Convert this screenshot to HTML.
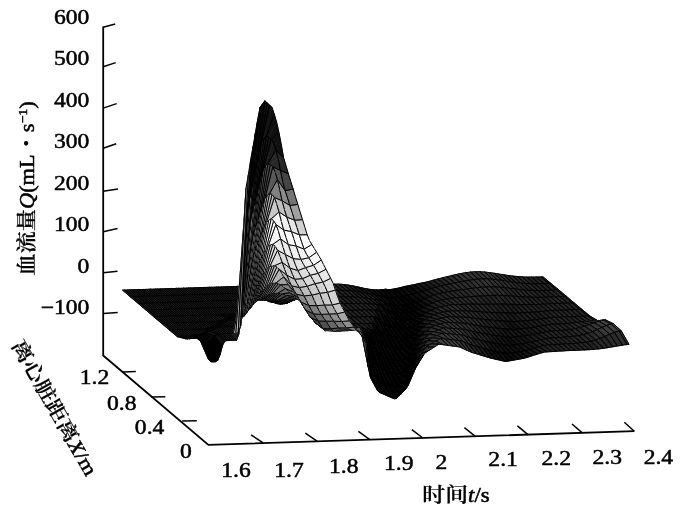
<!DOCTYPE html>
<html lang="zh"><head><meta charset="utf-8"><title>血流量</title>
<style>
html,body{margin:0;padding:0;background:#fff}
body{width:700px;height:517px;overflow:hidden}
svg{display:block}
text{font-family:"Liberation Serif","Noto Serif CJK SC",serif;fill:#000;stroke:#000;stroke-width:0.5}
.l{fill:none;stroke:#000;stroke-width:1}
.g0{fill:#000000;stroke:#000000}.g4{fill:#040404;stroke:#040404}.g8{fill:#080808;stroke:#080808}.gc{fill:#0c0c0c;stroke:#0c0c0c}.g10{fill:#101010;stroke:#101010}.g14{fill:#141414;stroke:#141414}.g18{fill:#181818;stroke:#181818}.g1c{fill:#1c1c1c;stroke:#1c1c1c}.g20{fill:#202020;stroke:#202020}.g24{fill:#242424;stroke:#242424}.g28{fill:#282828;stroke:#282828}.g2c{fill:#2c2c2c;stroke:#2c2c2c}.g30{fill:#303030;stroke:#303030}.g34{fill:#343434;stroke:#343434}.g38{fill:#383838;stroke:#383838}.g3c{fill:#3c3c3c;stroke:#3c3c3c}.g40{fill:#404040;stroke:#404040}.g44{fill:#444444;stroke:#444444}.g48{fill:#484848;stroke:#484848}.g4c{fill:#4c4c4c;stroke:#4c4c4c}.g50{fill:#505050;stroke:#505050}.g54{fill:#545454;stroke:#545454}.g58{fill:#585858;stroke:#585858}.g60{fill:#606060;stroke:#606060}.g64{fill:#646464;stroke:#646464}.g68{fill:#686868;stroke:#686868}.g6c{fill:#6c6c6c;stroke:#6c6c6c}.g70{fill:#707070;stroke:#707070}.g74{fill:#747474;stroke:#747474}.g78{fill:#787878;stroke:#787878}.g7c{fill:#7c7c7c;stroke:#7c7c7c}.g80{fill:#808080;stroke:#808080}.g84{fill:#848484;stroke:#848484}.g88{fill:#888888;stroke:#888888}.g8c{fill:#8c8c8c;stroke:#8c8c8c}.g90{fill:#909090;stroke:#909090}.g98{fill:#989898;stroke:#989898}.ga0{fill:#a0a0a0;stroke:#a0a0a0}.ga4{fill:#a4a4a4;stroke:#a4a4a4}.ga8{fill:#a8a8a8;stroke:#a8a8a8}.gac{fill:#acacac;stroke:#acacac}.gb0{fill:#b0b0b0;stroke:#b0b0b0}.gb4{fill:#b4b4b4;stroke:#b4b4b4}.gb8{fill:#b8b8b8;stroke:#b8b8b8}.gbc{fill:#bcbcbc;stroke:#bcbcbc}.gc0{fill:#c0c0c0;stroke:#c0c0c0}.gc4{fill:#c4c4c4;stroke:#c4c4c4}.gc8{fill:#c8c8c8;stroke:#c8c8c8}.gcc{fill:#cccccc;stroke:#cccccc}.gd0{fill:#d0d0d0;stroke:#d0d0d0}.gd4{fill:#d4d4d4;stroke:#d4d4d4}.gd8{fill:#d8d8d8;stroke:#d8d8d8}.gdc{fill:#dcdcdc;stroke:#dcdcdc}.ge0{fill:#e0e0e0;stroke:#e0e0e0}.ge4{fill:#e4e4e4;stroke:#e4e4e4}.ge8{fill:#e8e8e8;stroke:#e8e8e8}.gec{fill:#ececec;stroke:#ececec}.gf0{fill:#f0f0f0;stroke:#f0f0f0}.gf4{fill:#f4f4f4;stroke:#f4f4f4}.gf8{fill:#f8f8f8;stroke:#f8f8f8}.gfc{fill:#fcfcfc;stroke:#fcfcfc}.gff{fill:#ffffff;stroke:#ffffff}
.cj{font-family:"Liberation Serif","Noto Serif CJK SC",serif;font-weight:600;stroke-width:0.2}
</style></head><body>
<svg width="700" height="517" viewBox="0 0 700 517">
<rect width="700" height="517" fill="#fff"/>
<g stroke-width=".7" stroke-linejoin="round">
<path d="M548.8,283.5 550.9,283.4 543.1,276.9 541,276.9z" class="g1c"/><path d="M548.8,283.5 550.9,283.4M541,276.9 543.1,276.9M548.8,283.5 541,276.9M550.9,283.4 543.1,276.9" class="l"/>
<path d="M546.5,283.6 548.8,283.5 541,276.9 538.7,277z" class="g1c"/><path d="M546.5,283.6 548.8,283.5M538.7,277 541,276.9M548.8,283.5 541,276.9" class="l"/>
<path d="M544.1,283.7 546.5,283.6 538.7,277 536.3,277z" class="g1c"/><path d="M544.1,283.7 546.5,283.6M536.3,277 538.7,277M544.1,283.7 536.3,277" class="l"/>
<path d="M541.8,283.8 544.1,283.7 536.3,277 534,277.1z" class="g1c"/><path d="M541.8,283.8 544.1,283.7M534,277.1 536.3,277M544.1,283.7 536.3,277" class="l"/>
<path d="M539.4,283.8 541.8,283.8 534,277.1 531.6,277.1z" class="g1c"/><path d="M539.4,283.8 541.8,283.8M531.6,277.1 534,277.1M539.4,283.8 531.6,277.1" class="l"/>
<path d="M537.1,283.8 539.4,283.8 531.6,277.1 529.3,277.1z" class="g1c"/><path d="M537.1,283.8 539.4,283.8M529.3,277.1 531.6,277.1M539.4,283.8 531.6,277.1" class="l"/>
<path d="M534.7,283.8 537.1,283.8 529.3,277.1 526.9,277.1z" class="g1c"/><path d="M534.7,283.8 537.1,283.8M526.9,277.1 529.3,277.1M534.7,283.8 526.9,277.1" class="l"/>
<path d="M532.4,283.8 534.7,283.8 526.9,277.1 524.6,277z" class="g20"/><path d="M532.4,283.8 534.7,283.8M524.6,277 526.9,277.1M534.7,283.8 526.9,277.1" class="l"/>
<path d="M530,283.7 532.4,283.8 524.6,277 522.2,276.9z" class="g20"/><path d="M530,283.7 532.4,283.8M522.2,276.9 524.6,277M530,283.7 522.2,276.9" class="l"/>
<path d="M527.7,283.6 530,283.7 522.2,276.9 519.9,276.7z" class="g20"/><path d="M527.7,283.6 530,283.7M519.9,276.7 522.2,276.9M530,283.7 522.2,276.9" class="l"/>
<path d="M525.3,283.5 527.7,283.6 519.9,276.7 517.5,276.5z" class="g20"/><path d="M525.3,283.5 527.7,283.6M517.5,276.5 519.9,276.7M525.3,283.5 517.5,276.5" class="l"/>
<path d="M523,283.4 525.3,283.5 517.5,276.5 515.2,276.3z" class="g20"/><path d="M523,283.4 525.3,283.5M515.2,276.3 517.5,276.5M525.3,283.5 517.5,276.5" class="l"/>
<path d="M520.6,283.1 523,283.4 515.2,276.3 512.8,276.1z" class="g20"/><path d="M520.6,283.1 523,283.4M512.8,276.1 515.2,276.3M520.6,283.1 512.8,276.1" class="l"/>
<path d="M518.3,282.9 520.6,283.1 512.8,276.1 510.5,275.8z" class="g24"/><path d="M518.3,282.9 520.6,283.1M510.5,275.8 512.8,276.1M520.6,283.1 512.8,276.1" class="l"/>
<path d="M515.9,282.6 518.3,282.9 510.5,275.8 508.1,275.5z" class="g24"/><path d="M515.9,282.6 518.3,282.9M508.1,275.5 510.5,275.8M515.9,282.6 508.1,275.5" class="l"/>
<path d="M513.6,282.2 515.9,282.6 508.1,275.5 505.8,275.1z" class="g24"/><path d="M513.6,282.2 515.9,282.6M505.8,275.1 508.1,275.5M515.9,282.6 508.1,275.5" class="l"/>
<path d="M511.2,281.9 513.6,282.2 505.8,275.1 503.4,274.7z" class="g24"/><path d="M511.2,281.9 513.6,282.2M503.4,274.7 505.8,275.1M511.2,281.9 503.4,274.7" class="l"/>
<path d="M508.9,281.5 511.2,281.9 503.4,274.7 501.1,274.4z" class="g28"/><path d="M508.9,281.5 511.2,281.9M501.1,274.4 503.4,274.7M511.2,281.9 503.4,274.7" class="l"/>
<path d="M506.5,281.2 508.9,281.5 501.1,274.4 498.7,274z" class="g28"/><path d="M506.5,281.2 508.9,281.5M498.7,274 501.1,274.4M506.5,281.2 498.7,274" class="l"/>
<path d="M504.2,280.8 506.5,281.2 498.7,274 496.4,273.6z" class="g28"/><path d="M504.2,280.8 506.5,281.2M496.4,273.6 498.7,274M506.5,281.2 498.7,274" class="l"/>
<path d="M501.8,280.4 504.2,280.8 496.4,273.6 494,273.2z" class="g28"/><path d="M501.8,280.4 504.2,280.8M494,273.2 496.4,273.6M501.8,280.4 494,273.2" class="l"/>
<path d="M499.5,280.1 501.8,280.4 494,273.2 491.7,272.9z" class="g2c"/><path d="M499.5,280.1 501.8,280.4M491.7,272.9 494,273.2M501.8,280.4 494,273.2" class="l"/>
<path d="M497.1,279.8 499.5,280.1 491.7,272.9 489.3,272.6z" class="g2c"/><path d="M497.1,279.8 499.5,280.1M489.3,272.6 491.7,272.9M497.1,279.8 489.3,272.6" class="l"/>
<path d="M494.8,279.5 497.1,279.8 489.3,272.6 487,272.3z" class="g30"/><path d="M494.8,279.5 497.1,279.8M487,272.3 489.3,272.6M497.1,279.8 489.3,272.6" class="l"/>
<path d="M492.4,279.3 494.8,279.5 487,272.3 484.6,272z" class="g30"/><path d="M492.4,279.3 494.8,279.5M484.6,272 487,272.3M492.4,279.3 484.6,272" class="l"/>
<path d="M490.1,279.1 492.4,279.3 484.6,272 482.2,271.9z" class="g30"/><path d="M490.1,279.1 492.4,279.3M482.2,271.9 484.6,272M492.4,279.3 484.6,272" class="l"/>
<path d="M487.7,279 490.1,279.1 482.2,271.9 479.9,271.7z" class="g30"/><path d="M487.7,279 490.1,279.1M479.9,271.7 482.2,271.9M487.7,279 479.9,271.7" class="l"/>
<path d="M485.4,278.9 487.7,279 479.9,271.7 477.5,271.7z" class="g30"/><path d="M485.4,278.9 487.7,279M477.5,271.7 479.9,271.7M487.7,279 479.9,271.7" class="l"/>
<path d="M483,278.9 485.4,278.9 477.5,271.7 475.2,271.8z" class="g30"/><path d="M483,278.9 485.4,278.9M475.2,271.8 477.5,271.7M483,278.9 475.2,271.8" class="l"/>
<path d="M480.7,279 483,278.9 475.2,271.8 472.8,271.9z" class="g30"/><path d="M480.7,279 483,278.9M472.8,271.9 475.2,271.8M483,278.9 475.2,271.8" class="l"/>
<path d="M478.3,279.1 480.7,279 472.8,271.9 470.5,272.1z" class="g30"/><path d="M478.3,279.1 480.7,279M470.5,272.1 472.8,271.9M478.3,279.1 470.5,272.1" class="l"/>
<path d="M476,279.3 478.3,279.1 470.5,272.1 468.1,272.4z" class="g30"/><path d="M476,279.3 478.3,279.1M468.1,272.4 470.5,272.1M478.3,279.1 470.5,272.1" class="l"/>
<path d="M473.6,279.6 476,279.3 468.1,272.4 465.8,272.7z" class="g30"/><path d="M473.6,279.6 476,279.3M465.8,272.7 468.1,272.4M473.6,279.6 465.8,272.7" class="l"/>
<path d="M471.2,280 473.6,279.6 465.8,272.7 463.4,273.1z" class="g30"/><path d="M471.2,280 473.6,279.6M463.4,273.1 465.8,272.7M473.6,279.6 465.8,272.7" class="l"/>
<path d="M468.9,280.3 471.2,280 463.4,273.1 461.1,273.5z" class="g30"/><path d="M468.9,280.3 471.2,280M461.1,273.5 463.4,273.1M468.9,280.3 461.1,273.5" class="l"/>
<path d="M466.5,280.7 468.9,280.3 461.1,273.5 458.7,273.9z" class="g2c"/><path d="M466.5,280.7 468.9,280.3M458.7,273.9 461.1,273.5M468.9,280.3 461.1,273.5" class="l"/>
<path d="M464.2,281.1 466.5,280.7 458.7,273.9 456.4,274.5z" class="g2c"/><path d="M464.2,281.1 466.5,280.7M456.4,274.5 458.7,273.9M464.2,281.1 456.4,274.5" class="l"/>
<path d="M461.8,281.6 464.2,281.1 456.4,274.5 454,275z" class="g28"/><path d="M461.8,281.6 464.2,281.1M454,275 456.4,274.5M464.2,281.1 456.4,274.5" class="l"/>
<path d="M459.5,282 461.8,281.6 454,275 451.7,275.6z" class="g28"/><path d="M459.5,282 461.8,281.6M451.7,275.6 454,275M459.5,282 451.7,275.6" class="l"/>
<path d="M457.1,282.4 459.5,282 451.7,275.6 449.3,276.2z" class="g28"/><path d="M457.1,282.4 459.5,282M449.3,276.2 451.7,275.6M459.5,282 451.7,275.6" class="l"/>
<path d="M454.8,282.9 457.1,282.4 449.3,276.2 447,276.7z" class="g28"/><path d="M454.8,282.9 457.1,282.4M447,276.7 449.3,276.2M454.8,282.9 447,276.7" class="l"/>
<path d="M452.4,283.4 454.8,282.9 447,276.7 444.6,277.3z" class="g24"/><path d="M452.4,283.4 454.8,282.9M444.6,277.3 447,276.7M454.8,282.9 447,276.7" class="l"/>
<path d="M450.1,284 452.4,283.4 444.6,277.3 442.3,277.9z" class="g24"/><path d="M450.1,284 452.4,283.4M442.3,277.9 444.6,277.3M450.1,284 442.3,277.9" class="l"/>
<path d="M447.7,284.5 450.1,284 442.3,277.9 439.9,278.5z" class="g20"/><path d="M447.7,284.5 450.1,284M439.9,278.5 442.3,277.9M450.1,284 442.3,277.9" class="l"/>
<path d="M445.4,284.9 447.7,284.5 439.9,278.5 437.6,279.1z" class="g20"/><path d="M445.4,284.9 447.7,284.5M437.6,279.1 439.9,278.5M445.4,284.9 437.6,279.1" class="l"/>
<path d="M443,285.4 445.4,284.9 437.6,279.1 435.2,279.7z" class="g20"/><path d="M443,285.4 445.4,284.9M435.2,279.7 437.6,279.1M445.4,284.9 437.6,279.1" class="l"/>
<path d="M440.7,285.9 443,285.4 435.2,279.7 432.9,280.3z" class="g20"/><path d="M440.7,285.9 443,285.4M432.9,280.3 435.2,279.7M440.7,285.9 432.9,280.3" class="l"/>
<path d="M438.3,286.5 440.7,285.9 432.9,280.3 430.5,281z" class="g1c"/><path d="M438.3,286.5 440.7,285.9M430.5,281 432.9,280.3M440.7,285.9 432.9,280.3" class="l"/>
<path d="M436,287.2 438.3,286.5 430.5,281 428.2,281.6z" class="g1c"/><path d="M436,287.2 438.3,286.5M428.2,281.6 430.5,281M436,287.2 428.2,281.6" class="l"/>
<path d="M433.6,287.8 436,287.2 428.2,281.6 425.8,282.2z" class="g18"/><path d="M433.6,287.8 436,287.2M425.8,282.2 428.2,281.6M436,287.2 428.2,281.6" class="l"/>
<path d="M431.3,288.5 433.6,287.8 425.8,282.2 423.5,282.7z" class="g18"/><path d="M431.3,288.5 433.6,287.8M423.5,282.7 425.8,282.2M431.3,288.5 423.5,282.7" class="l"/>
<path d="M428.9,289.3 431.3,288.5 423.5,282.7 421.1,283.1z" class="g14"/><path d="M428.9,289.3 431.3,288.5M421.1,283.1 423.5,282.7M431.3,288.5 423.5,282.7" class="l"/>
<path d="M426.6,290.1 428.9,289.3 421.1,283.1 418.8,283.6z" class="g14"/><path d="M426.6,290.1 428.9,289.3M418.8,283.6 421.1,283.1M426.6,290.1 418.8,283.6" class="l"/>
<path d="M424.2,290.9 426.6,290.1 418.8,283.6 416.4,284.1z" class="g10"/><path d="M424.2,290.9 426.6,290.1M416.4,284.1 418.8,283.6M426.6,290.1 418.8,283.6" class="l"/>
<path d="M421.9,291.5 424.2,290.9 416.4,284.1 414.1,284.7z" class="g10"/><path d="M421.9,291.5 424.2,290.9M414.1,284.7 416.4,284.1M421.9,291.5 414.1,284.7" class="l"/>
<path d="M419.5,292.1 421.9,291.5 414.1,284.7 411.7,285.1z" class="gc"/><path d="M419.5,292.1 421.9,291.5M411.7,285.1 414.1,284.7M421.9,291.5 414.1,284.7" class="l"/>
<path d="M417.2,292.8 419.5,292.1 411.7,285.1 409.4,285.5z" class="gc"/><path d="M417.2,292.8 419.5,292.1M409.4,285.5 411.7,285.1M417.2,292.8 409.4,285.5" class="l"/>
<path d="M414.8,293.5 417.2,292.8 409.4,285.5 407,286z" class="g8"/><path d="M414.8,293.5 417.2,292.8M407,286 409.4,285.5M417.2,292.8 409.4,285.5" class="l"/>
<path d="M412.5,294.2 414.8,293.5 407,286 404.7,286.5z" class="g8"/><path d="M412.5,294.2 414.8,293.5M404.7,286.5 407,286M412.5,294.2 404.7,286.5" class="l"/>
<path d="M556.7,289.9 558.7,289.8 550.9,283.4 548.8,283.5z" class="g1c"/><path d="M556.7,289.9 558.7,289.8M548.8,283.5 550.9,283.4M556.7,289.9 548.8,283.5M558.7,289.8 550.9,283.4" class="l"/>
<path d="M410.1,294.7 412.5,294.2 404.7,286.5 402.3,287.1z" class="g8"/><path d="M410.1,294.7 412.5,294.2M402.3,287.1 404.7,286.5M412.5,294.2 404.7,286.5" class="l"/>
<path d="M554.3,290.1 556.7,289.9 548.8,283.5 546.5,283.6z" class="g1c"/><path d="M554.3,290.1 556.7,289.9M546.5,283.6 548.8,283.5M556.7,289.9 548.8,283.5" class="l"/>
<path d="M407.8,295.3 410.1,294.7 402.3,287.1 399.9,287.7z" class="g8"/><path d="M407.8,295.3 410.1,294.7M399.9,287.7 402.3,287.1M407.8,295.3 399.9,287.7" class="l"/>
<path d="M552,290.2 554.3,290.1 546.5,283.6 544.1,283.7z" class="g1c"/><path d="M552,290.2 554.3,290.1M544.1,283.7 546.5,283.6M552,290.2 544.1,283.7" class="l"/>
<path d="M405.4,295.8 407.8,295.3 399.9,287.7 397.6,288.3z" class="g4"/><path d="M405.4,295.8 407.8,295.3M397.6,288.3 399.9,287.7M407.8,295.3 399.9,287.7" class="l"/>
<path d="M403.1,296.4 405.4,295.8 397.6,288.3 395.2,288.7z" class="g4"/><path d="M403.1,296.4 405.4,295.8M395.2,288.7 397.6,288.3M403.1,296.4 395.2,288.7" class="l"/>
<path d="M549.6,290.3 552,290.2 544.1,283.7 541.8,283.8z" class="g1c"/><path d="M549.6,290.3 552,290.2M541.8,283.8 544.1,283.7M552,290.2 544.1,283.7" class="l"/>
<path d="M400.7,296.9 403.1,296.4 395.2,288.7 392.9,289.1z" class="g0"/><path d="M400.7,296.9 403.1,296.4M392.9,289.1 395.2,288.7M403.1,296.4 395.2,288.7" class="l"/>
<path d="M547.3,290.4 549.6,290.3 541.8,283.8 539.4,283.8z" class="g1c"/><path d="M547.3,290.4 549.6,290.3M539.4,283.8 541.8,283.8M547.3,290.4 539.4,283.8" class="l"/>
<path d="M398.4,297.4 400.7,296.9 392.9,289.1 390.5,289.5z" class="g0"/><path d="M398.4,297.4 400.7,296.9M390.5,289.5 392.9,289.1M398.4,297.4 390.5,289.5" class="l"/>
<path d="M544.9,290.4 547.3,290.4 539.4,283.8 537.1,283.8z" class="g1c"/><path d="M544.9,290.4 547.3,290.4M537.1,283.8 539.4,283.8M547.3,290.4 539.4,283.8" class="l"/>
<path d="M396,297.8 398.4,297.4 390.5,289.5 388.2,289.7z" class="g0"/><path d="M396,297.8 398.4,297.4M388.2,289.7 390.5,289.5M398.4,297.4 390.5,289.5" class="l"/>
<path d="M542.5,290.5 544.9,290.4 537.1,283.8 534.7,283.8z" class="g1c"/><path d="M542.5,290.5 544.9,290.4M534.7,283.8 537.1,283.8M542.5,290.5 534.7,283.8" class="l"/>
<path d="M393.7,298 396,297.8 388.2,289.7 385.8,289.1z" class="g0"/><path d="M393.7,298 396,297.8M385.8,289.1 388.2,289.7M393.7,298 385.8,289.1" class="l"/>
<path d="M540.2,290.6 542.5,290.5 534.7,283.8 532.4,283.8z" class="g1c"/><path d="M540.2,290.6 542.5,290.5M532.4,283.8 534.7,283.8M542.5,290.5 534.7,283.8" class="l"/>
<path d="M391.3,298 393.7,298 385.8,289.1 383.5,289.5z" class="g0"/><path d="M391.3,298 393.7,298M383.5,289.5 385.8,289.1M393.7,298 385.8,289.1" class="l"/>
<path d="M537.8,290.5 540.2,290.6 532.4,283.8 530,283.7z" class="g1c"/><path d="M537.8,290.5 540.2,290.6M530,283.7 532.4,283.8M537.8,290.5 530,283.7" class="l"/>
<path d="M388.9,297.9 391.3,298 383.5,289.5 381.1,289.8z" class="g0"/><path d="M388.9,297.9 391.3,298M381.1,289.8 383.5,289.5M388.9,297.9 381.1,289.8" class="l"/>
<path d="M535.5,290.5 537.8,290.5 530,283.7 527.7,283.6z" class="g20"/><path d="M535.5,290.5 537.8,290.5M527.7,283.6 530,283.7M537.8,290.5 530,283.7" class="l"/>
<path d="M386.6,297.6 388.9,297.9 381.1,289.8 378.8,289.9z" class="g8"/><path d="M386.6,297.6 388.9,297.9M378.8,289.9 381.1,289.8M388.9,297.9 381.1,289.8" class="l"/>
<path d="M533.1,290.4 535.5,290.5 527.7,283.6 525.3,283.5z" class="g20"/><path d="M533.1,290.4 535.5,290.5M525.3,283.5 527.7,283.6M533.1,290.4 525.3,283.5" class="l"/>
<path d="M384.2,296.2 386.6,297.6 378.8,289.9 376.4,289.9z" class="g8"/><path d="M384.2,296.2 386.6,297.6M376.4,289.9 378.8,289.9M384.2,296.2 376.4,289.9" class="l"/>
<path d="M530.8,290.4 533.1,290.4 525.3,283.5 523,283.4z" class="g20"/><path d="M530.8,290.4 533.1,290.4M523,283.4 525.3,283.5M533.1,290.4 525.3,283.5" class="l"/>
<path d="M381.9,296 384.2,296.2 376.4,289.9 374.1,289.8z" class="g8"/><path d="M381.9,296 384.2,296.2M374.1,289.8 376.4,289.9M384.2,296.2 376.4,289.9" class="l"/>
<path d="M528.4,290.2 530.8,290.4 523,283.4 520.6,283.1z" class="g20"/><path d="M528.4,290.2 530.8,290.4M520.6,283.1 523,283.4M528.4,290.2 520.6,283.1" class="l"/>
<path d="M379.5,295.8 381.9,296 374.1,289.8 371.7,289.6z" class="g8"/><path d="M379.5,295.8 381.9,296M371.7,289.6 374.1,289.8M379.5,295.8 371.7,289.6" class="l"/>
<path d="M526.1,290.1 528.4,290.2 520.6,283.1 518.3,282.9z" class="g20"/><path d="M526.1,290.1 528.4,290.2M518.3,282.9 520.6,283.1M528.4,290.2 520.6,283.1" class="l"/>
<path d="M377.2,295.5 379.5,295.8 371.7,289.6 369.4,289.3z" class="g8"/><path d="M377.2,295.5 379.5,295.8M369.4,289.3 371.7,289.6M379.5,295.8 371.7,289.6" class="l"/>
<path d="M523.7,290 526.1,290.1 518.3,282.9 515.9,282.6z" class="g20"/><path d="M523.7,290 526.1,290.1M515.9,282.6 518.3,282.9M523.7,290 515.9,282.6" class="l"/>
<path d="M374.8,295.1 377.2,295.5 369.4,289.3 367,288.9z" class="g8"/><path d="M374.8,295.1 377.2,295.5M367,288.9 369.4,289.3M374.8,295.1 367,288.9" class="l"/>
<path d="M521.4,289.8 523.7,290 515.9,282.6 513.6,282.2z" class="g20"/><path d="M521.4,289.8 523.7,290M513.6,282.2 515.9,282.6M523.7,290 515.9,282.6" class="l"/>
<path d="M372.5,294.7 374.8,295.1 367,288.9 364.7,288.5z" class="g10"/><path d="M372.5,294.7 374.8,295.1M364.7,288.5 367,288.9M374.8,295.1 367,288.9" class="l"/>
<path d="M519,289.5 521.4,289.8 513.6,282.2 511.2,281.9z" class="g20"/><path d="M519,289.5 521.4,289.8M511.2,281.9 513.6,282.2M519,289.5 511.2,281.9" class="l"/>
<path d="M370.1,294.2 372.5,294.7 364.7,288.5 362.3,288z" class="g10"/><path d="M370.1,294.2 372.5,294.7M362.3,288 364.7,288.5M370.1,294.2 362.3,288" class="l"/>
<path d="M516.7,289.2 519,289.5 511.2,281.9 508.9,281.5z" class="g24"/><path d="M516.7,289.2 519,289.5M508.9,281.5 511.2,281.9M519,289.5 511.2,281.9" class="l"/>
<path d="M367.8,293.8 370.1,294.2 362.3,288 360,287.4z" class="g10"/><path d="M367.8,293.8 370.1,294.2M360,287.4 362.3,288M370.1,294.2 362.3,288" class="l"/>
<path d="M514.3,288.9 516.7,289.2 508.9,281.5 506.5,281.2z" class="g24"/><path d="M514.3,288.9 516.7,289.2M506.5,281.2 508.9,281.5M514.3,288.9 506.5,281.2" class="l"/>
<path d="M365.4,293.3 367.8,293.8 360,287.4 357.6,286.9z" class="g10"/><path d="M365.4,293.3 367.8,293.8M357.6,286.9 360,287.4M365.4,293.3 357.6,286.9" class="l"/>
<path d="M512,288.5 514.3,288.9 506.5,281.2 504.2,280.8z" class="g28"/><path d="M512,288.5 514.3,288.9M504.2,280.8 506.5,281.2M514.3,288.9 506.5,281.2" class="l"/>
<path d="M363.1,292.8 365.4,293.3 357.6,286.9 355.3,286.4z" class="g14"/><path d="M363.1,292.8 365.4,293.3M355.3,286.4 357.6,286.9M365.4,293.3 357.6,286.9" class="l"/>
<path d="M509.6,288.2 512,288.5 504.2,280.8 501.8,280.4z" class="g28"/><path d="M509.6,288.2 512,288.5M501.8,280.4 504.2,280.8M509.6,288.2 501.8,280.4" class="l"/>
<path d="M360.7,292.3 363.1,292.8 355.3,286.4 352.9,285.9z" class="g14"/><path d="M360.7,292.3 363.1,292.8M352.9,285.9 355.3,286.4M360.7,292.3 352.9,285.9" class="l"/>
<path d="M507.3,288 509.6,288.2 501.8,280.4 499.5,280.1z" class="g28"/><path d="M507.3,288 509.6,288.2M499.5,280.1 501.8,280.4M509.6,288.2 501.8,280.4" class="l"/>
<path d="M504.9,287.7 507.3,288 499.5,280.1 497.1,279.8z" class="g28"/><path d="M504.9,287.7 507.3,288M497.1,279.8 499.5,280.1M504.9,287.7 497.1,279.8" class="l"/>
<path d="M358.4,291.9 360.7,292.3 352.9,285.9 350.6,285.5z" class="g18"/><path d="M358.4,291.9 360.7,292.3M350.6,285.5 352.9,285.9M360.7,292.3 352.9,285.9" class="l"/>
<path d="M502.6,287.4 504.9,287.7 497.1,279.8 494.8,279.5z" class="g2c"/><path d="M502.6,287.4 504.9,287.7M494.8,279.5 497.1,279.8M504.9,287.7 497.1,279.8" class="l"/>
<path d="M356,291.6 358.4,291.9 350.6,285.5 348.2,285.1z" class="g18"/><path d="M356,291.6 358.4,291.9M348.2,285.1 350.6,285.5M356,291.6 348.2,285.1" class="l"/>
<path d="M500.2,287.2 502.6,287.4 494.8,279.5 492.4,279.3z" class="g2c"/><path d="M500.2,287.2 502.6,287.4M492.4,279.3 494.8,279.5M500.2,287.2 492.4,279.3" class="l"/>
<path d="M353.7,291.3 356,291.6 348.2,285.1 345.9,284.7z" class="g18"/><path d="M353.7,291.3 356,291.6M345.9,284.7 348.2,285.1M356,291.6 348.2,285.1" class="l"/>
<path d="M497.9,287.1 500.2,287.2 492.4,279.3 490.1,279.1z" class="g2c"/><path d="M497.9,287.1 500.2,287.2M490.1,279.1 492.4,279.3M500.2,287.2 492.4,279.3" class="l"/>
<path d="M351.3,291 353.7,291.3 345.9,284.7 343.5,284.5z" class="g18"/><path d="M351.3,291 353.7,291.3M343.5,284.5 345.9,284.7M351.3,291 343.5,284.5" class="l"/>
<path d="M495.5,287 497.9,287.1 490.1,279.1 487.7,279z" class="g2c"/><path d="M495.5,287 497.9,287.1M487.7,279 490.1,279.1M495.5,287 487.7,279" class="l"/>
<path d="M349,290.8 351.3,291 343.5,284.5 341.2,284.2z" class="g1c"/><path d="M349,290.8 351.3,291M341.2,284.2 343.5,284.5M351.3,291 343.5,284.5" class="l"/>
<path d="M493.2,286.9 495.5,287 487.7,279 485.4,278.9z" class="g2c"/><path d="M493.2,286.9 495.5,287M485.4,278.9 487.7,279M495.5,287 487.7,279" class="l"/>
<path d="M346.6,290.6 349,290.8 341.2,284.2 338.8,284.2z" class="g1c"/><path d="M346.6,290.6 349,290.8M338.8,284.2 341.2,284.2M346.6,290.6 338.8,284.2" class="l"/>
<path d="M490.8,286.9 493.2,286.9 485.4,278.9 483,278.9z" class="g2c"/><path d="M490.8,286.9 493.2,286.9M483,278.9 485.4,278.9M490.8,286.9 483,278.9" class="l"/>
<path d="M344.3,290.5 346.6,290.6 338.8,284.2 336.5,284.2z" class="g1c"/><path d="M344.3,290.5 346.6,290.6M336.5,284.2 338.8,284.2M346.6,290.6 338.8,284.2" class="l"/>
<path d="M488.5,286.9 490.8,286.9 483,278.9 480.7,279z" class="g2c"/><path d="M488.5,286.9 490.8,286.9M480.7,279 483,278.9M490.8,286.9 483,278.9" class="l"/>
<path d="M341.9,290.4 344.3,290.5 336.5,284.2 334.1,284.1z" class="g1c"/><path d="M341.9,290.4 344.3,290.5M334.1,284.1 336.5,284.2M341.9,290.4 334.1,284.1" class="l"/>
<path d="M486.1,287 488.5,286.9 480.7,279 478.3,279.1z" class="g2c"/><path d="M486.1,287 488.5,286.9M478.3,279.1 480.7,279M486.1,287 478.3,279.1" class="l"/>
<path d="M339.6,290.4 341.9,290.4 334.1,284.1 331.8,284.4z" class="g1c"/><path d="M339.6,290.4 341.9,290.4M331.8,284.4 334.1,284.1M341.9,290.4 334.1,284.1" class="l"/>
<path d="M483.8,287.2 486.1,287 478.3,279.1 476,279.3z" class="g2c"/><path d="M483.8,287.2 486.1,287M476,279.3 478.3,279.1M486.1,287 478.3,279.1" class="l"/>
<path d="M337.2,290.4 339.6,290.4 331.8,284.4 329.4,284.6z" class="g1c"/><path d="M337.2,290.4 339.6,290.4M329.4,284.6 331.8,284.4M337.2,290.4 329.4,284.6" class="l"/>
<path d="M481.4,287.3 483.8,287.2 476,279.3 473.6,279.6z" class="g2c"/><path d="M481.4,287.3 483.8,287.2M473.6,279.6 476,279.3M481.4,287.3 473.6,279.6" class="l"/>
<path d="M334.9,290.5 337.2,290.4 329.4,284.6 327.1,284.9z" class="g1c"/><path d="M334.9,290.5 337.2,290.4M327.1,284.9 329.4,284.6M337.2,290.4 329.4,284.6" class="l"/>
<path d="M479.1,287.5 481.4,287.3 473.6,279.6 471.2,280z" class="g2c"/><path d="M479.1,287.5 481.4,287.3M471.2,280 473.6,279.6M481.4,287.3 473.6,279.6" class="l"/>
<path d="M332.5,290.6 334.9,290.5 327.1,284.9 324.7,285.2z" class="g1c"/><path d="M332.5,290.6 334.9,290.5M324.7,285.2 327.1,284.9M332.5,290.6 324.7,285.2" class="l"/>
<path d="M476.7,287.7 479.1,287.5 471.2,280 468.9,280.3z" class="g2c"/><path d="M476.7,287.7 479.1,287.5M468.9,280.3 471.2,280M476.7,287.7 468.9,280.3" class="l"/>
<path d="M330.2,290.6 332.5,290.6 324.7,285.2 322.4,286.2z" class="g1c"/><path d="M330.2,290.6 332.5,290.6M322.4,286.2 324.7,285.2M332.5,290.6 324.7,285.2" class="l"/>
<path d="M474.4,288 476.7,287.7 468.9,280.3 466.5,280.7z" class="g28"/><path d="M474.4,288 476.7,287.7M466.5,280.7 468.9,280.3M476.7,287.7 468.9,280.3" class="l"/>
<path d="M327.8,290.9 330.2,290.6 322.4,286.2 320,286.9z" class="g1c"/><path d="M327.8,290.9 330.2,290.6M320,286.9 322.4,286.2M327.8,290.9 320,286.9" class="l"/>
<path d="M472,288.3 474.4,288 466.5,280.7 464.2,281.1z" class="g28"/><path d="M472,288.3 474.4,288M464.2,281.1 466.5,280.7M472,288.3 464.2,281.1" class="l"/>
<path d="M325.5,291.1 327.8,290.9 320,286.9 317.6,287.6z" class="g1c"/><path d="M325.5,291.1 327.8,290.9M317.6,287.6 320,286.9M327.8,290.9 320,286.9" class="l"/>
<path d="M469.7,288.7 472,288.3 464.2,281.1 461.8,281.6z" class="g28"/><path d="M469.7,288.7 472,288.3M461.8,281.6 464.2,281.1M472,288.3 464.2,281.1" class="l"/>
<path d="M323.1,291.4 325.5,291.1 317.6,287.6 315.3,288.6z" class="g1c"/><path d="M323.1,291.4 325.5,291.1M315.3,288.6 317.6,287.6M323.1,291.4 315.3,288.6" class="l"/>
<path d="M320.8,292 323.1,291.4 315.3,288.6 312.9,289.6z" class="g18"/><path d="M320.8,292 323.1,291.4M312.9,289.6 315.3,288.6M323.1,291.4 315.3,288.6" class="l"/>
<path d="M467.3,289 469.7,288.7 461.8,281.6 459.5,282z" class="g28"/><path d="M467.3,289 469.7,288.7M459.5,282 461.8,281.6M467.3,289 459.5,282" class="l"/>
<path d="M318.4,292.4 320.8,292 312.9,289.6 310.6,290.7z" class="g18"/><path d="M318.4,292.4 320.8,292M310.6,290.7 312.9,289.6M318.4,292.4 310.6,290.7" class="l"/>
<path d="M465,289.4 467.3,289 459.5,282 457.1,282.4z" class="g28"/><path d="M465,289.4 467.3,289M457.1,282.4 459.5,282M467.3,289 459.5,282" class="l"/>
<path d="M316.1,292.8 318.4,292.4 310.6,290.7 308.2,291.8z" class="g14"/><path d="M316.1,292.8 318.4,292.4M308.2,291.8 310.6,290.7M318.4,292.4 310.6,290.7" class="l"/>
<path d="M313.7,293.5 316.1,292.8 308.2,291.8 305.9,293.1z" class="g14"/><path d="M313.7,293.5 316.1,292.8M305.9,293.1 308.2,291.8M313.7,293.5 305.9,293.1" class="l"/>
<path d="M462.6,289.7 465,289.4 457.1,282.4 454.8,282.9z" class="g28"/><path d="M462.6,289.7 465,289.4M454.8,282.9 457.1,282.4M462.6,289.7 454.8,282.9" class="l"/>
<path d="M311.4,294.1 313.7,293.5 305.9,293.1 303.5,294.4z" class="g10"/><path d="M311.4,294.1 313.7,293.5M303.5,294.4 305.9,293.1M313.7,293.5 305.9,293.1" class="l"/>
<path d="M460.2,290 462.6,289.7 454.8,282.9 452.4,283.4z" class="g28"/><path d="M460.2,290 462.6,289.7M452.4,283.4 454.8,282.9M462.6,289.7 454.8,282.9" class="l"/>
<path d="M309,294.7 311.4,294.1 303.5,294.4 301.2,295.6z" class="g10"/><path d="M309,294.7 311.4,294.1M301.2,295.6 303.5,294.4M309,294.7 301.2,295.6" class="l"/>
<path d="M306.6,295.4 309,294.7 301.2,295.6 298.8,297z" class="g10"/><path d="M306.6,295.4 309,294.7M298.8,297 301.2,295.6M309,294.7 301.2,295.6" class="l"/>
<path d="M457.9,290.3 460.2,290 452.4,283.4 450.1,284z" class="g28"/><path d="M457.9,290.3 460.2,290M450.1,284 452.4,283.4M457.9,290.3 450.1,284" class="l"/>
<path d="M304.3,296.2 306.6,295.4 298.8,297 296.5,298.5z" class="g10"/><path d="M304.3,296.2 306.6,295.4M296.5,298.5 298.8,297M304.3,296.2 296.5,298.5" class="l"/>
<path d="M301.9,297 304.3,296.2 296.5,298.5 294.1,299.7z" class="g8"/><path d="M301.9,297 304.3,296.2M294.1,299.7 296.5,298.5M304.3,296.2 296.5,298.5" class="l"/>
<path d="M455.5,290.6 457.9,290.3 450.1,284 447.7,284.5z" class="g24"/><path d="M455.5,290.6 457.9,290.3M447.7,284.5 450.1,284M457.9,290.3 450.1,284" class="l"/>
<path d="M299.6,297.7 301.9,297 294.1,299.7 291.8,300.8z" class="g8"/><path d="M299.6,297.7 301.9,297M291.8,300.8 294.1,299.7M299.6,297.7 291.8,300.8" class="l"/>
<path d="M297.2,298.5 299.6,297.7 291.8,300.8 289.4,302.1z" class="g4"/><path d="M297.2,298.5 299.6,297.7M289.4,302.1 291.8,300.8M299.6,297.7 291.8,300.8" class="l"/>
<path d="M453.2,290.9 455.5,290.6 447.7,284.5 445.4,284.9z" class="g24"/><path d="M453.2,290.9 455.5,290.6M445.4,284.9 447.7,284.5M453.2,290.9 445.4,284.9" class="l"/>
<path d="M294.9,299.4 297.2,298.5 289.4,302.1 287.1,303.2z" class="g4"/><path d="M294.9,299.4 297.2,298.5M287.1,303.2 289.4,302.1M294.9,299.4 287.1,303.2" class="l"/>
<path d="M292.5,300.2 294.9,299.4 287.1,303.2 284.7,303.7z" class="g0"/><path d="M292.5,300.2 294.9,299.4M284.7,303.7 287.1,303.2M294.9,299.4 287.1,303.2" class="l"/>
<path d="M450.8,291.4 453.2,290.9 445.4,284.9 443,285.4z" class="g20"/><path d="M450.8,291.4 453.2,290.9M443,285.4 445.4,284.9M453.2,290.9 445.4,284.9" class="l"/>
<path d="M290.2,300.9 292.5,300.2 284.7,303.7 282.4,303.9z" class="g0"/><path d="M290.2,300.9 292.5,300.2M282.4,303.9 284.7,303.7M290.2,300.9 282.4,303.9" class="l"/>
<path d="M448.5,291.8 450.8,291.4 443,285.4 440.7,285.9z" class="g20"/><path d="M448.5,291.8 450.8,291.4M440.7,285.9 443,285.4M448.5,291.8 440.7,285.9" class="l"/>
<path d="M287.8,301.7 290.2,300.9 282.4,303.9 280,304.2z" class="g0"/><path d="M287.8,301.7 290.2,300.9M280,304.2 282.4,303.9M290.2,300.9 282.4,303.9" class="l"/>
<path d="M446.1,292.2 448.5,291.8 440.7,285.9 438.3,286.5z" class="g20"/><path d="M446.1,292.2 448.5,291.8M438.3,286.5 440.7,285.9M448.5,291.8 440.7,285.9" class="l"/>
<path d="M285.5,302.4 287.8,301.7 280,304.2 277.7,303.7z" class="g0"/><path d="M285.5,302.4 287.8,301.7M277.7,303.7 280,304.2M285.5,302.4 277.7,303.7" class="l"/>
<path d="M443.8,292.7 446.1,292.2 438.3,286.5 436,287.2z" class="g20"/><path d="M443.8,292.7 446.1,292.2M436,287.2 438.3,286.5M443.8,292.7 436,287.2" class="l"/>
<path d="M441.4,293.1 443.8,292.7 436,287.2 433.6,287.8z" class="g1c"/><path d="M441.4,293.1 443.8,292.7M433.6,287.8 436,287.2M443.8,292.7 436,287.2" class="l"/>
<path d="M283.1,302.8 285.5,302.4 277.7,303.7 275.3,302.6z" class="g0"/><path d="M283.1,302.8 285.5,302.4M275.3,302.6 277.7,303.7M283.1,302.8 275.3,302.6M285.5,302.4 277.7,303.7" class="l"/>
<path d="M439.1,293.6 441.4,293.1 433.6,287.8 431.3,288.5z" class="g1c"/><path d="M439.1,293.6 441.4,293.1M431.3,288.5 433.6,287.8M439.1,293.6 431.3,288.5" class="l"/>
<path d="M436.7,294.4 439.1,293.6 431.3,288.5 428.9,289.3z" class="g18"/><path d="M436.7,294.4 439.1,293.6M428.9,289.3 431.3,288.5M439.1,293.6 431.3,288.5" class="l"/>
<path d="M280.8,303 283.1,302.8 275.3,302.6 273,301.9z" class="g0"/><path d="M280.8,303 283.1,302.8M273,301.9 275.3,302.6M280.8,303 273,301.9M283.1,302.8 275.3,302.6" class="l"/>
<path d="M434.4,295.1 436.7,294.4 428.9,289.3 426.6,290.1z" class="g18"/><path d="M434.4,295.1 436.7,294.4M426.6,290.1 428.9,289.3M434.4,295.1 426.6,290.1" class="l"/>
<path d="M432,295.8 434.4,295.1 426.6,290.1 424.2,290.9z" class="g14"/><path d="M432,295.8 434.4,295.1M424.2,290.9 426.6,290.1M434.4,295.1 426.6,290.1" class="l"/>
<path d="M278.4,303.2 280.8,303 273,301.9 270.6,300.9z" class="g0"/><path d="M278.4,303.2 280.8,303M270.6,300.9 273,301.9M278.4,303.2 270.6,300.9M280.8,303 273,301.9" class="l"/>
<path d="M429.7,296.8 432,295.8 424.2,290.9 421.9,291.5z" class="g14"/><path d="M429.7,296.8 432,295.8M421.9,291.5 424.2,290.9M429.7,296.8 421.9,291.5" class="l"/>
<path d="M427.3,297.8 429.7,296.8 421.9,291.5 419.5,292.1z" class="g10"/><path d="M427.3,297.8 429.7,296.8M419.5,292.1 421.9,291.5M429.7,296.8 421.9,291.5" class="l"/>
<path d="M425,298.8 427.3,297.8 419.5,292.1 417.2,292.8z" class="g10"/><path d="M425,298.8 427.3,297.8M417.2,292.8 419.5,292.1M425,298.8 417.2,292.8" class="l"/>
<path d="M276.1,303 278.4,303.2 270.6,300.9 268.3,299.1z" class="g0"/><path d="M276.1,303 278.4,303.2M268.3,299.1 270.6,300.9M276.1,303 268.3,299.1M278.4,303.2 270.6,300.9" class="l"/>
<path d="M422.6,299.9 425,298.8 417.2,292.8 414.8,293.5z" class="g8"/><path d="M422.6,299.9 425,298.8M414.8,293.5 417.2,292.8M425,298.8 417.2,292.8" class="l"/>
<path d="M420.3,300.7 422.6,299.9 414.8,293.5 412.5,294.2z" class="g8"/><path d="M420.3,300.7 422.6,299.9M412.5,294.2 414.8,293.5M420.3,300.7 412.5,294.2" class="l"/>
<path d="M564.5,296.5 566.5,296.4 558.7,289.8 556.7,289.9z" class="g20"/><path d="M564.5,296.5 566.5,296.4M556.7,289.9 558.7,289.8M564.5,296.5 556.7,289.9M566.5,296.4 558.7,289.8" class="l"/>
<path d="M417.9,301.5 420.3,300.7 412.5,294.2 410.1,294.7z" class="g8"/><path d="M417.9,301.5 420.3,300.7M410.1,294.7 412.5,294.2M420.3,300.7 412.5,294.2" class="l"/>
<path d="M273.7,302.5 276.1,303 268.3,299.1 265.9,297.5z" class="g0"/><path d="M273.7,302.5 276.1,303M265.9,297.5 268.3,299.1M273.7,302.5 265.9,297.5M276.1,303 268.3,299.1" class="l"/>
<path d="M415.6,302.3 417.9,301.5 410.1,294.7 407.8,295.3z" class="g8"/><path d="M415.6,302.3 417.9,301.5M407.8,295.3 410.1,294.7M415.6,302.3 407.8,295.3" class="l"/>
<path d="M562.1,296.5 564.5,296.5 556.7,289.9 554.3,290.1z" class="g20"/><path d="M562.1,296.5 564.5,296.5M554.3,290.1 556.7,289.9M564.5,296.5 556.7,289.9" class="l"/>
<path d="M413.2,303.1 415.6,302.3 407.8,295.3 405.4,295.8z" class="g0"/><path d="M413.2,303.1 415.6,302.3M405.4,295.8 407.8,295.3M415.6,302.3 407.8,295.3" class="l"/>
<path d="M559.8,296.6 562.1,296.5 554.3,290.1 552,290.2z" class="g20"/><path d="M559.8,296.6 562.1,296.5M552,290.2 554.3,290.1M559.8,296.6 552,290.2" class="l"/>
<path d="M410.9,303.9 413.2,303.1 405.4,295.8 403.1,296.4z" class="g0"/><path d="M410.9,303.9 413.2,303.1M403.1,296.4 405.4,295.8M410.9,303.9 403.1,296.4" class="l"/>
<path d="M271.4,302 273.7,302.5 265.9,297.5 263.6,296.5z" class="g0"/><path d="M271.4,302 273.7,302.5M263.6,296.5 265.9,297.5M271.4,302 263.6,296.5M273.7,302.5 265.9,297.5" class="l"/>
<path d="M408.5,304.3 410.9,303.9 403.1,296.4 400.7,296.9z" class="g0"/><path d="M408.5,304.3 410.9,303.9M400.7,296.9 403.1,296.4M410.9,303.9 403.1,296.4" class="l"/>
<path d="M557.4,296.6 559.8,296.6 552,290.2 549.6,290.3z" class="g20"/><path d="M557.4,296.6 559.8,296.6M549.6,290.3 552,290.2M559.8,296.6 552,290.2" class="l"/>
<path d="M406.2,304.7 408.5,304.3 400.7,296.9 398.4,297.4z" class="g0"/><path d="M406.2,304.7 408.5,304.3M398.4,297.4 400.7,296.9M406.2,304.7 398.4,297.4" class="l"/>
<path d="M555.1,296.8 557.4,296.6 549.6,290.3 547.3,290.4z" class="g20"/><path d="M555.1,296.8 557.4,296.6M547.3,290.4 549.6,290.3M555.1,296.8 547.3,290.4" class="l"/>
<path d="M269,301.5 271.4,302 263.6,296.5 261.2,294z" class="g4"/><path d="M269,301.5 271.4,302M261.2,294 263.6,296.5M269,301.5 261.2,294M271.4,302 263.6,296.5" class="l"/>
<path d="M403.8,305 406.2,304.7 398.4,297.4 396,297.8z" class="g0"/><path d="M403.8,305 406.2,304.7M396,297.8 398.4,297.4M406.2,304.7 398.4,297.4" class="l"/>
<path d="M552.7,296.9 555.1,296.8 547.3,290.4 544.9,290.4z" class="g1c"/><path d="M552.7,296.9 555.1,296.8M544.9,290.4 547.3,290.4M555.1,296.8 547.3,290.4" class="l"/>
<path d="M401.5,305.3 403.8,305 396,297.8 393.7,298z" class="g0"/><path d="M401.5,305.3 403.8,305M393.7,298 396,297.8M401.5,305.3 393.7,298" class="l"/>
<path d="M550.4,297 552.7,296.9 544.9,290.4 542.5,290.5z" class="g1c"/><path d="M550.4,297 552.7,296.9M542.5,290.5 544.9,290.4M550.4,297 542.5,290.5" class="l"/>
<path d="M266.7,300.4 269,301.5 261.2,294 258.9,291.6z" class="g4"/><path d="M266.7,300.4 269,301.5M258.9,291.6 261.2,294M266.7,300.4 258.9,291.6M269,301.5 261.2,294" class="l"/>
<path d="M399.1,305.5 401.5,305.3 393.7,298 391.3,298z" class="g0"/><path d="M399.1,305.5 401.5,305.3M391.3,298 393.7,298M401.5,305.3 393.7,298" class="l"/>
<path d="M548,297.1 550.4,297 542.5,290.5 540.2,290.6z" class="g1c"/><path d="M548,297.1 550.4,297M540.2,290.6 542.5,290.5M550.4,297 542.5,290.5" class="l"/>
<path d="M396.8,305.6 399.1,305.5 391.3,298 388.9,297.9z" class="g0"/><path d="M396.8,305.6 399.1,305.5M388.9,297.9 391.3,298M396.8,305.6 388.9,297.9" class="l"/>
<path d="M545.7,297.2 548,297.1 540.2,290.6 537.8,290.5z" class="g1c"/><path d="M545.7,297.2 548,297.1M537.8,290.5 540.2,290.6M545.7,297.2 537.8,290.5" class="l"/>
<path d="M264.3,299.5 266.7,300.4 258.9,291.6 256.5,290.5z" class="g8"/><path d="M264.3,299.5 266.7,300.4M256.5,290.5 258.9,291.6M264.3,299.5 256.5,290.5M266.7,300.4 258.9,291.6" class="l"/>
<path d="M394.4,305.6 396.8,305.6 388.9,297.9 386.6,297.6z" class="g0"/><path d="M394.4,305.6 396.8,305.6M386.6,297.6 388.9,297.9M396.8,305.6 388.9,297.9" class="l"/>
<path d="M543.3,297.3 545.7,297.2 537.8,290.5 535.5,290.5z" class="g1c"/><path d="M543.3,297.3 545.7,297.2M535.5,290.5 537.8,290.5M545.7,297.2 537.8,290.5" class="l"/>
<path d="M392.1,305.2 394.4,305.6 386.6,297.6 384.2,296.2z" class="g0"/><path d="M392.1,305.2 394.4,305.6M384.2,296.2 386.6,297.6M392.1,305.2 384.2,296.2" class="l"/>
<path d="M262,298.8 264.3,299.5 256.5,290.5 254.2,289.5z" class="g8"/><path d="M262,298.8 264.3,299.5M254.2,289.5 256.5,290.5M262,298.8 254.2,289.5M264.3,299.5 256.5,290.5" class="l"/>
<path d="M541,297.3 543.3,297.3 535.5,290.5 533.1,290.4z" class="g1c"/><path d="M541,297.3 543.3,297.3M533.1,290.4 535.5,290.5M541,297.3 533.1,290.4" class="l"/>
<path d="M538.6,297.4 541,297.3 533.1,290.4 530.8,290.4z" class="g20"/><path d="M538.6,297.4 541,297.3M530.8,290.4 533.1,290.4M541,297.3 533.1,290.4" class="l"/>
<path d="M389.7,304.6 392.1,305.2 384.2,296.2 381.9,296z" class="g4"/><path d="M389.7,304.6 392.1,305.2M381.9,296 384.2,296.2M392.1,305.2 384.2,296.2" class="l"/>
<path d="M259.6,297.4 262,298.8 254.2,289.5 251.8,288.3z" class="g14"/><path d="M259.6,297.4 262,298.8M251.8,288.3 254.2,289.5M259.6,297.4 251.8,288.3M262,298.8 254.2,289.5" class="l"/>
<path d="M536.3,297.3 538.6,297.4 530.8,290.4 528.4,290.2z" class="g20"/><path d="M536.3,297.3 538.6,297.4M528.4,290.2 530.8,290.4M536.3,297.3 528.4,290.2" class="l"/>
<path d="M387.4,303.9 389.7,304.6 381.9,296 379.5,295.8z" class="g4"/><path d="M387.4,303.9 389.7,304.6M379.5,295.8 381.9,296M387.4,303.9 379.5,295.8" class="l"/>
<path d="M257.3,296 259.6,297.4 251.8,288.3 249.5,287.6z" class="g14"/><path d="M257.3,296 259.6,297.4M249.5,287.6 251.8,288.3M257.3,296 249.5,287.6M259.6,297.4 251.8,288.3" class="l"/>
<path d="M533.9,297.3 536.3,297.3 528.4,290.2 526.1,290.1z" class="g20"/><path d="M533.9,297.3 536.3,297.3M526.1,290.1 528.4,290.2M536.3,297.3 528.4,290.2" class="l"/>
<path d="M385,303.2 387.4,303.9 379.5,295.8 377.2,295.5z" class="gc"/><path d="M385,303.2 387.4,303.9M377.2,295.5 379.5,295.8M387.4,303.9 379.5,295.8" class="l"/>
<path d="M531.5,297.2 533.9,297.3 526.1,290.1 523.7,290z" class="g20"/><path d="M531.5,297.2 533.9,297.3M523.7,290 526.1,290.1M531.5,297.2 523.7,290" class="l"/>
<path d="M254.9,295.4 257.3,296 249.5,287.6 247.1,287.3z" class="g18"/><path d="M254.9,295.4 257.3,296M247.1,287.3 249.5,287.6M254.9,295.4 247.1,287.3M257.3,296 249.5,287.6" class="l"/>
<path d="M382.7,301 385,303.2 377.2,295.5 374.8,295.1z" class="gc"/><path d="M382.7,301 385,303.2M374.8,295.1 377.2,295.5M382.7,301 374.8,295.1" class="l"/>
<path d="M529.2,297.1 531.5,297.2 523.7,290 521.4,289.8z" class="g20"/><path d="M529.2,297.1 531.5,297.2M521.4,289.8 523.7,290M531.5,297.2 523.7,290" class="l"/>
<path d="M252.6,294.7 254.9,295.4 247.1,287.3 244.8,286.8z" class="g18"/><path d="M252.6,294.7 254.9,295.4M244.8,286.8 247.1,287.3M252.6,294.7 244.8,286.8M254.9,295.4 247.1,287.3" class="l"/>
<path d="M526.8,297.1 529.2,297.1 521.4,289.8 519,289.5z" class="g20"/><path d="M526.8,297.1 529.2,297.1M519,289.5 521.4,289.8M526.8,297.1 519,289.5" class="l"/>
<path d="M380.3,300.4 382.7,301 374.8,295.1 372.5,294.7z" class="g10"/><path d="M380.3,300.4 382.7,301M372.5,294.7 374.8,295.1M382.7,301 374.8,295.1" class="l"/>
<path d="M250.2,294.1 252.6,294.7 244.8,286.8 242.4,286.4z" class="g1c"/><path d="M250.2,294.1 252.6,294.7M242.4,286.4 244.8,286.8M250.2,294.1 242.4,286.4M252.6,294.7 244.8,286.8" class="l"/>
<path d="M524.5,297 526.8,297.1 519,289.5 516.7,289.2z" class="g20"/><path d="M524.5,297 526.8,297.1M516.7,289.2 519,289.5M526.8,297.1 519,289.5" class="l"/>
<path d="M377.9,300 380.3,300.4 372.5,294.7 370.1,294.2z" class="g10"/><path d="M377.9,300 380.3,300.4M370.1,294.2 372.5,294.7M377.9,300 370.1,294.2" class="l"/>
<path d="M247.9,293.8 250.2,294.1 242.4,286.4 240.1,286.4z" class="g1c"/><path d="M247.9,293.8 250.2,294.1M240.1,286.4 242.4,286.4M247.9,293.8 240.1,286.4M250.2,294.1 242.4,286.4" class="l"/>
<path d="M522.1,296.9 524.5,297 516.7,289.2 514.3,288.9z" class="g20"/><path d="M522.1,296.9 524.5,297M514.3,288.9 516.7,289.2M522.1,296.9 514.3,288.9" class="l"/>
<path d="M375.6,299.6 377.9,300 370.1,294.2 367.8,293.8z" class="g14"/><path d="M375.6,299.6 377.9,300M367.8,293.8 370.1,294.2M377.9,300 370.1,294.2" class="l"/>
<path d="M245.5,293.6 247.9,293.8 240.1,286.4 237.7,286.4z" class="g1c"/><path d="M245.5,293.6 247.9,293.8M237.7,286.4 240.1,286.4M245.5,293.6 237.7,286.4M247.9,293.8 240.1,286.4" class="l"/>
<path d="M519.8,296.8 522.1,296.9 514.3,288.9 512,288.5z" class="g20"/><path d="M519.8,296.8 522.1,296.9M512,288.5 514.3,288.9M522.1,296.9 514.3,288.9" class="l"/>
<path d="M373.2,299.2 375.6,299.6 367.8,293.8 365.4,293.3z" class="g14"/><path d="M373.2,299.2 375.6,299.6M365.4,293.3 367.8,293.8M373.2,299.2 365.4,293.3" class="l"/>
<path d="M243.2,293.3 245.5,293.6 237.7,286.4 235.3,286.5z" class="g1c"/><path d="M243.2,293.3 245.5,293.6M235.3,286.5 237.7,286.4M243.2,293.3 235.3,286.5M245.5,293.6 237.7,286.4" class="l"/>
<path d="M517.4,296.5 519.8,296.8 512,288.5 509.6,288.2z" class="g20"/><path d="M517.4,296.5 519.8,296.8M509.6,288.2 512,288.5M517.4,296.5 509.6,288.2" class="l"/>
<path d="M240.8,293.2 243.2,293.3 235.3,286.5 233,286.6z" class="g1c"/><path d="M240.8,293.2 243.2,293.3M233,286.6 235.3,286.5M240.8,293.2 233,286.6M243.2,293.3 235.3,286.5" class="l"/>
<path d="M370.9,298.8 373.2,299.2 365.4,293.3 363.1,292.8z" class="g18"/><path d="M370.9,298.8 373.2,299.2M363.1,292.8 365.4,293.3M373.2,299.2 365.4,293.3" class="l"/>
<path d="M515.1,296.3 517.4,296.5 509.6,288.2 507.3,288z" class="g24"/><path d="M515.1,296.3 517.4,296.5M507.3,288 509.6,288.2M517.4,296.5 509.6,288.2" class="l"/>
<path d="M238.5,293.3 240.8,293.2 233,286.6 230.6,286.7z" class="g1c"/><path d="M238.5,293.3 240.8,293.2M230.6,286.7 233,286.6M238.5,293.3 230.6,286.7M240.8,293.2 233,286.6" class="l"/>
<path d="M368.5,298.5 370.9,298.8 363.1,292.8 360.7,292.3z" class="g18"/><path d="M368.5,298.5 370.9,298.8M360.7,292.3 363.1,292.8M368.5,298.5 360.7,292.3" class="l"/>
<path d="M512.7,296.1 515.1,296.3 507.3,288 504.9,287.7z" class="g24"/><path d="M512.7,296.1 515.1,296.3M504.9,287.7 507.3,288M512.7,296.1 504.9,287.7" class="l"/>
<path d="M236.1,293.4 238.5,293.3 230.6,286.7 228.3,286.7z" class="g1c"/><path d="M236.1,293.4 238.5,293.3M228.3,286.7 230.6,286.7M236.1,293.4 228.3,286.7M238.5,293.3 230.6,286.7" class="l"/>
<path d="M366.2,298.1 368.5,298.5 360.7,292.3 358.4,291.9z" class="g18"/><path d="M366.2,298.1 368.5,298.5M358.4,291.9 360.7,292.3M368.5,298.5 360.7,292.3" class="l"/>
<path d="M510.4,295.9 512.7,296.1 504.9,287.7 502.6,287.4z" class="g24"/><path d="M510.4,295.9 512.7,296.1M502.6,287.4 504.9,287.7M512.7,296.1 504.9,287.7" class="l"/>
<path d="M233.8,293.4 236.1,293.4 228.3,286.7 225.9,286.8z" class="g1c"/><path d="M233.8,293.4 236.1,293.4M225.9,286.8 228.3,286.7M233.8,293.4 225.9,286.8M236.1,293.4 228.3,286.7" class="l"/>
<path d="M231.4,293.5 233.8,293.4 225.9,286.8 223.6,286.9z" class="g1c"/><path d="M231.4,293.5 233.8,293.4M223.6,286.9 225.9,286.8M231.4,293.5 223.6,286.9M233.8,293.4 225.9,286.8" class="l"/>
<path d="M508,295.7 510.4,295.9 502.6,287.4 500.2,287.2z" class="g24"/><path d="M508,295.7 510.4,295.9M500.2,287.2 502.6,287.4M508,295.7 500.2,287.2" class="l"/>
<path d="M363.8,297.9 366.2,298.1 358.4,291.9 356,291.6z" class="g18"/><path d="M363.8,297.9 366.2,298.1M356,291.6 358.4,291.9M363.8,297.9 356,291.6" class="l"/>
<path d="M229.1,293.6 231.4,293.5 223.6,286.9 221.2,287z" class="g1c"/><path d="M229.1,293.6 231.4,293.5M221.2,287 223.6,286.9M229.1,293.6 221.2,287M231.4,293.5 223.6,286.9" class="l"/>
<path d="M505.7,295.6 508,295.7 500.2,287.2 497.9,287.1z" class="g28"/><path d="M505.7,295.6 508,295.7M497.9,287.1 500.2,287.2M508,295.7 500.2,287.2" class="l"/>
<path d="M361.5,297.6 363.8,297.9 356,291.6 353.7,291.3z" class="g18"/><path d="M361.5,297.6 363.8,297.9M353.7,291.3 356,291.6M363.8,297.9 356,291.6" class="l"/>
<path d="M226.7,293.7 229.1,293.6 221.2,287 218.9,287z" class="g1c"/><path d="M226.7,293.7 229.1,293.6M218.9,287 221.2,287M226.7,293.7 218.9,287M229.1,293.6 221.2,287" class="l"/>
<path d="M503.3,295.5 505.7,295.6 497.9,287.1 495.5,287z" class="g28"/><path d="M503.3,295.5 505.7,295.6M495.5,287 497.9,287.1M503.3,295.5 495.5,287" class="l"/>
<path d="M359.1,297.4 361.5,297.6 353.7,291.3 351.3,291z" class="g18"/><path d="M359.1,297.4 361.5,297.6M351.3,291 353.7,291.3M359.1,297.4 351.3,291" class="l"/>
<path d="M224.3,293.8 226.7,293.7 218.9,287 216.5,287.1z" class="g1c"/><path d="M224.3,293.8 226.7,293.7M216.5,287.1 218.9,287M224.3,293.8 216.5,287.1M226.7,293.7 218.9,287" class="l"/>
<path d="M501,295.4 503.3,295.5 495.5,287 493.2,286.9z" class="g28"/><path d="M501,295.4 503.3,295.5M493.2,286.9 495.5,287M503.3,295.5 495.5,287" class="l"/>
<path d="M356.8,297.2 359.1,297.4 351.3,291 349,290.8z" class="g1c"/><path d="M356.8,297.2 359.1,297.4M349,290.8 351.3,291M359.1,297.4 351.3,291" class="l"/>
<path d="M222,293.8 224.3,293.8 216.5,287.1 214.2,287.2z" class="g1c"/><path d="M222,293.8 224.3,293.8M214.2,287.2 216.5,287.1M222,293.8 214.2,287.2M224.3,293.8 216.5,287.1" class="l"/>
<path d="M498.6,295.4 501,295.4 493.2,286.9 490.8,286.9z" class="g28"/><path d="M498.6,295.4 501,295.4M490.8,286.9 493.2,286.9M498.6,295.4 490.8,286.9" class="l"/>
<path d="M354.4,297.1 356.8,297.2 349,290.8 346.6,290.6z" class="g1c"/><path d="M354.4,297.1 356.8,297.2M346.6,290.6 349,290.8M354.4,297.1 346.6,290.6" class="l"/>
<path d="M219.6,293.9 222,293.8 214.2,287.2 211.8,287.3z" class="g1c"/><path d="M219.6,293.9 222,293.8M211.8,287.3 214.2,287.2M219.6,293.9 211.8,287.3M222,293.8 214.2,287.2" class="l"/>
<path d="M496.3,295.4 498.6,295.4 490.8,286.9 488.5,286.9z" class="g28"/><path d="M496.3,295.4 498.6,295.4M488.5,286.9 490.8,286.9M498.6,295.4 490.8,286.9" class="l"/>
<path d="M352.1,297 354.4,297.1 346.6,290.6 344.3,290.5z" class="g1c"/><path d="M352.1,297 354.4,297.1M344.3,290.5 346.6,290.6M354.4,297.1 346.6,290.6" class="l"/>
<path d="M217.3,294 219.6,293.9 211.8,287.3 209.5,287.3z" class="g1c"/><path d="M217.3,294 219.6,293.9M209.5,287.3 211.8,287.3M217.3,294 209.5,287.3M219.6,293.9 211.8,287.3" class="l"/>
<path d="M493.9,295.4 496.3,295.4 488.5,286.9 486.1,287z" class="g28"/><path d="M493.9,295.4 496.3,295.4M486.1,287 488.5,286.9M493.9,295.4 486.1,287" class="l"/>
<path d="M214.9,294.1 217.3,294 209.5,287.3 207.1,287.4z" class="g1c"/><path d="M214.9,294.1 217.3,294M207.1,287.4 209.5,287.3M214.9,294.1 207.1,287.4M217.3,294 209.5,287.3" class="l"/>
<path d="M349.7,297 352.1,297 344.3,290.5 341.9,290.4z" class="g1c"/><path d="M349.7,297 352.1,297M341.9,290.4 344.3,290.5M349.7,297 341.9,290.4" class="l"/>
<path d="M491.6,295.5 493.9,295.4 486.1,287 483.8,287.2z" class="g28"/><path d="M491.6,295.5 493.9,295.4M483.8,287.2 486.1,287M493.9,295.4 486.1,287" class="l"/>
<path d="M212.6,294.1 214.9,294.1 207.1,287.4 204.8,287.5z" class="g1c"/><path d="M212.6,294.1 214.9,294.1M204.8,287.5 207.1,287.4M212.6,294.1 204.8,287.5M214.9,294.1 207.1,287.4" class="l"/>
<path d="M347.4,297 349.7,297 341.9,290.4 339.6,290.4z" class="g1c"/><path d="M347.4,297 349.7,297M339.6,290.4 341.9,290.4M349.7,297 341.9,290.4" class="l"/>
<path d="M489.2,295.6 491.6,295.5 483.8,287.2 481.4,287.3z" class="g28"/><path d="M489.2,295.6 491.6,295.5M481.4,287.3 483.8,287.2M489.2,295.6 481.4,287.3" class="l"/>
<path d="M210.2,294.2 212.6,294.1 204.8,287.5 202.4,287.6z" class="g1c"/><path d="M210.2,294.2 212.6,294.1M202.4,287.6 204.8,287.5M210.2,294.2 202.4,287.6M212.6,294.1 204.8,287.5" class="l"/>
<path d="M345,297 347.4,297 339.6,290.4 337.2,290.4z" class="g1c"/><path d="M345,297 347.4,297M337.2,290.4 339.6,290.4M345,297 337.2,290.4" class="l"/>
<path d="M486.9,295.7 489.2,295.6 481.4,287.3 479.1,287.5z" class="g28"/><path d="M486.9,295.7 489.2,295.6M479.1,287.5 481.4,287.3M489.2,295.6 481.4,287.3" class="l"/>
<path d="M207.9,294.3 210.2,294.2 202.4,287.6 200.1,287.6z" class="g1c"/><path d="M207.9,294.3 210.2,294.2M200.1,287.6 202.4,287.6M207.9,294.3 200.1,287.6M210.2,294.2 202.4,287.6" class="l"/>
<path d="M342.7,297 345,297 337.2,290.4 334.9,290.5z" class="g1c"/><path d="M342.7,297 345,297M334.9,290.5 337.2,290.4M345,297 337.2,290.4" class="l"/>
<path d="M484.5,295.9 486.9,295.7 479.1,287.5 476.7,287.7z" class="g28"/><path d="M484.5,295.9 486.9,295.7M476.7,287.7 479.1,287.5M484.5,295.9 476.7,287.7" class="l"/>
<path d="M205.5,294.4 207.9,294.3 200.1,287.6 197.7,287.7z" class="g1c"/><path d="M205.5,294.4 207.9,294.3M197.7,287.7 200.1,287.6M205.5,294.4 197.7,287.7M207.9,294.3 200.1,287.6" class="l"/>
<path d="M340.3,297 342.7,297 334.9,290.5 332.5,290.6z" class="g1c"/><path d="M340.3,297 342.7,297M332.5,290.6 334.9,290.5M340.3,297 332.5,290.6" class="l"/>
<path d="M482.2,296 484.5,295.9 476.7,287.7 474.4,288z" class="g28"/><path d="M482.2,296 484.5,295.9M474.4,288 476.7,287.7M484.5,295.9 476.7,287.7" class="l"/>
<path d="M203.2,294.4 205.5,294.4 197.7,287.7 195.4,287.8z" class="g1c"/><path d="M203.2,294.4 205.5,294.4M195.4,287.8 197.7,287.7M203.2,294.4 195.4,287.8M205.5,294.4 197.7,287.7" class="l"/>
<path d="M479.8,296.1 482.2,296 474.4,288 472,288.3z" class="g28"/><path d="M479.8,296.1 482.2,296M472,288.3 474.4,288M479.8,296.1 472,288.3" class="l"/>
<path d="M338,297.1 340.3,297 332.5,290.6 330.2,290.6z" class="g1c"/><path d="M338,297.1 340.3,297M330.2,290.6 332.5,290.6M340.3,297 332.5,290.6" class="l"/>
<path d="M200.8,294.5 203.2,294.4 195.4,287.8 193,287.9z" class="g1c"/><path d="M200.8,294.5 203.2,294.4M193,287.9 195.4,287.8M200.8,294.5 193,287.9M203.2,294.4 195.4,287.8" class="l"/>
<path d="M477.5,296.2 479.8,296.1 472,288.3 469.7,288.7z" class="g28"/><path d="M477.5,296.2 479.8,296.1M469.7,288.7 472,288.3M479.8,296.1 472,288.3" class="l"/>
<path d="M335.6,297.1 338,297.1 330.2,290.6 327.8,290.9z" class="g1c"/><path d="M335.6,297.1 338,297.1M327.8,290.9 330.2,290.6M335.6,297.1 327.8,290.9" class="l"/>
<path d="M198.5,294.6 200.8,294.5 193,287.9 190.7,287.9z" class="g1c"/><path d="M198.5,294.6 200.8,294.5M190.7,287.9 193,287.9M198.5,294.6 190.7,287.9M200.8,294.5 193,287.9" class="l"/>
<path d="M475.1,296.3 477.5,296.2 469.7,288.7 467.3,289z" class="g28"/><path d="M475.1,296.3 477.5,296.2M467.3,289 469.7,288.7M475.1,296.3 467.3,289" class="l"/>
<path d="M333.3,297.2 335.6,297.1 327.8,290.9 325.5,291.1z" class="g1c"/><path d="M333.3,297.2 335.6,297.1M325.5,291.1 327.8,290.9M335.6,297.1 327.8,290.9" class="l"/>
<path d="M472.8,296.5 475.1,296.3 467.3,289 465,289.4z" class="g28"/><path d="M472.8,296.5 475.1,296.3M465,289.4 467.3,289M475.1,296.3 467.3,289" class="l"/>
<path d="M196.1,294.7 198.5,294.6 190.7,287.9 188.3,288z" class="g1c"/><path d="M196.1,294.7 198.5,294.6M188.3,288 190.7,287.9M196.1,294.7 188.3,288M198.5,294.6 190.7,287.9" class="l"/>
<path d="M330.9,297.2 333.3,297.2 325.5,291.1 323.1,291.4z" class="g1c"/><path d="M330.9,297.2 333.3,297.2M323.1,291.4 325.5,291.1M330.9,297.2 323.1,291.4" class="l"/>
<path d="M470.4,296.7 472.8,296.5 465,289.4 462.6,289.7z" class="g28"/><path d="M470.4,296.7 472.8,296.5M462.6,289.7 465,289.4M470.4,296.7 462.6,289.7" class="l"/>
<path d="M193.8,294.7 196.1,294.7 188.3,288 186,288.1z" class="g1c"/><path d="M193.8,294.7 196.1,294.7M186,288.1 188.3,288M193.8,294.7 186,288.1M196.1,294.7 188.3,288" class="l"/>
<path d="M328.6,297.3 330.9,297.2 323.1,291.4 320.8,292z" class="g1c"/><path d="M328.6,297.3 330.9,297.2M320.8,292 323.1,291.4M330.9,297.2 323.1,291.4" class="l"/>
<path d="M468.1,296.9 470.4,296.7 462.6,289.7 460.2,290z" class="g24"/><path d="M468.1,296.9 470.4,296.7M460.2,290 462.6,289.7M470.4,296.7 462.6,289.7" class="l"/>
<path d="M326.2,297.4 328.6,297.3 320.8,292 318.4,292.4z" class="g1c"/><path d="M326.2,297.4 328.6,297.3M318.4,292.4 320.8,292M326.2,297.4 318.4,292.4" class="l"/>
<path d="M191.4,294.8 193.8,294.7 186,288.1 183.6,288.2z" class="g1c"/><path d="M191.4,294.8 193.8,294.7M183.6,288.2 186,288.1M191.4,294.8 183.6,288.2M193.8,294.7 186,288.1" class="l"/>
<path d="M465.7,297.1 468.1,296.9 460.2,290 457.9,290.3z" class="g24"/><path d="M465.7,297.1 468.1,296.9M457.9,290.3 460.2,290M465.7,297.1 457.9,290.3" class="l"/>
<path d="M323.9,297.5 326.2,297.4 318.4,292.4 316.1,292.8z" class="g1c"/><path d="M323.9,297.5 326.2,297.4M316.1,292.8 318.4,292.4M326.2,297.4 318.4,292.4" class="l"/>
<path d="M189.1,294.9 191.4,294.8 183.6,288.2 181.3,288.3z" class="g1c"/><path d="M189.1,294.9 191.4,294.8M181.3,288.3 183.6,288.2M189.1,294.9 181.3,288.3M191.4,294.8 183.6,288.2" class="l"/>
<path d="M463.4,297.3 465.7,297.1 457.9,290.3 455.5,290.6z" class="g24"/><path d="M463.4,297.3 465.7,297.1M455.5,290.6 457.9,290.3M465.7,297.1 457.9,290.3" class="l"/>
<path d="M321.5,297.6 323.9,297.5 316.1,292.8 313.7,293.5z" class="g1c"/><path d="M321.5,297.6 323.9,297.5M313.7,293.5 316.1,292.8M321.5,297.6 313.7,293.5" class="l"/>
<path d="M186.7,295 189.1,294.9 181.3,288.3 178.9,288.3z" class="g1c"/><path d="M186.7,295 189.1,294.9M178.9,288.3 181.3,288.3M186.7,295 178.9,288.3M189.1,294.9 181.3,288.3" class="l"/>
<path d="M461,297.5 463.4,297.3 455.5,290.6 453.2,290.9z" class="g24"/><path d="M461,297.5 463.4,297.3M453.2,290.9 455.5,290.6M461,297.5 453.2,290.9" class="l"/>
<path d="M319.2,297.7 321.5,297.6 313.7,293.5 311.4,294.1z" class="g1c"/><path d="M319.2,297.7 321.5,297.6M311.4,294.1 313.7,293.5M321.5,297.6 313.7,293.5" class="l"/>
<path d="M184.4,295 186.7,295 178.9,288.3 176.6,288.4z" class="g1c"/><path d="M184.4,295 186.7,295M176.6,288.4 178.9,288.3M184.4,295 176.6,288.4M186.7,295 178.9,288.3" class="l"/>
<path d="M458.7,297.7 461,297.5 453.2,290.9 450.8,291.4z" class="g24"/><path d="M458.7,297.7 461,297.5M450.8,291.4 453.2,290.9M461,297.5 453.2,290.9" class="l"/>
<path d="M316.8,297.8 319.2,297.7 311.4,294.1 309,294.7z" class="g1c"/><path d="M316.8,297.8 319.2,297.7M309,294.7 311.4,294.1M316.8,297.8 309,294.7" class="l"/>
<path d="M182,295.1 184.4,295 176.6,288.4 174.2,288.5z" class="g1c"/><path d="M182,295.1 184.4,295M174.2,288.5 176.6,288.4M182,295.1 174.2,288.5M184.4,295 176.6,288.4" class="l"/>
<path d="M314.5,297.9 316.8,297.8 309,294.7 306.6,295.4z" class="g1c"/><path d="M314.5,297.9 316.8,297.8M306.6,295.4 309,294.7M316.8,297.8 309,294.7" class="l"/>
<path d="M456.3,297.8 458.7,297.7 450.8,291.4 448.5,291.8z" class="g24"/><path d="M456.3,297.8 458.7,297.7M448.5,291.8 450.8,291.4M456.3,297.8 448.5,291.8" class="l"/>
<path d="M312.1,298 314.5,297.9 306.6,295.4 304.3,296.2z" class="g1c"/><path d="M312.1,298 314.5,297.9M304.3,296.2 306.6,295.4M312.1,298 304.3,296.2" class="l"/>
<path d="M454,298 456.3,297.8 448.5,291.8 446.1,292.2z" class="g24"/><path d="M454,298 456.3,297.8M446.1,292.2 448.5,291.8M456.3,297.8 448.5,291.8" class="l"/>
<path d="M179.7,295.2 182,295.1 174.2,288.5 171.9,288.6z" class="g1c"/><path d="M179.7,295.2 182,295.1M171.9,288.6 174.2,288.5M179.7,295.2 171.9,288.6M182,295.1 174.2,288.5" class="l"/>
<path d="M309.8,298.1 312.1,298 304.3,296.2 301.9,297z" class="g1c"/><path d="M309.8,298.1 312.1,298M301.9,297 304.3,296.2M312.1,298 304.3,296.2" class="l"/>
<path d="M451.6,298.2 454,298 446.1,292.2 443.8,292.7z" class="g24"/><path d="M451.6,298.2 454,298M443.8,292.7 446.1,292.2M451.6,298.2 443.8,292.7" class="l"/>
<path d="M177.3,295.3 179.7,295.2 171.9,288.6 169.5,288.6z" class="g1c"/><path d="M177.3,295.3 179.7,295.2M169.5,288.6 171.9,288.6M177.3,295.3 169.5,288.6M179.7,295.2 171.9,288.6" class="l"/>
<path d="M307.4,298.3 309.8,298.1 301.9,297 299.6,297.7z" class="g1c"/><path d="M307.4,298.3 309.8,298.1M299.6,297.7 301.9,297M307.4,298.3 299.6,297.7" class="l"/>
<path d="M449.2,298.7 451.6,298.2 443.8,292.7 441.4,293.1z" class="g20"/><path d="M449.2,298.7 451.6,298.2M441.4,293.1 443.8,292.7M451.6,298.2 443.8,292.7" class="l"/>
<path d="M175,295.3 177.3,295.3 169.5,288.6 167.2,288.7z" class="g1c"/><path d="M175,295.3 177.3,295.3M167.2,288.7 169.5,288.6M175,295.3 167.2,288.7M177.3,295.3 169.5,288.6" class="l"/>
<path d="M305.1,298.4 307.4,298.3 299.6,297.7 297.2,298.5z" class="g1c"/><path d="M305.1,298.4 307.4,298.3M297.2,298.5 299.6,297.7M307.4,298.3 299.6,297.7" class="l"/>
<path d="M446.9,299.1 449.2,298.7 441.4,293.1 439.1,293.6z" class="g20"/><path d="M446.9,299.1 449.2,298.7M439.1,293.6 441.4,293.1M446.9,299.1 439.1,293.6" class="l"/>
<path d="M302.7,298.5 305.1,298.4 297.2,298.5 294.9,299.4z" class="g1c"/><path d="M302.7,298.5 305.1,298.4M294.9,299.4 297.2,298.5M302.7,298.5 294.9,299.4" class="l"/>
<path d="M172.6,295.4 175,295.3 167.2,288.7 164.8,288.8z" class="g1c"/><path d="M172.6,295.4 175,295.3M164.8,288.8 167.2,288.7M172.6,295.4 164.8,288.8M175,295.3 167.2,288.7" class="l"/>
<path d="M444.5,299.5 446.9,299.1 439.1,293.6 436.7,294.4z" class="g20"/><path d="M444.5,299.5 446.9,299.1M436.7,294.4 439.1,293.6M446.9,299.1 439.1,293.6" class="l"/>
<path d="M300.4,298.6 302.7,298.5 294.9,299.4 292.5,300.2z" class="g1c"/><path d="M300.4,298.6 302.7,298.5M292.5,300.2 294.9,299.4M302.7,298.5 294.9,299.4" class="l"/>
<path d="M442.2,300 444.5,299.5 436.7,294.4 434.4,295.1z" class="g20"/><path d="M442.2,300 444.5,299.5M434.4,295.1 436.7,294.4M442.2,300 434.4,295.1" class="l"/>
<path d="M170.3,295.5 172.6,295.4 164.8,288.8 162.5,288.9z" class="g1c"/><path d="M170.3,295.5 172.6,295.4M162.5,288.9 164.8,288.8M170.3,295.5 162.5,288.9M172.6,295.4 164.8,288.8" class="l"/>
<path d="M298,298.8 300.4,298.6 292.5,300.2 290.2,300.9z" class="g1c"/><path d="M298,298.8 300.4,298.6M290.2,300.9 292.5,300.2M298,298.8 290.2,300.9" class="l"/>
<path d="M439.8,300.5 442.2,300 434.4,295.1 432,295.8z" class="g1c"/><path d="M439.8,300.5 442.2,300M432,295.8 434.4,295.1M442.2,300 434.4,295.1" class="l"/>
<path d="M167.9,295.6 170.3,295.5 162.5,288.9 160.1,288.9z" class="g1c"/><path d="M167.9,295.6 170.3,295.5M160.1,288.9 162.5,288.9M167.9,295.6 160.1,288.9M170.3,295.5 162.5,288.9" class="l"/>
<path d="M437.5,301.1 439.8,300.5 432,295.8 429.7,296.8z" class="g1c"/><path d="M437.5,301.1 439.8,300.5M429.7,296.8 432,295.8M437.5,301.1 429.7,296.8" class="l"/>
<path d="M295.6,298.9 298,298.8 290.2,300.9 287.8,301.7z" class="g1c"/><path d="M295.6,298.9 298,298.8M287.8,301.7 290.2,300.9M298,298.8 290.2,300.9" class="l"/>
<path d="M435.1,302 437.5,301.1 429.7,296.8 427.3,297.8z" class="g18"/><path d="M435.1,302 437.5,301.1M427.3,297.8 429.7,296.8M437.5,301.1 429.7,296.8" class="l"/>
<path d="M293.3,299 295.6,298.9 287.8,301.7 285.5,302.4z" class="g1c"/><path d="M293.3,299 295.6,298.9M285.5,302.4 287.8,301.7M293.3,299 285.5,302.4" class="l"/>
<path d="M432.8,302.9 435.1,302 427.3,297.8 425,298.8z" class="g18"/><path d="M432.8,302.9 435.1,302M425,298.8 427.3,297.8M432.8,302.9 425,298.8" class="l"/>
<path d="M165.6,295.6 167.9,295.6 160.1,288.9 157.8,289z" class="g1c"/><path d="M165.6,295.6 167.9,295.6M157.8,289 160.1,288.9M165.6,295.6 157.8,289M167.9,295.6 160.1,288.9" class="l"/>
<path d="M430.4,303.9 432.8,302.9 425,298.8 422.6,299.9z" class="g10"/><path d="M430.4,303.9 432.8,302.9M422.6,299.9 425,298.8M432.8,302.9 425,298.8" class="l"/>
<path d="M572.3,303 574.3,303 566.5,296.4 564.5,296.5z" class="g20"/><path d="M572.3,303 574.3,303M564.5,296.5 566.5,296.4M572.3,303 564.5,296.5M574.3,303 566.5,296.4" class="l"/>
<path d="M290.9,299.2 293.3,299 285.5,302.4 283.1,302.8z" class="g1c"/><path d="M290.9,299.2 293.3,299M283.1,302.8 285.5,302.4M293.3,299 285.5,302.4" class="l"/>
<path d="M428.1,305 430.4,303.9 422.6,299.9 420.3,300.7z" class="g10"/><path d="M428.1,305 430.4,303.9M420.3,300.7 422.6,299.9M428.1,305 420.3,300.7" class="l"/>
<path d="M163.2,295.7 165.6,295.6 157.8,289 155.4,289.1z" class="g1c"/><path d="M163.2,295.7 165.6,295.6M155.4,289.1 157.8,289M163.2,295.7 155.4,289.1M165.6,295.6 157.8,289" class="l"/>
<path d="M425.7,306.3 428.1,305 420.3,300.7 417.9,301.5z" class="g8"/><path d="M425.7,306.3 428.1,305M417.9,301.5 420.3,300.7M428.1,305 420.3,300.7" class="l"/>
<path d="M569.9,303.1 572.3,303 564.5,296.5 562.1,296.5z" class="g20"/><path d="M569.9,303.1 572.3,303M562.1,296.5 564.5,296.5M572.3,303 564.5,296.5" class="l"/>
<path d="M423.4,307.6 425.7,306.3 417.9,301.5 415.6,302.3z" class="g8"/><path d="M423.4,307.6 425.7,306.3M415.6,302.3 417.9,301.5M423.4,307.6 415.6,302.3" class="l"/>
<path d="M288.6,299.3 290.9,299.2 283.1,302.8 280.8,303z" class="g1c"/><path d="M288.6,299.3 290.9,299.2M280.8,303 283.1,302.8M288.6,299.3 280.8,303" class="l"/>
<path d="M421,308.9 423.4,307.6 415.6,302.3 413.2,303.1z" class="g4"/><path d="M421,308.9 423.4,307.6M413.2,303.1 415.6,302.3M423.4,307.6 415.6,302.3" class="l"/>
<path d="M160.9,295.8 163.2,295.7 155.4,289.1 153,289.2z" class="g1c"/><path d="M160.9,295.8 163.2,295.7M153,289.2 155.4,289.1M160.9,295.8 153,289.2M163.2,295.7 155.4,289.1" class="l"/>
<path d="M567.6,303.2 569.9,303.1 562.1,296.5 559.8,296.6z" class="g20"/><path d="M567.6,303.2 569.9,303.1M559.8,296.6 562.1,296.5M567.6,303.2 559.8,296.6" class="l"/>
<path d="M418.7,309.7 421,308.9 413.2,303.1 410.9,303.9z" class="g4"/><path d="M418.7,309.7 421,308.9M410.9,303.9 413.2,303.1M418.7,309.7 410.9,303.9" class="l"/>
<path d="M286.2,299.5 288.6,299.3 280.8,303 278.4,303.2z" class="g1c"/><path d="M286.2,299.5 288.6,299.3M278.4,303.2 280.8,303M288.6,299.3 280.8,303" class="l"/>
<path d="M158.5,295.9 160.9,295.8 153,289.2 150.7,289.2z" class="g1c"/><path d="M158.5,295.9 160.9,295.8M150.7,289.2 153,289.2M158.5,295.9 150.7,289.2M160.9,295.8 153,289.2" class="l"/>
<path d="M416.3,310.5 418.7,309.7 410.9,303.9 408.5,304.3z" class="g0"/><path d="M416.3,310.5 418.7,309.7M408.5,304.3 410.9,303.9M418.7,309.7 410.9,303.9" class="l"/>
<path d="M565.2,303.2 567.6,303.2 559.8,296.6 557.4,296.6z" class="g20"/><path d="M565.2,303.2 567.6,303.2M557.4,296.6 559.8,296.6M567.6,303.2 559.8,296.6" class="l"/>
<path d="M283.9,299.6 286.2,299.5 278.4,303.2 276.1,303z" class="g1c"/><path d="M283.9,299.6 286.2,299.5M276.1,303 278.4,303.2M283.9,299.6 276.1,303" class="l"/>
<path d="M414,311.2 416.3,310.5 408.5,304.3 406.2,304.7z" class="g0"/><path d="M414,311.2 416.3,310.5M406.2,304.7 408.5,304.3M414,311.2 406.2,304.7" class="l"/>
<path d="M156.2,295.9 158.5,295.9 150.7,289.2 148.3,289.3z" class="g1c"/><path d="M156.2,295.9 158.5,295.9M148.3,289.3 150.7,289.2M156.2,295.9 148.3,289.3M158.5,295.9 150.7,289.2" class="l"/>
<path d="M562.9,303.3 565.2,303.2 557.4,296.6 555.1,296.8z" class="g20"/><path d="M562.9,303.3 565.2,303.2M555.1,296.8 557.4,296.6M562.9,303.3 555.1,296.8" class="l"/>
<path d="M411.6,312 414,311.2 406.2,304.7 403.8,305z" class="g0"/><path d="M411.6,312 414,311.2M403.8,305 406.2,304.7M414,311.2 406.2,304.7" class="l"/>
<path d="M281.5,299.7 283.9,299.6 276.1,303 273.7,302.5z" class="g18"/><path d="M281.5,299.7 283.9,299.6M273.7,302.5 276.1,303M281.5,299.7 273.7,302.5M283.9,299.6 276.1,303" class="l"/>
<path d="M153.8,296 156.2,295.9 148.3,289.3 146,289.4z" class="g1c"/><path d="M153.8,296 156.2,295.9M146,289.4 148.3,289.3M153.8,296 146,289.4M156.2,295.9 148.3,289.3" class="l"/>
<path d="M409.3,312.6 411.6,312 403.8,305 401.5,305.3z" class="g0"/><path d="M409.3,312.6 411.6,312M401.5,305.3 403.8,305M409.3,312.6 401.5,305.3" class="l"/>
<path d="M560.5,303.4 562.9,303.3 555.1,296.8 552.7,296.9z" class="g20"/><path d="M560.5,303.4 562.9,303.3M552.7,296.9 555.1,296.8M562.9,303.3 555.1,296.8" class="l"/>
<path d="M279.2,299.8 281.5,299.7 273.7,302.5 271.4,302z" class="g18"/><path d="M279.2,299.8 281.5,299.7M271.4,302 273.7,302.5M279.2,299.8 271.4,302M281.5,299.7 273.7,302.5" class="l"/>
<path d="M406.9,312.7 409.3,312.6 401.5,305.3 399.1,305.5z" class="g0"/><path d="M406.9,312.7 409.3,312.6M399.1,305.5 401.5,305.3M409.3,312.6 401.5,305.3" class="l"/>
<path d="M151.5,296.1 153.8,296 146,289.4 143.6,289.5z" class="g1c"/><path d="M151.5,296.1 153.8,296M143.6,289.5 146,289.4M151.5,296.1 143.6,289.5M153.8,296 146,289.4" class="l"/>
<path d="M558.2,303.4 560.5,303.4 552.7,296.9 550.4,297z" class="g20"/><path d="M558.2,303.4 560.5,303.4M550.4,297 552.7,296.9M558.2,303.4 550.4,297" class="l"/>
<path d="M404.6,312.7 406.9,312.7 399.1,305.5 396.8,305.6z" class="g0"/><path d="M404.6,312.7 406.9,312.7M396.8,305.6 399.1,305.5M404.6,312.7 396.8,305.6" class="l"/>
<path d="M149.1,296.2 151.5,296.1 143.6,289.5 141.3,289.5z" class="g1c"/><path d="M149.1,296.2 151.5,296.1M141.3,289.5 143.6,289.5M149.1,296.2 141.3,289.5M151.5,296.1 143.6,289.5" class="l"/>
<path d="M276.8,299.9 279.2,299.8 271.4,302 269,301.5z" class="g1c"/><path d="M276.8,299.9 279.2,299.8M269,301.5 271.4,302M276.8,299.9 269,301.5M279.2,299.8 271.4,302" class="l"/>
<path d="M555.8,303.5 558.2,303.4 550.4,297 548,297.1z" class="g20"/><path d="M555.8,303.5 558.2,303.4M548,297.1 550.4,297M558.2,303.4 550.4,297" class="l"/>
<path d="M146.8,296.2 149.1,296.2 141.3,289.5 138.9,289.6z" class="g1c"/><path d="M146.8,296.2 149.1,296.2M138.9,289.6 141.3,289.5M146.8,296.2 138.9,289.6M149.1,296.2 141.3,289.5" class="l"/>
<path d="M402.2,312.7 404.6,312.7 396.8,305.6 394.4,305.6z" class="g0"/><path d="M402.2,312.7 404.6,312.7M394.4,305.6 396.8,305.6M404.6,312.7 396.8,305.6" class="l"/>
<path d="M553.5,303.6 555.8,303.5 548,297.1 545.7,297.2z" class="g20"/><path d="M553.5,303.6 555.8,303.5M545.7,297.2 548,297.1M553.5,303.6 545.7,297.2" class="l"/>
<path d="M274.5,299.9 276.8,299.9 269,301.5 266.7,300.4z" class="g1c"/><path d="M274.5,299.9 276.8,299.9M266.7,300.4 269,301.5M274.5,299.9 266.7,300.4M276.8,299.9 269,301.5" class="l"/>
<path d="M144.4,296.3 146.8,296.2 138.9,289.6 136.6,289.7z" class="g1c"/><path d="M144.4,296.3 146.8,296.2M136.6,289.7 138.9,289.6M144.4,296.3 136.6,289.7M146.8,296.2 138.9,289.6" class="l"/>
<path d="M399.9,312.5 402.2,312.7 394.4,305.6 392.1,305.2z" class="g0"/><path d="M399.9,312.5 402.2,312.7M392.1,305.2 394.4,305.6M399.9,312.5 392.1,305.2" class="l"/>
<path d="M551.1,303.8 553.5,303.6 545.7,297.2 543.3,297.3z" class="g1c"/><path d="M551.1,303.8 553.5,303.6M543.3,297.3 545.7,297.2M553.5,303.6 545.7,297.2" class="l"/>
<path d="M272.1,299.9 274.5,299.9 266.7,300.4 264.3,299.5z" class="g1c"/><path d="M272.1,299.9 274.5,299.9M264.3,299.5 266.7,300.4M272.1,299.9 264.3,299.5M274.5,299.9 266.7,300.4" class="l"/>
<path d="M142,296.4 144.4,296.3 136.6,289.7 134.2,289.8z" class="g1c"/><path d="M142,296.4 144.4,296.3M134.2,289.8 136.6,289.7M142,296.4 134.2,289.8M144.4,296.3 136.6,289.7" class="l"/>
<path d="M548.8,303.9 551.1,303.8 543.3,297.3 541,297.3z" class="g1c"/><path d="M548.8,303.9 551.1,303.8M541,297.3 543.3,297.3M548.8,303.9 541,297.3" class="l"/>
<path d="M397.5,312.3 399.9,312.5 392.1,305.2 389.7,304.6z" class="g0"/><path d="M397.5,312.3 399.9,312.5M389.7,304.6 392.1,305.2M399.9,312.5 392.1,305.2" class="l"/>
<path d="M139.7,296.5 142,296.4 134.2,289.8 131.9,289.8z" class="g1c"/><path d="M139.7,296.5 142,296.4M131.9,289.8 134.2,289.8M139.7,296.5 131.9,289.8M142,296.4 134.2,289.8" class="l"/>
<path d="M269.8,300 272.1,299.9 264.3,299.5 262,298.8z" class="g1c"/><path d="M269.8,300 272.1,299.9M262,298.8 264.3,299.5M269.8,300 262,298.8M272.1,299.9 264.3,299.5" class="l"/>
<path d="M546.4,304 548.8,303.9 541,297.3 538.6,297.4z" class="g1c"/><path d="M546.4,304 548.8,303.9M538.6,297.4 541,297.3M548.8,303.9 541,297.3" class="l"/>
<path d="M395.2,312.1 397.5,312.3 389.7,304.6 387.4,303.9z" class="g0"/><path d="M395.2,312.1 397.5,312.3M387.4,303.9 389.7,304.6M395.2,312.1 387.4,303.9" class="l"/>
<path d="M137.3,296.5 139.7,296.5 131.9,289.8 129.5,289.9z" class="g1c"/><path d="M137.3,296.5 139.7,296.5M129.5,289.9 131.9,289.8M137.3,296.5 129.5,289.9M139.7,296.5 131.9,289.8" class="l"/>
<path d="M544.1,304.2 546.4,304 538.6,297.4 536.3,297.3z" class="g1c"/><path d="M544.1,304.2 546.4,304M536.3,297.3 538.6,297.4M544.1,304.2 536.3,297.3" class="l"/>
<path d="M267.4,300 269.8,300 262,298.8 259.6,297.4z" class="g1c"/><path d="M267.4,300 269.8,300M259.6,297.4 262,298.8M267.4,300 259.6,297.4M269.8,300 262,298.8" class="l"/>
<path d="M135,296.6 137.3,296.5 129.5,289.9 127.2,290z" class="g1c"/><path d="M135,296.6 137.3,296.5M127.2,290 129.5,289.9M135,296.6 127.2,290M137.3,296.5 129.5,289.9" class="l"/>
<path d="M392.8,311.8 395.2,312.1 387.4,303.9 385,303.2z" class="g4"/><path d="M392.8,311.8 395.2,312.1M385,303.2 387.4,303.9M395.2,312.1 387.4,303.9" class="l"/>
<path d="M541.7,304.3 544.1,304.2 536.3,297.3 533.9,297.3z" class="g1c"/><path d="M541.7,304.3 544.1,304.2M533.9,297.3 536.3,297.3M544.1,304.2 536.3,297.3" class="l"/>
<path d="M265.1,300 267.4,300 259.6,297.4 257.3,296z" class="g1c"/><path d="M265.1,300 267.4,300M257.3,296 259.6,297.4M265.1,300 257.3,296M267.4,300 259.6,297.4" class="l"/>
<path d="M132.6,296.7 135,296.6 127.2,290 124.8,290.1z" class="g1c"/><path d="M132.6,296.7 135,296.6M124.8,290.1 127.2,290M132.6,296.7 124.8,290.1M135,296.6 127.2,290" class="l"/>
<path d="M539.4,304.4 541.7,304.3 533.9,297.3 531.5,297.2z" class="g1c"/><path d="M539.4,304.4 541.7,304.3M531.5,297.2 533.9,297.3M539.4,304.4 531.5,297.2" class="l"/>
<path d="M390.5,311 392.8,311.8 385,303.2 382.7,301z" class="g4"/><path d="M390.5,311 392.8,311.8M382.7,301 385,303.2M390.5,311 382.7,301" class="l"/>
<path d="M130.3,296.8 132.6,296.7 124.8,290.1 122.5,290.1z" class="g1c"/><path d="M130.3,296.8 132.6,296.7M122.5,290.1 124.8,290.1M130.3,296.8 122.5,290.1M132.6,296.7 124.8,290.1" class="l"/>
<path d="M262.7,300 265.1,300 257.3,296 254.9,295.4z" class="g1c"/><path d="M262.7,300 265.1,300M254.9,295.4 257.3,296M262.7,300 254.9,295.4M265.1,300 257.3,296" class="l"/>
<path d="M537,304.5 539.4,304.4 531.5,297.2 529.2,297.1z" class="g1c"/><path d="M537,304.5 539.4,304.4M529.2,297.1 531.5,297.2M539.4,304.4 531.5,297.2" class="l"/>
<path d="M534.7,304.5 537,304.5 529.2,297.1 526.8,297.1z" class="g1c"/><path d="M534.7,304.5 537,304.5M526.8,297.1 529.2,297.1M534.7,304.5 526.8,297.1" class="l"/>
<path d="M260.4,300 262.7,300 254.9,295.4 252.6,294.7z" class="g1c"/><path d="M260.4,300 262.7,300M252.6,294.7 254.9,295.4M260.4,300 252.6,294.7M262.7,300 254.9,295.4" class="l"/>
<path d="M388.1,310.1 390.5,311 382.7,301 380.3,300.4z" class="g8"/><path d="M388.1,310.1 390.5,311M380.3,300.4 382.7,301M390.5,311 382.7,301" class="l"/>
<path d="M532.3,304.5 534.7,304.5 526.8,297.1 524.5,297z" class="g1c"/><path d="M532.3,304.5 534.7,304.5M524.5,297 526.8,297.1M534.7,304.5 526.8,297.1" class="l"/>
<path d="M258,299.9 260.4,300 252.6,294.7 250.2,294.1z" class="g1c"/><path d="M258,299.9 260.4,300M250.2,294.1 252.6,294.7M258,299.9 250.2,294.1M260.4,300 252.6,294.7" class="l"/>
<path d="M385.8,309.1 388.1,310.1 380.3,300.4 377.9,300z" class="g8"/><path d="M385.8,309.1 388.1,310.1M377.9,300 380.3,300.4M385.8,309.1 377.9,300" class="l"/>
<path d="M530,304.5 532.3,304.5 524.5,297 522.1,296.9z" class="g1c"/><path d="M530,304.5 532.3,304.5M522.1,296.9 524.5,297M530,304.5 522.1,296.9" class="l"/>
<path d="M255.7,299.9 258,299.9 250.2,294.1 247.9,293.8z" class="g1c"/><path d="M255.7,299.9 258,299.9M247.9,293.8 250.2,294.1M255.7,299.9 247.9,293.8M258,299.9 250.2,294.1" class="l"/>
<path d="M383.4,308.2 385.8,309.1 377.9,300 375.6,299.6z" class="g14"/><path d="M383.4,308.2 385.8,309.1M375.6,299.6 377.9,300M385.8,309.1 377.9,300" class="l"/>
<path d="M527.6,304.5 530,304.5 522.1,296.9 519.8,296.8z" class="g20"/><path d="M527.6,304.5 530,304.5M519.8,296.8 522.1,296.9M530,304.5 522.1,296.9" class="l"/>
<path d="M253.3,299.9 255.7,299.9 247.9,293.8 245.5,293.6z" class="g1c"/><path d="M253.3,299.9 255.7,299.9M245.5,293.6 247.9,293.8M253.3,299.9 245.5,293.6M255.7,299.9 247.9,293.8" class="l"/>
<path d="M525.3,304.5 527.6,304.5 519.8,296.8 517.4,296.5z" class="g20"/><path d="M525.3,304.5 527.6,304.5M517.4,296.5 519.8,296.8M525.3,304.5 517.4,296.5" class="l"/>
<path d="M251,299.9 253.3,299.9 245.5,293.6 243.2,293.3z" class="g1c"/><path d="M251,299.9 253.3,299.9M243.2,293.3 245.5,293.6M251,299.9 243.2,293.3M253.3,299.9 245.5,293.6" class="l"/>
<path d="M381.1,305.4 383.4,308.2 375.6,299.6 373.2,299.2z" class="g14"/><path d="M381.1,305.4 383.4,308.2M373.2,299.2 375.6,299.6M381.1,305.4 373.2,299.2" class="l"/>
<path d="M522.9,304.6 525.3,304.5 517.4,296.5 515.1,296.3z" class="g20"/><path d="M522.9,304.6 525.3,304.5M515.1,296.3 517.4,296.5M525.3,304.5 517.4,296.5" class="l"/>
<path d="M248.6,299.9 251,299.9 243.2,293.3 240.8,293.2z" class="g1c"/><path d="M248.6,299.9 251,299.9M240.8,293.2 243.2,293.3M248.6,299.9 240.8,293.2M251,299.9 243.2,293.3" class="l"/>
<path d="M520.5,304.6 522.9,304.6 515.1,296.3 512.7,296.1z" class="g20"/><path d="M520.5,304.6 522.9,304.6M512.7,296.1 515.1,296.3M520.5,304.6 512.7,296.1" class="l"/>
<path d="M378.7,304.7 381.1,305.4 373.2,299.2 370.9,298.8z" class="g18"/><path d="M378.7,304.7 381.1,305.4M370.9,298.8 373.2,299.2M381.1,305.4 373.2,299.2" class="l"/>
<path d="M246.3,300 248.6,299.9 240.8,293.2 238.5,293.3z" class="g1c"/><path d="M246.3,300 248.6,299.9M238.5,293.3 240.8,293.2M246.3,300 238.5,293.3M248.6,299.9 240.8,293.2" class="l"/>
<path d="M518.2,304.7 520.5,304.6 512.7,296.1 510.4,295.9z" class="g20"/><path d="M518.2,304.7 520.5,304.6M510.4,295.9 512.7,296.1M520.5,304.6 512.7,296.1" class="l"/>
<path d="M376.4,304.4 378.7,304.7 370.9,298.8 368.5,298.5z" class="g18"/><path d="M376.4,304.4 378.7,304.7M368.5,298.5 370.9,298.8M376.4,304.4 368.5,298.5" class="l"/>
<path d="M243.9,300 246.3,300 238.5,293.3 236.1,293.4z" class="g1c"/><path d="M243.9,300 246.3,300M236.1,293.4 238.5,293.3M243.9,300 236.1,293.4M246.3,300 238.5,293.3" class="l"/>
<path d="M515.8,304.5 518.2,304.7 510.4,295.9 508,295.7z" class="g20"/><path d="M515.8,304.5 518.2,304.7M508,295.7 510.4,295.9M515.8,304.5 508,295.7" class="l"/>
<path d="M241.6,300.1 243.9,300 236.1,293.4 233.8,293.4z" class="g1c"/><path d="M241.6,300.1 243.9,300M233.8,293.4 236.1,293.4M241.6,300.1 233.8,293.4M243.9,300 236.1,293.4" class="l"/>
<path d="M374,304.2 376.4,304.4 368.5,298.5 366.2,298.1z" class="g18"/><path d="M374,304.2 376.4,304.4M366.2,298.1 368.5,298.5M376.4,304.4 368.5,298.5" class="l"/>
<path d="M513.5,304.4 515.8,304.5 508,295.7 505.7,295.6z" class="g20"/><path d="M513.5,304.4 515.8,304.5M505.7,295.6 508,295.7M515.8,304.5 508,295.7" class="l"/>
<path d="M239.2,300.2 241.6,300.1 233.8,293.4 231.4,293.5z" class="g1c"/><path d="M239.2,300.2 241.6,300.1M231.4,293.5 233.8,293.4M239.2,300.2 231.4,293.5M241.6,300.1 233.8,293.4" class="l"/>
<path d="M371.7,304 374,304.2 366.2,298.1 363.8,297.9z" class="g18"/><path d="M371.7,304 374,304.2M363.8,297.9 366.2,298.1M371.7,304 363.8,297.9" class="l"/>
<path d="M236.9,300.2 239.2,300.2 231.4,293.5 229.1,293.6z" class="g1c"/><path d="M236.9,300.2 239.2,300.2M229.1,293.6 231.4,293.5M236.9,300.2 229.1,293.6M239.2,300.2 231.4,293.5" class="l"/>
<path d="M511.1,304.3 513.5,304.4 505.7,295.6 503.3,295.5z" class="g20"/><path d="M511.1,304.3 513.5,304.4M503.3,295.5 505.7,295.6M511.1,304.3 503.3,295.5" class="l"/>
<path d="M369.3,303.9 371.7,304 363.8,297.9 361.5,297.6z" class="g1c"/><path d="M369.3,303.9 371.7,304M361.5,297.6 363.8,297.9M371.7,304 363.8,297.9" class="l"/>
<path d="M234.5,300.3 236.9,300.2 229.1,293.6 226.7,293.7z" class="g1c"/><path d="M234.5,300.3 236.9,300.2M226.7,293.7 229.1,293.6M234.5,300.3 226.7,293.7M236.9,300.2 229.1,293.6" class="l"/>
<path d="M508.8,304.3 511.1,304.3 503.3,295.5 501,295.4z" class="g20"/><path d="M508.8,304.3 511.1,304.3M501,295.4 503.3,295.5M511.1,304.3 503.3,295.5" class="l"/>
<path d="M366.9,303.7 369.3,303.9 361.5,297.6 359.1,297.4z" class="g1c"/><path d="M366.9,303.7 369.3,303.9M359.1,297.4 361.5,297.6M366.9,303.7 359.1,297.4" class="l"/>
<path d="M232.2,300.4 234.5,300.3 226.7,293.7 224.3,293.8z" class="g1c"/><path d="M232.2,300.4 234.5,300.3M224.3,293.8 226.7,293.7M232.2,300.4 224.3,293.8M234.5,300.3 226.7,293.7" class="l"/>
<path d="M506.4,304.2 508.8,304.3 501,295.4 498.6,295.4z" class="g20"/><path d="M506.4,304.2 508.8,304.3M498.6,295.4 501,295.4M506.4,304.2 498.6,295.4" class="l"/>
<path d="M364.6,303.6 366.9,303.7 359.1,297.4 356.8,297.2z" class="g1c"/><path d="M364.6,303.6 366.9,303.7M356.8,297.2 359.1,297.4M366.9,303.7 359.1,297.4" class="l"/>
<path d="M229.8,300.5 232.2,300.4 224.3,293.8 222,293.8z" class="g1c"/><path d="M229.8,300.5 232.2,300.4M222,293.8 224.3,293.8M229.8,300.5 222,293.8M232.2,300.4 224.3,293.8" class="l"/>
<path d="M504.1,304.2 506.4,304.2 498.6,295.4 496.3,295.4z" class="g20"/><path d="M504.1,304.2 506.4,304.2M496.3,295.4 498.6,295.4M506.4,304.2 498.6,295.4" class="l"/>
<path d="M362.2,303.6 364.6,303.6 356.8,297.2 354.4,297.1z" class="g1c"/><path d="M362.2,303.6 364.6,303.6M354.4,297.1 356.8,297.2M362.2,303.6 354.4,297.1" class="l"/>
<path d="M227.5,300.5 229.8,300.5 222,293.8 219.6,293.9z" class="g1c"/><path d="M227.5,300.5 229.8,300.5M219.6,293.9 222,293.8M227.5,300.5 219.6,293.9M229.8,300.5 222,293.8" class="l"/>
<path d="M501.7,304.2 504.1,304.2 496.3,295.4 493.9,295.4z" class="g20"/><path d="M501.7,304.2 504.1,304.2M493.9,295.4 496.3,295.4M501.7,304.2 493.9,295.4" class="l"/>
<path d="M225.1,300.6 227.5,300.5 219.6,293.9 217.3,294z" class="g1c"/><path d="M225.1,300.6 227.5,300.5M217.3,294 219.6,293.9M225.1,300.6 217.3,294M227.5,300.5 219.6,293.9" class="l"/>
<path d="M359.9,303.5 362.2,303.6 354.4,297.1 352.1,297z" class="g1c"/><path d="M359.9,303.5 362.2,303.6M352.1,297 354.4,297.1M362.2,303.6 354.4,297.1" class="l"/>
<path d="M499.4,304.2 501.7,304.2 493.9,295.4 491.6,295.5z" class="g20"/><path d="M499.4,304.2 501.7,304.2M491.6,295.5 493.9,295.4M501.7,304.2 493.9,295.4" class="l"/>
<path d="M222.8,300.7 225.1,300.6 217.3,294 214.9,294.1z" class="g1c"/><path d="M222.8,300.7 225.1,300.6M214.9,294.1 217.3,294M222.8,300.7 214.9,294.1M225.1,300.6 217.3,294" class="l"/>
<path d="M357.5,303.5 359.9,303.5 352.1,297 349.7,297z" class="g1c"/><path d="M357.5,303.5 359.9,303.5M349.7,297 352.1,297M357.5,303.5 349.7,297" class="l"/>
<path d="M497,304.2 499.4,304.2 491.6,295.5 489.2,295.6z" class="g20"/><path d="M497,304.2 499.4,304.2M489.2,295.6 491.6,295.5M497,304.2 489.2,295.6" class="l"/>
<path d="M220.4,300.8 222.8,300.7 214.9,294.1 212.6,294.1z" class="g1c"/><path d="M220.4,300.8 222.8,300.7M212.6,294.1 214.9,294.1M220.4,300.8 212.6,294.1M222.8,300.7 214.9,294.1" class="l"/>
<path d="M355.2,303.5 357.5,303.5 349.7,297 347.4,297z" class="g1c"/><path d="M355.2,303.5 357.5,303.5M347.4,297 349.7,297M357.5,303.5 349.7,297" class="l"/>
<path d="M494.7,304.2 497,304.2 489.2,295.6 486.9,295.7z" class="g20"/><path d="M494.7,304.2 497,304.2M486.9,295.7 489.2,295.6M497,304.2 489.2,295.6" class="l"/>
<path d="M218.1,300.8 220.4,300.8 212.6,294.1 210.2,294.2z" class="g1c"/><path d="M218.1,300.8 220.4,300.8M210.2,294.2 212.6,294.1M218.1,300.8 210.2,294.2M220.4,300.8 212.6,294.1" class="l"/>
<path d="M352.8,303.5 355.2,303.5 347.4,297 345,297z" class="g1c"/><path d="M352.8,303.5 355.2,303.5M345,297 347.4,297M352.8,303.5 345,297" class="l"/>
<path d="M492.3,304.2 494.7,304.2 486.9,295.7 484.5,295.9z" class="g20"/><path d="M492.3,304.2 494.7,304.2M484.5,295.9 486.9,295.7M492.3,304.2 484.5,295.9" class="l"/>
<path d="M215.7,300.9 218.1,300.8 210.2,294.2 207.9,294.3z" class="g1c"/><path d="M215.7,300.9 218.1,300.8M207.9,294.3 210.2,294.2M215.7,300.9 207.9,294.3M218.1,300.8 210.2,294.2" class="l"/>
<path d="M350.5,303.6 352.8,303.5 345,297 342.7,297z" class="g1c"/><path d="M350.5,303.6 352.8,303.5M342.7,297 345,297M352.8,303.5 345,297" class="l"/>
<path d="M490,304.2 492.3,304.2 484.5,295.9 482.2,296z" class="g20"/><path d="M490,304.2 492.3,304.2M482.2,296 484.5,295.9M492.3,304.2 484.5,295.9" class="l"/>
<path d="M213.3,301 215.7,300.9 207.9,294.3 205.5,294.4z" class="g1c"/><path d="M213.3,301 215.7,300.9M205.5,294.4 207.9,294.3M213.3,301 205.5,294.4M215.7,300.9 207.9,294.3" class="l"/>
<path d="M348.1,303.6 350.5,303.6 342.7,297 340.3,297z" class="g1c"/><path d="M348.1,303.6 350.5,303.6M340.3,297 342.7,297M348.1,303.6 340.3,297" class="l"/>
<path d="M487.6,304.3 490,304.2 482.2,296 479.8,296.1z" class="g20"/><path d="M487.6,304.3 490,304.2M479.8,296.1 482.2,296M487.6,304.3 479.8,296.1" class="l"/>
<path d="M211,301.1 213.3,301 205.5,294.4 203.2,294.4z" class="g1c"/><path d="M211,301.1 213.3,301M203.2,294.4 205.5,294.4M211,301.1 203.2,294.4M213.3,301 205.5,294.4" class="l"/>
<path d="M345.8,303.7 348.1,303.6 340.3,297 338,297.1z" class="g1c"/><path d="M345.8,303.7 348.1,303.6M338,297.1 340.3,297M348.1,303.6 340.3,297" class="l"/>
<path d="M485.3,304.3 487.6,304.3 479.8,296.1 477.5,296.2z" class="g20"/><path d="M485.3,304.3 487.6,304.3M477.5,296.2 479.8,296.1M487.6,304.3 479.8,296.1" class="l"/>
<path d="M208.6,301.1 211,301.1 203.2,294.4 200.8,294.5z" class="g1c"/><path d="M208.6,301.1 211,301.1M200.8,294.5 203.2,294.4M208.6,301.1 200.8,294.5M211,301.1 203.2,294.4" class="l"/>
<path d="M482.9,304.4 485.3,304.3 477.5,296.2 475.1,296.3z" class="g20"/><path d="M482.9,304.4 485.3,304.3M475.1,296.3 477.5,296.2M482.9,304.4 475.1,296.3" class="l"/>
<path d="M343.4,303.7 345.8,303.7 338,297.1 335.6,297.1z" class="g1c"/><path d="M343.4,303.7 345.8,303.7M335.6,297.1 338,297.1M343.4,303.7 335.6,297.1" class="l"/>
<path d="M206.3,301.2 208.6,301.1 200.8,294.5 198.5,294.6z" class="g1c"/><path d="M206.3,301.2 208.6,301.1M198.5,294.6 200.8,294.5M206.3,301.2 198.5,294.6M208.6,301.1 200.8,294.5" class="l"/>
<path d="M480.6,304.3 482.9,304.4 475.1,296.3 472.8,296.5z" class="g24"/><path d="M480.6,304.3 482.9,304.4M472.8,296.5 475.1,296.3M482.9,304.4 475.1,296.3" class="l"/>
<path d="M341.1,303.8 343.4,303.7 335.6,297.1 333.3,297.2z" class="g1c"/><path d="M341.1,303.8 343.4,303.7M333.3,297.2 335.6,297.1M343.4,303.7 335.6,297.1" class="l"/>
<path d="M203.9,301.3 206.3,301.2 198.5,294.6 196.1,294.7z" class="g1c"/><path d="M203.9,301.3 206.3,301.2M196.1,294.7 198.5,294.6M203.9,301.3 196.1,294.7M206.3,301.2 198.5,294.6" class="l"/>
<path d="M478.2,304.3 480.6,304.3 472.8,296.5 470.4,296.7z" class="g24"/><path d="M478.2,304.3 480.6,304.3M470.4,296.7 472.8,296.5M478.2,304.3 470.4,296.7" class="l"/>
<path d="M338.7,303.9 341.1,303.8 333.3,297.2 330.9,297.2z" class="g1c"/><path d="M338.7,303.9 341.1,303.8M330.9,297.2 333.3,297.2M338.7,303.9 330.9,297.2" class="l"/>
<path d="M201.6,301.4 203.9,301.3 196.1,294.7 193.8,294.7z" class="g1c"/><path d="M201.6,301.4 203.9,301.3M193.8,294.7 196.1,294.7M201.6,301.4 193.8,294.7M203.9,301.3 196.1,294.7" class="l"/>
<path d="M475.9,304.2 478.2,304.3 470.4,296.7 468.1,296.9z" class="g24"/><path d="M475.9,304.2 478.2,304.3M468.1,296.9 470.4,296.7M478.2,304.3 470.4,296.7" class="l"/>
<path d="M336.4,303.9 338.7,303.9 330.9,297.2 328.6,297.3z" class="g1c"/><path d="M336.4,303.9 338.7,303.9M328.6,297.3 330.9,297.2M338.7,303.9 330.9,297.2" class="l"/>
<path d="M199.2,301.4 201.6,301.4 193.8,294.7 191.4,294.8z" class="g1c"/><path d="M199.2,301.4 201.6,301.4M191.4,294.8 193.8,294.7M199.2,301.4 191.4,294.8M201.6,301.4 193.8,294.7" class="l"/>
<path d="M473.5,304.2 475.9,304.2 468.1,296.9 465.7,297.1z" class="g24"/><path d="M473.5,304.2 475.9,304.2M465.7,297.1 468.1,296.9M473.5,304.2 465.7,297.1" class="l"/>
<path d="M334,304 336.4,303.9 328.6,297.3 326.2,297.4z" class="g1c"/><path d="M334,304 336.4,303.9M326.2,297.4 328.6,297.3M334,304 326.2,297.4" class="l"/>
<path d="M196.9,301.5 199.2,301.4 191.4,294.8 189.1,294.9z" class="g1c"/><path d="M196.9,301.5 199.2,301.4M189.1,294.9 191.4,294.8M196.9,301.5 189.1,294.9M199.2,301.4 191.4,294.8" class="l"/>
<path d="M471.2,304.2 473.5,304.2 465.7,297.1 463.4,297.3z" class="g24"/><path d="M471.2,304.2 473.5,304.2M463.4,297.3 465.7,297.1M473.5,304.2 465.7,297.1" class="l"/>
<path d="M331.7,304.1 334,304 326.2,297.4 323.9,297.5z" class="g1c"/><path d="M331.7,304.1 334,304M323.9,297.5 326.2,297.4M334,304 326.2,297.4" class="l"/>
<path d="M194.5,301.6 196.9,301.5 189.1,294.9 186.7,295z" class="g1c"/><path d="M194.5,301.6 196.9,301.5M186.7,295 189.1,294.9M194.5,301.6 186.7,295M196.9,301.5 189.1,294.9" class="l"/>
<path d="M468.8,304.2 471.2,304.2 463.4,297.3 461,297.5z" class="g24"/><path d="M468.8,304.2 471.2,304.2M461,297.5 463.4,297.3M468.8,304.2 461,297.5" class="l"/>
<path d="M329.3,304.1 331.7,304.1 323.9,297.5 321.5,297.6z" class="g1c"/><path d="M329.3,304.1 331.7,304.1M321.5,297.6 323.9,297.5M329.3,304.1 321.5,297.6" class="l"/>
<path d="M192.2,301.7 194.5,301.6 186.7,295 184.4,295z" class="g1c"/><path d="M192.2,301.7 194.5,301.6M184.4,295 186.7,295M192.2,301.7 184.4,295M194.5,301.6 186.7,295" class="l"/>
<path d="M466.5,304.3 468.8,304.2 461,297.5 458.7,297.7z" class="g24"/><path d="M466.5,304.3 468.8,304.2M458.7,297.7 461,297.5M468.8,304.2 461,297.5" class="l"/>
<path d="M327,304.1 329.3,304.1 321.5,297.6 319.2,297.7z" class="g20"/><path d="M327,304.1 329.3,304.1M319.2,297.7 321.5,297.6M329.3,304.1 321.5,297.6" class="l"/>
<path d="M189.8,301.7 192.2,301.7 184.4,295 182,295.1z" class="g1c"/><path d="M189.8,301.7 192.2,301.7M182,295.1 184.4,295M189.8,301.7 182,295.1M192.2,301.7 184.4,295" class="l"/>
<path d="M464.1,304.4 466.5,304.3 458.7,297.7 456.3,297.8z" class="g24"/><path d="M464.1,304.4 466.5,304.3M456.3,297.8 458.7,297.7M464.1,304.4 456.3,297.8" class="l"/>
<path d="M324.6,304 327,304.1 319.2,297.7 316.8,297.8z" class="g20"/><path d="M324.6,304 327,304.1M316.8,297.8 319.2,297.7M324.6,304 316.8,297.8" class="l"/>
<path d="M187.5,301.8 189.8,301.7 182,295.1 179.7,295.2z" class="g1c"/><path d="M187.5,301.8 189.8,301.7M179.7,295.2 182,295.1M187.5,301.8 179.7,295.2M189.8,301.7 182,295.1" class="l"/>
<path d="M461.8,304.5 464.1,304.4 456.3,297.8 454,298z" class="g24"/><path d="M461.8,304.5 464.1,304.4M454,298 456.3,297.8M464.1,304.4 456.3,297.8" class="l"/>
<path d="M322.3,303.9 324.6,304 316.8,297.8 314.5,297.9z" class="g20"/><path d="M322.3,303.9 324.6,304M314.5,297.9 316.8,297.8M324.6,304 316.8,297.8" class="l"/>
<path d="M185.1,301.9 187.5,301.8 179.7,295.2 177.3,295.3z" class="g1c"/><path d="M185.1,301.9 187.5,301.8M177.3,295.3 179.7,295.2M185.1,301.9 177.3,295.3M187.5,301.8 179.7,295.2" class="l"/>
<path d="M459.4,304.5 461.8,304.5 454,298 451.6,298.2z" class="g24"/><path d="M459.4,304.5 461.8,304.5M451.6,298.2 454,298M459.4,304.5 451.6,298.2" class="l"/>
<path d="M319.9,303.8 322.3,303.9 314.5,297.9 312.1,298z" class="g20"/><path d="M319.9,303.8 322.3,303.9M312.1,298 314.5,297.9M319.9,303.8 312.1,298" class="l"/>
<path d="M182.8,302 185.1,301.9 177.3,295.3 175,295.3z" class="g1c"/><path d="M182.8,302 185.1,301.9M175,295.3 177.3,295.3M182.8,302 175,295.3M185.1,301.9 177.3,295.3" class="l"/>
<path d="M457.1,304.6 459.4,304.5 451.6,298.2 449.2,298.7z" class="g24"/><path d="M457.1,304.6 459.4,304.5M449.2,298.7 451.6,298.2M459.4,304.5 451.6,298.2" class="l"/>
<path d="M317.6,303.3 319.9,303.8 312.1,298 309.8,298.1z" class="g20"/><path d="M317.6,303.3 319.9,303.8M309.8,298.1 312.1,298M319.9,303.8 312.1,298" class="l"/>
<path d="M180.4,302 182.8,302 175,295.3 172.6,295.4z" class="g1c"/><path d="M180.4,302 182.8,302M172.6,295.4 175,295.3M180.4,302 172.6,295.4M182.8,302 175,295.3" class="l"/>
<path d="M454.7,304.7 457.1,304.6 449.2,298.7 446.9,299.1z" class="g24"/><path d="M454.7,304.7 457.1,304.6M446.9,299.1 449.2,298.7M454.7,304.7 446.9,299.1" class="l"/>
<path d="M315.2,303 317.6,303.3 309.8,298.1 307.4,298.3z" class="g20"/><path d="M315.2,303 317.6,303.3M307.4,298.3 309.8,298.1M315.2,303 307.4,298.3" class="l"/>
<path d="M452.4,304.7 454.7,304.7 446.9,299.1 444.5,299.5z" class="g24"/><path d="M452.4,304.7 454.7,304.7M444.5,299.5 446.9,299.1M454.7,304.7 446.9,299.1" class="l"/>
<path d="M178.1,302.1 180.4,302 172.6,295.4 170.3,295.5z" class="g1c"/><path d="M178.1,302.1 180.4,302M170.3,295.5 172.6,295.4M178.1,302.1 170.3,295.5M180.4,302 172.6,295.4" class="l"/>
<path d="M450,305 452.4,304.7 444.5,299.5 442.2,300z" class="g24"/><path d="M450,305 452.4,304.7M442.2,300 444.5,299.5M450,305 442.2,300" class="l"/>
<path d="M312.9,302.6 315.2,303 307.4,298.3 305.1,298.4z" class="g24"/><path d="M312.9,302.6 315.2,303M305.1,298.4 307.4,298.3M315.2,303 307.4,298.3" class="l"/>
<path d="M175.7,302.2 178.1,302.1 170.3,295.5 167.9,295.6z" class="g1c"/><path d="M175.7,302.2 178.1,302.1M167.9,295.6 170.3,295.5M175.7,302.2 167.9,295.6M178.1,302.1 170.3,295.5" class="l"/>
<path d="M447.7,305.4 450,305 442.2,300 439.8,300.5z" class="g20"/><path d="M447.7,305.4 450,305M439.8,300.5 442.2,300M450,305 442.2,300" class="l"/>
<path d="M173.4,302.3 175.7,302.2 167.9,295.6 165.6,295.6z" class="g1c"/><path d="M173.4,302.3 175.7,302.2M165.6,295.6 167.9,295.6M173.4,302.3 165.6,295.6M175.7,302.2 167.9,295.6" class="l"/>
<path d="M310.5,302.1 312.9,302.6 305.1,298.4 302.7,298.5z" class="g24"/><path d="M310.5,302.1 312.9,302.6M302.7,298.5 305.1,298.4M310.5,302.1 302.7,298.5" class="l"/>
<path d="M445.3,305.9 447.7,305.4 439.8,300.5 437.5,301.1z" class="g20"/><path d="M445.3,305.9 447.7,305.4M437.5,301.1 439.8,300.5M445.3,305.9 437.5,301.1" class="l"/>
<path d="M580.1,309.5 582.1,309.5 574.3,303 572.3,303z" class="g20"/><path d="M580.1,309.5 582.1,309.5M572.3,303 574.3,303M580.1,309.5 572.3,303M582.1,309.5 574.3,303" class="l"/>
<path d="M442.9,306.5 445.3,305.9 437.5,301.1 435.1,302z" class="g20"/><path d="M442.9,306.5 445.3,305.9M435.1,302 437.5,301.1M445.3,305.9 437.5,301.1" class="l"/>
<path d="M171,302.3 173.4,302.3 165.6,295.6 163.2,295.7z" class="g1c"/><path d="M171,302.3 173.4,302.3M163.2,295.7 165.6,295.6M171,302.3 163.2,295.7M173.4,302.3 165.6,295.6" class="l"/>
<path d="M308.2,301.6 310.5,302.1 302.7,298.5 300.4,298.6z" class="g28"/><path d="M308.2,301.6 310.5,302.1M300.4,298.6 302.7,298.5M310.5,302.1 302.7,298.5" class="l"/>
<path d="M577.7,309.6 580.1,309.5 572.3,303 569.9,303.1z" class="g20"/><path d="M577.7,309.6 580.1,309.5M569.9,303.1 572.3,303M580.1,309.5 572.3,303" class="l"/>
<path d="M440.6,307 442.9,306.5 435.1,302 432.8,302.9z" class="g20"/><path d="M440.6,307 442.9,306.5M432.8,302.9 435.1,302M440.6,307 432.8,302.9" class="l"/>
<path d="M168.7,302.4 171,302.3 163.2,295.7 160.9,295.8z" class="g1c"/><path d="M168.7,302.4 171,302.3M160.9,295.8 163.2,295.7M168.7,302.4 160.9,295.8M171,302.3 163.2,295.7" class="l"/>
<path d="M438.2,307.5 440.6,307 432.8,302.9 430.4,303.9z" class="g1c"/><path d="M438.2,307.5 440.6,307M430.4,303.9 432.8,302.9M440.6,307 432.8,302.9" class="l"/>
<path d="M575.4,309.7 577.7,309.6 569.9,303.1 567.6,303.2z" class="g20"/><path d="M575.4,309.7 577.7,309.6M567.6,303.2 569.9,303.1M575.4,309.7 567.6,303.2" class="l"/>
<path d="M305.8,301 308.2,301.6 300.4,298.6 298,298.8z" class="g28"/><path d="M305.8,301 308.2,301.6M298,298.8 300.4,298.6M305.8,301 298,298.8" class="l"/>
<path d="M435.9,308.3 438.2,307.5 430.4,303.9 428.1,305z" class="g1c"/><path d="M435.9,308.3 438.2,307.5M428.1,305 430.4,303.9M435.9,308.3 428.1,305" class="l"/>
<path d="M433.5,309.4 435.9,308.3 428.1,305 425.7,306.3z" class="g14"/><path d="M433.5,309.4 435.9,308.3M425.7,306.3 428.1,305M435.9,308.3 428.1,305" class="l"/>
<path d="M166.3,302.5 168.7,302.4 160.9,295.8 158.5,295.9z" class="g1c"/><path d="M166.3,302.5 168.7,302.4M158.5,295.9 160.9,295.8M166.3,302.5 158.5,295.9M168.7,302.4 160.9,295.8" class="l"/>
<path d="M431.2,310.4 433.5,309.4 425.7,306.3 423.4,307.6z" class="g14"/><path d="M431.2,310.4 433.5,309.4M423.4,307.6 425.7,306.3M431.2,310.4 423.4,307.6" class="l"/>
<path d="M573,309.8 575.4,309.7 567.6,303.2 565.2,303.2z" class="g20"/><path d="M573,309.8 575.4,309.7M565.2,303.2 567.6,303.2M575.4,309.7 567.6,303.2" class="l"/>
<path d="M428.8,311.5 431.2,310.4 423.4,307.6 421,308.9z" class="g10"/><path d="M428.8,311.5 431.2,310.4M421,308.9 423.4,307.6M431.2,310.4 423.4,307.6" class="l"/>
<path d="M303.5,300.4 305.8,301 298,298.8 295.6,298.9z" class="g2c"/><path d="M303.5,300.4 305.8,301M295.6,298.9 298,298.8M305.8,301 298,298.8" class="l"/>
<path d="M426.5,312.8 428.8,311.5 421,308.9 418.7,309.7z" class="g10"/><path d="M426.5,312.8 428.8,311.5M418.7,309.7 421,308.9M426.5,312.8 418.7,309.7" class="l"/>
<path d="M164,302.6 166.3,302.5 158.5,295.9 156.2,295.9z" class="g1c"/><path d="M164,302.6 166.3,302.5M156.2,295.9 158.5,295.9M164,302.6 156.2,295.9M166.3,302.5 158.5,295.9" class="l"/>
<path d="M424.1,314.3 426.5,312.8 418.7,309.7 416.3,310.5z" class="g8"/><path d="M424.1,314.3 426.5,312.8M416.3,310.5 418.7,309.7M426.5,312.8 418.7,309.7" class="l"/>
<path d="M570.7,309.9 573,309.8 565.2,303.2 562.9,303.3z" class="g20"/><path d="M570.7,309.9 573,309.8M562.9,303.3 565.2,303.2M570.7,309.9 562.9,303.3" class="l"/>
<path d="M421.8,315.7 424.1,314.3 416.3,310.5 414,311.2z" class="g8"/><path d="M421.8,315.7 424.1,314.3M414,311.2 416.3,310.5M421.8,315.7 414,311.2" class="l"/>
<path d="M301.1,299.8 303.5,300.4 295.6,298.9 293.3,299z" class="g2c"/><path d="M301.1,299.8 303.5,300.4M293.3,299 295.6,298.9M301.1,299.8 293.3,299" class="l"/>
<path d="M419.4,317.1 421.8,315.7 414,311.2 411.6,312z" class="g0"/><path d="M419.4,317.1 421.8,315.7M411.6,312 414,311.2M421.8,315.7 414,311.2" class="l"/>
<path d="M161.6,302.7 164,302.6 156.2,295.9 153.8,296z" class="g1c"/><path d="M161.6,302.7 164,302.6M153.8,296 156.2,295.9M161.6,302.7 153.8,296M164,302.6 156.2,295.9" class="l"/>
<path d="M568.3,310 570.7,309.9 562.9,303.3 560.5,303.4z" class="g20"/><path d="M568.3,310 570.7,309.9M560.5,303.4 562.9,303.3M570.7,309.9 562.9,303.3" class="l"/>
<path d="M417.1,317.9 419.4,317.1 411.6,312 409.3,312.6z" class="g0"/><path d="M417.1,317.9 419.4,317.1M409.3,312.6 411.6,312M417.1,317.9 409.3,312.6" class="l"/>
<path d="M298.8,299.2 301.1,299.8 293.3,299 290.9,299.2z" class="g30"/><path d="M298.8,299.2 301.1,299.8M290.9,299.2 293.3,299M301.1,299.8 293.3,299" class="l"/>
<path d="M159.3,302.7 161.6,302.7 153.8,296 151.5,296.1z" class="g1c"/><path d="M159.3,302.7 161.6,302.7M151.5,296.1 153.8,296M159.3,302.7 151.5,296.1M161.6,302.7 153.8,296" class="l"/>
<path d="M414.7,318.6 417.1,317.9 409.3,312.6 406.9,312.7z" class="g0"/><path d="M414.7,318.6 417.1,317.9M406.9,312.7 409.3,312.6M417.1,317.9 409.3,312.6" class="l"/>
<path d="M566,310.1 568.3,310 560.5,303.4 558.2,303.4z" class="g20"/><path d="M566,310.1 568.3,310M558.2,303.4 560.5,303.4M566,310.1 558.2,303.4" class="l"/>
<path d="M412.4,319.2 414.7,318.6 406.9,312.7 404.6,312.7z" class="g0"/><path d="M412.4,319.2 414.7,318.6M404.6,312.7 406.9,312.7M412.4,319.2 404.6,312.7" class="l"/>
<path d="M156.9,302.8 159.3,302.7 151.5,296.1 149.1,296.2z" class="g1c"/><path d="M156.9,302.8 159.3,302.7M149.1,296.2 151.5,296.1M156.9,302.8 149.1,296.2M159.3,302.7 151.5,296.1" class="l"/>
<path d="M296.4,298.5 298.8,299.2 290.9,299.2 288.6,299.3z" class="g30"/><path d="M296.4,298.5 298.8,299.2M288.6,299.3 290.9,299.2M296.4,298.5 288.6,299.3" class="l"/>
<path d="M563.6,310.1 566,310.1 558.2,303.4 555.8,303.5z" class="g20"/><path d="M563.6,310.1 566,310.1M555.8,303.5 558.2,303.4M566,310.1 558.2,303.4" class="l"/>
<path d="M410,319.8 412.4,319.2 404.6,312.7 402.2,312.7z" class="g0"/><path d="M410,319.8 412.4,319.2M402.2,312.7 404.6,312.7M412.4,319.2 404.6,312.7" class="l"/>
<path d="M154.6,302.9 156.9,302.8 149.1,296.2 146.8,296.2z" class="g1c"/><path d="M154.6,302.9 156.9,302.8M146.8,296.2 149.1,296.2M154.6,302.9 146.8,296.2M156.9,302.8 149.1,296.2" class="l"/>
<path d="M561.3,310.2 563.6,310.1 555.8,303.5 553.5,303.6z" class="g20"/><path d="M561.3,310.2 563.6,310.1M553.5,303.6 555.8,303.5M561.3,310.2 553.5,303.6" class="l"/>
<path d="M294.1,297.7 296.4,298.5 288.6,299.3 286.2,299.5z" class="g38"/><path d="M294.1,297.7 296.4,298.5M286.2,299.5 288.6,299.3M296.4,298.5 288.6,299.3" class="l"/>
<path d="M407.7,320.4 410,319.8 402.2,312.7 399.9,312.5z" class="g0"/><path d="M407.7,320.4 410,319.8M399.9,312.5 402.2,312.7M407.7,320.4 399.9,312.5" class="l"/>
<path d="M152.2,303 154.6,302.9 146.8,296.2 144.4,296.3z" class="g1c"/><path d="M152.2,303 154.6,302.9M144.4,296.3 146.8,296.2M152.2,303 144.4,296.3M154.6,302.9 146.8,296.2" class="l"/>
<path d="M558.9,310.3 561.3,310.2 553.5,303.6 551.1,303.8z" class="g20"/><path d="M558.9,310.3 561.3,310.2M551.1,303.8 553.5,303.6M561.3,310.2 553.5,303.6" class="l"/>
<path d="M291.7,296.9 294.1,297.7 286.2,299.5 283.9,299.6z" class="g38"/><path d="M291.7,296.9 294.1,297.7M283.9,299.6 286.2,299.5M291.7,296.9 283.9,299.6" class="l"/>
<path d="M405.3,320.2 407.7,320.4 399.9,312.5 397.5,312.3z" class="g0"/><path d="M405.3,320.2 407.7,320.4M397.5,312.3 399.9,312.5M407.7,320.4 399.9,312.5" class="l"/>
<path d="M149.9,303 152.2,303 144.4,296.3 142,296.4z" class="g1c"/><path d="M149.9,303 152.2,303M142,296.4 144.4,296.3M149.9,303 142,296.4M152.2,303 144.4,296.3" class="l"/>
<path d="M556.6,310.3 558.9,310.3 551.1,303.8 548.8,303.9z" class="g20"/><path d="M556.6,310.3 558.9,310.3M548.8,303.9 551.1,303.8M556.6,310.3 548.8,303.9" class="l"/>
<path d="M403,319.9 405.3,320.2 397.5,312.3 395.2,312.1z" class="g0"/><path d="M403,319.9 405.3,320.2M395.2,312.1 397.5,312.3M403,319.9 395.2,312.1" class="l"/>
<path d="M289.4,296 291.7,296.9 283.9,299.6 281.5,299.7z" class="g3c"/><path d="M289.4,296 291.7,296.9M281.5,299.7 283.9,299.6M291.7,296.9 283.9,299.6" class="l"/>
<path d="M147.5,303.1 149.9,303 142,296.4 139.7,296.5z" class="g1c"/><path d="M147.5,303.1 149.9,303M139.7,296.5 142,296.4M147.5,303.1 139.7,296.5M149.9,303 142,296.4" class="l"/>
<path d="M554.2,310.4 556.6,310.3 548.8,303.9 546.4,304z" class="g20"/><path d="M554.2,310.4 556.6,310.3M546.4,304 548.8,303.9M556.6,310.3 548.8,303.9" class="l"/>
<path d="M145.2,303.2 147.5,303.1 139.7,296.5 137.3,296.5z" class="g1c"/><path d="M145.2,303.2 147.5,303.1M137.3,296.5 139.7,296.5M145.2,303.2 137.3,296.5M147.5,303.1 139.7,296.5" class="l"/>
<path d="M400.6,319.6 403,319.9 395.2,312.1 392.8,311.8z" class="g0"/><path d="M400.6,319.6 403,319.9M392.8,311.8 395.2,312.1M403,319.9 395.2,312.1" class="l"/>
<path d="M287,295.3 289.4,296 281.5,299.7 279.2,299.8z" class="g3c"/><path d="M287,295.3 289.4,296M279.2,299.8 281.5,299.7M287,295.3 279.2,299.8" class="l"/>
<path d="M551.9,310.6 554.2,310.4 546.4,304 544.1,304.2z" class="g20"/><path d="M551.9,310.6 554.2,310.4M544.1,304.2 546.4,304M551.9,310.6 544.1,304.2" class="l"/>
<path d="M142.8,303.3 145.2,303.2 137.3,296.5 135,296.6z" class="g1c"/><path d="M142.8,303.3 145.2,303.2M135,296.6 137.3,296.5M142.8,303.3 135,296.6M145.2,303.2 137.3,296.5" class="l"/>
<path d="M549.5,310.8 551.9,310.6 544.1,304.2 541.7,304.3z" class="g1c"/><path d="M549.5,310.8 551.9,310.6M541.7,304.3 544.1,304.2M551.9,310.6 544.1,304.2" class="l"/>
<path d="M398.3,319.3 400.6,319.6 392.8,311.8 390.5,311z" class="g0"/><path d="M398.3,319.3 400.6,319.6M390.5,311 392.8,311.8M398.3,319.3 390.5,311" class="l"/>
<path d="M284.6,294.5 287,295.3 279.2,299.8 276.8,299.9z" class="g40"/><path d="M284.6,294.5 287,295.3M276.8,299.9 279.2,299.8M287,295.3 279.2,299.8" class="l"/>
<path d="M140.5,303.3 142.8,303.3 135,296.6 132.6,296.7z" class="g1c"/><path d="M140.5,303.3 142.8,303.3M132.6,296.7 135,296.6M140.5,303.3 132.6,296.7M142.8,303.3 135,296.6" class="l"/>
<path d="M547.2,311 549.5,310.8 541.7,304.3 539.4,304.4z" class="g1c"/><path d="M547.2,311 549.5,310.8M539.4,304.4 541.7,304.3M547.2,311 539.4,304.4" class="l"/>
<path d="M282.3,293.8 284.6,294.5 276.8,299.9 274.5,299.9z" class="g40"/><path d="M282.3,293.8 284.6,294.5M274.5,299.9 276.8,299.9M282.3,293.8 274.5,299.9" class="l"/>
<path d="M395.9,319 398.3,319.3 390.5,311 388.1,310.1z" class="g0"/><path d="M395.9,319 398.3,319.3M388.1,310.1 390.5,311M398.3,319.3 390.5,311" class="l"/>
<path d="M138.1,303.4 140.5,303.3 132.6,296.7 130.3,296.8z" class="g1c"/><path d="M138.1,303.4 140.5,303.3M130.3,296.8 132.6,296.7M138.1,303.4 130.3,296.8M140.5,303.3 132.6,296.7" class="l"/>
<path d="M544.8,311.2 547.2,311 539.4,304.4 537,304.5z" class="g1c"/><path d="M544.8,311.2 547.2,311M537,304.5 539.4,304.4M547.2,311 539.4,304.4" class="l"/>
<path d="M279.9,293.5 282.3,293.8 274.5,299.9 272.1,299.9z" class="g44"/><path d="M279.9,293.5 282.3,293.8M272.1,299.9 274.5,299.9M279.9,293.5 272.1,299.9M282.3,293.8 274.5,299.9" class="l"/>
<path d="M542.5,311.5 544.8,311.2 537,304.5 534.7,304.5z" class="g1c"/><path d="M542.5,311.5 544.8,311.2M534.7,304.5 537,304.5M542.5,311.5 534.7,304.5" class="l"/>
<path d="M393.6,318.6 395.9,319 388.1,310.1 385.8,309.1z" class="g0"/><path d="M393.6,318.6 395.9,319M385.8,309.1 388.1,310.1M393.6,318.6 385.8,309.1" class="l"/>
<path d="M540.1,311.7 542.5,311.5 534.7,304.5 532.3,304.5z" class="g1c"/><path d="M540.1,311.7 542.5,311.5M532.3,304.5 534.7,304.5M542.5,311.5 534.7,304.5" class="l"/>
<path d="M277.6,293.3 279.9,293.5 272.1,299.9 269.8,300z" class="g44"/><path d="M277.6,293.3 279.9,293.5M269.8,300 272.1,299.9M277.6,293.3 269.8,300M279.9,293.5 272.1,299.9" class="l"/>
<path d="M391.2,318.2 393.6,318.6 385.8,309.1 383.4,308.2z" class="g4"/><path d="M391.2,318.2 393.6,318.6M383.4,308.2 385.8,309.1M393.6,318.6 385.8,309.1" class="l"/>
<path d="M537.8,311.9 540.1,311.7 532.3,304.5 530,304.5z" class="g1c"/><path d="M537.8,311.9 540.1,311.7M530,304.5 532.3,304.5M537.8,311.9 530,304.5" class="l"/>
<path d="M275.2,293.3 277.6,293.3 269.8,300 267.4,300z" class="g40"/><path d="M275.2,293.3 277.6,293.3M267.4,300 269.8,300M275.2,293.3 267.4,300M277.6,293.3 269.8,300" class="l"/>
<path d="M535.4,312.1 537.8,311.9 530,304.5 527.6,304.5z" class="g1c"/><path d="M535.4,312.1 537.8,311.9M527.6,304.5 530,304.5M537.8,311.9 530,304.5" class="l"/>
<path d="M272.9,293.6 275.2,293.3 267.4,300 265.1,300z" class="g40"/><path d="M272.9,293.6 275.2,293.3M265.1,300 267.4,300M272.9,293.6 265.1,300M275.2,293.3 267.4,300" class="l"/>
<path d="M388.9,317.5 391.2,318.2 383.4,308.2 381.1,305.4z" class="g4"/><path d="M388.9,317.5 391.2,318.2M381.1,305.4 383.4,308.2M388.9,317.5 381.1,305.4" class="l"/>
<path d="M533.1,312.2 535.4,312.1 527.6,304.5 525.3,304.5z" class="g1c"/><path d="M533.1,312.2 535.4,312.1M525.3,304.5 527.6,304.5M533.1,312.2 525.3,304.5" class="l"/>
<path d="M270.5,294.1 272.9,293.6 265.1,300 262.7,300z" class="g40"/><path d="M270.5,294.1 272.9,293.6M262.7,300 265.1,300M270.5,294.1 262.7,300M272.9,293.6 265.1,300" class="l"/>
<path d="M268.2,294.9 270.5,294.1 262.7,300 260.4,300z" class="g40"/><path d="M268.2,294.9 270.5,294.1M260.4,300 262.7,300M268.2,294.9 260.4,300M270.5,294.1 262.7,300" class="l"/>
<path d="M530.7,312.3 533.1,312.2 525.3,304.5 522.9,304.6z" class="g18"/><path d="M530.7,312.3 533.1,312.2M522.9,304.6 525.3,304.5M533.1,312.2 525.3,304.5" class="l"/>
<path d="M386.5,316.4 388.9,317.5 381.1,305.4 378.7,304.7z" class="gc"/><path d="M386.5,316.4 388.9,317.5M378.7,304.7 381.1,305.4M388.9,317.5 381.1,305.4" class="l"/>
<path d="M265.8,295.9 268.2,294.9 260.4,300 258,299.9z" class="g38"/><path d="M265.8,295.9 268.2,294.9M258,299.9 260.4,300M265.8,295.9 258,299.9M268.2,294.9 260.4,300" class="l"/>
<path d="M528.4,312.5 530.7,312.3 522.9,304.6 520.5,304.6z" class="g18"/><path d="M528.4,312.5 530.7,312.3M520.5,304.6 522.9,304.6M528.4,312.5 520.5,304.6" class="l"/>
<path d="M263.5,297 265.8,295.9 258,299.9 255.7,299.9z" class="g38"/><path d="M263.5,297 265.8,295.9M255.7,299.9 258,299.9M263.5,297 255.7,299.9M265.8,295.9 258,299.9" class="l"/>
<path d="M526,312.6 528.4,312.5 520.5,304.6 518.2,304.7z" class="g18"/><path d="M526,312.6 528.4,312.5M518.2,304.7 520.5,304.6M528.4,312.5 520.5,304.6" class="l"/>
<path d="M261.1,298.4 263.5,297 255.7,299.9 253.3,299.9z" class="g30"/><path d="M261.1,298.4 263.5,297M253.3,299.9 255.7,299.9M261.1,298.4 253.3,299.9M263.5,297 255.7,299.9" class="l"/>
<path d="M384.2,315.3 386.5,316.4 378.7,304.7 376.4,304.4z" class="gc"/><path d="M384.2,315.3 386.5,316.4M376.4,304.4 378.7,304.7M384.2,315.3 376.4,304.4" class="l"/>
<path d="M258.8,299.6 261.1,298.4 253.3,299.9 251,299.9z" class="g30"/><path d="M258.8,299.6 261.1,298.4M251,299.9 253.3,299.9M258.8,299.6 251,299.9M261.1,298.4 253.3,299.9" class="l"/>
<path d="M523.7,312.7 526,312.6 518.2,304.7 515.8,304.5z" class="g18"/><path d="M523.7,312.7 526,312.6M515.8,304.5 518.2,304.7M523.7,312.7 515.8,304.5" class="l"/>
<path d="M256.4,301.4 258.8,299.6 251,299.9 248.6,299.9z" class="g28"/><path d="M256.4,301.4 258.8,299.6M248.6,299.9 251,299.9M256.4,301.4 248.6,299.9M258.8,299.6 251,299.9" class="l"/>
<path d="M381.8,314.3 384.2,315.3 376.4,304.4 374,304.2z" class="g18"/><path d="M381.8,314.3 384.2,315.3M374,304.2 376.4,304.4M384.2,315.3 376.4,304.4" class="l"/>
<path d="M254.1,303.1 256.4,301.4 248.6,299.9 246.3,300z" class="g28"/><path d="M254.1,303.1 256.4,301.4M246.3,300 248.6,299.9M254.1,303.1 246.3,300M256.4,301.4 248.6,299.9" class="l"/>
<path d="M521.3,312.9 523.7,312.7 515.8,304.5 513.5,304.4z" class="g18"/><path d="M521.3,312.9 523.7,312.7M513.5,304.4 515.8,304.5M523.7,312.7 515.8,304.5" class="l"/>
<path d="M251.7,304.2 254.1,303.1 246.3,300 243.9,300z" class="g20"/><path d="M251.7,304.2 254.1,303.1M243.9,300 246.3,300M251.7,304.2 243.9,300M254.1,303.1 246.3,300" class="l"/>
<path d="M249.4,305.2 251.7,304.2 243.9,300 241.6,300.1z" class="g20"/><path d="M249.4,305.2 251.7,304.2M241.6,300.1 243.9,300M249.4,305.2 241.6,300.1M251.7,304.2 243.9,300" class="l"/>
<path d="M519,313 521.3,312.9 513.5,304.4 511.1,304.3z" class="g18"/><path d="M519,313 521.3,312.9M511.1,304.3 513.5,304.4M519,313 511.1,304.3" class="l"/>
<path d="M379.5,311 381.8,314.3 374,304.2 371.7,304z" class="g18"/><path d="M379.5,311 381.8,314.3M371.7,304 374,304.2M379.5,311 371.7,304" class="l"/>
<path d="M247,305.9 249.4,305.2 241.6,300.1 239.2,300.2z" class="g20"/><path d="M247,305.9 249.4,305.2M239.2,300.2 241.6,300.1M247,305.9 239.2,300.2M249.4,305.2 241.6,300.1" class="l"/>
<path d="M516.6,313.2 519,313 511.1,304.3 508.8,304.3z" class="g18"/><path d="M516.6,313.2 519,313M508.8,304.3 511.1,304.3M519,313 511.1,304.3" class="l"/>
<path d="M244.7,306.4 247,305.9 239.2,300.2 236.9,300.2z" class="g20"/><path d="M244.7,306.4 247,305.9M236.9,300.2 239.2,300.2M244.7,306.4 236.9,300.2M247,305.9 239.2,300.2" class="l"/>
<path d="M377.1,310.1 379.5,311 371.7,304 369.3,303.9z" class="g1c"/><path d="M377.1,310.1 379.5,311M369.3,303.9 371.7,304M379.5,311 371.7,304" class="l"/>
<path d="M514.2,313.2 516.6,313.2 508.8,304.3 506.4,304.2z" class="g18"/><path d="M514.2,313.2 516.6,313.2M506.4,304.2 508.8,304.3M514.2,313.2 506.4,304.2" class="l"/>
<path d="M242.3,306.8 244.7,306.4 236.9,300.2 234.5,300.3z" class="g1c"/><path d="M242.3,306.8 244.7,306.4M234.5,300.3 236.9,300.2M242.3,306.8 234.5,300.3M244.7,306.4 236.9,300.2" class="l"/>
<path d="M511.9,313.1 514.2,313.2 506.4,304.2 504.1,304.2z" class="g1c"/><path d="M511.9,313.1 514.2,313.2M504.1,304.2 506.4,304.2M514.2,313.2 506.4,304.2" class="l"/>
<path d="M374.8,310.1 377.1,310.1 369.3,303.9 366.9,303.7z" class="g1c"/><path d="M374.8,310.1 377.1,310.1M366.9,303.7 369.3,303.9M374.8,310.1 366.9,303.7" class="l"/>
<path d="M240,307 242.3,306.8 234.5,300.3 232.2,300.4z" class="g1c"/><path d="M240,307 242.3,306.8M232.2,300.4 234.5,300.3M240,307 232.2,300.4M242.3,306.8 234.5,300.3" class="l"/>
<path d="M509.5,313 511.9,313.1 504.1,304.2 501.7,304.2z" class="g1c"/><path d="M509.5,313 511.9,313.1M501.7,304.2 504.1,304.2M509.5,313 501.7,304.2" class="l"/>
<path d="M237.6,307.1 240,307 232.2,300.4 229.8,300.5z" class="g1c"/><path d="M237.6,307.1 240,307M229.8,300.5 232.2,300.4M237.6,307.1 229.8,300.5M240,307 232.2,300.4" class="l"/>
<path d="M372.4,310 374.8,310.1 366.9,303.7 364.6,303.6z" class="g1c"/><path d="M372.4,310 374.8,310.1M364.6,303.6 366.9,303.7M374.8,310.1 366.9,303.7" class="l"/>
<path d="M507.2,312.9 509.5,313 501.7,304.2 499.4,304.2z" class="g1c"/><path d="M507.2,312.9 509.5,313M499.4,304.2 501.7,304.2M509.5,313 501.7,304.2" class="l"/>
<path d="M235.3,307.2 237.6,307.1 229.8,300.5 227.5,300.5z" class="g1c"/><path d="M235.3,307.2 237.6,307.1M227.5,300.5 229.8,300.5M235.3,307.2 227.5,300.5M237.6,307.1 229.8,300.5" class="l"/>
<path d="M370.1,310 372.4,310 364.6,303.6 362.2,303.6z" class="g1c"/><path d="M370.1,310 372.4,310M362.2,303.6 364.6,303.6M370.1,310 362.2,303.6" class="l"/>
<path d="M232.9,307.2 235.3,307.2 227.5,300.5 225.1,300.6z" class="g1c"/><path d="M232.9,307.2 235.3,307.2M225.1,300.6 227.5,300.5M232.9,307.2 225.1,300.6M235.3,307.2 227.5,300.5" class="l"/>
<path d="M504.8,312.9 507.2,312.9 499.4,304.2 497,304.2z" class="g1c"/><path d="M504.8,312.9 507.2,312.9M497,304.2 499.4,304.2M504.8,312.9 497,304.2" class="l"/>
<path d="M367.7,310 370.1,310 362.2,303.6 359.9,303.5z" class="g1c"/><path d="M367.7,310 370.1,310M359.9,303.5 362.2,303.6M370.1,310 362.2,303.6" class="l"/>
<path d="M230.6,307.3 232.9,307.2 225.1,300.6 222.8,300.7z" class="g1c"/><path d="M230.6,307.3 232.9,307.2M222.8,300.7 225.1,300.6M230.6,307.3 222.8,300.7M232.9,307.2 225.1,300.6" class="l"/>
<path d="M502.5,312.8 504.8,312.9 497,304.2 494.7,304.2z" class="g1c"/><path d="M502.5,312.8 504.8,312.9M494.7,304.2 497,304.2M504.8,312.9 497,304.2" class="l"/>
<path d="M365.4,310 367.7,310 359.9,303.5 357.5,303.5z" class="g1c"/><path d="M365.4,310 367.7,310M357.5,303.5 359.9,303.5M365.4,310 357.5,303.5" class="l"/>
<path d="M228.2,307.4 230.6,307.3 222.8,300.7 220.4,300.8z" class="g1c"/><path d="M228.2,307.4 230.6,307.3M220.4,300.8 222.8,300.7M228.2,307.4 220.4,300.8M230.6,307.3 222.8,300.7" class="l"/>
<path d="M500.1,312.8 502.5,312.8 494.7,304.2 492.3,304.2z" class="g1c"/><path d="M500.1,312.8 502.5,312.8M492.3,304.2 494.7,304.2M500.1,312.8 492.3,304.2" class="l"/>
<path d="M363,310.1 365.4,310 357.5,303.5 355.2,303.5z" class="g1c"/><path d="M363,310.1 365.4,310M355.2,303.5 357.5,303.5M365.4,310 357.5,303.5" class="l"/>
<path d="M225.9,307.5 228.2,307.4 220.4,300.8 218.1,300.8z" class="g1c"/><path d="M225.9,307.5 228.2,307.4M218.1,300.8 220.4,300.8M225.9,307.5 218.1,300.8M228.2,307.4 220.4,300.8" class="l"/>
<path d="M497.8,312.7 500.1,312.8 492.3,304.2 490,304.2z" class="g1c"/><path d="M497.8,312.7 500.1,312.8M490,304.2 492.3,304.2M500.1,312.8 492.3,304.2" class="l"/>
<path d="M360.6,310.1 363,310.1 355.2,303.5 352.8,303.5z" class="g1c"/><path d="M360.6,310.1 363,310.1M352.8,303.5 355.2,303.5M360.6,310.1 352.8,303.5" class="l"/>
<path d="M223.5,307.5 225.9,307.5 218.1,300.8 215.7,300.9z" class="g1c"/><path d="M223.5,307.5 225.9,307.5M215.7,300.9 218.1,300.8M223.5,307.5 215.7,300.9M225.9,307.5 218.1,300.8" class="l"/>
<path d="M495.4,312.6 497.8,312.7 490,304.2 487.6,304.3z" class="g1c"/><path d="M495.4,312.6 497.8,312.7M487.6,304.3 490,304.2M495.4,312.6 487.6,304.3" class="l"/>
<path d="M358.3,310.2 360.6,310.1 352.8,303.5 350.5,303.6z" class="g1c"/><path d="M358.3,310.2 360.6,310.1M350.5,303.6 352.8,303.5M360.6,310.1 352.8,303.5" class="l"/>
<path d="M221.2,307.6 223.5,307.5 215.7,300.9 213.3,301z" class="g1c"/><path d="M221.2,307.6 223.5,307.5M213.3,301 215.7,300.9M221.2,307.6 213.3,301M223.5,307.5 215.7,300.9" class="l"/>
<path d="M355.9,310.2 358.3,310.2 350.5,303.6 348.1,303.6z" class="g1c"/><path d="M355.9,310.2 358.3,310.2M348.1,303.6 350.5,303.6M355.9,310.2 348.1,303.6" class="l"/>
<path d="M493.1,312.5 495.4,312.6 487.6,304.3 485.3,304.3z" class="g20"/><path d="M493.1,312.5 495.4,312.6M485.3,304.3 487.6,304.3M495.4,312.6 487.6,304.3" class="l"/>
<path d="M218.8,307.7 221.2,307.6 213.3,301 211,301.1z" class="g1c"/><path d="M218.8,307.7 221.2,307.6M211,301.1 213.3,301M218.8,307.7 211,301.1M221.2,307.6 213.3,301" class="l"/>
<path d="M353.6,310.3 355.9,310.2 348.1,303.6 345.8,303.7z" class="g1c"/><path d="M353.6,310.3 355.9,310.2M345.8,303.7 348.1,303.6M355.9,310.2 348.1,303.6" class="l"/>
<path d="M490.7,312.4 493.1,312.5 485.3,304.3 482.9,304.4z" class="g20"/><path d="M490.7,312.4 493.1,312.5M482.9,304.4 485.3,304.3M490.7,312.4 482.9,304.4" class="l"/>
<path d="M216.5,307.8 218.8,307.7 211,301.1 208.6,301.1z" class="g1c"/><path d="M216.5,307.8 218.8,307.7M208.6,301.1 211,301.1M216.5,307.8 208.6,301.1M218.8,307.7 211,301.1" class="l"/>
<path d="M351.2,310.3 353.6,310.3 345.8,303.7 343.4,303.7z" class="g1c"/><path d="M351.2,310.3 353.6,310.3M343.4,303.7 345.8,303.7M351.2,310.3 343.4,303.7" class="l"/>
<path d="M488.4,312.3 490.7,312.4 482.9,304.4 480.6,304.3z" class="g20"/><path d="M488.4,312.3 490.7,312.4M480.6,304.3 482.9,304.4M490.7,312.4 482.9,304.4" class="l"/>
<path d="M214.1,307.8 216.5,307.8 208.6,301.1 206.3,301.2z" class="g1c"/><path d="M214.1,307.8 216.5,307.8M206.3,301.2 208.6,301.1M214.1,307.8 206.3,301.2M216.5,307.8 208.6,301.1" class="l"/>
<path d="M348.9,310.4 351.2,310.3 343.4,303.7 341.1,303.8z" class="g1c"/><path d="M348.9,310.4 351.2,310.3M341.1,303.8 343.4,303.7M351.2,310.3 343.4,303.7" class="l"/>
<path d="M486,312.2 488.4,312.3 480.6,304.3 478.2,304.3z" class="g20"/><path d="M486,312.2 488.4,312.3M478.2,304.3 480.6,304.3M486,312.2 478.2,304.3" class="l"/>
<path d="M211.8,307.9 214.1,307.8 206.3,301.2 203.9,301.3z" class="g1c"/><path d="M211.8,307.9 214.1,307.8M203.9,301.3 206.3,301.2M211.8,307.9 203.9,301.3M214.1,307.8 206.3,301.2" class="l"/>
<path d="M346.5,310.5 348.9,310.4 341.1,303.8 338.7,303.9z" class="g1c"/><path d="M346.5,310.5 348.9,310.4M338.7,303.9 341.1,303.8M346.5,310.5 338.7,303.9" class="l"/>
<path d="M483.7,312.1 486,312.2 478.2,304.3 475.9,304.2z" class="g20"/><path d="M483.7,312.1 486,312.2M475.9,304.2 478.2,304.3M486,312.2 478.2,304.3" class="l"/>
<path d="M209.4,308 211.8,307.9 203.9,301.3 201.6,301.4z" class="g1c"/><path d="M209.4,308 211.8,307.9M201.6,301.4 203.9,301.3M209.4,308 201.6,301.4M211.8,307.9 203.9,301.3" class="l"/>
<path d="M344.2,310.6 346.5,310.5 338.7,303.9 336.4,303.9z" class="g1c"/><path d="M344.2,310.6 346.5,310.5M336.4,303.9 338.7,303.9M346.5,310.5 338.7,303.9" class="l"/>
<path d="M481.3,312 483.7,312.1 475.9,304.2 473.5,304.2z" class="g20"/><path d="M481.3,312 483.7,312.1M473.5,304.2 475.9,304.2M481.3,312 473.5,304.2" class="l"/>
<path d="M207,308.1 209.4,308 201.6,301.4 199.2,301.4z" class="g1c"/><path d="M207,308.1 209.4,308M199.2,301.4 201.6,301.4M207,308.1 199.2,301.4M209.4,308 201.6,301.4" class="l"/>
<path d="M341.8,310.6 344.2,310.6 336.4,303.9 334,304z" class="g1c"/><path d="M341.8,310.6 344.2,310.6M334,304 336.4,303.9M341.8,310.6 334,304" class="l"/>
<path d="M479,311.8 481.3,312 473.5,304.2 471.2,304.2z" class="g20"/><path d="M479,311.8 481.3,312M471.2,304.2 473.5,304.2M481.3,312 473.5,304.2" class="l"/>
<path d="M204.7,308.2 207,308.1 199.2,301.4 196.9,301.5z" class="g1c"/><path d="M204.7,308.2 207,308.1M196.9,301.5 199.2,301.4M204.7,308.2 196.9,301.5M207,308.1 199.2,301.4" class="l"/>
<path d="M339.5,310.7 341.8,310.6 334,304 331.7,304.1z" class="g1c"/><path d="M339.5,310.7 341.8,310.6M331.7,304.1 334,304M341.8,310.6 334,304" class="l"/>
<path d="M202.3,308.2 204.7,308.2 196.9,301.5 194.5,301.6z" class="g1c"/><path d="M202.3,308.2 204.7,308.2M194.5,301.6 196.9,301.5M202.3,308.2 194.5,301.6M204.7,308.2 196.9,301.5" class="l"/>
<path d="M476.6,311.6 479,311.8 471.2,304.2 468.8,304.2z" class="g20"/><path d="M476.6,311.6 479,311.8M468.8,304.2 471.2,304.2M476.6,311.6 468.8,304.2" class="l"/>
<path d="M337.1,310.8 339.5,310.7 331.7,304.1 329.3,304.1z" class="g1c"/><path d="M337.1,310.8 339.5,310.7M329.3,304.1 331.7,304.1M337.1,310.8 329.3,304.1" class="l"/>
<path d="M200,308.3 202.3,308.2 194.5,301.6 192.2,301.7z" class="g1c"/><path d="M200,308.3 202.3,308.2M192.2,301.7 194.5,301.6M200,308.3 192.2,301.7M202.3,308.2 194.5,301.6" class="l"/>
<path d="M474.3,311.4 476.6,311.6 468.8,304.2 466.5,304.3z" class="g24"/><path d="M474.3,311.4 476.6,311.6M466.5,304.3 468.8,304.2M476.6,311.6 468.8,304.2" class="l"/>
<path d="M334.8,310.9 337.1,310.8 329.3,304.1 327,304.1z" class="g1c"/><path d="M334.8,310.9 337.1,310.8M327,304.1 329.3,304.1M337.1,310.8 329.3,304.1" class="l"/>
<path d="M197.6,308.4 200,308.3 192.2,301.7 189.8,301.7z" class="g1c"/><path d="M197.6,308.4 200,308.3M189.8,301.7 192.2,301.7M197.6,308.4 189.8,301.7M200,308.3 192.2,301.7" class="l"/>
<path d="M471.9,311.2 474.3,311.4 466.5,304.3 464.1,304.4z" class="g24"/><path d="M471.9,311.2 474.3,311.4M464.1,304.4 466.5,304.3M471.9,311.2 464.1,304.4" class="l"/>
<path d="M332.4,310.9 334.8,310.9 327,304.1 324.6,304z" class="g1c"/><path d="M332.4,310.9 334.8,310.9M324.6,304 327,304.1M332.4,310.9 324.6,304" class="l"/>
<path d="M195.3,308.5 197.6,308.4 189.8,301.7 187.5,301.8z" class="g1c"/><path d="M195.3,308.5 197.6,308.4M187.5,301.8 189.8,301.7M195.3,308.5 187.5,301.8M197.6,308.4 189.8,301.7" class="l"/>
<path d="M469.6,311 471.9,311.2 464.1,304.4 461.8,304.5z" class="g24"/><path d="M469.6,311 471.9,311.2M461.8,304.5 464.1,304.4M471.9,311.2 464.1,304.4" class="l"/>
<path d="M330.1,311 332.4,310.9 324.6,304 322.3,303.9z" class="g1c"/><path d="M330.1,311 332.4,310.9M322.3,303.9 324.6,304M332.4,310.9 324.6,304" class="l"/>
<path d="M192.9,308.5 195.3,308.5 187.5,301.8 185.1,301.9z" class="g1c"/><path d="M192.9,308.5 195.3,308.5M185.1,301.9 187.5,301.8M192.9,308.5 185.1,301.9M195.3,308.5 187.5,301.8" class="l"/>
<path d="M467.2,311 469.6,311 461.8,304.5 459.4,304.5z" class="g24"/><path d="M467.2,311 469.6,311M459.4,304.5 461.8,304.5M467.2,311 459.4,304.5" class="l"/>
<path d="M327.7,311.1 330.1,311 322.3,303.9 319.9,303.8z" class="g1c"/><path d="M327.7,311.1 330.1,311M319.9,303.8 322.3,303.9M327.7,311.1 319.9,303.8" class="l"/>
<path d="M190.6,308.6 192.9,308.5 185.1,301.9 182.8,302z" class="g1c"/><path d="M190.6,308.6 192.9,308.5M182.8,302 185.1,301.9M190.6,308.6 182.8,302M192.9,308.5 185.1,301.9" class="l"/>
<path d="M464.9,311 467.2,311 459.4,304.5 457.1,304.6z" class="g24"/><path d="M464.9,311 467.2,311M457.1,304.6 459.4,304.5M467.2,311 459.4,304.5" class="l"/>
<path d="M325.4,310.9 327.7,311.1 319.9,303.8 317.6,303.3z" class="g20"/><path d="M325.4,310.9 327.7,311.1M317.6,303.3 319.9,303.8M327.7,311.1 319.9,303.8" class="l"/>
<path d="M188.2,308.7 190.6,308.6 182.8,302 180.4,302z" class="g1c"/><path d="M188.2,308.7 190.6,308.6M180.4,302 182.8,302M188.2,308.7 180.4,302M190.6,308.6 182.8,302" class="l"/>
<path d="M462.5,311 464.9,311 457.1,304.6 454.7,304.7z" class="g24"/><path d="M462.5,311 464.9,311M454.7,304.7 457.1,304.6M462.5,311 454.7,304.7" class="l"/>
<path d="M323,310.9 325.4,310.9 317.6,303.3 315.2,303z" class="g20"/><path d="M323,310.9 325.4,310.9M315.2,303 317.6,303.3M323,310.9 315.2,303" class="l"/>
<path d="M185.9,308.8 188.2,308.7 180.4,302 178.1,302.1z" class="g1c"/><path d="M185.9,308.8 188.2,308.7M178.1,302.1 180.4,302M185.9,308.8 178.1,302.1M188.2,308.7 180.4,302" class="l"/>
<path d="M460.2,311 462.5,311 454.7,304.7 452.4,304.7z" class="g28"/><path d="M460.2,311 462.5,311M452.4,304.7 454.7,304.7M462.5,311 454.7,304.7" class="l"/>
<path d="M183.5,308.8 185.9,308.8 178.1,302.1 175.7,302.2z" class="g1c"/><path d="M183.5,308.8 185.9,308.8M175.7,302.2 178.1,302.1M183.5,308.8 175.7,302.2M185.9,308.8 178.1,302.1" class="l"/>
<path d="M320.7,310.4 323,310.9 315.2,303 312.9,302.6z" class="g20"/><path d="M320.7,310.4 323,310.9M312.9,302.6 315.2,303M323,310.9 315.2,303" class="l"/>
<path d="M457.8,311 460.2,311 452.4,304.7 450,305z" class="g28"/><path d="M457.8,311 460.2,311M450,305 452.4,304.7M457.8,311 450,305" class="l"/>
<path d="M181.2,308.9 183.5,308.8 175.7,302.2 173.4,302.3z" class="g1c"/><path d="M181.2,308.9 183.5,308.8M173.4,302.3 175.7,302.2M181.2,308.9 173.4,302.3M183.5,308.8 175.7,302.2" class="l"/>
<path d="M455.5,311 457.8,311 450,305 447.7,305.4z" class="g28"/><path d="M455.5,311 457.8,311M447.7,305.4 450,305M457.8,311 450,305" class="l"/>
<path d="M587.9,316.1 589.9,316 582.1,309.5 580.1,309.5z" class="g20"/><path d="M587.9,316.1 589.9,316M580.1,309.5 582.1,309.5M587.9,316.1 580.1,309.5M589.9,316 582.1,309.5" class="l"/>
<path d="M318.3,310.1 320.7,310.4 312.9,302.6 310.5,302.1z" class="g20"/><path d="M318.3,310.1 320.7,310.4M310.5,302.1 312.9,302.6M318.3,310.1 310.5,302.1" class="l"/>
<path d="M178.8,309 181.2,308.9 173.4,302.3 171,302.3z" class="g1c"/><path d="M178.8,309 181.2,308.9M171,302.3 173.4,302.3M178.8,309 171,302.3M181.2,308.9 173.4,302.3" class="l"/>
<path d="M453.1,311 455.5,311 447.7,305.4 445.3,305.9z" class="g28"/><path d="M453.1,311 455.5,311M445.3,305.9 447.7,305.4M453.1,311 445.3,305.9" class="l"/>
<path d="M585.5,316.2 587.9,316.1 580.1,309.5 577.7,309.6z" class="g20"/><path d="M585.5,316.2 587.9,316.1M577.7,309.6 580.1,309.5M587.9,316.1 580.1,309.5" class="l"/>
<path d="M316,308.9 318.3,310.1 310.5,302.1 308.2,301.6z" class="g28"/><path d="M316,308.9 318.3,310.1M308.2,301.6 310.5,302.1M318.3,310.1 310.5,302.1" class="l"/>
<path d="M176.5,309.1 178.8,309 171,302.3 168.7,302.4z" class="g1c"/><path d="M176.5,309.1 178.8,309M168.7,302.4 171,302.3M176.5,309.1 168.7,302.4M178.8,309 171,302.3" class="l"/>
<path d="M450.8,311 453.1,311 445.3,305.9 442.9,306.5z" class="g28"/><path d="M450.8,311 453.1,311M442.9,306.5 445.3,305.9M453.1,311 445.3,305.9" class="l"/>
<path d="M583.2,316.3 585.5,316.2 577.7,309.6 575.4,309.7z" class="g20"/><path d="M583.2,316.3 585.5,316.2M575.4,309.7 577.7,309.6M583.2,316.3 575.4,309.7" class="l"/>
<path d="M448.4,311.2 450.8,311 442.9,306.5 440.6,307z" class="g28"/><path d="M448.4,311.2 450.8,311M440.6,307 442.9,306.5M448.4,311.2 440.6,307" class="l"/>
<path d="M174.1,309.1 176.5,309.1 168.7,302.4 166.3,302.5z" class="g1c"/><path d="M174.1,309.1 176.5,309.1M166.3,302.5 168.7,302.4M174.1,309.1 166.3,302.5M176.5,309.1 168.7,302.4" class="l"/>
<path d="M580.8,316.3 583.2,316.3 575.4,309.7 573,309.8z" class="g20"/><path d="M580.8,316.3 583.2,316.3M573,309.8 575.4,309.7M583.2,316.3 575.4,309.7" class="l"/>
<path d="M313.6,308 316,308.9 308.2,301.6 305.8,301z" class="g28"/><path d="M313.6,308 316,308.9M305.8,301 308.2,301.6M313.6,308 305.8,301" class="l"/>
<path d="M446.1,311.8 448.4,311.2 440.6,307 438.2,307.5z" class="g24"/><path d="M446.1,311.8 448.4,311.2M438.2,307.5 440.6,307M448.4,311.2 440.6,307" class="l"/>
<path d="M171.8,309.2 174.1,309.1 166.3,302.5 164,302.6z" class="g1c"/><path d="M171.8,309.2 174.1,309.1M164,302.6 166.3,302.5M171.8,309.2 164,302.6M174.1,309.1 166.3,302.5" class="l"/>
<path d="M443.7,312.3 446.1,311.8 438.2,307.5 435.9,308.3z" class="g24"/><path d="M443.7,312.3 446.1,311.8M435.9,308.3 438.2,307.5M443.7,312.3 435.9,308.3" class="l"/>
<path d="M578.5,316.4 580.8,316.3 573,309.8 570.7,309.9z" class="g20"/><path d="M578.5,316.4 580.8,316.3M570.7,309.9 573,309.8M578.5,316.4 570.7,309.9" class="l"/>
<path d="M441.4,312.9 443.7,312.3 435.9,308.3 433.5,309.4z" class="g20"/><path d="M441.4,312.9 443.7,312.3M433.5,309.4 435.9,308.3M443.7,312.3 435.9,308.3" class="l"/>
<path d="M169.4,309.3 171.8,309.2 164,302.6 161.6,302.7z" class="g1c"/><path d="M169.4,309.3 171.8,309.2M161.6,302.7 164,302.6M169.4,309.3 161.6,302.7M171.8,309.2 164,302.6" class="l"/>
<path d="M311.3,306.8 313.6,308 305.8,301 303.5,300.4z" class="g30"/><path d="M311.3,306.8 313.6,308M303.5,300.4 305.8,301M313.6,308 305.8,301" class="l"/>
<path d="M576.1,316.5 578.5,316.4 570.7,309.9 568.3,310z" class="g20"/><path d="M576.1,316.5 578.5,316.4M568.3,310 570.7,309.9M578.5,316.4 570.7,309.9" class="l"/>
<path d="M439,313.5 441.4,312.9 433.5,309.4 431.2,310.4z" class="g20"/><path d="M439,313.5 441.4,312.9M431.2,310.4 433.5,309.4M439,313.5 431.2,310.4" class="l"/>
<path d="M167.1,309.4 169.4,309.3 161.6,302.7 159.3,302.7z" class="g1c"/><path d="M167.1,309.4 169.4,309.3M159.3,302.7 161.6,302.7M167.1,309.4 159.3,302.7M169.4,309.3 161.6,302.7" class="l"/>
<path d="M436.7,314 439,313.5 431.2,310.4 428.8,311.5z" class="g1c"/><path d="M436.7,314 439,313.5M428.8,311.5 431.2,310.4M439,313.5 431.2,310.4" class="l"/>
<path d="M573.8,316.6 576.1,316.5 568.3,310 566,310.1z" class="g20"/><path d="M573.8,316.6 576.1,316.5M566,310.1 568.3,310M573.8,316.6 566,310.1" class="l"/>
<path d="M434.3,314.8 436.7,314 428.8,311.5 426.5,312.8z" class="g1c"/><path d="M434.3,314.8 436.7,314M426.5,312.8 428.8,311.5M434.3,314.8 426.5,312.8" class="l"/>
<path d="M308.9,305.6 311.3,306.8 303.5,300.4 301.1,299.8z" class="g30"/><path d="M308.9,305.6 311.3,306.8M301.1,299.8 303.5,300.4M308.9,305.6 301.1,299.8" class="l"/>
<path d="M431.9,316 434.3,314.8 426.5,312.8 424.1,314.3z" class="g14"/><path d="M431.9,316 434.3,314.8M424.1,314.3 426.5,312.8M434.3,314.8 426.5,312.8" class="l"/>
<path d="M429.6,317.3 431.9,316 424.1,314.3 421.8,315.7z" class="g14"/><path d="M429.6,317.3 431.9,316M421.8,315.7 424.1,314.3M429.6,317.3 421.8,315.7" class="l"/>
<path d="M164.7,309.4 167.1,309.4 159.3,302.7 156.9,302.8z" class="g1c"/><path d="M164.7,309.4 167.1,309.4M156.9,302.8 159.3,302.7M164.7,309.4 156.9,302.8M167.1,309.4 159.3,302.7" class="l"/>
<path d="M427.2,318.5 429.6,317.3 421.8,315.7 419.4,317.1z" class="g10"/><path d="M427.2,318.5 429.6,317.3M419.4,317.1 421.8,315.7M429.6,317.3 421.8,315.7" class="l"/>
<path d="M571.4,316.7 573.8,316.6 566,310.1 563.6,310.1z" class="g20"/><path d="M571.4,316.7 573.8,316.6M563.6,310.1 566,310.1M573.8,316.6 566,310.1" class="l"/>
<path d="M424.9,319.9 427.2,318.5 419.4,317.1 417.1,317.9z" class="g10"/><path d="M424.9,319.9 427.2,318.5M417.1,317.9 419.4,317.1M424.9,319.9 417.1,317.9" class="l"/>
<path d="M422.5,321.6 424.9,319.9 417.1,317.9 414.7,318.6z" class="g4"/><path d="M422.5,321.6 424.9,319.9M414.7,318.6 417.1,317.9M424.9,319.9 417.1,317.9" class="l"/>
<path d="M162.4,309.5 164.7,309.4 156.9,302.8 154.6,302.9z" class="g1c"/><path d="M162.4,309.5 164.7,309.4M154.6,302.9 156.9,302.8M162.4,309.5 154.6,302.9M164.7,309.4 156.9,302.8" class="l"/>
<path d="M420.2,323.2 422.5,321.6 414.7,318.6 412.4,319.2z" class="g4"/><path d="M420.2,323.2 422.5,321.6M412.4,319.2 414.7,318.6M420.2,323.2 412.4,319.2" class="l"/>
<path d="M306.6,304.3 308.9,305.6 301.1,299.8 298.8,299.2z" class="g38"/><path d="M306.6,304.3 308.9,305.6M298.8,299.2 301.1,299.8M308.9,305.6 301.1,299.8" class="l"/>
<path d="M417.8,324.9 420.2,323.2 412.4,319.2 410,319.8z" class="g0"/><path d="M417.8,324.9 420.2,323.2M410,319.8 412.4,319.2M420.2,323.2 412.4,319.2" class="l"/>
<path d="M569.1,316.8 571.4,316.7 563.6,310.1 561.3,310.2z" class="g20"/><path d="M569.1,316.8 571.4,316.7M561.3,310.2 563.6,310.1M569.1,316.8 561.3,310.2" class="l"/>
<path d="M415.5,325.7 417.8,324.9 410,319.8 407.7,320.4z" class="g0"/><path d="M415.5,325.7 417.8,324.9M407.7,320.4 410,319.8M415.5,325.7 407.7,320.4" class="l"/>
<path d="M160,309.6 162.4,309.5 154.6,302.9 152.2,303z" class="g1c"/><path d="M160,309.6 162.4,309.5M152.2,303 154.6,302.9M160,309.6 152.2,303M162.4,309.5 154.6,302.9" class="l"/>
<path d="M566.7,316.9 569.1,316.8 561.3,310.2 558.9,310.3z" class="g20"/><path d="M566.7,316.9 569.1,316.8M558.9,310.3 561.3,310.2M569.1,316.8 561.3,310.2" class="l"/>
<path d="M413.1,326.4 415.5,325.7 407.7,320.4 405.3,320.2z" class="g0"/><path d="M413.1,326.4 415.5,325.7M405.3,320.2 407.7,320.4M415.5,325.7 407.7,320.4" class="l"/>
<path d="M157.7,309.7 160,309.6 152.2,303 149.9,303z" class="g1c"/><path d="M157.7,309.7 160,309.6M149.9,303 152.2,303M157.7,309.7 149.9,303M160,309.6 152.2,303" class="l"/>
<path d="M304.2,302.8 306.6,304.3 298.8,299.2 296.4,298.5z" class="g38"/><path d="M304.2,302.8 306.6,304.3M296.4,298.5 298.8,299.2M304.2,302.8 296.4,298.5" class="l"/>
<path d="M564.4,317 566.7,316.9 558.9,310.3 556.6,310.3z" class="g20"/><path d="M564.4,317 566.7,316.9M556.6,310.3 558.9,310.3M564.4,317 556.6,310.3" class="l"/>
<path d="M410.8,327.1 413.1,326.4 405.3,320.2 403,319.9z" class="g0"/><path d="M410.8,327.1 413.1,326.4M403,319.9 405.3,320.2M410.8,327.1 403,319.9" class="l"/>
<path d="M155.3,309.7 157.7,309.7 149.9,303 147.5,303.1z" class="g1c"/><path d="M155.3,309.7 157.7,309.7M147.5,303.1 149.9,303M155.3,309.7 147.5,303.1M157.7,309.7 149.9,303" class="l"/>
<path d="M562,317.1 564.4,317 556.6,310.3 554.2,310.4z" class="g20"/><path d="M562,317.1 564.4,317M554.2,310.4 556.6,310.3M564.4,317 556.6,310.3" class="l"/>
<path d="M408.4,327.8 410.8,327.1 403,319.9 400.6,319.6z" class="g0"/><path d="M408.4,327.8 410.8,327.1M400.6,319.6 403,319.9M410.8,327.1 403,319.9" class="l"/>
<path d="M301.9,301.4 304.2,302.8 296.4,298.5 294.1,297.7z" class="g40"/><path d="M301.9,301.4 304.2,302.8M294.1,297.7 296.4,298.5M304.2,302.8 296.4,298.5" class="l"/>
<path d="M153,309.8 155.3,309.7 147.5,303.1 145.2,303.2z" class="g1c"/><path d="M153,309.8 155.3,309.7M145.2,303.2 147.5,303.1M153,309.8 145.2,303.2M155.3,309.7 147.5,303.1" class="l"/>
<path d="M406.1,328.5 408.4,327.8 400.6,319.6 398.3,319.3z" class="g0"/><path d="M406.1,328.5 408.4,327.8M398.3,319.3 400.6,319.6M406.1,328.5 398.3,319.3" class="l"/>
<path d="M559.7,317.2 562,317.1 554.2,310.4 551.9,310.6z" class="g20"/><path d="M559.7,317.2 562,317.1M551.9,310.6 554.2,310.4M559.7,317.2 551.9,310.6" class="l"/>
<path d="M150.6,309.9 153,309.8 145.2,303.2 142.8,303.3z" class="g1c"/><path d="M150.6,309.9 153,309.8M142.8,303.3 145.2,303.2M150.6,309.9 142.8,303.3M153,309.8 145.2,303.2" class="l"/>
<path d="M557.3,317.3 559.7,317.2 551.9,310.6 549.5,310.8z" class="g20"/><path d="M557.3,317.3 559.7,317.2M549.5,310.8 551.9,310.6M559.7,317.2 551.9,310.6" class="l"/>
<path d="M403.7,328.2 406.1,328.5 398.3,319.3 395.9,319z" class="g0"/><path d="M403.7,328.2 406.1,328.5M395.9,319 398.3,319.3M406.1,328.5 398.3,319.3" class="l"/>
<path d="M299.5,299.9 301.9,301.4 294.1,297.7 291.7,296.9z" class="g40"/><path d="M299.5,299.9 301.9,301.4M291.7,296.9 294.1,297.7M299.5,299.9 291.7,296.9" class="l"/>
<path d="M148.3,310 150.6,309.9 142.8,303.3 140.5,303.3z" class="g1c"/><path d="M148.3,310 150.6,309.9M140.5,303.3 142.8,303.3M148.3,310 140.5,303.3M150.6,309.9 142.8,303.3" class="l"/>
<path d="M555,317.4 557.3,317.3 549.5,310.8 547.2,311z" class="g20"/><path d="M555,317.4 557.3,317.3M547.2,311 549.5,310.8M555,317.4 547.2,311" class="l"/>
<path d="M401.4,327.9 403.7,328.2 395.9,319 393.6,318.6z" class="g0"/><path d="M401.4,327.9 403.7,328.2M393.6,318.6 395.9,319M401.4,327.9 393.6,318.6" class="l"/>
<path d="M145.9,310 148.3,310 140.5,303.3 138.1,303.4z" class="g1c"/><path d="M145.9,310 148.3,310M138.1,303.4 140.5,303.3M145.9,310 138.1,303.4M148.3,310 140.5,303.3" class="l"/>
<path d="M552.6,317.5 555,317.4 547.2,311 544.8,311.2z" class="g1c"/><path d="M552.6,317.5 555,317.4M544.8,311.2 547.2,311M555,317.4 547.2,311" class="l"/>
<path d="M297.2,298.3 299.5,299.9 291.7,296.9 289.4,296z" class="g4c"/><path d="M297.2,298.3 299.5,299.9M289.4,296 291.7,296.9M299.5,299.9 291.7,296.9" class="l"/>
<path d="M399,327.6 401.4,327.9 393.6,318.6 391.2,318.2z" class="g0"/><path d="M399,327.6 401.4,327.9M391.2,318.2 393.6,318.6M401.4,327.9 393.6,318.6" class="l"/>
<path d="M550.3,317.8 552.6,317.5 544.8,311.2 542.5,311.5z" class="g1c"/><path d="M550.3,317.8 552.6,317.5M542.5,311.5 544.8,311.2M550.3,317.8 542.5,311.5" class="l"/>
<path d="M547.9,318.1 550.3,317.8 542.5,311.5 540.1,311.7z" class="g1c"/><path d="M547.9,318.1 550.3,317.8M540.1,311.7 542.5,311.5M550.3,317.8 542.5,311.5" class="l"/>
<path d="M294.8,296.7 297.2,298.3 289.4,296 287,295.3z" class="g4c"/><path d="M294.8,296.7 297.2,298.3M287,295.3 289.4,296M294.8,296.7 287,295.3" class="l"/>
<path d="M396.7,327.3 399,327.6 391.2,318.2 388.9,317.5z" class="g0"/><path d="M396.7,327.3 399,327.6M388.9,317.5 391.2,318.2M396.7,327.3 388.9,317.5" class="l"/>
<path d="M545.6,318.4 547.9,318.1 540.1,311.7 537.8,311.9z" class="g1c"/><path d="M545.6,318.4 547.9,318.1M537.8,311.9 540.1,311.7M545.6,318.4 537.8,311.9" class="l"/>
<path d="M394.3,326.9 396.7,327.3 388.9,317.5 386.5,316.4z" class="g0"/><path d="M394.3,326.9 396.7,327.3M386.5,316.4 388.9,317.5M396.7,327.3 388.9,317.5" class="l"/>
<path d="M543.2,318.7 545.6,318.4 537.8,311.9 535.4,312.1z" class="g18"/><path d="M543.2,318.7 545.6,318.4M535.4,312.1 537.8,311.9M545.6,318.4 537.8,311.9" class="l"/>
<path d="M292.5,294.7 294.8,296.7 287,295.3 284.6,294.5z" class="g58"/><path d="M292.5,294.7 294.8,296.7M284.6,294.5 287,295.3M294.8,296.7 287,295.3" class="l"/>
<path d="M540.9,319 543.2,318.7 535.4,312.1 533.1,312.2z" class="g18"/><path d="M540.9,319 543.2,318.7M533.1,312.2 535.4,312.1M540.9,319 533.1,312.2" class="l"/>
<path d="M392,326.6 394.3,326.9 386.5,316.4 384.2,315.3z" class="g0"/><path d="M392,326.6 394.3,326.9M384.2,315.3 386.5,316.4M392,326.6 384.2,315.3" class="l"/>
<path d="M538.5,319.3 540.9,319 533.1,312.2 530.7,312.3z" class="g18"/><path d="M538.5,319.3 540.9,319M530.7,312.3 533.1,312.2M540.9,319 533.1,312.2" class="l"/>
<path d="M290.1,292.7 292.5,294.7 284.6,294.5 282.3,293.8z" class="g58"/><path d="M290.1,292.7 292.5,294.7M282.3,293.8 284.6,294.5M290.1,292.7 282.3,293.8" class="l"/>
<path d="M536.2,319.6 538.5,319.3 530.7,312.3 528.4,312.5z" class="g18"/><path d="M536.2,319.6 538.5,319.3M528.4,312.5 530.7,312.3M536.2,319.6 528.4,312.5" class="l"/>
<path d="M389.6,326.3 392,326.6 384.2,315.3 381.8,314.3z" class="g0"/><path d="M389.6,326.3 392,326.6M381.8,314.3 384.2,315.3M392,326.6 384.2,315.3" class="l"/>
<path d="M533.8,320 536.2,319.6 528.4,312.5 526,312.6z" class="g18"/><path d="M533.8,320 536.2,319.6M526,312.6 528.4,312.5M536.2,319.6 528.4,312.5" class="l"/>
<path d="M287.8,290.5 290.1,292.7 282.3,293.8 279.9,293.5z" class="g64"/><path d="M287.8,290.5 290.1,292.7M279.9,293.5 282.3,293.8M290.1,292.7 282.3,293.8" class="l"/>
<path d="M531.5,320.2 533.8,320 526,312.6 523.7,312.7z" class="g18"/><path d="M531.5,320.2 533.8,320M523.7,312.7 526,312.6M531.5,320.2 523.7,312.7" class="l"/>
<path d="M387.3,325.5 389.6,326.3 381.8,314.3 379.5,311z" class="g0"/><path d="M387.3,325.5 389.6,326.3M379.5,311 381.8,314.3M387.3,325.5 379.5,311" class="l"/>
<path d="M529.1,320.4 531.5,320.2 523.7,312.7 521.3,312.9z" class="g18"/><path d="M529.1,320.4 531.5,320.2M521.3,312.9 523.7,312.7M531.5,320.2 523.7,312.7" class="l"/>
<path d="M285.4,288.5 287.8,290.5 279.9,293.5 277.6,293.3z" class="g64"/><path d="M285.4,288.5 287.8,290.5M277.6,293.3 279.9,293.5M285.4,288.5 277.6,293.3" class="l"/>
<path d="M526.8,320.6 529.1,320.4 521.3,312.9 519,313z" class="g18"/><path d="M526.8,320.6 529.1,320.4M519,313 521.3,312.9M526.8,320.6 519,313" class="l"/>
<path d="M384.9,324.3 387.3,325.5 379.5,311 377.1,310.1z" class="g8"/><path d="M384.9,324.3 387.3,325.5M377.1,310.1 379.5,311M387.3,325.5 379.5,311" class="l"/>
<path d="M524.4,320.8 526.8,320.6 519,313 516.6,313.2z" class="g18"/><path d="M524.4,320.8 526.8,320.6M516.6,313.2 519,313M526.8,320.6 519,313" class="l"/>
<path d="M283.1,286.4 285.4,288.5 277.6,293.3 275.2,293.3z" class="g70"/><path d="M283.1,286.4 285.4,288.5M275.2,293.3 277.6,293.3M285.4,288.5 277.6,293.3" class="l"/>
<path d="M522.1,321 524.4,320.8 516.6,313.2 514.2,313.2z" class="g18"/><path d="M522.1,321 524.4,320.8M514.2,313.2 516.6,313.2M522.1,321 514.2,313.2" class="l"/>
<path d="M382.6,323 384.9,324.3 377.1,310.1 374.8,310.1z" class="g8"/><path d="M382.6,323 384.9,324.3M374.8,310.1 377.1,310.1M382.6,323 374.8,310.1" class="l"/>
<path d="M280.7,284.6 283.1,286.4 275.2,293.3 272.9,293.6z" class="g70"/><path d="M280.7,284.6 283.1,286.4M272.9,293.6 275.2,293.3M280.7,284.6 272.9,293.6" class="l"/>
<path d="M519.7,321.2 522.1,321 514.2,313.2 511.9,313.1z" class="g14"/><path d="M519.7,321.2 522.1,321M511.9,313.1 514.2,313.2M522.1,321 514.2,313.2" class="l"/>
<path d="M380.2,321.8 382.6,323 374.8,310.1 372.4,310z" class="g18"/><path d="M380.2,321.8 382.6,323M372.4,310 374.8,310.1M382.6,323 374.8,310.1" class="l"/>
<path d="M517.4,321.4 519.7,321.2 511.9,313.1 509.5,313z" class="g14"/><path d="M517.4,321.4 519.7,321.2M509.5,313 511.9,313.1M517.4,321.4 509.5,313" class="l"/>
<path d="M278.3,283.5 280.7,284.6 272.9,293.6 270.5,294.1z" class="g78"/><path d="M278.3,283.5 280.7,284.6M270.5,294.1 272.9,293.6M278.3,283.5 270.5,294.1M280.7,284.6 272.9,293.6" class="l"/>
<path d="M515,321.6 517.4,321.4 509.5,313 507.2,312.9z" class="g14"/><path d="M515,321.6 517.4,321.4M507.2,312.9 509.5,313M517.4,321.4 509.5,313" class="l"/>
<path d="M276,282.9 278.3,283.5 270.5,294.1 268.2,294.9z" class="g78"/><path d="M276,282.9 278.3,283.5M268.2,294.9 270.5,294.1M276,282.9 268.2,294.9M278.3,283.5 270.5,294.1" class="l"/>
<path d="M377.9,317.8 380.2,321.8 372.4,310 370.1,310z" class="g18"/><path d="M377.9,317.8 380.2,321.8M370.1,310 372.4,310M377.9,317.8 370.1,310" class="l"/>
<path d="M250.1,308.5 252.5,305.4 244.7,306.4 242.3,306.8z" class="g28"/><path d="M250.1,308.5 252.5,305.4M242.3,306.8 244.7,306.4M250.1,308.5 242.3,306.8M252.5,305.4 244.7,306.4" class="l"/>
<path d="M247.8,310.6 250.1,308.5 242.3,306.8 240,307z" class="g28"/><path d="M247.8,310.6 250.1,308.5M240,307 242.3,306.8M247.8,310.6 240,307M250.1,308.5 242.3,306.8" class="l"/>
<path d="M252.5,305.4 254.8,301.4 247,305.9 244.7,306.4z" class="g34"/><path d="M252.5,305.4 254.8,301.4M244.7,306.4 247,305.9M252.5,305.4 244.7,306.4M254.8,301.4 247,305.9" class="l"/>
<path d="M512.7,321.6 515,321.6 507.2,312.9 504.8,312.9z" class="g14"/><path d="M512.7,321.6 515,321.6M504.8,312.9 507.2,312.9M512.7,321.6 504.8,312.9" class="l"/>
<path d="M245.4,312.1 247.8,310.6 240,307 237.6,307.1z" class="g20"/><path d="M245.4,312.1 247.8,310.6M237.6,307.1 240,307M245.4,312.1 237.6,307.1M247.8,310.6 240,307" class="l"/>
<path d="M254.8,301.4 257.2,297.2 249.4,305.2 247,305.9z" class="g34"/><path d="M254.8,301.4 257.2,297.2M247,305.9 249.4,305.2M254.8,301.4 247,305.9M257.2,297.2 249.4,305.2" class="l"/>
<path d="M273.6,283.1 276,282.9 268.2,294.9 265.8,295.9z" class="g78"/><path d="M273.6,283.1 276,282.9M265.8,295.9 268.2,294.9M273.6,283.1 265.8,295.9M276,282.9 268.2,294.9" class="l"/>
<path d="M257.2,297.2 259.5,294.2 251.7,304.2 249.4,305.2z" class="g50"/><path d="M257.2,297.2 259.5,294.2M249.4,305.2 251.7,304.2M257.2,297.2 249.4,305.2M259.5,294.2 251.7,304.2" class="l"/>
<path d="M243.1,313.2 245.4,312.1 237.6,307.1 235.3,307.2z" class="g20"/><path d="M243.1,313.2 245.4,312.1M235.3,307.2 237.6,307.1M243.1,313.2 235.3,307.2M245.4,312.1 237.6,307.1" class="l"/>
<path d="M271.3,283.5 273.6,283.1 265.8,295.9 263.5,297z" class="g78"/><path d="M271.3,283.5 273.6,283.1M263.5,297 265.8,295.9M271.3,283.5 263.5,297M273.6,283.1 265.8,295.9" class="l"/>
<path d="M259.5,294.2 261.9,290.9 254.1,303.1 251.7,304.2z" class="g50"/><path d="M259.5,294.2 261.9,290.9M251.7,304.2 254.1,303.1M259.5,294.2 251.7,304.2M261.9,290.9 254.1,303.1" class="l"/>
<path d="M510.3,321.4 512.7,321.6 504.8,312.9 502.5,312.8z" class="g18"/><path d="M510.3,321.4 512.7,321.6M502.5,312.8 504.8,312.9M512.7,321.6 504.8,312.9" class="l"/>
<path d="M261.9,290.9 264.2,288.5 256.4,301.4 254.1,303.1z" class="g60"/><path d="M261.9,290.9 264.2,288.5M254.1,303.1 256.4,301.4M261.9,290.9 254.1,303.1M264.2,288.5 256.4,301.4" class="l"/>
<path d="M268.9,284.7 271.3,283.5 263.5,297 261.1,298.4z" class="g70"/><path d="M268.9,284.7 271.3,283.5M261.1,298.4 263.5,297M268.9,284.7 261.1,298.4M271.3,283.5 263.5,297" class="l"/>
<path d="M375.5,316.5 377.9,317.8 370.1,310 367.7,310z" class="g1c"/><path d="M375.5,316.5 377.9,317.8M367.7,310 370.1,310M377.9,317.8 370.1,310" class="l"/>
<path d="M264.2,288.5 266.6,286.1 258.8,299.6 256.4,301.4z" class="g60"/><path d="M264.2,288.5 266.6,286.1M256.4,301.4 258.8,299.6M264.2,288.5 256.4,301.4M266.6,286.1 258.8,299.6" class="l"/>
<path d="M240.7,313.8 243.1,313.2 235.3,307.2 232.9,307.2z" class="g1c"/><path d="M240.7,313.8 243.1,313.2M232.9,307.2 235.3,307.2M240.7,313.8 232.9,307.2M243.1,313.2 235.3,307.2" class="l"/>
<path d="M266.6,286.1 268.9,284.7 261.1,298.4 258.8,299.6z" class="g70"/><path d="M266.6,286.1 268.9,284.7M258.8,299.6 261.1,298.4M266.6,286.1 258.8,299.6M268.9,284.7 261.1,298.4" class="l"/>
<path d="M508,321.3 510.3,321.4 502.5,312.8 500.1,312.8z" class="g18"/><path d="M508,321.3 510.3,321.4M500.1,312.8 502.5,312.8M508,321.3 500.1,312.8" class="l"/>
<path d="M238.4,314 240.7,313.8 232.9,307.2 230.6,307.3z" class="g1c"/><path d="M238.4,314 240.7,313.8M230.6,307.3 232.9,307.2M238.4,314 230.6,307.3M240.7,313.8 232.9,307.2" class="l"/>
<path d="M373.2,316.6 375.5,316.5 367.7,310 365.4,310z" class="g1c"/><path d="M373.2,316.6 375.5,316.5M365.4,310 367.7,310M373.2,316.6 365.4,310" class="l"/>
<path d="M236,314 238.4,314 230.6,307.3 228.2,307.4z" class="g1c"/><path d="M236,314 238.4,314M228.2,307.4 230.6,307.3M236,314 228.2,307.4M238.4,314 230.6,307.3" class="l"/>
<path d="M505.6,321.2 508,321.3 500.1,312.8 497.8,312.7z" class="g18"/><path d="M505.6,321.2 508,321.3M497.8,312.7 500.1,312.8M508,321.3 500.1,312.8" class="l"/>
<path d="M370.8,316.6 373.2,316.6 365.4,310 363,310.1z" class="g1c"/><path d="M370.8,316.6 373.2,316.6M363,310.1 365.4,310M373.2,316.6 365.4,310" class="l"/>
<path d="M233.7,314.1 236,314 228.2,307.4 225.9,307.5z" class="g1c"/><path d="M233.7,314.1 236,314M225.9,307.5 228.2,307.4M233.7,314.1 225.9,307.5M236,314 228.2,307.4" class="l"/>
<path d="M503.2,321 505.6,321.2 497.8,312.7 495.4,312.6z" class="g18"/><path d="M503.2,321 505.6,321.2M495.4,312.6 497.8,312.7M503.2,321 495.4,312.6" class="l"/>
<path d="M368.5,316.7 370.8,316.6 363,310.1 360.6,310.1z" class="g1c"/><path d="M368.5,316.7 370.8,316.6M360.6,310.1 363,310.1M368.5,316.7 360.6,310.1" class="l"/>
<path d="M231.3,314.2 233.7,314.1 225.9,307.5 223.5,307.5z" class="g1c"/><path d="M231.3,314.2 233.7,314.1M223.5,307.5 225.9,307.5M231.3,314.2 223.5,307.5M233.7,314.1 225.9,307.5" class="l"/>
<path d="M500.9,320.9 503.2,321 495.4,312.6 493.1,312.5z" class="g18"/><path d="M500.9,320.9 503.2,321M493.1,312.5 495.4,312.6M503.2,321 495.4,312.6" class="l"/>
<path d="M366.1,316.8 368.5,316.7 360.6,310.1 358.3,310.2z" class="g1c"/><path d="M366.1,316.8 368.5,316.7M358.3,310.2 360.6,310.1M368.5,316.7 360.6,310.1" class="l"/>
<path d="M229,314.3 231.3,314.2 223.5,307.5 221.2,307.6z" class="g1c"/><path d="M229,314.3 231.3,314.2M221.2,307.6 223.5,307.5M229,314.3 221.2,307.6M231.3,314.2 223.5,307.5" class="l"/>
<path d="M363.8,316.8 366.1,316.8 358.3,310.2 355.9,310.2z" class="g1c"/><path d="M363.8,316.8 366.1,316.8M355.9,310.2 358.3,310.2M363.8,316.8 355.9,310.2" class="l"/>
<path d="M498.5,320.7 500.9,320.9 493.1,312.5 490.7,312.4z" class="g18"/><path d="M498.5,320.7 500.9,320.9M490.7,312.4 493.1,312.5M498.5,320.7 490.7,312.4" class="l"/>
<path d="M226.6,314.3 229,314.3 221.2,307.6 218.8,307.7z" class="g1c"/><path d="M226.6,314.3 229,314.3M218.8,307.7 221.2,307.6M226.6,314.3 218.8,307.7M229,314.3 221.2,307.6" class="l"/>
<path d="M361.4,316.9 363.8,316.8 355.9,310.2 353.6,310.3z" class="g1c"/><path d="M361.4,316.9 363.8,316.8M353.6,310.3 355.9,310.2M363.8,316.8 355.9,310.2" class="l"/>
<path d="M496.2,320.5 498.5,320.7 490.7,312.4 488.4,312.3z" class="g1c"/><path d="M496.2,320.5 498.5,320.7M488.4,312.3 490.7,312.4M498.5,320.7 490.7,312.4" class="l"/>
<path d="M224.3,314.4 226.6,314.3 218.8,307.7 216.5,307.8z" class="g1c"/><path d="M224.3,314.4 226.6,314.3M216.5,307.8 218.8,307.7M224.3,314.4 216.5,307.8M226.6,314.3 218.8,307.7" class="l"/>
<path d="M359.1,317 361.4,316.9 353.6,310.3 351.2,310.3z" class="g1c"/><path d="M359.1,317 361.4,316.9M351.2,310.3 353.6,310.3M359.1,317 351.2,310.3" class="l"/>
<path d="M493.8,320.3 496.2,320.5 488.4,312.3 486,312.2z" class="g1c"/><path d="M493.8,320.3 496.2,320.5M486,312.2 488.4,312.3M493.8,320.3 486,312.2" class="l"/>
<path d="M221.9,314.5 224.3,314.4 216.5,307.8 214.1,307.8z" class="g1c"/><path d="M221.9,314.5 224.3,314.4M214.1,307.8 216.5,307.8M221.9,314.5 214.1,307.8M224.3,314.4 216.5,307.8" class="l"/>
<path d="M356.7,317 359.1,317 351.2,310.3 348.9,310.4z" class="g1c"/><path d="M356.7,317 359.1,317M348.9,310.4 351.2,310.3M359.1,317 351.2,310.3" class="l"/>
<path d="M491.5,320.1 493.8,320.3 486,312.2 483.7,312.1z" class="g1c"/><path d="M491.5,320.1 493.8,320.3M483.7,312.1 486,312.2M493.8,320.3 486,312.2" class="l"/>
<path d="M219.6,314.6 221.9,314.5 214.1,307.8 211.8,307.9z" class="g1c"/><path d="M219.6,314.6 221.9,314.5M211.8,307.9 214.1,307.8M219.6,314.6 211.8,307.9M221.9,314.5 214.1,307.8" class="l"/>
<path d="M354.4,317.1 356.7,317 348.9,310.4 346.5,310.5z" class="g1c"/><path d="M354.4,317.1 356.7,317M346.5,310.5 348.9,310.4M354.4,317.1 346.5,310.5" class="l"/>
<path d="M489.1,319.9 491.5,320.1 483.7,312.1 481.3,312z" class="g1c"/><path d="M489.1,319.9 491.5,320.1M481.3,312 483.7,312.1M489.1,319.9 481.3,312" class="l"/>
<path d="M217.2,314.6 219.6,314.6 211.8,307.9 209.4,308z" class="g1c"/><path d="M217.2,314.6 219.6,314.6M209.4,308 211.8,307.9M217.2,314.6 209.4,308M219.6,314.6 211.8,307.9" class="l"/>
<path d="M352,317.2 354.4,317.1 346.5,310.5 344.2,310.6z" class="g1c"/><path d="M352,317.2 354.4,317.1M344.2,310.6 346.5,310.5M354.4,317.1 346.5,310.5" class="l"/>
<path d="M214.9,314.7 217.2,314.6 209.4,308 207,308.1z" class="g1c"/><path d="M214.9,314.7 217.2,314.6M207,308.1 209.4,308M214.9,314.7 207,308.1M217.2,314.6 209.4,308" class="l"/>
<path d="M486.8,319.7 489.1,319.9 481.3,312 479,311.8z" class="g20"/><path d="M486.8,319.7 489.1,319.9M479,311.8 481.3,312M489.1,319.9 481.3,312" class="l"/>
<path d="M349.6,317.3 352,317.2 344.2,310.6 341.8,310.6z" class="g1c"/><path d="M349.6,317.3 352,317.2M341.8,310.6 344.2,310.6M349.6,317.3 341.8,310.6" class="l"/>
<path d="M212.5,314.8 214.9,314.7 207,308.1 204.7,308.2z" class="g1c"/><path d="M212.5,314.8 214.9,314.7M204.7,308.2 207,308.1M212.5,314.8 204.7,308.2M214.9,314.7 207,308.1" class="l"/>
<path d="M484.4,319.5 486.8,319.7 479,311.8 476.6,311.6z" class="g20"/><path d="M484.4,319.5 486.8,319.7M476.6,311.6 479,311.8M484.4,319.5 476.6,311.6" class="l"/>
<path d="M347.3,317.3 349.6,317.3 341.8,310.6 339.5,310.7z" class="g1c"/><path d="M347.3,317.3 349.6,317.3M339.5,310.7 341.8,310.6M349.6,317.3 341.8,310.6" class="l"/>
<path d="M210.2,314.9 212.5,314.8 204.7,308.2 202.3,308.2z" class="g1c"/><path d="M210.2,314.9 212.5,314.8M202.3,308.2 204.7,308.2M210.2,314.9 202.3,308.2M212.5,314.8 204.7,308.2" class="l"/>
<path d="M344.9,317.4 347.3,317.3 339.5,310.7 337.1,310.8z" class="g1c"/><path d="M344.9,317.4 347.3,317.3M337.1,310.8 339.5,310.7M344.9,317.4 337.1,310.8" class="l"/>
<path d="M482.1,319.2 484.4,319.5 476.6,311.6 474.3,311.4z" class="g20"/><path d="M482.1,319.2 484.4,319.5M474.3,311.4 476.6,311.6M484.4,319.5 476.6,311.6" class="l"/>
<path d="M207.8,314.9 210.2,314.9 202.3,308.2 200,308.3z" class="g1c"/><path d="M207.8,314.9 210.2,314.9M200,308.3 202.3,308.2M207.8,314.9 200,308.3M210.2,314.9 202.3,308.2" class="l"/>
<path d="M342.6,317.5 344.9,317.4 337.1,310.8 334.8,310.9z" class="g1c"/><path d="M342.6,317.5 344.9,317.4M334.8,310.9 337.1,310.8M344.9,317.4 337.1,310.8" class="l"/>
<path d="M479.7,319 482.1,319.2 474.3,311.4 471.9,311.2z" class="g20"/><path d="M479.7,319 482.1,319.2M471.9,311.2 474.3,311.4M479.7,319 471.9,311.2" class="l"/>
<path d="M205.5,315 207.8,314.9 200,308.3 197.6,308.4z" class="g1c"/><path d="M205.5,315 207.8,314.9M197.6,308.4 200,308.3M205.5,315 197.6,308.4M207.8,314.9 200,308.3" class="l"/>
<path d="M340.2,317.6 342.6,317.5 334.8,310.9 332.4,310.9z" class="g1c"/><path d="M340.2,317.6 342.6,317.5M332.4,310.9 334.8,310.9M340.2,317.6 332.4,310.9" class="l"/>
<path d="M477.4,318.7 479.7,319 471.9,311.2 469.6,311z" class="g20"/><path d="M477.4,318.7 479.7,319M469.6,311 471.9,311.2M479.7,319 471.9,311.2" class="l"/>
<path d="M203.1,315.1 205.5,315 197.6,308.4 195.3,308.5z" class="g1c"/><path d="M203.1,315.1 205.5,315M195.3,308.5 197.6,308.4M203.1,315.1 195.3,308.5M205.5,315 197.6,308.4" class="l"/>
<path d="M337.9,317.6 340.2,317.6 332.4,310.9 330.1,311z" class="g1c"/><path d="M337.9,317.6 340.2,317.6M330.1,311 332.4,310.9M340.2,317.6 332.4,310.9" class="l"/>
<path d="M200.8,315.2 203.1,315.1 195.3,308.5 192.9,308.5z" class="g1c"/><path d="M200.8,315.2 203.1,315.1M192.9,308.5 195.3,308.5M200.8,315.2 192.9,308.5M203.1,315.1 195.3,308.5" class="l"/>
<path d="M475,318.3 477.4,318.7 469.6,311 467.2,311z" class="g20"/><path d="M475,318.3 477.4,318.7M467.2,311 469.6,311M475,318.3 467.2,311" class="l"/>
<path d="M335.5,317.7 337.9,317.6 330.1,311 327.7,311.1z" class="g1c"/><path d="M335.5,317.7 337.9,317.6M327.7,311.1 330.1,311M335.5,317.7 327.7,311.1" class="l"/>
<path d="M198.4,315.2 200.8,315.2 192.9,308.5 190.6,308.6z" class="g1c"/><path d="M198.4,315.2 200.8,315.2M190.6,308.6 192.9,308.5M198.4,315.2 190.6,308.6M200.8,315.2 192.9,308.5" class="l"/>
<path d="M472.7,318 475,318.3 467.2,311 464.9,311z" class="g24"/><path d="M472.7,318 475,318.3M464.9,311 467.2,311M475,318.3 467.2,311" class="l"/>
<path d="M333.2,317.8 335.5,317.7 327.7,311.1 325.4,310.9z" class="g1c"/><path d="M333.2,317.8 335.5,317.7M325.4,310.9 327.7,311.1M335.5,317.7 327.7,311.1" class="l"/>
<path d="M196,315.3 198.4,315.2 190.6,308.6 188.2,308.7z" class="g1c"/><path d="M196,315.3 198.4,315.2M188.2,308.7 190.6,308.6M196,315.3 188.2,308.7M198.4,315.2 190.6,308.6" class="l"/>
<path d="M470.3,317.6 472.7,318 464.9,311 462.5,311z" class="g24"/><path d="M470.3,317.6 472.7,318M462.5,311 464.9,311M470.3,317.6 462.5,311" class="l"/>
<path d="M330.8,317.9 333.2,317.8 325.4,310.9 323,310.9z" class="g1c"/><path d="M330.8,317.9 333.2,317.8M323,310.9 325.4,310.9M330.8,317.9 323,310.9" class="l"/>
<path d="M193.7,315.4 196,315.3 188.2,308.7 185.9,308.8z" class="g1c"/><path d="M193.7,315.4 196,315.3M185.9,308.8 188.2,308.7M193.7,315.4 185.9,308.8M196,315.3 188.2,308.7" class="l"/>
<path d="M468,317.4 470.3,317.6 462.5,311 460.2,311z" class="g28"/><path d="M468,317.4 470.3,317.6M460.2,311 462.5,311M470.3,317.6 462.5,311" class="l"/>
<path d="M328.5,317.9 330.8,317.9 323,310.9 320.7,310.4z" class="g1c"/><path d="M328.5,317.9 330.8,317.9M320.7,310.4 323,310.9M330.8,317.9 323,310.9" class="l"/>
<path d="M191.3,315.5 193.7,315.4 185.9,308.8 183.5,308.8z" class="g1c"/><path d="M191.3,315.5 193.7,315.4M183.5,308.8 185.9,308.8M191.3,315.5 183.5,308.8M193.7,315.4 185.9,308.8" class="l"/>
<path d="M465.6,317.3 468,317.4 460.2,311 457.8,311z" class="g28"/><path d="M465.6,317.3 468,317.4M457.8,311 460.2,311M465.6,317.3 457.8,311" class="l"/>
<path d="M326.1,318 328.5,317.9 320.7,310.4 318.3,310.1z" class="g1c"/><path d="M326.1,318 328.5,317.9M318.3,310.1 320.7,310.4M326.1,318 318.3,310.1" class="l"/>
<path d="M189,315.5 191.3,315.5 183.5,308.8 181.2,308.9z" class="g1c"/><path d="M189,315.5 191.3,315.5M181.2,308.9 183.5,308.8M189,315.5 181.2,308.9M191.3,315.5 183.5,308.8" class="l"/>
<path d="M463.3,317.2 465.6,317.3 457.8,311 455.5,311z" class="g28"/><path d="M463.3,317.2 465.6,317.3M455.5,311 457.8,311M465.6,317.3 457.8,311" class="l"/>
<path d="M186.6,315.6 189,315.5 181.2,308.9 178.8,309z" class="g1c"/><path d="M186.6,315.6 189,315.5M178.8,309 181.2,308.9M186.6,315.6 178.8,309M189,315.5 181.2,308.9" class="l"/>
<path d="M323.8,317.8 326.1,318 318.3,310.1 316,308.9z" class="g20"/><path d="M323.8,317.8 326.1,318M316,308.9 318.3,310.1M326.1,318 318.3,310.1" class="l"/>
<path d="M595.7,320.8 597.8,320.7 589.9,316 587.9,316.1z" class="g24"/><path d="M595.7,320.8 597.8,320.7M587.9,316.1 589.9,316M595.7,320.8 587.9,316.1M597.8,320.7 589.9,316" class="l"/>
<path d="M460.9,317.1 463.3,317.2 455.5,311 453.1,311z" class="g28"/><path d="M460.9,317.1 463.3,317.2M453.1,311 455.5,311M460.9,317.1 453.1,311" class="l"/>
<path d="M184.3,315.7 186.6,315.6 178.8,309 176.5,309.1z" class="g1c"/><path d="M184.3,315.7 186.6,315.6M176.5,309.1 178.8,309M184.3,315.7 176.5,309.1M186.6,315.6 178.8,309" class="l"/>
<path d="M593.4,320.9 595.7,320.8 587.9,316.1 585.5,316.2z" class="g24"/><path d="M593.4,320.9 595.7,320.8M585.5,316.2 587.9,316.1M595.7,320.8 587.9,316.1" class="l"/>
<path d="M321.4,317.6 323.8,317.8 316,308.9 313.6,308z" class="g20"/><path d="M321.4,317.6 323.8,317.8M313.6,308 316,308.9M321.4,317.6 313.6,308" class="l"/>
<path d="M458.6,317.1 460.9,317.1 453.1,311 450.8,311z" class="g28"/><path d="M458.6,317.1 460.9,317.1M450.8,311 453.1,311M460.9,317.1 453.1,311" class="l"/>
<path d="M181.9,315.8 184.3,315.7 176.5,309.1 174.1,309.1z" class="g1c"/><path d="M181.9,315.8 184.3,315.7M174.1,309.1 176.5,309.1M181.9,315.8 174.1,309.1M184.3,315.7 176.5,309.1" class="l"/>
<path d="M591,321.1 593.4,320.9 585.5,316.2 583.2,316.3z" class="g24"/><path d="M591,321.1 593.4,320.9M583.2,316.3 585.5,316.2M591,321.1 583.2,316.3" class="l"/>
<path d="M456.2,317 458.6,317.1 450.8,311 448.4,311.2z" class="g28"/><path d="M456.2,317 458.6,317.1M448.4,311.2 450.8,311M456.2,317 448.4,311.2" class="l"/>
<path d="M179.6,315.8 181.9,315.8 174.1,309.1 171.8,309.2z" class="g1c"/><path d="M179.6,315.8 181.9,315.8M171.8,309.2 174.1,309.1M179.6,315.8 171.8,309.2M181.9,315.8 174.1,309.1" class="l"/>
<path d="M588.7,321.3 591,321.1 583.2,316.3 580.8,316.3z" class="g24"/><path d="M588.7,321.3 591,321.1M580.8,316.3 583.2,316.3M591,321.1 583.2,316.3" class="l"/>
<path d="M319.1,316.8 321.4,317.6 313.6,308 311.3,306.8z" class="g24"/><path d="M319.1,316.8 321.4,317.6M311.3,306.8 313.6,308M321.4,317.6 313.6,308" class="l"/>
<path d="M453.9,317 456.2,317 448.4,311.2 446.1,311.8z" class="g28"/><path d="M453.9,317 456.2,317M446.1,311.8 448.4,311.2M456.2,317 448.4,311.2" class="l"/>
<path d="M586.3,321.6 588.7,321.3 580.8,316.3 578.5,316.4z" class="g24"/><path d="M586.3,321.6 588.7,321.3M578.5,316.4 580.8,316.3M586.3,321.6 578.5,316.4" class="l"/>
<path d="M177.2,315.9 179.6,315.8 171.8,309.2 169.4,309.3z" class="g1c"/><path d="M177.2,315.9 179.6,315.8M169.4,309.3 171.8,309.2M177.2,315.9 169.4,309.3M179.6,315.8 171.8,309.2" class="l"/>
<path d="M316.7,316.3 319.1,316.8 311.3,306.8 308.9,305.6z" class="g24"/><path d="M316.7,316.3 319.1,316.8M308.9,305.6 311.3,306.8M316.7,316.3 308.9,305.6" class="l"/>
<path d="M451.5,316.9 453.9,317 446.1,311.8 443.7,312.3z" class="g28"/><path d="M451.5,316.9 453.9,317M443.7,312.3 446.1,311.8M451.5,316.9 443.7,312.3" class="l"/>
<path d="M584,321.8 586.3,321.6 578.5,316.4 576.1,316.5z" class="g20"/><path d="M584,321.8 586.3,321.6M576.1,316.5 578.5,316.4M586.3,321.6 578.5,316.4" class="l"/>
<path d="M174.9,316 177.2,315.9 169.4,309.3 167.1,309.4z" class="g1c"/><path d="M174.9,316 177.2,315.9M167.1,309.4 169.4,309.3M174.9,316 167.1,309.4M177.2,315.9 169.4,309.3" class="l"/>
<path d="M449.2,316.8 451.5,316.9 443.7,312.3 441.4,312.9z" class="g28"/><path d="M449.2,316.8 451.5,316.9M441.4,312.9 443.7,312.3M451.5,316.9 443.7,312.3" class="l"/>
<path d="M581.6,322 584,321.8 576.1,316.5 573.8,316.6z" class="g20"/><path d="M581.6,322 584,321.8M573.8,316.6 576.1,316.5M581.6,322 573.8,316.6" class="l"/>
<path d="M172.5,316.1 174.9,316 167.1,309.4 164.7,309.4z" class="g1c"/><path d="M172.5,316.1 174.9,316M164.7,309.4 167.1,309.4M172.5,316.1 164.7,309.4M174.9,316 167.1,309.4" class="l"/>
<path d="M446.8,316.9 449.2,316.8 441.4,312.9 439,313.5z" class="g28"/><path d="M446.8,316.9 449.2,316.8M439,313.5 441.4,312.9M446.8,316.9 439,313.5" class="l"/>
<path d="M314.4,314.2 316.7,316.3 308.9,305.6 306.6,304.3z" class="g30"/><path d="M314.4,314.2 316.7,316.3M306.6,304.3 308.9,305.6M316.7,316.3 308.9,305.6" class="l"/>
<path d="M579.3,322.3 581.6,322 573.8,316.6 571.4,316.7z" class="g20"/><path d="M579.3,322.3 581.6,322M571.4,316.7 573.8,316.6M581.6,322 573.8,316.6" class="l"/>
<path d="M170.2,316.1 172.5,316.1 164.7,309.4 162.4,309.5z" class="g1c"/><path d="M170.2,316.1 172.5,316.1M162.4,309.5 164.7,309.4M170.2,316.1 162.4,309.5M172.5,316.1 164.7,309.4" class="l"/>
<path d="M444.5,317.6 446.8,316.9 439,313.5 436.7,314z" class="g28"/><path d="M444.5,317.6 446.8,316.9M436.7,314 439,313.5M446.8,316.9 439,313.5" class="l"/>
<path d="M576.9,322.5 579.3,322.3 571.4,316.7 569.1,316.8z" class="g20"/><path d="M576.9,322.5 579.3,322.3M569.1,316.8 571.4,316.7M576.9,322.5 569.1,316.8" class="l"/>
<path d="M442.1,318.2 444.5,317.6 436.7,314 434.3,314.8z" class="g28"/><path d="M442.1,318.2 444.5,317.6M434.3,314.8 436.7,314M442.1,318.2 434.3,314.8" class="l"/>
<path d="M167.8,316.2 170.2,316.1 162.4,309.5 160,309.6z" class="g1c"/><path d="M167.8,316.2 170.2,316.1M160,309.6 162.4,309.5M167.8,316.2 160,309.6M170.2,316.1 162.4,309.5" class="l"/>
<path d="M439.8,318.8 442.1,318.2 434.3,314.8 431.9,316z" class="g24"/><path d="M439.8,318.8 442.1,318.2M431.9,316 434.3,314.8M442.1,318.2 434.3,314.8" class="l"/>
<path d="M312,312.7 314.4,314.2 306.6,304.3 304.2,302.8z" class="g30"/><path d="M312,312.7 314.4,314.2M304.2,302.8 306.6,304.3M312,312.7 304.2,302.8" class="l"/>
<path d="M574.5,322.7 576.9,322.5 569.1,316.8 566.7,316.9z" class="g20"/><path d="M574.5,322.7 576.9,322.5M566.7,316.9 569.1,316.8M576.9,322.5 569.1,316.8" class="l"/>
<path d="M437.4,319.4 439.8,318.8 431.9,316 429.6,317.3z" class="g24"/><path d="M437.4,319.4 439.8,318.8M429.6,317.3 431.9,316M437.4,319.4 429.6,317.3" class="l"/>
<path d="M165.5,316.3 167.8,316.2 160,309.6 157.7,309.7z" class="g1c"/><path d="M165.5,316.3 167.8,316.2M157.7,309.7 160,309.6M165.5,316.3 157.7,309.7M167.8,316.2 160,309.6" class="l"/>
<path d="M435.1,320 437.4,319.4 429.6,317.3 427.2,318.5z" class="g20"/><path d="M435.1,320 437.4,319.4M427.2,318.5 429.6,317.3M437.4,319.4 429.6,317.3" class="l"/>
<path d="M572.2,323 574.5,322.7 566.7,316.9 564.4,317z" class="g20"/><path d="M572.2,323 574.5,322.7M564.4,317 566.7,316.9M572.2,323 564.4,317" class="l"/>
<path d="M432.7,320.9 435.1,320 427.2,318.5 424.9,319.9z" class="g20"/><path d="M432.7,320.9 435.1,320M424.9,319.9 427.2,318.5M432.7,320.9 424.9,319.9" class="l"/>
<path d="M430.4,322.4 432.7,320.9 424.9,319.9 422.5,321.6z" class="g18"/><path d="M430.4,322.4 432.7,320.9M422.5,321.6 424.9,319.9M432.7,320.9 424.9,319.9" class="l"/>
<path d="M428,323.8 430.4,322.4 422.5,321.6 420.2,323.2z" class="g18"/><path d="M428,323.8 430.4,322.4M420.2,323.2 422.5,321.6M428,323.8 420.2,323.2" class="l"/>
<path d="M163.1,316.4 165.5,316.3 157.7,309.7 155.3,309.7z" class="g1c"/><path d="M163.1,316.4 165.5,316.3M155.3,309.7 157.7,309.7M163.1,316.4 155.3,309.7M165.5,316.3 157.7,309.7" class="l"/>
<path d="M425.7,325.3 428,323.8 420.2,323.2 417.8,324.9z" class="gc"/><path d="M425.7,325.3 428,323.8M417.8,324.9 420.2,323.2M428,323.8 420.2,323.2" class="l"/>
<path d="M423.3,327 425.7,325.3 417.8,324.9 415.5,325.7z" class="gc"/><path d="M423.3,327 425.7,325.3M415.5,325.7 417.8,324.9M423.3,327 415.5,325.7" class="l"/>
<path d="M420.9,329.1 423.3,327 415.5,325.7 413.1,326.4z" class="g0"/><path d="M420.9,329.1 423.3,327M413.1,326.4 415.5,325.7M423.3,327 415.5,325.7" class="l"/>
<path d="M418.6,331.2 420.9,329.1 413.1,326.4 410.8,327.1z" class="g0"/><path d="M418.6,331.2 420.9,329.1M410.8,327.1 413.1,326.4M418.6,331.2 410.8,327.1" class="l"/>
<path d="M569.8,323.2 572.2,323 564.4,317 562,317.1z" class="g20"/><path d="M569.8,323.2 572.2,323M562,317.1 564.4,317M572.2,323 564.4,317" class="l"/>
<path d="M416.2,333.3 418.6,331.2 410.8,327.1 408.4,327.8z" class="g0"/><path d="M416.2,333.3 418.6,331.2M408.4,327.8 410.8,327.1M418.6,331.2 410.8,327.1" class="l"/>
<path d="M309.7,310.4 312,312.7 304.2,302.8 301.9,301.4z" class="g3c"/><path d="M309.7,310.4 312,312.7M301.9,301.4 304.2,302.8M312,312.7 304.2,302.8" class="l"/>
<path d="M160.8,316.4 163.1,316.4 155.3,309.7 153,309.8z" class="g1c"/><path d="M160.8,316.4 163.1,316.4M153,309.8 155.3,309.7M160.8,316.4 153,309.8M163.1,316.4 155.3,309.7" class="l"/>
<path d="M413.9,334.4 416.2,333.3 408.4,327.8 406.1,328.5z" class="g0"/><path d="M413.9,334.4 416.2,333.3M406.1,328.5 408.4,327.8M413.9,334.4 406.1,328.5" class="l"/>
<path d="M567.5,323.4 569.8,323.2 562,317.1 559.7,317.2z" class="g20"/><path d="M567.5,323.4 569.8,323.2M559.7,317.2 562,317.1M567.5,323.4 559.7,317.2" class="l"/>
<path d="M411.5,335.4 413.9,334.4 406.1,328.5 403.7,328.2z" class="g0"/><path d="M411.5,335.4 413.9,334.4M403.7,328.2 406.1,328.5M413.9,334.4 406.1,328.5" class="l"/>
<path d="M158.4,316.5 160.8,316.4 153,309.8 150.6,309.9z" class="g1c"/><path d="M158.4,316.5 160.8,316.4M150.6,309.9 153,309.8M158.4,316.5 150.6,309.9M160.8,316.4 153,309.8" class="l"/>
<path d="M565.1,323.6 567.5,323.4 559.7,317.2 557.3,317.3z" class="g20"/><path d="M565.1,323.6 567.5,323.4M557.3,317.3 559.7,317.2M567.5,323.4 559.7,317.2" class="l"/>
<path d="M409.2,336.3 411.5,335.4 403.7,328.2 401.4,327.9z" class="g0"/><path d="M409.2,336.3 411.5,335.4M401.4,327.9 403.7,328.2M409.2,336.3 401.4,327.9" class="l"/>
<path d="M307.3,308.2 309.7,310.4 301.9,301.4 299.5,299.9z" class="g3c"/><path d="M307.3,308.2 309.7,310.4M299.5,299.9 301.9,301.4M307.3,308.2 299.5,299.9" class="l"/>
<path d="M156.1,316.6 158.4,316.5 150.6,309.9 148.3,310z" class="g1c"/><path d="M156.1,316.6 158.4,316.5M148.3,310 150.6,309.9M156.1,316.6 148.3,310M158.4,316.5 150.6,309.9" class="l"/>
<path d="M406.8,337.2 409.2,336.3 401.4,327.9 399,327.6z" class="g0"/><path d="M406.8,337.2 409.2,336.3M399,327.6 401.4,327.9M409.2,336.3 401.4,327.9" class="l"/>
<path d="M562.8,323.7 565.1,323.6 557.3,317.3 555,317.4z" class="g20"/><path d="M562.8,323.7 565.1,323.6M555,317.4 557.3,317.3M562.8,323.7 555,317.4" class="l"/>
<path d="M153.7,316.7 156.1,316.6 148.3,310 145.9,310z" class="g1c"/><path d="M153.7,316.7 156.1,316.6M145.9,310 148.3,310M153.7,316.7 145.9,310M156.1,316.6 148.3,310" class="l"/>
<path d="M404.5,338.1 406.8,337.2 399,327.6 396.7,327.3z" class="g0"/><path d="M404.5,338.1 406.8,337.2M396.7,327.3 399,327.6M404.5,338.1 396.7,327.3" class="l"/>
<path d="M560.4,323.9 562.8,323.7 555,317.4 552.6,317.5z" class="g20"/><path d="M560.4,323.9 562.8,323.7M552.6,317.5 555,317.4M562.8,323.7 555,317.4" class="l"/>
<path d="M402.1,337.9 404.5,338.1 396.7,327.3 394.3,326.9z" class="g0"/><path d="M402.1,337.9 404.5,338.1M394.3,326.9 396.7,327.3M404.5,338.1 396.7,327.3" class="l"/>
<path d="M305,305.6 307.3,308.2 299.5,299.9 297.2,298.3z" class="g4c"/><path d="M305,305.6 307.3,308.2M297.2,298.3 299.5,299.9M307.3,308.2 299.5,299.9" class="l"/>
<path d="M558.1,324 560.4,323.9 552.6,317.5 550.3,317.8z" class="g20"/><path d="M558.1,324 560.4,323.9M550.3,317.8 552.6,317.5M558.1,324 550.3,317.8" class="l"/>
<path d="M555.7,324.2 558.1,324 550.3,317.8 547.9,318.1z" class="g20"/><path d="M555.7,324.2 558.1,324M547.9,318.1 550.3,317.8M558.1,324 550.3,317.8" class="l"/>
<path d="M399.8,337.6 402.1,337.9 394.3,326.9 392,326.6z" class="g0"/><path d="M399.8,337.6 402.1,337.9M392,326.6 394.3,326.9M399.8,337.6 392,326.6" class="l"/>
<path d="M553.4,324.3 555.7,324.2 547.9,318.1 545.6,318.4z" class="g20"/><path d="M553.4,324.3 555.7,324.2M545.6,318.4 547.9,318.1M553.4,324.3 545.6,318.4" class="l"/>
<path d="M302.6,302.8 305,305.6 297.2,298.3 294.8,296.7z" class="g4c"/><path d="M302.6,302.8 305,305.6M294.8,296.7 297.2,298.3M302.6,302.8 294.8,296.7" class="l"/>
<path d="M397.4,337.2 399.8,337.6 392,326.6 389.6,326.3z" class="g0"/><path d="M397.4,337.2 399.8,337.6M389.6,326.3 392,326.6M399.8,337.6 392,326.6" class="l"/>
<path d="M551,324.4 553.4,324.3 545.6,318.4 543.2,318.7z" class="g1c"/><path d="M551,324.4 553.4,324.3M543.2,318.7 545.6,318.4M553.4,324.3 545.6,318.4" class="l"/>
<path d="M548.7,324.8 551,324.4 543.2,318.7 540.9,319z" class="g1c"/><path d="M548.7,324.8 551,324.4M540.9,319 543.2,318.7M548.7,324.8 540.9,319" class="l"/>
<path d="M395.1,336.9 397.4,337.2 389.6,326.3 387.3,325.5z" class="g0"/><path d="M395.1,336.9 397.4,337.2M387.3,325.5 389.6,326.3M395.1,336.9 387.3,325.5" class="l"/>
<path d="M546.3,325.2 548.7,324.8 540.9,319 538.5,319.3z" class="g1c"/><path d="M546.3,325.2 548.7,324.8M538.5,319.3 540.9,319M548.7,324.8 540.9,319" class="l"/>
<path d="M300.3,300.3 302.6,302.8 294.8,296.7 292.5,294.7z" class="g60"/><path d="M300.3,300.3 302.6,302.8M292.5,294.7 294.8,296.7M302.6,302.8 294.8,296.7" class="l"/>
<path d="M392.7,336.6 395.1,336.9 387.3,325.5 384.9,324.3z" class="g0"/><path d="M392.7,336.6 395.1,336.9M384.9,324.3 387.3,325.5M395.1,336.9 387.3,325.5" class="l"/>
<path d="M544,325.6 546.3,325.2 538.5,319.3 536.2,319.6z" class="g1c"/><path d="M544,325.6 546.3,325.2M536.2,319.6 538.5,319.3M544,325.6 536.2,319.6" class="l"/>
<path d="M541.6,326 544,325.6 536.2,319.6 533.8,320z" class="g18"/><path d="M541.6,326 544,325.6M533.8,320 536.2,319.6M544,325.6 536.2,319.6" class="l"/>
<path d="M390.4,336.2 392.7,336.6 384.9,324.3 382.6,323z" class="g0"/><path d="M390.4,336.2 392.7,336.6M382.6,323 384.9,324.3M390.4,336.2 382.6,323" class="l"/>
<path d="M539.3,326.4 541.6,326 533.8,320 531.5,320.2z" class="g18"/><path d="M539.3,326.4 541.6,326M531.5,320.2 533.8,320M539.3,326.4 531.5,320.2" class="l"/>
<path d="M297.9,297.5 300.3,300.3 292.5,294.7 290.1,292.7z" class="g60"/><path d="M297.9,297.5 300.3,300.3M290.1,292.7 292.5,294.7M297.9,297.5 290.1,292.7" class="l"/>
<path d="M536.9,326.8 539.3,326.4 531.5,320.2 529.1,320.4z" class="g18"/><path d="M536.9,326.8 539.3,326.4M529.1,320.4 531.5,320.2M539.3,326.4 531.5,320.2" class="l"/>
<path d="M388,335.9 390.4,336.2 382.6,323 380.2,321.8z" class="g0"/><path d="M388,335.9 390.4,336.2M380.2,321.8 382.6,323M390.4,336.2 382.6,323" class="l"/>
<path d="M534.6,327.2 536.9,326.8 529.1,320.4 526.8,320.6z" class="g18"/><path d="M534.6,327.2 536.9,326.8M526.8,320.6 529.1,320.4M534.6,327.2 526.8,320.6" class="l"/>
<path d="M532.2,327.6 534.6,327.2 526.8,320.6 524.4,320.8z" class="g14"/><path d="M532.2,327.6 534.6,327.2M524.4,320.8 526.8,320.6M534.6,327.2 526.8,320.6" class="l"/>
<path d="M295.6,294.8 297.9,297.5 290.1,292.7 287.8,290.5z" class="g70"/><path d="M295.6,294.8 297.9,297.5M287.8,290.5 290.1,292.7M297.9,297.5 290.1,292.7" class="l"/>
<path d="M529.9,327.8 532.2,327.6 524.4,320.8 522.1,321z" class="g14"/><path d="M529.9,327.8 532.2,327.6M522.1,321 524.4,320.8M529.9,327.8 522.1,321" class="l"/>
<path d="M385.7,335 388,335.9 380.2,321.8 377.9,317.8z" class="g0"/><path d="M385.7,335 388,335.9M377.9,317.8 380.2,321.8M385.7,335 377.9,317.8" class="l"/>
<path d="M527.5,328.1 529.9,327.8 522.1,321 519.7,321.2z" class="g14"/><path d="M527.5,328.1 529.9,327.8M519.7,321.2 522.1,321M529.9,327.8 522.1,321" class="l"/>
<path d="M525.2,328.3 527.5,328.1 519.7,321.2 517.4,321.4z" class="g14"/><path d="M525.2,328.3 527.5,328.1M517.4,321.4 519.7,321.2M525.2,328.3 517.4,321.4" class="l"/>
<path d="M293.2,291.9 295.6,294.8 287.8,290.5 285.4,288.5z" class="g70"/><path d="M293.2,291.9 295.6,294.8M285.4,288.5 287.8,290.5M293.2,291.9 285.4,288.5" class="l"/>
<path d="M383.3,333.4 385.7,335 377.9,317.8 375.5,316.5z" class="g4"/><path d="M383.3,333.4 385.7,335M375.5,316.5 377.9,317.8M385.7,335 377.9,317.8" class="l"/>
<path d="M522.8,328.6 525.2,328.3 517.4,321.4 515,321.6z" class="g14"/><path d="M522.8,328.6 525.2,328.3M515,321.6 517.4,321.4M525.2,328.3 517.4,321.4" class="l"/>
<path d="M520.5,328.8 522.8,328.6 515,321.6 512.7,321.6z" class="g14"/><path d="M520.5,328.8 522.8,328.6M512.7,321.6 515,321.6M520.5,328.8 512.7,321.6" class="l"/>
<path d="M381,331.9 383.3,333.4 375.5,316.5 373.2,316.6z" class="g4"/><path d="M381,331.9 383.3,333.4M373.2,316.6 375.5,316.5M381,331.9 373.2,316.6" class="l"/>
<path d="M518.1,329 520.5,328.8 512.7,321.6 510.3,321.4z" class="g10"/><path d="M518.1,329 520.5,328.8M510.3,321.4 512.7,321.6M520.5,328.8 512.7,321.6" class="l"/>
<path d="M290.9,288.5 293.2,291.9 285.4,288.5 283.1,286.4z" class="g84"/><path d="M290.9,288.5 293.2,291.9M283.1,286.4 285.4,288.5M293.2,291.9 285.4,288.5" class="l"/>
<path d="M378.6,330.3 381,331.9 373.2,316.6 370.8,316.6z" class="g18"/><path d="M378.6,330.3 381,331.9M370.8,316.6 373.2,316.6M381,331.9 373.2,316.6" class="l"/>
<path d="M515.8,329.3 518.1,329 510.3,321.4 508,321.3z" class="g10"/><path d="M515.8,329.3 518.1,329M508,321.3 510.3,321.4M515.8,329.3 508,321.3" class="l"/>
<path d="M513.4,329.5 515.8,329.3 508,321.3 505.6,321.2z" class="g10"/><path d="M513.4,329.5 515.8,329.3M505.6,321.2 508,321.3M515.8,329.3 508,321.3" class="l"/>
<path d="M376.3,325.4 378.6,330.3 370.8,316.6 368.5,316.7z" class="g18"/><path d="M376.3,325.4 378.6,330.3M368.5,316.7 370.8,316.6M376.3,325.4 368.5,316.7" class="l"/>
<path d="M288.5,284.7 290.9,288.5 283.1,286.4 280.7,284.6z" class="g84"/><path d="M288.5,284.7 290.9,288.5M280.7,284.6 283.1,286.4M288.5,284.7 280.7,284.6" class="l"/>
<path d="M511.1,329.5 513.4,329.5 505.6,321.2 503.2,321z" class="g10"/><path d="M511.1,329.5 513.4,329.5M503.2,321 505.6,321.2M511.1,329.5 503.2,321" class="l"/>
<path d="M508.7,329.2 511.1,329.5 503.2,321 500.9,320.9z" class="g14"/><path d="M508.7,329.2 511.1,329.5M500.9,320.9 503.2,321M511.1,329.5 503.2,321" class="l"/>
<path d="M246.2,313.6 248.5,310 240.7,313.8 238.4,314z" class="g2c"/><path d="M246.2,313.6 248.5,310M238.4,314 240.7,313.8M246.2,313.6 238.4,314M248.5,310 240.7,313.8" class="l"/>
<path d="M243.8,316.4 246.2,313.6 238.4,314 236,314z" class="g20"/><path d="M243.8,316.4 246.2,313.6M236,314 238.4,314M243.8,316.4 236,314M246.2,313.6 238.4,314" class="l"/>
<path d="M373.9,323.4 376.3,325.4 368.5,316.7 366.1,316.8z" class="g1c"/><path d="M373.9,323.4 376.3,325.4M366.1,316.8 368.5,316.7M376.3,325.4 368.5,316.7" class="l"/>
<path d="M241.5,317.8 243.8,316.4 236,314 233.7,314.1z" class="g20"/><path d="M241.5,317.8 243.8,316.4M233.7,314.1 236,314M241.5,317.8 233.7,314.1M243.8,316.4 236,314" class="l"/>
<path d="M506.4,329 508.7,329.2 500.9,320.9 498.5,320.7z" class="g14"/><path d="M506.4,329 508.7,329.2M498.5,320.7 500.9,320.9M506.4,329 498.5,320.7" class="l"/>
<path d="M248.5,310 250.9,304.3 243.1,313.2 240.7,313.8z" class="g2c"/><path d="M248.5,310 250.9,304.3M240.7,313.8 243.1,313.2M248.5,310 240.7,313.8M250.9,304.3 243.1,313.2" class="l"/>
<path d="M286.2,280.7 288.5,284.7 280.7,284.6 278.3,283.5z" class="ga0"/><path d="M286.2,280.7 288.5,284.7M278.3,283.5 280.7,284.6M288.5,284.7 280.7,284.6" class="l"/>
<path d="M239.1,318.4 241.5,317.8 233.7,314.1 231.3,314.2z" class="g1c"/><path d="M239.1,318.4 241.5,317.8M231.3,314.2 233.7,314.1M239.1,318.4 231.3,314.2M241.5,317.8 233.7,314.1" class="l"/>
<path d="M371.6,323.4 373.9,323.4 366.1,316.8 363.8,316.8z" class="g1c"/><path d="M371.6,323.4 373.9,323.4M363.8,316.8 366.1,316.8M371.6,323.4 363.8,316.8" class="l"/>
<path d="M504,328.8 506.4,329 498.5,320.7 496.2,320.5z" class="g18"/><path d="M504,328.8 506.4,329M496.2,320.5 498.5,320.7M506.4,329 498.5,320.7" class="l"/>
<path d="M250.9,304.3 253.2,297.4 245.4,312.1 243.1,313.2z" class="g48"/><path d="M250.9,304.3 253.2,297.4M243.1,313.2 245.4,312.1M250.9,304.3 243.1,313.2M253.2,297.4 245.4,312.1" class="l"/>
<path d="M236.8,318.5 239.1,318.4 231.3,314.2 229,314.3z" class="g1c"/><path d="M236.8,318.5 239.1,318.4M229,314.3 231.3,314.2M236.8,318.5 229,314.3M239.1,318.4 231.3,314.2" class="l"/>
<path d="M369.2,323.5 371.6,323.4 363.8,316.8 361.4,316.9z" class="g1c"/><path d="M369.2,323.5 371.6,323.4M361.4,316.9 363.8,316.8M371.6,323.4 363.8,316.8" class="l"/>
<path d="M501.7,328.6 504,328.8 496.2,320.5 493.8,320.3z" class="g18"/><path d="M501.7,328.6 504,328.8M493.8,320.3 496.2,320.5M501.7,328.6 493.8,320.3" class="l"/>
<path d="M234.4,318.6 236.8,318.5 229,314.3 226.6,314.3z" class="g1c"/><path d="M234.4,318.6 236.8,318.5M226.6,314.3 229,314.3M234.4,318.6 226.6,314.3M236.8,318.5 229,314.3" class="l"/>
<path d="M253.2,297.4 255.6,290.1 247.8,310.6 245.4,312.1z" class="g48"/><path d="M253.2,297.4 255.6,290.1M245.4,312.1 247.8,310.6M253.2,297.4 245.4,312.1M255.6,290.1 247.8,310.6" class="l"/>
<path d="M283.8,276.7 286.2,280.7 278.3,283.5 276,282.9z" class="ga0"/><path d="M283.8,276.7 286.2,280.7M276,282.9 278.3,283.5M283.8,276.7 276,282.9" class="l"/>
<path d="M366.9,323.6 369.2,323.5 361.4,316.9 359.1,317z" class="g1c"/><path d="M366.9,323.6 369.2,323.5M359.1,317 361.4,316.9M366.9,323.6 359.1,317" class="l"/>
<path d="M232.1,318.7 234.4,318.6 226.6,314.3 224.3,314.4z" class="g1c"/><path d="M232.1,318.7 234.4,318.6M224.3,314.4 226.6,314.3M232.1,318.7 224.3,314.4M234.4,318.6 226.6,314.3" class="l"/>
<path d="M499.3,328.4 501.7,328.6 493.8,320.3 491.5,320.1z" class="g18"/><path d="M499.3,328.4 501.7,328.6M491.5,320.1 493.8,320.3M501.7,328.6 493.8,320.3" class="l"/>
<path d="M364.5,323.7 366.9,323.6 359.1,317 356.7,317z" class="g1c"/><path d="M364.5,323.7 366.9,323.6M356.7,317 359.1,317M366.9,323.6 359.1,317" class="l"/>
<path d="M255.6,290.1 257.9,284.7 250.1,308.5 247.8,310.6z" class="g74"/><path d="M255.6,290.1 257.9,284.7M247.8,310.6 250.1,308.5M255.6,290.1 247.8,310.6M257.9,284.7 250.1,308.5" class="l"/>
<path d="M229.7,318.7 232.1,318.7 224.3,314.4 221.9,314.5z" class="g1c"/><path d="M229.7,318.7 232.1,318.7M221.9,314.5 224.3,314.4M229.7,318.7 221.9,314.5M232.1,318.7 224.3,314.4" class="l"/>
<path d="M497,328.2 499.3,328.4 491.5,320.1 489.1,319.9z" class="g18"/><path d="M497,328.2 499.3,328.4M489.1,319.9 491.5,320.1M497,328.2 489.1,319.9" class="l"/>
<path d="M362.2,323.7 364.5,323.7 356.7,317 354.4,317.1z" class="g1c"/><path d="M362.2,323.7 364.5,323.7M354.4,317.1 356.7,317M362.2,323.7 354.4,317.1" class="l"/>
<path d="M281.5,272.7 283.8,276.7 276,282.9 273.6,283.1z" class="gb4"/><path d="M281.5,272.7 283.8,276.7M273.6,283.1 276,282.9M283.8,276.7 276,282.9" class="l"/>
<path d="M227.4,318.8 229.7,318.7 221.9,314.5 219.6,314.6z" class="g1c"/><path d="M227.4,318.8 229.7,318.7M219.6,314.6 221.9,314.5M227.4,318.8 219.6,314.6M229.7,318.7 221.9,314.5" class="l"/>
<path d="M257.9,284.7 260.3,279.4 252.5,305.4 250.1,308.5z" class="g74"/><path d="M257.9,284.7 260.3,279.4M250.1,308.5 252.5,305.4M257.9,284.7 250.1,308.5M260.3,279.4 252.5,305.4" class="l"/>
<path d="M494.6,327.9 497,328.2 489.1,319.9 486.8,319.7z" class="g18"/><path d="M494.6,327.9 497,328.2M486.8,319.7 489.1,319.9M497,328.2 489.1,319.9" class="l"/>
<path d="M359.8,323.8 362.2,323.7 354.4,317.1 352,317.2z" class="g1c"/><path d="M359.8,323.8 362.2,323.7M352,317.2 354.4,317.1M362.2,323.7 354.4,317.1" class="l"/>
<path d="M225,319 227.4,318.8 219.6,314.6 217.2,314.6z" class="g1c"/><path d="M225,319 227.4,318.8M217.2,314.6 219.6,314.6M225,319 217.2,314.6M227.4,318.8 219.6,314.6" class="l"/>
<path d="M357.5,323.9 359.8,323.8 352,317.2 349.6,317.3z" class="g1c"/><path d="M357.5,323.9 359.8,323.8M349.6,317.3 352,317.2M357.5,323.9 349.6,317.3" class="l"/>
<path d="M492.2,327.6 494.6,327.9 486.8,319.7 484.4,319.5z" class="g18"/><path d="M492.2,327.6 494.6,327.9M484.4,319.5 486.8,319.7M492.2,327.6 484.4,319.5" class="l"/>
<path d="M222.7,319.9 225,319 217.2,314.6 214.9,314.7z" class="g1c"/><path d="M222.7,319.9 225,319M214.9,314.7 217.2,314.6M222.7,319.9 214.9,314.7M225,319 217.2,314.6" class="l"/>
<path d="M260.3,279.4 262.6,275.1 254.8,301.4 252.5,305.4z" class="g98"/><path d="M260.3,279.4 262.6,275.1M252.5,305.4 254.8,301.4M260.3,279.4 252.5,305.4M262.6,275.1 254.8,301.4" class="l"/>
<path d="M279.1,269.1 281.5,272.7 273.6,283.1 271.3,283.5z" class="gb4"/><path d="M279.1,269.1 281.5,272.7M271.3,283.5 273.6,283.1M279.1,269.1 271.3,283.5" class="l"/>
<path d="M220.3,320.6 222.7,319.9 214.9,314.7 212.5,314.8z" class="g1c"/><path d="M220.3,320.6 222.7,319.9M212.5,314.8 214.9,314.7M220.3,320.6 212.5,314.8M222.7,319.9 214.9,314.7" class="l"/>
<path d="M355.1,324 357.5,323.9 349.6,317.3 347.3,317.3z" class="g1c"/><path d="M355.1,324 357.5,323.9M347.3,317.3 349.6,317.3M357.5,323.9 349.6,317.3" class="l"/>
<path d="M489.9,327.3 492.2,327.6 484.4,319.5 482.1,319.2z" class="g1c"/><path d="M489.9,327.3 492.2,327.6M482.1,319.2 484.4,319.5M492.2,327.6 484.4,319.5" class="l"/>
<path d="M218,321.2 220.3,320.6 212.5,314.8 210.2,314.9z" class="g1c"/><path d="M218,321.2 220.3,320.6M210.2,314.9 212.5,314.8M218,321.2 210.2,314.9M220.3,320.6 212.5,314.8" class="l"/>
<path d="M262.6,275.1 265,271.4 257.2,297.2 254.8,301.4z" class="g98"/><path d="M262.6,275.1 265,271.4M254.8,301.4 257.2,297.2M262.6,275.1 254.8,301.4M265,271.4 257.2,297.2" class="l"/>
<path d="M352.8,324 355.1,324 347.3,317.3 344.9,317.4z" class="g1c"/><path d="M352.8,324 355.1,324M344.9,317.4 347.3,317.3M352.8,324 344.9,317.4" class="l"/>
<path d="M276.8,266.9 279.1,269.1 271.3,283.5 268.9,284.7z" class="gc0"/><path d="M276.8,266.9 279.1,269.1M268.9,284.7 271.3,283.5M276.8,266.9 268.9,284.7M279.1,269.1 271.3,283.5" class="l"/>
<path d="M487.5,327 489.9,327.3 482.1,319.2 479.7,319z" class="g1c"/><path d="M487.5,327 489.9,327.3M479.7,319 482.1,319.2M487.5,327 479.7,319" class="l"/>
<path d="M215.6,321.5 218,321.2 210.2,314.9 207.8,314.9z" class="g1c"/><path d="M215.6,321.5 218,321.2M207.8,314.9 210.2,314.9M215.6,321.5 207.8,314.9M218,321.2 210.2,314.9" class="l"/>
<path d="M350.4,324.1 352.8,324 344.9,317.4 342.6,317.5z" class="g1c"/><path d="M350.4,324.1 352.8,324M342.6,317.5 344.9,317.4M352.8,324 344.9,317.4" class="l"/>
<path d="M265,271.4 267.3,268.9 259.5,294.2 257.2,297.2z" class="gb0"/><path d="M265,271.4 267.3,268.9M257.2,297.2 259.5,294.2M265,271.4 257.2,297.2M267.3,268.9 259.5,294.2" class="l"/>
<path d="M274.4,265.7 276.8,266.9 268.9,284.7 266.6,286.1z" class="gc0"/><path d="M274.4,265.7 276.8,266.9M266.6,286.1 268.9,284.7M274.4,265.7 266.6,286.1M276.8,266.9 268.9,284.7" class="l"/>
<path d="M213.3,321.6 215.6,321.5 207.8,314.9 205.5,315z" class="g1c"/><path d="M213.3,321.6 215.6,321.5M205.5,315 207.8,314.9M213.3,321.6 205.5,315M215.6,321.5 207.8,314.9" class="l"/>
<path d="M485.2,326.7 487.5,327 479.7,319 477.4,318.7z" class="g20"/><path d="M485.2,326.7 487.5,327M477.4,318.7 479.7,319M487.5,327 479.7,319" class="l"/>
<path d="M267.3,268.9 269.7,266.6 261.9,290.9 259.5,294.2z" class="gb0"/><path d="M267.3,268.9 269.7,266.6M259.5,294.2 261.9,290.9M267.3,268.9 259.5,294.2M269.7,266.6 261.9,290.9" class="l"/>
<path d="M272.1,265.8 274.4,265.7 266.6,286.1 264.2,288.5z" class="gbc"/><path d="M272.1,265.8 274.4,265.7M264.2,288.5 266.6,286.1M272.1,265.8 264.2,288.5M274.4,265.7 266.6,286.1" class="l"/>
<path d="M348.1,324.2 350.4,324.1 342.6,317.5 340.2,317.6z" class="g1c"/><path d="M348.1,324.2 350.4,324.1M340.2,317.6 342.6,317.5M348.1,324.2 340.2,317.6" class="l"/>
<path d="M269.7,266.6 272.1,265.8 264.2,288.5 261.9,290.9z" class="gbc"/><path d="M269.7,266.6 272.1,265.8M261.9,290.9 264.2,288.5M269.7,266.6 261.9,290.9M272.1,265.8 264.2,288.5" class="l"/>
<path d="M210.9,321.7 213.3,321.6 205.5,315 203.1,315.1z" class="g1c"/><path d="M210.9,321.7 213.3,321.6M203.1,315.1 205.5,315M210.9,321.7 203.1,315.1M213.3,321.6 205.5,315" class="l"/>
<path d="M482.8,326.4 485.2,326.7 477.4,318.7 475,318.3z" class="g20"/><path d="M482.8,326.4 485.2,326.7M475,318.3 477.4,318.7M482.8,326.4 475,318.3" class="l"/>
<path d="M345.7,324.3 348.1,324.2 340.2,317.6 337.9,317.6z" class="g1c"/><path d="M345.7,324.3 348.1,324.2M337.9,317.6 340.2,317.6M348.1,324.2 340.2,317.6" class="l"/>
<path d="M208.6,321.8 210.9,321.7 203.1,315.1 200.8,315.2z" class="g1c"/><path d="M208.6,321.8 210.9,321.7M200.8,315.2 203.1,315.1M208.6,321.8 200.8,315.2M210.9,321.7 203.1,315.1" class="l"/>
<path d="M343.4,324.3 345.7,324.3 337.9,317.6 335.5,317.7z" class="g1c"/><path d="M343.4,324.3 345.7,324.3M335.5,317.7 337.9,317.6M343.4,324.3 335.5,317.7" class="l"/>
<path d="M480.5,326 482.8,326.4 475,318.3 472.7,318z" class="g20"/><path d="M480.5,326 482.8,326.4M472.7,318 475,318.3M482.8,326.4 475,318.3" class="l"/>
<path d="M206.2,321.9 208.6,321.8 200.8,315.2 198.4,315.2z" class="g1c"/><path d="M206.2,321.9 208.6,321.8M198.4,315.2 200.8,315.2M206.2,321.9 198.4,315.2M208.6,321.8 200.8,315.2" class="l"/>
<path d="M341,324.4 343.4,324.3 335.5,317.7 333.2,317.8z" class="g1c"/><path d="M341,324.4 343.4,324.3M333.2,317.8 335.5,317.7M343.4,324.3 335.5,317.7" class="l"/>
<path d="M478.1,325.7 480.5,326 472.7,318 470.3,317.6z" class="g20"/><path d="M478.1,325.7 480.5,326M470.3,317.6 472.7,318M478.1,325.7 470.3,317.6" class="l"/>
<path d="M203.9,321.9 206.2,321.9 198.4,315.2 196,315.3z" class="g1c"/><path d="M203.9,321.9 206.2,321.9M196,315.3 198.4,315.2M203.9,321.9 196,315.3M206.2,321.9 198.4,315.2" class="l"/>
<path d="M338.6,324.5 341,324.4 333.2,317.8 330.8,317.9z" class="g1c"/><path d="M338.6,324.5 341,324.4M330.8,317.9 333.2,317.8M338.6,324.5 330.8,317.9" class="l"/>
<path d="M201.5,322 203.9,321.9 196,315.3 193.7,315.4z" class="g1c"/><path d="M201.5,322 203.9,321.9M193.7,315.4 196,315.3M201.5,322 193.7,315.4M203.9,321.9 196,315.3" class="l"/>
<path d="M475.8,325.3 478.1,325.7 470.3,317.6 468,317.4z" class="g24"/><path d="M475.8,325.3 478.1,325.7M468,317.4 470.3,317.6M478.1,325.7 470.3,317.6" class="l"/>
<path d="M336.3,324.6 338.6,324.5 330.8,317.9 328.5,317.9z" class="g1c"/><path d="M336.3,324.6 338.6,324.5M328.5,317.9 330.8,317.9M338.6,324.5 330.8,317.9" class="l"/>
<path d="M199.2,322.1 201.5,322 193.7,315.4 191.3,315.5z" class="g1c"/><path d="M199.2,322.1 201.5,322M191.3,315.5 193.7,315.4M199.2,322.1 191.3,315.5M201.5,322 193.7,315.4" class="l"/>
<path d="M333.9,324.6 336.3,324.6 328.5,317.9 326.1,318z" class="g1c"/><path d="M333.9,324.6 336.3,324.6M326.1,318 328.5,317.9M333.9,324.6 326.1,318" class="l"/>
<path d="M473.4,324.8 475.8,325.3 468,317.4 465.6,317.3z" class="g24"/><path d="M473.4,324.8 475.8,325.3M465.6,317.3 468,317.4M473.4,324.8 465.6,317.3" class="l"/>
<path d="M196.8,322.2 199.2,322.1 191.3,315.5 189,315.5z" class="g1c"/><path d="M196.8,322.2 199.2,322.1M189,315.5 191.3,315.5M196.8,322.2 189,315.5M199.2,322.1 191.3,315.5" class="l"/>
<path d="M331.6,324.7 333.9,324.6 326.1,318 323.8,317.8z" class="g1c"/><path d="M331.6,324.7 333.9,324.6M323.8,317.8 326.1,318M333.9,324.6 326.1,318" class="l"/>
<path d="M471.1,324.3 473.4,324.8 465.6,317.3 463.3,317.2z" class="g28"/><path d="M471.1,324.3 473.4,324.8M463.3,317.2 465.6,317.3M473.4,324.8 465.6,317.3" class="l"/>
<path d="M194.5,322.2 196.8,322.2 189,315.5 186.6,315.6z" class="g1c"/><path d="M194.5,322.2 196.8,322.2M186.6,315.6 189,315.5M194.5,322.2 186.6,315.6M196.8,322.2 189,315.5" class="l"/>
<path d="M329.2,324.8 331.6,324.7 323.8,317.8 321.4,317.6z" class="g1c"/><path d="M329.2,324.8 331.6,324.7M321.4,317.6 323.8,317.8M329.2,324.8 321.4,317.6" class="l"/>
<path d="M468.7,323.9 471.1,324.3 463.3,317.2 460.9,317.1z" class="g28"/><path d="M468.7,323.9 471.1,324.3M460.9,317.1 463.3,317.2M468.7,323.9 460.9,317.1" class="l"/>
<path d="M192.1,322.3 194.5,322.2 186.6,315.6 184.3,315.7z" class="g1c"/><path d="M192.1,322.3 194.5,322.2M184.3,315.7 186.6,315.6M192.1,322.3 184.3,315.7M194.5,322.2 186.6,315.6" class="l"/>
<path d="M326.9,324.9 329.2,324.8 321.4,317.6 319.1,316.8z" class="g1c"/><path d="M326.9,324.9 329.2,324.8M319.1,316.8 321.4,317.6M329.2,324.8 321.4,317.6" class="l"/>
<path d="M189.8,322.4 192.1,322.3 184.3,315.7 181.9,315.8z" class="g1c"/><path d="M189.8,322.4 192.1,322.3M181.9,315.8 184.3,315.7M189.8,322.4 181.9,315.8M192.1,322.3 184.3,315.7" class="l"/>
<path d="M466.4,323.4 468.7,323.9 460.9,317.1 458.6,317.1z" class="g28"/><path d="M466.4,323.4 468.7,323.9M458.6,317.1 460.9,317.1M468.7,323.9 460.9,317.1" class="l"/>
<path d="M324.5,325 326.9,324.9 319.1,316.8 316.7,316.3z" class="g1c"/><path d="M324.5,325 326.9,324.9M316.7,316.3 319.1,316.8M324.5,325 316.7,316.3" class="l"/>
<path d="M187.4,322.5 189.8,322.4 181.9,315.8 179.6,315.8z" class="g1c"/><path d="M187.4,322.5 189.8,322.4M179.6,315.8 181.9,315.8M187.4,322.5 179.6,315.8M189.8,322.4 181.9,315.8" class="l"/>
<path d="M603.5,320.2 605.6,319.9 597.8,320.7 595.7,320.8z" class="g38"/><path d="M603.5,320.2 605.6,319.9M595.7,320.8 597.8,320.7M603.5,320.2 595.7,320.8M605.6,319.9 597.8,320.7" class="l"/>
<path d="M464,323.3 466.4,323.4 458.6,317.1 456.2,317z" class="g28"/><path d="M464,323.3 466.4,323.4M456.2,317 458.6,317.1M464,323.3 456.2,317" class="l"/>
<path d="M601.2,320.7 603.5,320.2 595.7,320.8 593.4,320.9z" class="g38"/><path d="M601.2,320.7 603.5,320.2M593.4,320.9 595.7,320.8M603.5,320.2 595.7,320.8" class="l"/>
<path d="M185,322.5 187.4,322.5 179.6,315.8 177.2,315.9z" class="g1c"/><path d="M185,322.5 187.4,322.5M177.2,315.9 179.6,315.8M185,322.5 177.2,315.9M187.4,322.5 179.6,315.8" class="l"/>
<path d="M461.7,323.2 464,323.3 456.2,317 453.9,317z" class="g28"/><path d="M461.7,323.2 464,323.3M453.9,317 456.2,317M464,323.3 456.2,317" class="l"/>
<path d="M322.2,325 324.5,325 316.7,316.3 314.4,314.2z" class="g20"/><path d="M322.2,325 324.5,325M314.4,314.2 316.7,316.3M324.5,325 316.7,316.3" class="l"/>
<path d="M598.8,321.3 601.2,320.7 593.4,320.9 591,321.1z" class="g38"/><path d="M598.8,321.3 601.2,320.7M591,321.1 593.4,320.9M598.8,321.3 591,321.1" class="l"/>
<path d="M182.7,322.6 185,322.5 177.2,315.9 174.9,316z" class="g1c"/><path d="M182.7,322.6 185,322.5M174.9,316 177.2,315.9M182.7,322.6 174.9,316M185,322.5 177.2,315.9" class="l"/>
<path d="M459.3,323.1 461.7,323.2 453.9,317 451.5,316.9z" class="g28"/><path d="M459.3,323.1 461.7,323.2M451.5,316.9 453.9,317M459.3,323.1 451.5,316.9" class="l"/>
<path d="M596.5,322.1 598.8,321.3 591,321.1 588.7,321.3z" class="g34"/><path d="M596.5,322.1 598.8,321.3M588.7,321.3 591,321.1M598.8,321.3 591,321.1" class="l"/>
<path d="M180.3,322.7 182.7,322.6 174.9,316 172.5,316.1z" class="g1c"/><path d="M180.3,322.7 182.7,322.6M172.5,316.1 174.9,316M180.3,322.7 172.5,316.1M182.7,322.6 174.9,316" class="l"/>
<path d="M319.8,324.5 322.2,325 314.4,314.2 312,312.7z" class="g20"/><path d="M319.8,324.5 322.2,325M312,312.7 314.4,314.2M319.8,324.5 312,312.7" class="l"/>
<path d="M594.1,322.9 596.5,322.1 588.7,321.3 586.3,321.6z" class="g34"/><path d="M594.1,322.9 596.5,322.1M586.3,321.6 588.7,321.3M594.1,322.9 586.3,321.6" class="l"/>
<path d="M457,323 459.3,323.1 451.5,316.9 449.2,316.8z" class="g2c"/><path d="M457,323 459.3,323.1M449.2,316.8 451.5,316.9M459.3,323.1 451.5,316.9" class="l"/>
<path d="M591.8,323.7 594.1,322.9 586.3,321.6 584,321.8z" class="g30"/><path d="M591.8,323.7 594.1,322.9M584,321.8 586.3,321.6M594.1,322.9 586.3,321.6" class="l"/>
<path d="M178,322.8 180.3,322.7 172.5,316.1 170.2,316.1z" class="g1c"/><path d="M178,322.8 180.3,322.7M170.2,316.1 172.5,316.1M178,322.8 170.2,316.1M180.3,322.7 172.5,316.1" class="l"/>
<path d="M454.6,322.9 457,323 449.2,316.8 446.8,316.9z" class="g2c"/><path d="M454.6,322.9 457,323M446.8,316.9 449.2,316.8M454.6,322.9 446.8,316.9" class="l"/>
<path d="M589.4,324.6 591.8,323.7 584,321.8 581.6,322z" class="g30"/><path d="M589.4,324.6 591.8,323.7M581.6,322 584,321.8M589.4,324.6 581.6,322" class="l"/>
<path d="M317.5,324.3 319.8,324.5 312,312.7 309.7,310.4z" class="g24"/><path d="M317.5,324.3 319.8,324.5M309.7,310.4 312,312.7M319.8,324.5 312,312.7" class="l"/>
<path d="M175.6,322.9 178,322.8 170.2,316.1 167.8,316.2z" class="g1c"/><path d="M175.6,322.9 178,322.8M167.8,316.2 170.2,316.1M175.6,322.9 167.8,316.2M178,322.8 170.2,316.1" class="l"/>
<path d="M587.1,325.4 589.4,324.6 581.6,322 579.3,322.3z" class="g28"/><path d="M587.1,325.4 589.4,324.6M579.3,322.3 581.6,322M589.4,324.6 581.6,322" class="l"/>
<path d="M452.3,322.7 454.6,322.9 446.8,316.9 444.5,317.6z" class="g2c"/><path d="M452.3,322.7 454.6,322.9M444.5,317.6 446.8,316.9M454.6,322.9 446.8,316.9" class="l"/>
<path d="M173.3,322.9 175.6,322.9 167.8,316.2 165.5,316.3z" class="g1c"/><path d="M173.3,322.9 175.6,322.9M165.5,316.3 167.8,316.2M173.3,322.9 165.5,316.3M175.6,322.9 167.8,316.2" class="l"/>
<path d="M584.7,326.2 587.1,325.4 579.3,322.3 576.9,322.5z" class="g28"/><path d="M584.7,326.2 587.1,325.4M576.9,322.5 579.3,322.3M584.7,326.2 576.9,322.5" class="l"/>
<path d="M449.9,322.6 452.3,322.7 444.5,317.6 442.1,318.2z" class="g2c"/><path d="M449.9,322.6 452.3,322.7M442.1,318.2 444.5,317.6M449.9,322.6 442.1,318.2" class="l"/>
<path d="M582.4,326.9 584.7,326.2 576.9,322.5 574.5,322.7z" class="g28"/><path d="M582.4,326.9 584.7,326.2M574.5,322.7 576.9,322.5M584.7,326.2 576.9,322.5" class="l"/>
<path d="M315.1,322.6 317.5,324.3 309.7,310.4 307.3,308.2z" class="g24"/><path d="M315.1,322.6 317.5,324.3M307.3,308.2 309.7,310.4M315.1,322.6 307.3,308.2" class="l"/>
<path d="M170.9,323 173.3,322.9 165.5,316.3 163.1,316.4z" class="g1c"/><path d="M170.9,323 173.3,322.9M163.1,316.4 165.5,316.3M170.9,323 163.1,316.4M173.3,322.9 165.5,316.3" class="l"/>
<path d="M447.6,322.5 449.9,322.6 442.1,318.2 439.8,318.8z" class="g2c"/><path d="M447.6,322.5 449.9,322.6M439.8,318.8 442.1,318.2M449.9,322.6 442.1,318.2" class="l"/>
<path d="M580,327.6 582.4,326.9 574.5,322.7 572.2,323z" class="g28"/><path d="M580,327.6 582.4,326.9M572.2,323 574.5,322.7M580,327.6 572.2,323" class="l"/>
<path d="M168.6,323.1 170.9,323 163.1,316.4 160.8,316.4z" class="g1c"/><path d="M168.6,323.1 170.9,323M160.8,316.4 163.1,316.4M168.6,323.1 160.8,316.4M170.9,323 163.1,316.4" class="l"/>
<path d="M445.2,322.6 447.6,322.5 439.8,318.8 437.4,319.4z" class="g2c"/><path d="M445.2,322.6 447.6,322.5M437.4,319.4 439.8,318.8M445.2,322.6 437.4,319.4" class="l"/>
<path d="M577.7,328.1 580,327.6 572.2,323 569.8,323.2z" class="g24"/><path d="M577.7,328.1 580,327.6M569.8,323.2 572.2,323M580,327.6 572.2,323" class="l"/>
<path d="M442.9,323.3 445.2,322.6 437.4,319.4 435.1,320z" class="g28"/><path d="M442.9,323.3 445.2,322.6M435.1,320 437.4,319.4M445.2,322.6 437.4,319.4" class="l"/>
<path d="M166.2,323.2 168.6,323.1 160.8,316.4 158.4,316.5z" class="g1c"/><path d="M166.2,323.2 168.6,323.1M158.4,316.5 160.8,316.4M166.2,323.2 158.4,316.5M168.6,323.1 160.8,316.4" class="l"/>
<path d="M575.3,328.6 577.7,328.1 569.8,323.2 567.5,323.4z" class="g24"/><path d="M575.3,328.6 577.7,328.1M567.5,323.4 569.8,323.2M575.3,328.6 567.5,323.4" class="l"/>
<path d="M312.8,319.6 315.1,322.6 307.3,308.2 305,305.6z" class="g34"/><path d="M312.8,319.6 315.1,322.6M305,305.6 307.3,308.2M315.1,322.6 307.3,308.2" class="l"/>
<path d="M440.5,324.1 442.9,323.3 435.1,320 432.7,320.9z" class="g28"/><path d="M440.5,324.1 442.9,323.3M432.7,320.9 435.1,320M440.5,324.1 432.7,320.9" class="l"/>
<path d="M438.2,324.8 440.5,324.1 432.7,320.9 430.4,322.4z" class="g24"/><path d="M438.2,324.8 440.5,324.1M430.4,322.4 432.7,320.9M440.5,324.1 432.7,320.9" class="l"/>
<path d="M163.9,323.2 166.2,323.2 158.4,316.5 156.1,316.6z" class="g1c"/><path d="M163.9,323.2 166.2,323.2M156.1,316.6 158.4,316.5M163.9,323.2 156.1,316.6M166.2,323.2 158.4,316.5" class="l"/>
<path d="M573,329.1 575.3,328.6 567.5,323.4 565.1,323.6z" class="g20"/><path d="M573,329.1 575.3,328.6M565.1,323.6 567.5,323.4M575.3,328.6 567.5,323.4" class="l"/>
<path d="M414.7,343.1 417,340.4 409.2,336.3 406.8,337.2z" class="g0"/><path d="M414.7,343.1 417,340.4M406.8,337.2 409.2,336.3M417,340.4 409.2,336.3" class="l"/>
<path d="M412.3,344.6 414.7,343.1 406.8,337.2 404.5,338.1z" class="g0"/><path d="M412.3,344.6 414.7,343.1M404.5,338.1 406.8,337.2M412.3,344.6 404.5,338.1" class="l"/>
<path d="M417,340.4 419.4,337.8 411.5,335.4 409.2,336.3z" class="g0"/><path d="M417,340.4 419.4,337.8M409.2,336.3 411.5,335.4M417,340.4 409.2,336.3" class="l"/>
<path d="M435.8,325.6 438.2,324.8 430.4,322.4 428,323.8z" class="g24"/><path d="M435.8,325.6 438.2,324.8M428,323.8 430.4,322.4M435.8,325.6 428,323.8" class="l"/>
<path d="M419.4,337.8 421.7,335.1 413.9,334.4 411.5,335.4z" class="g0"/><path d="M419.4,337.8 421.7,335.1M411.5,335.4 413.9,334.4M421.7,335.1 413.9,334.4" class="l"/>
<path d="M421.7,335.1 424.1,332.9 416.2,333.3 413.9,334.4z" class="g8"/><path d="M421.7,335.1 424.1,332.9M413.9,334.4 416.2,333.3M421.7,335.1 413.9,334.4" class="l"/>
<path d="M424.1,332.9 426.4,331.1 418.6,331.2 416.2,333.3z" class="g8"/><path d="M424.1,332.9 426.4,331.1M416.2,333.3 418.6,331.2M426.4,331.1 418.6,331.2" class="l"/>
<path d="M433.5,326.3 435.8,325.6 428,323.8 425.7,325.3z" class="g20"/><path d="M433.5,326.3 435.8,325.6M425.7,325.3 428,323.8M435.8,325.6 428,323.8" class="l"/>
<path d="M426.4,331.1 428.8,329.2 420.9,329.1 418.6,331.2z" class="g18"/><path d="M426.4,331.1 428.8,329.2M418.6,331.2 420.9,329.1M426.4,331.1 418.6,331.2" class="l"/>
<path d="M409.9,345.8 412.3,344.6 404.5,338.1 402.1,337.9z" class="g0"/><path d="M409.9,345.8 412.3,344.6M402.1,337.9 404.5,338.1M412.3,344.6 404.5,338.1" class="l"/>
<path d="M570.6,329.5 573,329.1 565.1,323.6 562.8,323.7z" class="g20"/><path d="M570.6,329.5 573,329.1M562.8,323.7 565.1,323.6M570.6,329.5 562.8,323.7" class="l"/>
<path d="M428.8,329.2 431.1,327.4 423.3,327 420.9,329.1z" class="g18"/><path d="M428.8,329.2 431.1,327.4M420.9,329.1 423.3,327M431.1,327.4 423.3,327" class="l"/>
<path d="M431.1,327.4 433.5,326.3 425.7,325.3 423.3,327z" class="g20"/><path d="M431.1,327.4 433.5,326.3M423.3,327 425.7,325.3M431.1,327.4 423.3,327" class="l"/>
<path d="M161.5,323.3 163.9,323.2 156.1,316.6 153.7,316.7z" class="g1c"/><path d="M161.5,323.3 163.9,323.2M153.7,316.7 156.1,316.6M161.5,323.3 153.7,316.7M163.9,323.2 156.1,316.6" class="l"/>
<path d="M407.6,347 409.9,345.8 402.1,337.9 399.8,337.6z" class="g0"/><path d="M407.6,347 409.9,345.8M399.8,337.6 402.1,337.9M407.6,347 399.8,337.6" class="l"/>
<path d="M568.3,329.8 570.6,329.5 562.8,323.7 560.4,323.9z" class="g20"/><path d="M568.3,329.8 570.6,329.5M560.4,323.9 562.8,323.7M570.6,329.5 562.8,323.7" class="l"/>
<path d="M310.4,317.4 312.8,319.6 305,305.6 302.6,302.8z" class="g34"/><path d="M310.4,317.4 312.8,319.6M302.6,302.8 305,305.6M310.4,317.4 302.6,302.8" class="l"/>
<path d="M405.2,348.1 407.6,347 399.8,337.6 397.4,337.2z" class="g0"/><path d="M405.2,348.1 407.6,347M397.4,337.2 399.8,337.6M407.6,347 399.8,337.6" class="l"/>
<path d="M565.9,330.1 568.3,329.8 560.4,323.9 558.1,324z" class="g20"/><path d="M565.9,330.1 568.3,329.8M558.1,324 560.4,323.9M565.9,330.1 558.1,324" class="l"/>
<path d="M402.9,349.3 405.2,348.1 397.4,337.2 395.1,336.9z" class="g0"/><path d="M402.9,349.3 405.2,348.1M395.1,336.9 397.4,337.2M402.9,349.3 395.1,336.9" class="l"/>
<path d="M563.5,330.3 565.9,330.1 558.1,324 555.7,324.2z" class="g20"/><path d="M563.5,330.3 565.9,330.1M555.7,324.2 558.1,324M565.9,330.1 558.1,324" class="l"/>
<path d="M400.5,349.2 402.9,349.3 395.1,336.9 392.7,336.6z" class="g0"/><path d="M400.5,349.2 402.9,349.3M392.7,336.6 395.1,336.9M402.9,349.3 395.1,336.9" class="l"/>
<path d="M561.2,330.5 563.5,330.3 555.7,324.2 553.4,324.3z" class="g20"/><path d="M561.2,330.5 563.5,330.3M553.4,324.3 555.7,324.2M561.2,330.5 553.4,324.3" class="l"/>
<path d="M308.1,313.7 310.4,317.4 302.6,302.8 300.3,300.3z" class="g4c"/><path d="M308.1,313.7 310.4,317.4M300.3,300.3 302.6,302.8M310.4,317.4 302.6,302.8" class="l"/>
<path d="M398.2,348.7 400.5,349.2 392.7,336.6 390.4,336.2z" class="g0"/><path d="M398.2,348.7 400.5,349.2M390.4,336.2 392.7,336.6M398.2,348.7 390.4,336.2" class="l"/>
<path d="M558.8,330.7 561.2,330.5 553.4,324.3 551,324.4z" class="g20"/><path d="M558.8,330.7 561.2,330.5M551,324.4 553.4,324.3M561.2,330.5 553.4,324.3" class="l"/>
<path d="M556.5,330.9 558.8,330.7 551,324.4 548.7,324.8z" class="g20"/><path d="M556.5,330.9 558.8,330.7M548.7,324.8 551,324.4M556.5,330.9 548.7,324.8" class="l"/>
<path d="M395.8,348.3 398.2,348.7 390.4,336.2 388,335.9z" class="g0"/><path d="M395.8,348.3 398.2,348.7M388,335.9 390.4,336.2M398.2,348.7 390.4,336.2" class="l"/>
<path d="M554.1,331 556.5,330.9 548.7,324.8 546.3,325.2z" class="g20"/><path d="M554.1,331 556.5,330.9M546.3,325.2 548.7,324.8M556.5,330.9 548.7,324.8" class="l"/>
<path d="M393.5,347.8 395.8,348.3 388,335.9 385.7,335z" class="g0"/><path d="M393.5,347.8 395.8,348.3M385.7,335 388,335.9M393.5,347.8 385.7,335" class="l"/>
<path d="M551.8,331.2 554.1,331 546.3,325.2 544,325.6z" class="g20"/><path d="M551.8,331.2 554.1,331M544,325.6 546.3,325.2M551.8,331.2 544,325.6" class="l"/>
<path d="M305.7,310 308.1,313.7 300.3,300.3 297.9,297.5z" class="g4c"/><path d="M305.7,310 308.1,313.7M297.9,297.5 300.3,300.3M305.7,310 297.9,297.5" class="l"/>
<path d="M549.4,331.3 551.8,331.2 544,325.6 541.6,326z" class="g1c"/><path d="M549.4,331.3 551.8,331.2M541.6,326 544,325.6M551.8,331.2 544,325.6" class="l"/>
<path d="M391.1,347.4 393.5,347.8 385.7,335 383.3,333.4z" class="g0"/><path d="M391.1,347.4 393.5,347.8M383.3,333.4 385.7,335M393.5,347.8 385.7,335" class="l"/>
<path d="M547.1,331.7 549.4,331.3 541.6,326 539.3,326.4z" class="g1c"/><path d="M547.1,331.7 549.4,331.3M539.3,326.4 541.6,326M547.1,331.7 539.3,326.4" class="l"/>
<path d="M544.7,332.2 547.1,331.7 539.3,326.4 536.9,326.8z" class="g18"/><path d="M544.7,332.2 547.1,331.7M536.9,326.8 539.3,326.4M547.1,331.7 539.3,326.4" class="l"/>
<path d="M303.4,306.3 305.7,310 297.9,297.5 295.6,294.8z" class="g64"/><path d="M303.4,306.3 305.7,310M295.6,294.8 297.9,297.5M305.7,310 297.9,297.5" class="l"/>
<path d="M388.8,347 391.1,347.4 383.3,333.4 381,331.9z" class="g0"/><path d="M388.8,347 391.1,347.4M381,331.9 383.3,333.4M388.8,347 381,331.9" class="l"/>
<path d="M542.4,332.7 544.7,332.2 536.9,326.8 534.6,327.2z" class="g18"/><path d="M542.4,332.7 544.7,332.2M534.6,327.2 536.9,326.8M542.4,332.7 534.6,327.2" class="l"/>
<path d="M540,333.2 542.4,332.7 534.6,327.2 532.2,327.6z" class="g18"/><path d="M540,333.2 542.4,332.7M532.2,327.6 534.6,327.2M542.4,332.7 534.6,327.2" class="l"/>
<path d="M386.4,346.5 388.8,347 381,331.9 378.6,330.3z" class="g0"/><path d="M386.4,346.5 388.8,347M378.6,330.3 381,331.9M388.8,347 381,331.9" class="l"/>
<path d="M537.7,333.7 540,333.2 532.2,327.6 529.9,327.8z" class="g18"/><path d="M537.7,333.7 540,333.2M529.9,327.8 532.2,327.6M537.7,333.7 529.9,327.8" class="l"/>
<path d="M535.3,334.1 537.7,333.7 529.9,327.8 527.5,328.1z" class="g14"/><path d="M535.3,334.1 537.7,333.7M527.5,328.1 529.9,327.8M537.7,333.7 529.9,327.8" class="l"/>
<path d="M301,302 303.4,306.3 295.6,294.8 293.2,291.9z" class="g64"/><path d="M301,302 303.4,306.3M293.2,291.9 295.6,294.8M301,302 293.2,291.9" class="l"/>
<path d="M533,334.6 535.3,334.1 527.5,328.1 525.2,328.3z" class="g14"/><path d="M533,334.6 535.3,334.1M525.2,328.3 527.5,328.1M533,334.6 525.2,328.3" class="l"/>
<path d="M384.1,345.4 386.4,346.5 378.6,330.3 376.3,325.4z" class="g0"/><path d="M384.1,345.4 386.4,346.5M376.3,325.4 378.6,330.3M384.1,345.4 376.3,325.4" class="l"/>
<path d="M530.6,335.1 533,334.6 525.2,328.3 522.8,328.6z" class="g14"/><path d="M530.6,335.1 533,334.6M522.8,328.6 525.2,328.3M533,334.6 525.2,328.3" class="l"/>
<path d="M528.3,335.4 530.6,335.1 522.8,328.6 520.5,328.8z" class="g14"/><path d="M528.3,335.4 530.6,335.1M520.5,328.8 522.8,328.6M528.3,335.4 520.5,328.8" class="l"/>
<path d="M525.9,335.7 528.3,335.4 520.5,328.8 518.1,329z" class="g10"/><path d="M525.9,335.7 528.3,335.4M518.1,329 520.5,328.8M528.3,335.4 520.5,328.8" class="l"/>
<path d="M298.7,298.1 301,302 293.2,291.9 290.9,288.5z" class="g7c"/><path d="M298.7,298.1 301,302M290.9,288.5 293.2,291.9M301,302 293.2,291.9" class="l"/>
<path d="M381.7,343.4 384.1,345.4 376.3,325.4 373.9,323.4z" class="g0"/><path d="M381.7,343.4 384.1,345.4M373.9,323.4 376.3,325.4M384.1,345.4 376.3,325.4" class="l"/>
<path d="M523.6,336 525.9,335.7 518.1,329 515.8,329.3z" class="g10"/><path d="M523.6,336 525.9,335.7M515.8,329.3 518.1,329M523.6,336 515.8,329.3" class="l"/>
<path d="M521.2,336.3 523.6,336 515.8,329.3 513.4,329.5z" class="g10"/><path d="M521.2,336.3 523.6,336M513.4,329.5 515.8,329.3M523.6,336 515.8,329.3" class="l"/>
<path d="M518.9,336.6 521.2,336.3 513.4,329.5 511.1,329.5z" class="g10"/><path d="M518.9,336.6 521.2,336.3M511.1,329.5 513.4,329.5M518.9,336.6 511.1,329.5" class="l"/>
<path d="M379.4,341.4 381.7,343.4 373.9,323.4 371.6,323.4z" class="g0"/><path d="M379.4,341.4 381.7,343.4M371.6,323.4 373.9,323.4M379.4,341.4 371.6,323.4" class="l"/>
<path d="M516.5,336.9 518.9,336.6 511.1,329.5 508.7,329.2z" class="g10"/><path d="M516.5,336.9 518.9,336.6M508.7,329.2 511.1,329.5M518.9,336.6 511.1,329.5" class="l"/>
<path d="M296.3,294.1 298.7,298.1 290.9,288.5 288.5,284.7z" class="g7c"/><path d="M296.3,294.1 298.7,298.1M288.5,284.7 290.9,288.5M296.3,294.1 288.5,284.7" class="l"/>
<path d="M377,339.3 379.4,341.4 371.6,323.4 369.2,323.5z" class="g14"/><path d="M377,339.3 379.4,341.4M369.2,323.5 371.6,323.4M379.4,341.4 371.6,323.4" class="l"/>
<path d="M514.2,337.1 516.5,336.9 508.7,329.2 506.4,329z" class="g10"/><path d="M514.2,337.1 516.5,336.9M506.4,329 508.7,329.2M514.2,337.1 506.4,329" class="l"/>
<path d="M511.8,337.4 514.2,337.1 506.4,329 504,328.8z" class="g10"/><path d="M511.8,337.4 514.2,337.1M504,328.8 506.4,329M514.2,337.1 506.4,329" class="l"/>
<path d="M374.7,333.2 377,339.3 369.2,323.5 366.9,323.6z" class="g14"/><path d="M374.7,333.2 377,339.3M366.9,323.6 369.2,323.5M374.7,333.2 366.9,323.6" class="l"/>
<path d="M509.5,337.4 511.8,337.4 504,328.8 501.7,328.6z" class="g10"/><path d="M509.5,337.4 511.8,337.4M501.7,328.6 504,328.8M509.5,337.4 501.7,328.6" class="l"/>
<path d="M294,290.1 296.3,294.1 288.5,284.7 286.2,280.7z" class="g98"/><path d="M294,290.1 296.3,294.1M286.2,280.7 288.5,284.7M296.3,294.1 288.5,284.7" class="l"/>
<path d="M507.1,337.1 509.5,337.4 501.7,328.6 499.3,328.4z" class="g10"/><path d="M507.1,337.1 509.5,337.4M499.3,328.4 501.7,328.6M509.5,337.4 501.7,328.6" class="l"/>
<path d="M504.8,336.8 507.1,337.1 499.3,328.4 497,328.2z" class="g10"/><path d="M504.8,336.8 507.1,337.1M497,328.2 499.3,328.4M504.8,336.8 497,328.2" class="l"/>
<path d="M372.3,329.8 374.7,333.2 366.9,323.6 364.5,323.7z" class="g20"/><path d="M372.3,329.8 374.7,333.2M364.5,323.7 366.9,323.6M374.7,333.2 366.9,323.6" class="l"/>
<path d="M502.4,336.5 504.8,336.8 497,328.2 494.6,327.9z" class="g14"/><path d="M502.4,336.5 504.8,336.8M494.6,327.9 497,328.2M504.8,336.8 497,328.2" class="l"/>
<path d="M370,329.4 372.3,329.8 364.5,323.7 362.2,323.7z" class="g20"/><path d="M370,329.4 372.3,329.8M362.2,323.7 364.5,323.7M370,329.4 362.2,323.7" class="l"/>
<path d="M291.6,285.8 294,290.1 286.2,280.7 283.8,276.7z" class="g98"/><path d="M291.6,285.8 294,290.1M283.8,276.7 286.2,280.7M291.6,285.8 283.8,276.7" class="l"/>
<path d="M500.1,336.2 502.4,336.5 494.6,327.9 492.2,327.6z" class="g14"/><path d="M500.1,336.2 502.4,336.5M492.2,327.6 494.6,327.9M500.1,336.2 492.2,327.6" class="l"/>
<path d="M367.6,329.3 370,329.4 362.2,323.7 359.8,323.8z" class="g20"/><path d="M367.6,329.3 370,329.4M359.8,323.8 362.2,323.7M370,329.4 362.2,323.7" class="l"/>
<path d="M497.7,335.9 500.1,336.2 492.2,327.6 489.9,327.3z" class="g18"/><path d="M497.7,335.9 500.1,336.2M489.9,327.3 492.2,327.6M500.1,336.2 492.2,327.6" class="l"/>
<path d="M242.2,313.6 244.6,310.1 236.8,318.5 234.4,318.6z" class="g20"/><path d="M242.2,313.6 244.6,310.1M234.4,318.6 236.8,318.5M242.2,313.6 234.4,318.6M244.6,310.1 236.8,318.5" class="l"/>
<path d="M365.3,329.3 367.6,329.3 359.8,323.8 357.5,323.9z" class="g20"/><path d="M365.3,329.3 367.6,329.3M357.5,323.9 359.8,323.8M365.3,329.3 357.5,323.9" class="l"/>
<path d="M239.9,315 242.2,313.6 234.4,318.6 232.1,318.7z" class="g20"/><path d="M239.9,315 242.2,313.6M232.1,318.7 234.4,318.6M239.9,315 232.1,318.7M242.2,313.6 234.4,318.6" class="l"/>
<path d="M244.6,310.1 246.9,304.5 239.1,318.4 236.8,318.5z" class="g2c"/><path d="M244.6,310.1 246.9,304.5M236.8,318.5 239.1,318.4M244.6,310.1 236.8,318.5M246.9,304.5 239.1,318.4" class="l"/>
<path d="M237.5,315.3 239.9,315 232.1,318.7 229.7,318.7z" class="g1c"/><path d="M237.5,315.3 239.9,315M229.7,318.7 232.1,318.7M237.5,315.3 229.7,318.7M239.9,315 232.1,318.7" class="l"/>
<path d="M362.9,329.4 365.3,329.3 357.5,323.9 355.1,324z" class="g20"/><path d="M362.9,329.4 365.3,329.3M355.1,324 357.5,323.9M365.3,329.3 357.5,323.9" class="l"/>
<path d="M495.4,335.6 497.7,335.9 489.9,327.3 487.5,327z" class="g18"/><path d="M495.4,335.6 497.7,335.9M487.5,327 489.9,327.3M495.4,335.6 487.5,327" class="l"/>
<path d="M246.9,304.5 249.3,296.5 241.5,317.8 239.1,318.4z" class="g2c"/><path d="M246.9,304.5 249.3,296.5M239.1,318.4 241.5,317.8M246.9,304.5 239.1,318.4M249.3,296.5 241.5,317.8" class="l"/>
<path d="M235.2,315.3 237.5,315.3 229.7,318.7 227.4,318.8z" class="g1c"/><path d="M235.2,315.3 237.5,315.3M227.4,318.8 229.7,318.7M235.2,315.3 227.4,318.8M237.5,315.3 229.7,318.7" class="l"/>
<path d="M360.6,329.5 362.9,329.4 355.1,324 352.8,324z" class="g20"/><path d="M360.6,329.5 362.9,329.4M352.8,324 355.1,324M360.6,329.5 352.8,324" class="l"/>
<path d="M289.3,280.9 291.6,285.8 283.8,276.7 281.5,272.7z" class="gb8"/><path d="M289.3,280.9 291.6,285.8M281.5,272.7 283.8,276.7M291.6,285.8 283.8,276.7" class="l"/>
<path d="M493,335.2 495.4,335.6 487.5,327 485.2,326.7z" class="g18"/><path d="M493,335.2 495.4,335.6M485.2,326.7 487.5,327M495.4,335.6 487.5,327" class="l"/>
<path d="M232.8,315.6 235.2,315.3 227.4,318.8 225,319z" class="g1c"/><path d="M232.8,315.6 235.2,315.3M225,319 227.4,318.8M232.8,315.6 225,319M235.2,315.3 227.4,318.8" class="l"/>
<path d="M358.2,329.6 360.6,329.5 352.8,324 350.4,324.1z" class="g20"/><path d="M358.2,329.6 360.6,329.5M350.4,324.1 352.8,324M360.6,329.5 352.8,324" class="l"/>
<path d="M230.5,317.1 232.8,315.6 225,319 222.7,319.9z" class="g1c"/><path d="M230.5,317.1 232.8,315.6M222.7,319.9 225,319M230.5,317.1 222.7,319.9M232.8,315.6 225,319" class="l"/>
<path d="M490.7,334.8 493,335.2 485.2,326.7 482.8,326.4z" class="g18"/><path d="M490.7,334.8 493,335.2M482.8,326.4 485.2,326.7M490.7,334.8 482.8,326.4" class="l"/>
<path d="M249.3,296.5 251.6,286.4 243.8,316.4 241.5,317.8z" class="g58"/><path d="M249.3,296.5 251.6,286.4M241.5,317.8 243.8,316.4M249.3,296.5 241.5,317.8M251.6,286.4 243.8,316.4" class="l"/>
<path d="M228.1,318.5 230.5,317.1 222.7,319.9 220.3,320.6z" class="g1c"/><path d="M228.1,318.5 230.5,317.1M220.3,320.6 222.7,319.9M228.1,318.5 220.3,320.6M230.5,317.1 222.7,319.9" class="l"/>
<path d="M355.9,329.6 358.2,329.6 350.4,324.1 348.1,324.2z" class="g20"/><path d="M355.9,329.6 358.2,329.6M348.1,324.2 350.4,324.1M355.9,329.6 348.1,324.2" class="l"/>
<path d="M225.8,319.9 228.1,318.5 220.3,320.6 218,321.2z" class="g1c"/><path d="M225.8,319.9 228.1,318.5M218,321.2 220.3,320.6M225.8,319.9 218,321.2M228.1,318.5 220.3,320.6" class="l"/>
<path d="M223.4,321.3 225.8,319.9 218,321.2 215.6,321.5z" class="g1c"/><path d="M223.4,321.3 225.8,319.9M215.6,321.5 218,321.2M223.4,321.3 215.6,321.5M225.8,319.9 218,321.2" class="l"/>
<path d="M488.3,334.4 490.7,334.8 482.8,326.4 480.5,326z" class="g1c"/><path d="M488.3,334.4 490.7,334.8M480.5,326 482.8,326.4M490.7,334.8 482.8,326.4" class="l"/>
<path d="M353.5,329.7 355.9,329.6 348.1,324.2 345.7,324.3z" class="g20"/><path d="M353.5,329.7 355.9,329.6M345.7,324.3 348.1,324.2M355.9,329.6 348.1,324.2" class="l"/>
<path d="M221.1,322.6 223.4,321.3 215.6,321.5 213.3,321.6z" class="g1c"/><path d="M221.1,322.6 223.4,321.3M213.3,321.6 215.6,321.5M221.1,322.6 213.3,321.6M223.4,321.3 215.6,321.5" class="l"/>
<path d="M218.7,323.9 221.1,322.6 213.3,321.6 210.9,321.7z" class="g1c"/><path d="M218.7,323.9 221.1,322.6M210.9,321.7 213.3,321.6M218.7,323.9 210.9,321.7M221.1,322.6 213.3,321.6" class="l"/>
<path d="M286.9,275.2 289.3,280.9 281.5,272.7 279.1,269.1z" class="gb8"/><path d="M286.9,275.2 289.3,280.9M279.1,269.1 281.5,272.7M286.9,275.2 279.1,269.1" class="l"/>
<path d="M351.2,329.8 353.5,329.7 345.7,324.3 343.4,324.3z" class="g20"/><path d="M351.2,329.8 353.5,329.7M343.4,324.3 345.7,324.3M351.2,329.8 343.4,324.3" class="l"/>
<path d="M486,334 488.3,334.4 480.5,326 478.1,325.7z" class="g1c"/><path d="M486,334 488.3,334.4M478.1,325.7 480.5,326M486,334 478.1,325.7" class="l"/>
<path d="M216.4,325 218.7,323.9 210.9,321.7 208.6,321.8z" class="g1c"/><path d="M216.4,325 218.7,323.9M208.6,321.8 210.9,321.7M216.4,325 208.6,321.8M218.7,323.9 210.9,321.7" class="l"/>
<path d="M251.6,286.4 254,276.7 246.2,313.6 243.8,316.4z" class="g58"/><path d="M251.6,286.4 254,276.7M243.8,316.4 246.2,313.6M251.6,286.4 243.8,316.4M254,276.7 246.2,313.6" class="l"/>
<path d="M348.8,329.9 351.2,329.8 343.4,324.3 341,324.4z" class="g20"/><path d="M348.8,329.9 351.2,329.8M341,324.4 343.4,324.3M351.2,329.8 343.4,324.3" class="l"/>
<path d="M214,326.1 216.4,325 208.6,321.8 206.2,321.9z" class="g1c"/><path d="M214,326.1 216.4,325M206.2,321.9 208.6,321.8M214,326.1 206.2,321.9M216.4,325 208.6,321.8" class="l"/>
<path d="M483.6,333.6 486,334 478.1,325.7 475.8,325.3z" class="g20"/><path d="M483.6,333.6 486,334M475.8,325.3 478.1,325.7M486,334 478.1,325.7" class="l"/>
<path d="M211.7,327 214,326.1 206.2,321.9 203.9,321.9z" class="g1c"/><path d="M211.7,327 214,326.1M203.9,321.9 206.2,321.9M211.7,327 203.9,321.9M214,326.1 206.2,321.9" class="l"/>
<path d="M346.5,329.9 348.8,329.9 341,324.4 338.6,324.5z" class="g20"/><path d="M346.5,329.9 348.8,329.9M338.6,324.5 341,324.4M346.5,329.9 338.6,324.5" class="l"/>
<path d="M209.3,327.7 211.7,327 203.9,321.9 201.5,322z" class="g1c"/><path d="M209.3,327.7 211.7,327M201.5,322 203.9,321.9M209.3,327.7 201.5,322M211.7,327 203.9,321.9" class="l"/>
<path d="M481.2,333.2 483.6,333.6 475.8,325.3 473.4,324.8z" class="g20"/><path d="M481.2,333.2 483.6,333.6M473.4,324.8 475.8,325.3M481.2,333.2 473.4,324.8" class="l"/>
<path d="M344.1,330 346.5,329.9 338.6,324.5 336.3,324.6z" class="g20"/><path d="M344.1,330 346.5,329.9M336.3,324.6 338.6,324.5M346.5,329.9 338.6,324.5" class="l"/>
<path d="M254,276.7 256.3,269.8 248.5,310 246.2,313.6z" class="ga4"/><path d="M254,276.7 256.3,269.8M246.2,313.6 248.5,310M254,276.7 246.2,313.6M256.3,269.8 248.5,310" class="l"/>
<path d="M207,328.3 209.3,327.7 201.5,322 199.2,322.1z" class="g1c"/><path d="M207,328.3 209.3,327.7M199.2,322.1 201.5,322M207,328.3 199.2,322.1M209.3,327.7 201.5,322" class="l"/>
<path d="M284.6,269 286.9,275.2 279.1,269.1 276.8,266.9z" class="gd0"/><path d="M284.6,269 286.9,275.2M276.8,266.9 279.1,269.1M286.9,275.2 279.1,269.1" class="l"/>
<path d="M341.8,330.1 344.1,330 336.3,324.6 333.9,324.6z" class="g20"/><path d="M341.8,330.1 344.1,330M333.9,324.6 336.3,324.6M341.8,330.1 333.9,324.6" class="l"/>
<path d="M478.9,332.8 481.2,333.2 473.4,324.8 471.1,324.3z" class="g20"/><path d="M478.9,332.8 481.2,333.2M471.1,324.3 473.4,324.8M481.2,333.2 473.4,324.8" class="l"/>
<path d="M204.6,328.7 207,328.3 199.2,322.1 196.8,322.2z" class="g1c"/><path d="M204.6,328.7 207,328.3M196.8,322.2 199.2,322.1M204.6,328.7 196.8,322.2M207,328.3 199.2,322.1" class="l"/>
<path d="M339.4,330.2 341.8,330.1 333.9,324.6 331.6,324.7z" class="g20"/><path d="M339.4,330.2 341.8,330.1M331.6,324.7 333.9,324.6M341.8,330.1 333.9,324.6" class="l"/>
<path d="M202.3,328.9 204.6,328.7 196.8,322.2 194.5,322.2z" class="g1c"/><path d="M202.3,328.9 204.6,328.7M194.5,322.2 196.8,322.2M202.3,328.9 194.5,322.2M204.6,328.7 196.8,322.2" class="l"/>
<path d="M476.5,332.4 478.9,332.8 471.1,324.3 468.7,323.9z" class="g20"/><path d="M476.5,332.4 478.9,332.8M468.7,323.9 471.1,324.3M476.5,332.4 468.7,323.9" class="l"/>
<path d="M256.3,269.8 258.7,263.7 250.9,304.3 248.5,310z" class="ga4"/><path d="M256.3,269.8 258.7,263.7M248.5,310 250.9,304.3M256.3,269.8 248.5,310M258.7,263.7 250.9,304.3" class="l"/>
<path d="M337.1,330.2 339.4,330.2 331.6,324.7 329.2,324.8z" class="g20"/><path d="M337.1,330.2 339.4,330.2M329.2,324.8 331.6,324.7M337.1,330.2 329.2,324.8" class="l"/>
<path d="M199.9,329 202.3,328.9 194.5,322.2 192.1,322.3z" class="g1c"/><path d="M199.9,329 202.3,328.9M192.1,322.3 194.5,322.2M199.9,329 192.1,322.3M202.3,328.9 194.5,322.2" class="l"/>
<path d="M474.2,331.8 476.5,332.4 468.7,323.9 466.4,323.4z" class="g28"/><path d="M474.2,331.8 476.5,332.4M466.4,323.4 468.7,323.9M476.5,332.4 468.7,323.9" class="l"/>
<path d="M334.7,330.3 337.1,330.2 329.2,324.8 326.9,324.9z" class="g20"/><path d="M334.7,330.3 337.1,330.2M326.9,324.9 329.2,324.8M337.1,330.2 329.2,324.8" class="l"/>
<path d="M197.6,329 199.9,329 192.1,322.3 189.8,322.4z" class="g1c"/><path d="M197.6,329 199.9,329M189.8,322.4 192.1,322.3M197.6,329 189.8,322.4M199.9,329 192.1,322.3" class="l"/>
<path d="M282.2,262.3 284.6,269 276.8,266.9 274.4,265.7z" class="gd0"/><path d="M282.2,262.3 284.6,269M274.4,265.7 276.8,266.9M282.2,262.3 274.4,265.7" class="l"/>
<path d="M332.4,330.4 334.7,330.3 326.9,324.9 324.5,325z" class="g20"/><path d="M332.4,330.4 334.7,330.3M324.5,325 326.9,324.9M332.4,330.4 324.5,325" class="l"/>
<path d="M471.8,331.2 474.2,331.8 466.4,323.4 464,323.3z" class="g28"/><path d="M471.8,331.2 474.2,331.8M464,323.3 466.4,323.4M471.8,331.2 464,323.3" class="l"/>
<path d="M195.2,329.1 197.6,329 189.8,322.4 187.4,322.5z" class="g1c"/><path d="M195.2,329.1 197.6,329M187.4,322.5 189.8,322.4M195.2,329.1 187.4,322.5M197.6,329 189.8,322.4" class="l"/>
<path d="M258.7,263.7 261.1,258.1 253.2,297.4 250.9,304.3z" class="gd0"/><path d="M258.7,263.7 261.1,258.1M250.9,304.3 253.2,297.4M258.7,263.7 250.9,304.3M261.1,258.1 253.2,297.4" class="l"/>
<path d="M330,330.5 332.4,330.4 324.5,325 322.2,325z" class="g20"/><path d="M330,330.5 332.4,330.4M322.2,325 324.5,325M332.4,330.4 324.5,325" class="l"/>
<path d="M192.9,329.2 195.2,329.1 187.4,322.5 185,322.5z" class="g1c"/><path d="M192.9,329.2 195.2,329.1M185,322.5 187.4,322.5M192.9,329.2 185,322.5M195.2,329.1 187.4,322.5" class="l"/>
<path d="M469.5,330.6 471.8,331.2 464,323.3 461.7,323.2z" class="g28"/><path d="M469.5,330.6 471.8,331.2M461.7,323.2 464,323.3M471.8,331.2 464,323.3" class="l"/>
<path d="M327.6,330.5 330,330.5 322.2,325 319.8,324.5z" class="g20"/><path d="M327.6,330.5 330,330.5M319.8,324.5 322.2,325M327.6,330.5 319.8,324.5" class="l"/>
<path d="M190.5,329.3 192.9,329.2 185,322.5 182.7,322.6z" class="g1c"/><path d="M190.5,329.3 192.9,329.2M182.7,322.6 185,322.5M190.5,329.3 182.7,322.6M192.9,329.2 185,322.5" class="l"/>
<path d="M467.1,330 469.5,330.6 461.7,323.2 459.3,323.1z" class="g28"/><path d="M467.1,330 469.5,330.6M459.3,323.1 461.7,323.2M467.1,330 459.3,323.1" class="l"/>
<path d="M279.9,255.8 282.2,262.3 274.4,265.7 272.1,265.8z" class="gdc"/><path d="M279.9,255.8 282.2,262.3M272.1,265.8 274.4,265.7M282.2,262.3 274.4,265.7" class="l"/>
<path d="M188.2,329.3 190.5,329.3 182.7,322.6 180.3,322.7z" class="g1c"/><path d="M188.2,329.3 190.5,329.3M180.3,322.7 182.7,322.6M188.2,329.3 180.3,322.7M190.5,329.3 182.7,322.6" class="l"/>
<path d="M325.3,330.6 327.6,330.5 319.8,324.5 317.5,324.3z" class="g28"/><path d="M325.3,330.6 327.6,330.5M317.5,324.3 319.8,324.5M327.6,330.5 319.8,324.5" class="l"/>
<path d="M261.1,258.1 263.4,253.5 255.6,290.1 253.2,297.4z" class="gd0"/><path d="M261.1,258.1 263.4,253.5M253.2,297.4 255.6,290.1M261.1,258.1 253.2,297.4M263.4,253.5 255.6,290.1" class="l"/>
<path d="M611.3,324.1 613.4,323.7 605.6,319.9 603.5,320.2z" class="g40"/><path d="M611.3,324.1 613.4,323.7M603.5,320.2 605.6,319.9M611.3,324.1 603.5,320.2M613.4,323.7 605.6,319.9" class="l"/>
<path d="M464.8,329.4 467.1,330 459.3,323.1 457,323z" class="g2c"/><path d="M464.8,329.4 467.1,330M457,323 459.3,323.1M467.1,330 459.3,323.1" class="l"/>
<path d="M185.8,329.4 188.2,329.3 180.3,322.7 178,322.8z" class="g1c"/><path d="M185.8,329.4 188.2,329.3M178,322.8 180.3,322.7M185.8,329.4 178,322.8M188.2,329.3 180.3,322.7" class="l"/>
<path d="M609,324.7 611.3,324.1 603.5,320.2 601.2,320.7z" class="g40"/><path d="M609,324.7 611.3,324.1M601.2,320.7 603.5,320.2M611.3,324.1 603.5,320.2" class="l"/>
<path d="M322.9,328.8 325.3,330.6 317.5,324.3 315.1,322.6z" class="g28"/><path d="M322.9,328.8 325.3,330.6M315.1,322.6 317.5,324.3M322.9,328.8 315.1,322.6" class="l"/>
<path d="M606.6,325.5 609,324.7 601.2,320.7 598.8,321.3z" class="g40"/><path d="M606.6,325.5 609,324.7M598.8,321.3 601.2,320.7M606.6,325.5 598.8,321.3" class="l"/>
<path d="M462.4,329.2 464.8,329.4 457,323 454.6,322.9z" class="g2c"/><path d="M462.4,329.2 464.8,329.4M454.6,322.9 457,323M462.4,329.2 454.6,322.9" class="l"/>
<path d="M183.5,329.5 185.8,329.4 178,322.8 175.6,322.9z" class="g1c"/><path d="M183.5,329.5 185.8,329.4M175.6,322.9 178,322.8M183.5,329.5 175.6,322.9M185.8,329.4 178,322.8" class="l"/>
<path d="M604.3,326.4 606.6,325.5 598.8,321.3 596.5,322.1z" class="g38"/><path d="M604.3,326.4 606.6,325.5M596.5,322.1 598.8,321.3M606.6,325.5 598.8,321.3" class="l"/>
<path d="M277.5,250.2 279.9,255.8 272.1,265.8 269.7,266.6z" class="gdc"/><path d="M277.5,250.2 279.9,255.8M269.7,266.6 272.1,265.8M277.5,250.2 269.7,266.6" class="l"/>
<path d="M263.4,253.5 265.8,249.5 257.9,284.7 255.6,290.1z" class="gd8"/><path d="M263.4,253.5 265.8,249.5M255.6,290.1 257.9,284.7M263.4,253.5 255.6,290.1M265.8,249.5 257.9,284.7" class="l"/>
<path d="M601.9,327.4 604.3,326.4 596.5,322.1 594.1,322.9z" class="g38"/><path d="M601.9,327.4 604.3,326.4M594.1,322.9 596.5,322.1M601.9,327.4 594.1,322.9" class="l"/>
<path d="M181.1,329.6 183.5,329.5 175.6,322.9 173.3,322.9z" class="g1c"/><path d="M181.1,329.6 183.5,329.5M173.3,322.9 175.6,322.9M181.1,329.6 173.3,322.9M183.5,329.5 175.6,322.9" class="l"/>
<path d="M460.1,329.1 462.4,329.2 454.6,322.9 452.3,322.7z" class="g30"/><path d="M460.1,329.1 462.4,329.2M452.3,322.7 454.6,322.9M462.4,329.2 454.6,322.9" class="l"/>
<path d="M599.6,328.5 601.9,327.4 594.1,322.9 591.8,323.7z" class="g34"/><path d="M599.6,328.5 601.9,327.4M591.8,323.7 594.1,322.9M601.9,327.4 594.1,322.9" class="l"/>
<path d="M597.2,329.6 599.6,328.5 591.8,323.7 589.4,324.6z" class="g34"/><path d="M597.2,329.6 599.6,328.5M589.4,324.6 591.8,323.7M597.2,329.6 589.4,324.6" class="l"/>
<path d="M178.8,329.6 181.1,329.6 173.3,322.9 170.9,323z" class="g1c"/><path d="M178.8,329.6 181.1,329.6M170.9,323 173.3,322.9M178.8,329.6 170.9,323M181.1,329.6 173.3,322.9" class="l"/>
<path d="M594.9,330.7 597.2,329.6 589.4,324.6 587.1,325.4z" class="g2c"/><path d="M594.9,330.7 597.2,329.6M587.1,325.4 589.4,324.6M597.2,329.6 589.4,324.6" class="l"/>
<path d="M457.7,328.9 460.1,329.1 452.3,322.7 449.9,322.6z" class="g30"/><path d="M457.7,328.9 460.1,329.1M449.9,322.6 452.3,322.7M457.7,328.9 449.9,322.6" class="l"/>
<path d="M265.8,249.5 268.1,246.1 260.3,279.4 257.9,284.7z" class="gd8"/><path d="M265.8,249.5 268.1,246.1M257.9,284.7 260.3,279.4M265.8,249.5 257.9,284.7M268.1,246.1 260.3,279.4" class="l"/>
<path d="M320.6,324.7 322.9,328.8 315.1,322.6 312.8,319.6z" class="g40"/><path d="M320.6,324.7 322.9,328.8M312.8,319.6 315.1,322.6M322.9,328.8 315.1,322.6" class="l"/>
<path d="M275.2,246.2 277.5,250.2 269.7,266.6 267.3,268.9z" class="ge0"/><path d="M275.2,246.2 277.5,250.2M267.3,268.9 269.7,266.6M275.2,246.2 267.3,268.9M277.5,250.2 269.7,266.6" class="l"/>
<path d="M592.5,331.7 594.9,330.7 587.1,325.4 584.7,326.2z" class="g2c"/><path d="M592.5,331.7 594.9,330.7M584.7,326.2 587.1,325.4M592.5,331.7 584.7,326.2" class="l"/>
<path d="M176.4,329.7 178.8,329.6 170.9,323 168.6,323.1z" class="g1c"/><path d="M176.4,329.7 178.8,329.6M168.6,323.1 170.9,323M176.4,329.7 168.6,323.1M178.8,329.6 170.9,323" class="l"/>
<path d="M590.2,332.6 592.5,331.7 584.7,326.2 582.4,326.9z" class="g28"/><path d="M590.2,332.6 592.5,331.7M582.4,326.9 584.7,326.2M592.5,331.7 584.7,326.2" class="l"/>
<path d="M455.4,328.7 457.7,328.9 449.9,322.6 447.6,322.5z" class="g30"/><path d="M455.4,328.7 457.7,328.9M447.6,322.5 449.9,322.6M457.7,328.9 449.9,322.6" class="l"/>
<path d="M268.1,246.1 270.5,244.6 262.6,275.1 260.3,279.4z" class="ge0"/><path d="M268.1,246.1 270.5,244.6M260.3,279.4 262.6,275.1M268.1,246.1 260.3,279.4M270.5,244.6 262.6,275.1" class="l"/>
<path d="M587.8,333.4 590.2,332.6 582.4,326.9 580,327.6z" class="g28"/><path d="M587.8,333.4 590.2,332.6M580,327.6 582.4,326.9M587.8,333.4 580,327.6" class="l"/>
<path d="M272.8,244.3 275.2,246.2 267.3,268.9 265,271.4z" class="ge0"/><path d="M272.8,244.3 275.2,246.2M265,271.4 267.3,268.9M272.8,244.3 265,271.4M275.2,246.2 267.3,268.9" class="l"/>
<path d="M174,329.8 176.4,329.7 168.6,323.1 166.2,323.2z" class="g1c"/><path d="M174,329.8 176.4,329.7M166.2,323.2 168.6,323.1M174,329.8 166.2,323.2M176.4,329.7 168.6,323.1" class="l"/>
<path d="M270.5,244.6 272.8,244.3 265,271.4 262.6,275.1z" class="ge0"/><path d="M270.5,244.6 272.8,244.3M262.6,275.1 265,271.4M270.5,244.6 262.6,275.1M272.8,244.3 265,271.4" class="l"/>
<path d="M585.5,334.1 587.8,333.4 580,327.6 577.7,328.1z" class="g24"/><path d="M585.5,334.1 587.8,333.4M577.7,328.1 580,327.6M587.8,333.4 580,327.6" class="l"/>
<path d="M453,328.6 455.4,328.7 447.6,322.5 445.2,322.6z" class="g30"/><path d="M453,328.6 455.4,328.7M445.2,322.6 447.6,322.5M453,328.6 445.2,322.6" class="l"/>
<path d="M583.1,334.7 585.5,334.1 577.7,328.1 575.3,328.6z" class="g24"/><path d="M583.1,334.7 585.5,334.1M575.3,328.6 577.7,328.1M583.1,334.7 575.3,328.6" class="l"/>
<path d="M171.7,329.9 174,329.8 166.2,323.2 163.9,323.2z" class="g1c"/><path d="M171.7,329.9 174,329.8M163.9,323.2 166.2,323.2M171.7,329.9 163.9,323.2M174,329.8 166.2,323.2" class="l"/>
<path d="M450.7,328.4 453,328.6 445.2,322.6 442.9,323.3z" class="g30"/><path d="M450.7,328.4 453,328.6M442.9,323.3 445.2,322.6M453,328.6 445.2,322.6" class="l"/>
<path d="M318.2,321 320.6,324.7 312.8,319.6 310.4,317.4z" class="g40"/><path d="M318.2,321 320.6,324.7M310.4,317.4 312.8,319.6M318.2,321 310.4,317.4" class="l"/>
<path d="M580.8,335.2 583.1,334.7 575.3,328.6 573,329.1z" class="g24"/><path d="M580.8,335.2 583.1,334.7M573,329.1 575.3,328.6M583.1,334.7 575.3,328.6" class="l"/>
<path d="M169.3,329.9 171.7,329.9 163.9,323.2 161.5,323.3z" class="g1c"/><path d="M169.3,329.9 171.7,329.9M161.5,323.3 163.9,323.2M169.3,329.9 161.5,323.3M171.7,329.9 163.9,323.2" class="l"/>
<path d="M448.3,328.2 450.7,328.4 442.9,323.3 440.5,324.1z" class="g30"/><path d="M448.3,328.2 450.7,328.4M440.5,324.1 442.9,323.3M448.3,328.2 440.5,324.1" class="l"/>
<path d="M578.4,335.7 580.8,335.2 573,329.1 570.6,329.5z" class="g24"/><path d="M578.4,335.7 580.8,335.2M570.6,329.5 573,329.1M578.4,335.7 570.6,329.5" class="l"/>
<path d="M410.7,355.5 413.1,353.5 405.2,348.1 402.9,349.3z" class="g0"/><path d="M410.7,355.5 413.1,353.5M402.9,349.3 405.2,348.1M410.7,355.5 402.9,349.3" class="l"/>
<path d="M413.1,353.5 415.4,350.2 407.6,347 405.2,348.1z" class="g0"/><path d="M413.1,353.5 415.4,350.2M405.2,348.1 407.6,347M415.4,350.2 407.6,347" class="l"/>
<path d="M408.4,357 410.7,355.5 402.9,349.3 400.5,349.2z" class="g0"/><path d="M408.4,357 410.7,355.5M400.5,349.2 402.9,349.3M410.7,355.5 402.9,349.3" class="l"/>
<path d="M446,328 448.3,328.2 440.5,324.1 438.2,324.8z" class="g30"/><path d="M446,328 448.3,328.2M438.2,324.8 440.5,324.1M448.3,328.2 440.5,324.1" class="l"/>
<path d="M576.1,336 578.4,335.7 570.6,329.5 568.3,329.8z" class="g20"/><path d="M576.1,336 578.4,335.7M568.3,329.8 570.6,329.5M578.4,335.7 570.6,329.5" class="l"/>
<path d="M415.4,350.2 417.8,346.9 409.9,345.8 407.6,347z" class="g0"/><path d="M415.4,350.2 417.8,346.9M407.6,347 409.9,345.8M415.4,350.2 407.6,347" class="l"/>
<path d="M417.8,346.9 420.1,343.5 412.3,344.6 409.9,345.8z" class="g0"/><path d="M417.8,346.9 420.1,343.5M409.9,345.8 412.3,344.6M420.1,343.5 412.3,344.6" class="l"/>
<path d="M406,358.5 408.4,357 400.5,349.2 398.2,348.7z" class="g0"/><path d="M406,358.5 408.4,357M398.2,348.7 400.5,349.2M406,358.5 398.2,348.7" class="l"/>
<path d="M443.6,328 446,328 438.2,324.8 435.8,325.6z" class="g30"/><path d="M443.6,328 446,328M435.8,325.6 438.2,324.8M443.6,328 435.8,325.6" class="l"/>
<path d="M573.7,336.3 576.1,336 568.3,329.8 565.9,330.1z" class="g20"/><path d="M573.7,336.3 576.1,336M565.9,330.1 568.3,329.8M573.7,336.3 565.9,330.1" class="l"/>
<path d="M420.1,343.5 422.5,340.8 414.7,343.1 412.3,344.6z" class="g4"/><path d="M420.1,343.5 422.5,340.8M412.3,344.6 414.7,343.1M420.1,343.5 412.3,344.6" class="l"/>
<path d="M422.5,340.8 424.8,338.5 417,340.4 414.7,343.1z" class="g4"/><path d="M422.5,340.8 424.8,338.5M414.7,343.1 417,340.4M424.8,338.5 417,340.4" class="l"/>
<path d="M403.7,359.9 406,358.5 398.2,348.7 395.8,348.3z" class="g0"/><path d="M403.7,359.9 406,358.5M395.8,348.3 398.2,348.7M406,358.5 398.2,348.7" class="l"/>
<path d="M441.3,329 443.6,328 435.8,325.6 433.5,326.3z" class="g2c"/><path d="M441.3,329 443.6,328M433.5,326.3 435.8,325.6M443.6,328 435.8,325.6" class="l"/>
<path d="M315.9,317.4 318.2,321 310.4,317.4 308.1,313.7z" class="g54"/><path d="M315.9,317.4 318.2,321M308.1,313.7 310.4,317.4M318.2,321 310.4,317.4" class="l"/>
<path d="M571.4,336.6 573.7,336.3 565.9,330.1 563.5,330.3z" class="g20"/><path d="M571.4,336.6 573.7,336.3M563.5,330.3 565.9,330.1M573.7,336.3 565.9,330.1" class="l"/>
<path d="M424.8,338.5 427.2,336.2 419.4,337.8 417,340.4z" class="g14"/><path d="M424.8,338.5 427.2,336.2M417,340.4 419.4,337.8M424.8,338.5 417,340.4" class="l"/>
<path d="M438.9,329.9 441.3,329 433.5,326.3 431.1,327.4z" class="g2c"/><path d="M438.9,329.9 441.3,329M431.1,327.4 433.5,326.3M438.9,329.9 431.1,327.4" class="l"/>
<path d="M401.3,361.4 403.7,359.9 395.8,348.3 393.5,347.8z" class="g0"/><path d="M401.3,361.4 403.7,359.9M393.5,347.8 395.8,348.3M401.3,361.4 393.5,347.8" class="l"/>
<path d="M436.6,330.9 438.9,329.9 431.1,327.4 428.8,329.2z" class="g28"/><path d="M436.6,330.9 438.9,329.9M428.8,329.2 431.1,327.4M438.9,329.9 431.1,327.4" class="l"/>
<path d="M427.2,336.2 429.5,333.9 421.7,335.1 419.4,337.8z" class="g14"/><path d="M427.2,336.2 429.5,333.9M419.4,337.8 421.7,335.1M429.5,333.9 421.7,335.1" class="l"/>
<path d="M434.2,331.8 436.6,330.9 428.8,329.2 426.4,331.1z" class="g28"/><path d="M434.2,331.8 436.6,330.9M426.4,331.1 428.8,329.2M434.2,331.8 426.4,331.1" class="l"/>
<path d="M431.9,332.7 434.2,331.8 426.4,331.1 424.1,332.9z" class="g20"/><path d="M431.9,332.7 434.2,331.8M424.1,332.9 426.4,331.1M434.2,331.8 426.4,331.1" class="l"/>
<path d="M569,336.8 571.4,336.6 563.5,330.3 561.2,330.5z" class="g20"/><path d="M569,336.8 571.4,336.6M561.2,330.5 563.5,330.3M569,336.8 561.2,330.5" class="l"/>
<path d="M429.5,333.9 431.9,332.7 424.1,332.9 421.7,335.1z" class="g20"/><path d="M429.5,333.9 431.9,332.7M421.7,335.1 424.1,332.9M429.5,333.9 421.7,335.1" class="l"/>
<path d="M398.9,361.3 401.3,361.4 393.5,347.8 391.1,347.4z" class="g0"/><path d="M398.9,361.3 401.3,361.4M391.1,347.4 393.5,347.8M401.3,361.4 393.5,347.8" class="l"/>
<path d="M566.7,337 569,336.8 561.2,330.5 558.8,330.7z" class="g20"/><path d="M566.7,337 569,336.8M558.8,330.7 561.2,330.5M569,336.8 561.2,330.5" class="l"/>
<path d="M396.6,360.7 398.9,361.3 391.1,347.4 388.8,347z" class="g0"/><path d="M396.6,360.7 398.9,361.3M388.8,347 391.1,347.4M396.6,360.7 388.8,347" class="l"/>
<path d="M564.3,337.2 566.7,337 558.8,330.7 556.5,330.9z" class="g20"/><path d="M564.3,337.2 566.7,337M556.5,330.9 558.8,330.7M564.3,337.2 556.5,330.9" class="l"/>
<path d="M313.5,313.9 315.9,317.4 308.1,313.7 305.7,310z" class="g54"/><path d="M313.5,313.9 315.9,317.4M305.7,310 308.1,313.7M313.5,313.9 305.7,310" class="l"/>
<path d="M562,337.4 564.3,337.2 556.5,330.9 554.1,331z" class="g20"/><path d="M562,337.4 564.3,337.2M554.1,331 556.5,330.9M564.3,337.2 556.5,330.9" class="l"/>
<path d="M394.2,360.1 396.6,360.7 388.8,347 386.4,346.5z" class="g0"/><path d="M394.2,360.1 396.6,360.7M386.4,346.5 388.8,347M396.6,360.7 388.8,347" class="l"/>
<path d="M559.6,337.5 562,337.4 554.1,331 551.8,331.2z" class="g20"/><path d="M559.6,337.5 562,337.4M551.8,331.2 554.1,331M559.6,337.5 551.8,331.2" class="l"/>
<path d="M391.9,359.5 394.2,360.1 386.4,346.5 384.1,345.4z" class="g0"/><path d="M391.9,359.5 394.2,360.1M384.1,345.4 386.4,346.5M391.9,359.5 384.1,345.4" class="l"/>
<path d="M557.3,337.7 559.6,337.5 551.8,331.2 549.4,331.3z" class="g20"/><path d="M557.3,337.7 559.6,337.5M549.4,331.3 551.8,331.2M559.6,337.5 551.8,331.2" class="l"/>
<path d="M554.9,337.8 557.3,337.7 549.4,331.3 547.1,331.7z" class="g20"/><path d="M554.9,337.8 557.3,337.7M547.1,331.7 549.4,331.3M554.9,337.8 547.1,331.7" class="l"/>
<path d="M311.2,309.8 313.5,313.9 305.7,310 303.4,306.3z" class="g70"/><path d="M311.2,309.8 313.5,313.9M303.4,306.3 305.7,310M313.5,313.9 305.7,310" class="l"/>
<path d="M389.5,359 391.9,359.5 384.1,345.4 381.7,343.4z" class="g0"/><path d="M389.5,359 391.9,359.5M381.7,343.4 384.1,345.4M391.9,359.5 384.1,345.4" class="l"/>
<path d="M552.5,338 554.9,337.8 547.1,331.7 544.7,332.2z" class="g20"/><path d="M552.5,338 554.9,337.8M544.7,332.2 547.1,331.7M554.9,337.8 547.1,331.7" class="l"/>
<path d="M550.2,338.1 552.5,338 544.7,332.2 542.4,332.7z" class="g20"/><path d="M550.2,338.1 552.5,338M542.4,332.7 544.7,332.2M550.2,338.1 542.4,332.7" class="l"/>
<path d="M387.2,358.4 389.5,359 381.7,343.4 379.4,341.4z" class="g0"/><path d="M387.2,358.4 389.5,359M379.4,341.4 381.7,343.4M387.2,358.4 379.4,341.4" class="l"/>
<path d="M547.8,338.2 550.2,338.1 542.4,332.7 540,333.2z" class="g1c"/><path d="M547.8,338.2 550.2,338.1M540,333.2 542.4,332.7M550.2,338.1 542.4,332.7" class="l"/>
<path d="M545.5,338.7 547.8,338.2 540,333.2 537.7,333.7z" class="g1c"/><path d="M545.5,338.7 547.8,338.2M537.7,333.7 540,333.2M545.5,338.7 537.7,333.7" class="l"/>
<path d="M308.8,305.5 311.2,309.8 303.4,306.3 301,302z" class="g70"/><path d="M308.8,305.5 311.2,309.8M301,302 303.4,306.3M308.8,305.5 301,302" class="l"/>
<path d="M543.1,339.3 545.5,338.7 537.7,333.7 535.3,334.1z" class="g18"/><path d="M543.1,339.3 545.5,338.7M535.3,334.1 537.7,333.7M545.5,338.7 537.7,333.7" class="l"/>
<path d="M384.8,357.8 387.2,358.4 379.4,341.4 377,339.3z" class="g0"/><path d="M384.8,357.8 387.2,358.4M377,339.3 379.4,341.4M387.2,358.4 379.4,341.4" class="l"/>
<path d="M540.8,339.8 543.1,339.3 535.3,334.1 533,334.6z" class="g18"/><path d="M540.8,339.8 543.1,339.3M533,334.6 535.3,334.1M540.8,339.8 533,334.6" class="l"/>
<path d="M538.4,340.4 540.8,339.8 533,334.6 530.6,335.1z" class="g18"/><path d="M538.4,340.4 540.8,339.8M530.6,335.1 533,334.6M540.8,339.8 533,334.6" class="l"/>
<path d="M536.1,341 538.4,340.4 530.6,335.1 528.3,335.4z" class="g18"/><path d="M536.1,341 538.4,340.4M528.3,335.4 530.6,335.1M536.1,341 528.3,335.4" class="l"/>
<path d="M533.7,341.5 536.1,341 528.3,335.4 525.9,335.7z" class="g14"/><path d="M533.7,341.5 536.1,341M525.9,335.7 528.3,335.4M536.1,341 528.3,335.4" class="l"/>
<path d="M382.5,356.5 384.8,357.8 377,339.3 374.7,333.2z" class="g0"/><path d="M382.5,356.5 384.8,357.8M374.7,333.2 377,339.3M382.5,356.5 374.7,333.2" class="l"/>
<path d="M306.5,300.6 308.8,305.5 301,302 298.7,298.1z" class="g8c"/><path d="M306.5,300.6 308.8,305.5M298.7,298.1 301,302M308.8,305.5 301,302" class="l"/>
<path d="M531.4,342.1 533.7,341.5 525.9,335.7 523.6,336z" class="g14"/><path d="M531.4,342.1 533.7,341.5M523.6,336 525.9,335.7M531.4,342.1 523.6,336" class="l"/>
<path d="M529,342.7 531.4,342.1 523.6,336 521.2,336.3z" class="g10"/><path d="M529,342.7 531.4,342.1M521.2,336.3 523.6,336M531.4,342.1 523.6,336" class="l"/>
<path d="M526.7,343.1 529,342.7 521.2,336.3 518.9,336.6z" class="g10"/><path d="M526.7,343.1 529,342.7M518.9,336.6 521.2,336.3M526.7,343.1 518.9,336.6" class="l"/>
<path d="M524.3,343.4 526.7,343.1 518.9,336.6 516.5,336.9z" class="g10"/><path d="M524.3,343.4 526.7,343.1M516.5,336.9 518.9,336.6M526.7,343.1 518.9,336.6" class="l"/>
<path d="M380.1,353.9 382.5,356.5 374.7,333.2 372.3,329.8z" class="g0"/><path d="M380.1,353.9 382.5,356.5M372.3,329.8 374.7,333.2M382.5,356.5 374.7,333.2" class="l"/>
<path d="M522,343.8 524.3,343.4 516.5,336.9 514.2,337.1z" class="g10"/><path d="M522,343.8 524.3,343.4M514.2,337.1 516.5,336.9M522,343.8 514.2,337.1" class="l"/>
<path d="M304.1,295.9 306.5,300.6 298.7,298.1 296.3,294.1z" class="g8c"/><path d="M304.1,295.9 306.5,300.6M296.3,294.1 298.7,298.1M304.1,295.9 296.3,294.1" class="l"/>
<path d="M519.6,344.1 522,343.8 514.2,337.1 511.8,337.4z" class="g10"/><path d="M519.6,344.1 522,343.8M511.8,337.4 514.2,337.1M522,343.8 514.2,337.1" class="l"/>
<path d="M377.8,351.4 380.1,353.9 372.3,329.8 370,329.4z" class="g0"/><path d="M377.8,351.4 380.1,353.9M370,329.4 372.3,329.8M377.8,351.4 370,329.4" class="l"/>
<path d="M517.3,344.4 519.6,344.1 511.8,337.4 509.5,337.4z" class="g10"/><path d="M517.3,344.4 519.6,344.1M509.5,337.4 511.8,337.4M517.3,344.4 509.5,337.4" class="l"/>
<path d="M514.9,344.8 517.3,344.4 509.5,337.4 507.1,337.1z" class="gc"/><path d="M514.9,344.8 517.3,344.4M507.1,337.1 509.5,337.4M517.3,344.4 509.5,337.4" class="l"/>
<path d="M375.4,348.8 377.8,351.4 370,329.4 367.6,329.3z" class="g10"/><path d="M375.4,348.8 377.8,351.4M367.6,329.3 370,329.4M377.8,351.4 370,329.4" class="l"/>
<path d="M512.6,345.1 514.9,344.8 507.1,337.1 504.8,336.8z" class="gc"/><path d="M512.6,345.1 514.9,344.8M504.8,336.8 507.1,337.1M512.6,345.1 504.8,336.8" class="l"/>
<path d="M301.8,291.5 304.1,295.9 296.3,294.1 294,290.1z" class="ga4"/><path d="M301.8,291.5 304.1,295.9M294,290.1 296.3,294.1M304.1,295.9 296.3,294.1" class="l"/>
<path d="M510.2,345.5 512.6,345.1 504.8,336.8 502.4,336.5z" class="gc"/><path d="M510.2,345.5 512.6,345.1M502.4,336.5 504.8,336.8M512.6,345.1 504.8,336.8" class="l"/>
<path d="M507.9,345.4 510.2,345.5 502.4,336.5 500.1,336.2z" class="gc"/><path d="M507.9,345.4 510.2,345.5M500.1,336.2 502.4,336.5M507.9,345.4 500.1,336.2" class="l"/>
<path d="M373.1,341.2 375.4,348.8 367.6,329.3 365.3,329.3z" class="g10"/><path d="M373.1,341.2 375.4,348.8M365.3,329.3 367.6,329.3M373.1,341.2 365.3,329.3" class="l"/>
<path d="M505.5,345 507.9,345.4 500.1,336.2 497.7,335.9z" class="g10"/><path d="M505.5,345 507.9,345.4M497.7,335.9 500.1,336.2M507.9,345.4 500.1,336.2" class="l"/>
<path d="M299.4,287.5 301.8,291.5 294,290.1 291.6,285.8z" class="ga4"/><path d="M299.4,287.5 301.8,291.5M291.6,285.8 294,290.1M299.4,287.5 291.6,285.8" class="l"/>
<path d="M503.2,344.6 505.5,345 497.7,335.9 495.4,335.6z" class="g10"/><path d="M503.2,344.6 505.5,345M495.4,335.6 497.7,335.9M503.2,344.6 495.4,335.6" class="l"/>
<path d="M370.7,334.6 373.1,341.2 365.3,329.3 362.9,329.4z" class="g30"/><path d="M370.7,334.6 373.1,341.2M362.9,329.4 365.3,329.3M373.1,341.2 365.3,329.3" class="l"/>
<path d="M500.8,344.2 503.2,344.6 495.4,335.6 493,335.2z" class="g10"/><path d="M500.8,344.2 503.2,344.6M493,335.2 495.4,335.6M503.2,344.6 495.4,335.6" class="l"/>
<path d="M498.5,343.9 500.8,344.2 493,335.2 490.7,334.8z" class="g10"/><path d="M498.5,343.9 500.8,344.2M490.7,334.8 493,335.2M498.5,343.9 490.7,334.8" class="l"/>
<path d="M297.1,283.5 299.4,287.5 291.6,285.8 289.3,280.9z" class="gc0"/><path d="M297.1,283.5 299.4,287.5M289.3,280.9 291.6,285.8M299.4,287.5 291.6,285.8" class="l"/>
<path d="M368.4,331.5 370.7,334.6 362.9,329.4 360.6,329.5z" class="g30"/><path d="M368.4,331.5 370.7,334.6M360.6,329.5 362.9,329.4M368.4,331.5 360.6,329.5" class="l"/>
<path d="M496.1,343.5 498.5,343.9 490.7,334.8 488.3,334.4z" class="g14"/><path d="M496.1,343.5 498.5,343.9M488.3,334.4 490.7,334.8M498.5,343.9 490.7,334.8" class="l"/>
<path d="M493.8,343.1 496.1,343.5 488.3,334.4 486,334z" class="g14"/><path d="M493.8,343.1 496.1,343.5M486,334 488.3,334.4M493.8,343.1 486,334" class="l"/>
<path d="M366,329.9 368.4,331.5 360.6,329.5 358.2,329.6z" class="g34"/><path d="M366,329.9 368.4,331.5M358.2,329.6 360.6,329.5M368.4,331.5 360.6,329.5" class="l"/>
<path d="M491.4,342.6 493.8,343.1 486,334 483.6,333.6z" class="g18"/><path d="M491.4,342.6 493.8,343.1M483.6,333.6 486,334M493.8,343.1 486,334" class="l"/>
<path d="M363.7,330 366,329.9 358.2,329.6 355.9,329.6z" class="g34"/><path d="M363.7,330 366,329.9M355.9,329.6 358.2,329.6M363.7,330 355.9,329.6" class="l"/>
<path d="M294.7,279.2 297.1,283.5 289.3,280.9 286.9,275.2z" class="gc0"/><path d="M294.7,279.2 297.1,283.5M286.9,275.2 289.3,280.9M294.7,279.2 286.9,275.2" class="l"/>
<path d="M361.3,330.1 363.7,330 355.9,329.6 353.5,329.7z" class="g34"/><path d="M361.3,330.1 363.7,330M353.5,329.7 355.9,329.6M363.7,330 355.9,329.6" class="l"/>
<path d="M489.1,342.1 491.4,342.6 483.6,333.6 481.2,333.2z" class="g18"/><path d="M489.1,342.1 491.4,342.6M481.2,333.2 483.6,333.6M489.1,342.1 481.2,333.2" class="l"/>
<path d="M359,330.2 361.3,330.1 353.5,329.7 351.2,329.8z" class="g34"/><path d="M359,330.2 361.3,330.1M351.2,329.8 353.5,329.7M359,330.2 351.2,329.8" class="l"/>
<path d="M486.7,341.6 489.1,342.1 481.2,333.2 478.9,332.8z" class="g1c"/><path d="M486.7,341.6 489.1,342.1M478.9,332.8 481.2,333.2M489.1,342.1 481.2,333.2" class="l"/>
<path d="M356.6,330.2 359,330.2 351.2,329.8 348.8,329.9z" class="g34"/><path d="M356.6,330.2 359,330.2M348.8,329.9 351.2,329.8M359,330.2 351.2,329.8" class="l"/>
<path d="M238.3,314.1 240.6,312.6 232.8,315.6 230.5,317.1z" class="g1c"/><path d="M238.3,314.1 240.6,312.6M230.5,317.1 232.8,315.6M238.3,314.1 230.5,317.1M240.6,312.6 232.8,315.6" class="l"/>
<path d="M240.6,312.6 243,309.2 235.2,315.3 232.8,315.6z" class="g1c"/><path d="M240.6,312.6 243,309.2M232.8,315.6 235.2,315.3M240.6,312.6 232.8,315.6M243,309.2 235.2,315.3" class="l"/>
<path d="M235.9,315 238.3,314.1 230.5,317.1 228.1,318.5z" class="g1c"/><path d="M235.9,315 238.3,314.1M228.1,318.5 230.5,317.1M235.9,315 228.1,318.5M238.3,314.1 230.5,317.1" class="l"/>
<path d="M484.4,341.1 486.7,341.6 478.9,332.8 476.5,332.4z" class="g1c"/><path d="M484.4,341.1 486.7,341.6M476.5,332.4 478.9,332.8M484.4,341.1 476.5,332.4" class="l"/>
<path d="M233.6,316.1 235.9,315 228.1,318.5 225.8,319.9z" class="g1c"/><path d="M233.6,316.1 235.9,315M225.8,319.9 228.1,318.5M233.6,316.1 225.8,319.9M235.9,315 228.1,318.5" class="l"/>
<path d="M354.3,330.3 356.6,330.2 348.8,329.9 346.5,329.9z" class="g34"/><path d="M354.3,330.3 356.6,330.2M346.5,329.9 348.8,329.9M354.3,330.3 346.5,329.9" class="l"/>
<path d="M231.2,317.2 233.6,316.1 225.8,319.9 223.4,321.3z" class="g1c"/><path d="M231.2,317.2 233.6,316.1M223.4,321.3 225.8,319.9M231.2,317.2 223.4,321.3M233.6,316.1 225.8,319.9" class="l"/>
<path d="M243,309.2 245.3,301.7 237.5,315.3 235.2,315.3z" class="g28"/><path d="M243,309.2 245.3,301.7M235.2,315.3 237.5,315.3M243,309.2 235.2,315.3M245.3,301.7 237.5,315.3" class="l"/>
<path d="M228.9,318.4 231.2,317.2 223.4,321.3 221.1,322.6z" class="g1c"/><path d="M228.9,318.4 231.2,317.2M221.1,322.6 223.4,321.3M228.9,318.4 221.1,322.6M231.2,317.2 223.4,321.3" class="l"/>
<path d="M226.5,319.8 228.9,318.4 221.1,322.6 218.7,323.9z" class="g1c"/><path d="M226.5,319.8 228.9,318.4M218.7,323.9 221.1,322.6M226.5,319.8 218.7,323.9M228.9,318.4 221.1,322.6" class="l"/>
<path d="M224.2,321.1 226.5,319.8 218.7,323.9 216.4,325z" class="g1c"/><path d="M224.2,321.1 226.5,319.8M216.4,325 218.7,323.9M224.2,321.1 216.4,325M226.5,319.8 218.7,323.9" class="l"/>
<path d="M292.4,274 294.7,279.2 286.9,275.2 284.6,269z" class="gd0"/><path d="M292.4,274 294.7,279.2M284.6,269 286.9,275.2M294.7,279.2 286.9,275.2" class="l"/>
<path d="M221.8,322.6 224.2,321.1 216.4,325 214,326.1z" class="g1c"/><path d="M221.8,322.6 224.2,321.1M214,326.1 216.4,325M221.8,322.6 214,326.1M224.2,321.1 216.4,325" class="l"/>
<path d="M351.9,330.4 354.3,330.3 346.5,329.9 344.1,330z" class="g34"/><path d="M351.9,330.4 354.3,330.3M344.1,330 346.5,329.9M354.3,330.3 346.5,329.9" class="l"/>
<path d="M482,340.6 484.4,341.1 476.5,332.4 474.2,331.8z" class="g20"/><path d="M482,340.6 484.4,341.1M474.2,331.8 476.5,332.4M484.4,341.1 476.5,332.4" class="l"/>
<path d="M219.5,324 221.8,322.6 214,326.1 211.7,327z" class="g1c"/><path d="M219.5,324 221.8,322.6M211.7,327 214,326.1M219.5,324 211.7,327M221.8,322.6 214,326.1" class="l"/>
<path d="M217.1,325.4 219.5,324 211.7,327 209.3,327.7z" class="g1c"/><path d="M217.1,325.4 219.5,324M209.3,327.7 211.7,327M217.1,325.4 209.3,327.7M219.5,324 211.7,327" class="l"/>
<path d="M214.8,326.9 217.1,325.4 209.3,327.7 207,328.3z" class="g1c"/><path d="M214.8,326.9 217.1,325.4M207,328.3 209.3,327.7M214.8,326.9 207,328.3M217.1,325.4 209.3,327.7" class="l"/>
<path d="M349.6,330.5 351.9,330.4 344.1,330 341.8,330.1z" class="g34"/><path d="M349.6,330.5 351.9,330.4M341.8,330.1 344.1,330M349.6,330.5 341.8,330.1" class="l"/>
<path d="M245.3,301.7 247.7,290.2 239.9,315 237.5,315.3z" class="g28"/><path d="M245.3,301.7 247.7,290.2M237.5,315.3 239.9,315M245.3,301.7 237.5,315.3M247.7,290.2 239.9,315" class="l"/>
<path d="M212.4,328.2 214.8,326.9 207,328.3 204.6,328.7z" class="g1c"/><path d="M212.4,328.2 214.8,326.9M204.6,328.7 207,328.3M212.4,328.2 204.6,328.7M214.8,326.9 207,328.3" class="l"/>
<path d="M479.7,340.1 482,340.6 474.2,331.8 471.8,331.2z" class="g20"/><path d="M479.7,340.1 482,340.6M471.8,331.2 474.2,331.8M479.7,340.1 471.8,331.2" class="l"/>
<path d="M210.1,329.6 212.4,328.2 204.6,328.7 202.3,328.9z" class="g1c"/><path d="M210.1,329.6 212.4,328.2M202.3,328.9 204.6,328.7M210.1,329.6 202.3,328.9M212.4,328.2 204.6,328.7" class="l"/>
<path d="M347.2,330.6 349.6,330.5 341.8,330.1 339.4,330.2z" class="g34"/><path d="M347.2,330.6 349.6,330.5M339.4,330.2 341.8,330.1M349.6,330.5 341.8,330.1" class="l"/>
<path d="M207.7,330.8 210.1,329.6 202.3,328.9 199.9,329z" class="g1c"/><path d="M207.7,330.8 210.1,329.6M199.9,329 202.3,328.9M207.7,330.8 199.9,329M210.1,329.6 202.3,328.9" class="l"/>
<path d="M477.3,339.5 479.7,340.1 471.8,331.2 469.5,330.6z" class="g20"/><path d="M477.3,339.5 479.7,340.1M469.5,330.6 471.8,331.2M479.7,340.1 471.8,331.2" class="l"/>
<path d="M344.9,330.6 347.2,330.6 339.4,330.2 337.1,330.2z" class="g34"/><path d="M344.9,330.6 347.2,330.6M337.1,330.2 339.4,330.2M344.9,330.6 337.1,330.2" class="l"/>
<path d="M205.4,332 207.7,330.8 199.9,329 197.6,329z" class="g1c"/><path d="M205.4,332 207.7,330.8M197.6,329 199.9,329M205.4,332 197.6,329M207.7,330.8 199.9,329" class="l"/>
<path d="M203,333.1 205.4,332 197.6,329 195.2,329.1z" class="g1c"/><path d="M203,333.1 205.4,332M195.2,329.1 197.6,329M203,333.1 195.2,329.1M205.4,332 197.6,329" class="l"/>
<path d="M342.5,330.7 344.9,330.6 337.1,330.2 334.7,330.3z" class="g34"/><path d="M342.5,330.7 344.9,330.6M334.7,330.3 337.1,330.2M344.9,330.6 337.1,330.2" class="l"/>
<path d="M475,339 477.3,339.5 469.5,330.6 467.1,330z" class="g20"/><path d="M475,339 477.3,339.5M467.1,330 469.5,330.6M475,339 467.1,330" class="l"/>
<path d="M200.7,334 203,333.1 195.2,329.1 192.9,329.2z" class="g1c"/><path d="M200.7,334 203,333.1M192.9,329.2 195.2,329.1M200.7,334 192.9,329.2M203,333.1 195.2,329.1" class="l"/>
<path d="M247.7,290.2 250.1,274.7 242.2,313.6 239.9,315z" class="g6c"/><path d="M247.7,290.2 250.1,274.7M239.9,315 242.2,313.6M247.7,290.2 239.9,315M250.1,274.7 242.2,313.6" class="l"/>
<path d="M290,268.1 292.4,274 284.6,269 282.2,262.3z" class="gd0"/><path d="M290,268.1 292.4,274M282.2,262.3 284.6,269M290,268.1 282.2,262.3" class="l"/>
<path d="M340.2,330.8 342.5,330.7 334.7,330.3 332.4,330.4z" class="g34"/><path d="M340.2,330.8 342.5,330.7M332.4,330.4 334.7,330.3M340.2,330.8 332.4,330.4" class="l"/>
<path d="M198.3,334.8 200.7,334 192.9,329.2 190.5,329.3z" class="g1c"/><path d="M198.3,334.8 200.7,334M190.5,329.3 192.9,329.2M198.3,334.8 190.5,329.3M200.7,334 192.9,329.2" class="l"/>
<path d="M472.6,338.3 475,339 467.1,330 464.8,329.4z" class="g28"/><path d="M472.6,338.3 475,339M464.8,329.4 467.1,330M475,339 467.1,330" class="l"/>
<path d="M337.8,330.9 340.2,330.8 332.4,330.4 330,330.5z" class="g34"/><path d="M337.8,330.9 340.2,330.8M330,330.5 332.4,330.4M340.2,330.8 332.4,330.4" class="l"/>
<path d="M196,335.4 198.3,334.8 190.5,329.3 188.2,329.3z" class="g1c"/><path d="M196,335.4 198.3,334.8M188.2,329.3 190.5,329.3M196,335.4 188.2,329.3M198.3,334.8 190.5,329.3" class="l"/>
<path d="M619.1,331.1 621.2,330.7 613.4,323.7 611.3,324.1z" class="g40"/><path d="M619.1,331.1 621.2,330.7M611.3,324.1 613.4,323.7M619.1,331.1 611.3,324.1M621.2,330.7 613.4,323.7" class="l"/>
<path d="M193.6,335.9 196,335.4 188.2,329.3 185.8,329.4z" class="g1c"/><path d="M193.6,335.9 196,335.4M185.8,329.4 188.2,329.3M193.6,335.9 185.8,329.4M196,335.4 188.2,329.3" class="l"/>
<path d="M335.5,330.9 337.8,330.9 330,330.5 327.6,330.5z" class="g34"/><path d="M335.5,330.9 337.8,330.9M327.6,330.5 330,330.5M335.5,330.9 327.6,330.5" class="l"/>
<path d="M470.2,337.5 472.6,338.3 464.8,329.4 462.4,329.2z" class="g28"/><path d="M470.2,337.5 472.6,338.3M462.4,329.2 464.8,329.4M470.2,337.5 462.4,329.2" class="l"/>
<path d="M616.8,331.7 619.1,331.1 611.3,324.1 609,324.7z" class="g3c"/><path d="M616.8,331.7 619.1,331.1M609,324.7 611.3,324.1M619.1,331.1 611.3,324.1" class="l"/>
<path d="M191.3,336.1 193.6,335.9 185.8,329.4 183.5,329.5z" class="g1c"/><path d="M191.3,336.1 193.6,335.9M183.5,329.5 185.8,329.4M191.3,336.1 183.5,329.5M193.6,335.9 185.8,329.4" class="l"/>
<path d="M333.1,331 335.5,330.9 327.6,330.5 325.3,330.6z" class="g3c"/><path d="M333.1,331 335.5,330.9M325.3,330.6 327.6,330.5M335.5,330.9 327.6,330.5" class="l"/>
<path d="M614.4,332.4 616.8,331.7 609,324.7 606.6,325.5z" class="g3c"/><path d="M614.4,332.4 616.8,331.7M606.6,325.5 609,324.7M614.4,332.4 606.6,325.5" class="l"/>
<path d="M467.9,336.8 470.2,337.5 462.4,329.2 460.1,329.1z" class="g2c"/><path d="M467.9,336.8 470.2,337.5M460.1,329.1 462.4,329.2M470.2,337.5 462.4,329.2" class="l"/>
<path d="M612.1,333.3 614.4,332.4 606.6,325.5 604.3,326.4z" class="g38"/><path d="M612.1,333.3 614.4,332.4M604.3,326.4 606.6,325.5M614.4,332.4 606.6,325.5" class="l"/>
<path d="M188.9,336.2 191.3,336.1 183.5,329.5 181.1,329.6z" class="g1c"/><path d="M188.9,336.2 191.3,336.1M181.1,329.6 183.5,329.5M188.9,336.2 181.1,329.6M191.3,336.1 183.5,329.5" class="l"/>
<path d="M250.1,274.7 252.4,261 244.6,310.1 242.2,313.6z" class="g6c"/><path d="M250.1,274.7 252.4,261M242.2,313.6 244.6,310.1M250.1,274.7 242.2,313.6M252.4,261 244.6,310.1" class="l"/>
<path d="M609.7,334.3 612.1,333.3 604.3,326.4 601.9,327.4z" class="g38"/><path d="M609.7,334.3 612.1,333.3M601.9,327.4 604.3,326.4M609.7,334.3 601.9,327.4" class="l"/>
<path d="M607.4,335.3 609.7,334.3 601.9,327.4 599.6,328.5z" class="g34"/><path d="M607.4,335.3 609.7,334.3M599.6,328.5 601.9,327.4M609.7,334.3 601.9,327.4" class="l"/>
<path d="M330.8,328.8 333.1,331 325.3,330.6 322.9,328.8z" class="g3c"/><path d="M330.8,328.8 333.1,331M322.9,328.8 325.3,330.6M330.8,328.8 322.9,328.8" class="l"/>
<path d="M186.6,336.3 188.9,336.2 181.1,329.6 178.8,329.6z" class="g1c"/><path d="M186.6,336.3 188.9,336.2M178.8,329.6 181.1,329.6M186.6,336.3 178.8,329.6M188.9,336.2 181.1,329.6" class="l"/>
<path d="M465.5,336 467.9,336.8 460.1,329.1 457.7,328.9z" class="g2c"/><path d="M465.5,336 467.9,336.8M457.7,328.9 460.1,329.1M465.5,336 457.7,328.9" class="l"/>
<path d="M287.7,261.6 290,268.1 282.2,262.3 279.9,255.8z" class="gdc"/><path d="M287.7,261.6 290,268.1M279.9,255.8 282.2,262.3M290,268.1 282.2,262.3" class="l"/>
<path d="M605,336.4 607.4,335.3 599.6,328.5 597.2,329.6z" class="g34"/><path d="M605,336.4 607.4,335.3M597.2,329.6 599.6,328.5M605,336.4 597.2,329.6" class="l"/>
<path d="M602.7,337.4 605,336.4 597.2,329.6 594.9,330.7z" class="g2c"/><path d="M602.7,337.4 605,336.4M594.9,330.7 597.2,329.6M605,336.4 597.2,329.6" class="l"/>
<path d="M600.3,338.3 602.7,337.4 594.9,330.7 592.5,331.7z" class="g2c"/><path d="M600.3,338.3 602.7,337.4M592.5,331.7 594.9,330.7M600.3,338.3 592.5,331.7" class="l"/>
<path d="M184.2,336.3 186.6,336.3 178.8,329.6 176.4,329.7z" class="g1c"/><path d="M184.2,336.3 186.6,336.3M176.4,329.7 178.8,329.6M184.2,336.3 176.4,329.7M186.6,336.3 178.8,329.6" class="l"/>
<path d="M598,339.2 600.3,338.3 592.5,331.7 590.2,332.6z" class="g28"/><path d="M598,339.2 600.3,338.3M590.2,332.6 592.5,331.7M600.3,338.3 592.5,331.7" class="l"/>
<path d="M463.2,335.2 465.5,336 457.7,328.9 455.4,328.7z" class="g30"/><path d="M463.2,335.2 465.5,336M455.4,328.7 457.7,328.9M465.5,336 457.7,328.9" class="l"/>
<path d="M595.6,340 598,339.2 590.2,332.6 587.8,333.4z" class="g28"/><path d="M595.6,340 598,339.2M587.8,333.4 590.2,332.6M595.6,340 587.8,333.4" class="l"/>
<path d="M181.9,336.4 184.2,336.3 176.4,329.7 174,329.8z" class="g1c"/><path d="M181.9,336.4 184.2,336.3M174,329.8 176.4,329.7M181.9,336.4 174,329.8M184.2,336.3 176.4,329.7" class="l"/>
<path d="M593.3,340.7 595.6,340 587.8,333.4 585.5,334.1z" class="g24"/><path d="M593.3,340.7 595.6,340M585.5,334.1 587.8,333.4M595.6,340 587.8,333.4" class="l"/>
<path d="M460.8,335 463.2,335.2 455.4,328.7 453,328.6z" class="g30"/><path d="M460.8,335 463.2,335.2M453,328.6 455.4,328.7M460.8,335 453,328.6" class="l"/>
<path d="M328.4,324.7 330.8,328.8 322.9,328.8 320.6,324.7z" class="g50"/><path d="M328.4,324.7 330.8,328.8M320.6,324.7 322.9,328.8M330.8,328.8 322.9,328.8" class="l"/>
<path d="M179.5,336.5 181.9,336.4 174,329.8 171.7,329.9z" class="g1c"/><path d="M179.5,336.5 181.9,336.4M171.7,329.9 174,329.8M179.5,336.5 171.7,329.9M181.9,336.4 174,329.8" class="l"/>
<path d="M590.9,341.3 593.3,340.7 585.5,334.1 583.1,334.7z" class="g24"/><path d="M590.9,341.3 593.3,340.7M583.1,334.7 585.5,334.1M590.9,341.3 583.1,334.7" class="l"/>
<path d="M252.4,261 254.8,251.5 246.9,304.5 244.6,310.1z" class="gd0"/><path d="M252.4,261 254.8,251.5M244.6,310.1 246.9,304.5M252.4,261 244.6,310.1M254.8,251.5 246.9,304.5" class="l"/>
<path d="M588.6,341.8 590.9,341.3 583.1,334.7 580.8,335.2z" class="g24"/><path d="M588.6,341.8 590.9,341.3M580.8,335.2 583.1,334.7M590.9,341.3 583.1,334.7" class="l"/>
<path d="M458.5,334.8 460.8,335 453,328.6 450.7,328.4z" class="g30"/><path d="M458.5,334.8 460.8,335M450.7,328.4 453,328.6M460.8,335 453,328.6" class="l"/>
<path d="M177.2,336.6 179.5,336.5 171.7,329.9 169.3,329.9z" class="g1c"/><path d="M177.2,336.6 179.5,336.5M169.3,329.9 171.7,329.9M177.2,336.6 169.3,329.9M179.5,336.5 171.7,329.9" class="l"/>
<path d="M586.2,342.2 588.6,341.8 580.8,335.2 578.4,335.7z" class="g24"/><path d="M586.2,342.2 588.6,341.8M578.4,335.7 580.8,335.2M586.2,342.2 578.4,335.7" class="l"/>
<path d="M456.1,334.5 458.5,334.8 450.7,328.4 448.3,328.2z" class="g30"/><path d="M456.1,334.5 458.5,334.8M448.3,328.2 450.7,328.4M456.1,334.5 448.3,328.2" class="l"/>
<path d="M285.3,254.4 287.7,261.6 279.9,255.8 277.5,250.2z" class="gdc"/><path d="M285.3,254.4 287.7,261.6M277.5,250.2 279.9,255.8M285.3,254.4 277.5,250.2" class="l"/>
<path d="M583.9,342.5 586.2,342.2 578.4,335.7 576.1,336z" class="g20"/><path d="M583.9,342.5 586.2,342.2M576.1,336 578.4,335.7M586.2,342.2 578.4,335.7" class="l"/>
<path d="M409.1,366.9 411.5,364.4 403.7,359.9 401.3,361.4z" class="g0"/><path d="M409.1,366.9 411.5,364.4M401.3,361.4 403.7,359.9M409.1,366.9 401.3,361.4" class="l"/>
<path d="M406.8,368.7 409.1,366.9 401.3,361.4 398.9,361.3z" class="g0"/><path d="M406.8,368.7 409.1,366.9M398.9,361.3 401.3,361.4M409.1,366.9 401.3,361.4" class="l"/>
<path d="M453.8,334.3 456.1,334.5 448.3,328.2 446,328z" class="g34"/><path d="M453.8,334.3 456.1,334.5M446,328 448.3,328.2M456.1,334.5 448.3,328.2" class="l"/>
<path d="M581.5,342.8 583.9,342.5 576.1,336 573.7,336.3z" class="g20"/><path d="M581.5,342.8 583.9,342.5M573.7,336.3 576.1,336M581.5,342.8 573.7,336.3" class="l"/>
<path d="M411.5,364.4 413.8,360.3 406,358.5 403.7,359.9z" class="g0"/><path d="M411.5,364.4 413.8,360.3M403.7,359.9 406,358.5M413.8,360.3 406,358.5" class="l"/>
<path d="M326.1,321.2 328.4,324.7 320.6,324.7 318.2,321z" class="g50"/><path d="M326.1,321.2 328.4,324.7M318.2,321 320.6,324.7M326.1,321.2 318.2,321" class="l"/>
<path d="M404.4,370.5 406.8,368.7 398.9,361.3 396.6,360.7z" class="g0"/><path d="M404.4,370.5 406.8,368.7M396.6,360.7 398.9,361.3M404.4,370.5 396.6,360.7" class="l"/>
<path d="M254.8,251.5 257.1,245 249.3,296.5 246.9,304.5z" class="gd0"/><path d="M254.8,251.5 257.1,245M246.9,304.5 249.3,296.5M254.8,251.5 246.9,304.5M257.1,245 249.3,296.5" class="l"/>
<path d="M413.8,360.3 416.2,356.2 408.4,357 406,358.5z" class="g0"/><path d="M413.8,360.3 416.2,356.2M406,358.5 408.4,357M413.8,360.3 406,358.5" class="l"/>
<path d="M579.2,343 581.5,342.8 573.7,336.3 571.4,336.6z" class="g20"/><path d="M579.2,343 581.5,342.8M571.4,336.6 573.7,336.3M581.5,342.8 573.7,336.3" class="l"/>
<path d="M402.1,372.3 404.4,370.5 396.6,360.7 394.2,360.1z" class="g0"/><path d="M402.1,372.3 404.4,370.5M394.2,360.1 396.6,360.7M404.4,370.5 396.6,360.7" class="l"/>
<path d="M451.4,334.1 453.8,334.3 446,328 443.6,328z" class="g34"/><path d="M451.4,334.1 453.8,334.3M443.6,328 446,328M451.4,334.1 443.6,328" class="l"/>
<path d="M416.2,356.2 418.5,352.1 410.7,355.5 408.4,357z" class="g0"/><path d="M416.2,356.2 418.5,352.1M408.4,357 410.7,355.5M418.5,352.1 410.7,355.5" class="l"/>
<path d="M399.7,374.1 402.1,372.3 394.2,360.1 391.9,359.5z" class="g0"/><path d="M399.7,374.1 402.1,372.3M391.9,359.5 394.2,360.1M399.7,374.1 391.9,359.5" class="l"/>
<path d="M576.8,343.2 579.2,343 571.4,336.6 569,336.8z" class="g20"/><path d="M576.8,343.2 579.2,343M569,336.8 571.4,336.6M576.8,343.2 569,336.8" class="l"/>
<path d="M449.1,333.9 451.4,334.1 443.6,328 441.3,329z" class="g34"/><path d="M449.1,333.9 451.4,334.1M441.3,329 443.6,328M451.4,334.1 443.6,328" class="l"/>
<path d="M418.5,352.1 420.9,348.8 413.1,353.5 410.7,355.5z" class="g0"/><path d="M418.5,352.1 420.9,348.8M410.7,355.5 413.1,353.5M418.5,352.1 410.7,355.5" class="l"/>
<path d="M397.4,374 399.7,374.1 391.9,359.5 389.5,359z" class="g0"/><path d="M397.4,374 399.7,374.1M389.5,359 391.9,359.5M399.7,374.1 391.9,359.5" class="l"/>
<path d="M574.5,343.4 576.8,343.2 569,336.8 566.7,337z" class="g20"/><path d="M574.5,343.4 576.8,343.2M566.7,337 569,336.8M576.8,343.2 569,336.8" class="l"/>
<path d="M446.7,333.7 449.1,333.9 441.3,329 438.9,329.9z" class="g34"/><path d="M446.7,333.7 449.1,333.9M438.9,329.9 441.3,329M446.7,333.7 438.9,329.9" class="l"/>
<path d="M420.9,348.8 423.2,346 415.4,350.2 413.1,353.5z" class="g0"/><path d="M420.9,348.8 423.2,346M413.1,353.5 415.4,350.2M423.2,346 415.4,350.2" class="l"/>
<path d="M323.7,318 326.1,321.2 318.2,321 315.9,317.4z" class="g68"/><path d="M323.7,318 326.1,321.2M315.9,317.4 318.2,321M326.1,321.2 318.2,321" class="l"/>
<path d="M572.1,343.5 574.5,343.4 566.7,337 564.3,337.2z" class="g20"/><path d="M572.1,343.5 574.5,343.4M564.3,337.2 566.7,337M572.1,343.5 564.3,337.2" class="l"/>
<path d="M444.4,333.4 446.7,333.7 438.9,329.9 436.6,330.9z" class="g38"/><path d="M444.4,333.4 446.7,333.7M436.6,330.9 438.9,329.9M446.7,333.7 438.9,329.9" class="l"/>
<path d="M423.2,346 425.6,343.2 417.8,346.9 415.4,350.2z" class="g10"/><path d="M423.2,346 425.6,343.2M415.4,350.2 417.8,346.9M423.2,346 415.4,350.2" class="l"/>
<path d="M395,373.3 397.4,374 389.5,359 387.2,358.4z" class="g0"/><path d="M395,373.3 397.4,374M387.2,358.4 389.5,359M395,373.3 387.2,358.4" class="l"/>
<path d="M283,246.8 285.3,254.4 277.5,250.2 275.2,246.2z" class="gec"/><path d="M283,246.8 285.3,254.4M275.2,246.2 277.5,250.2M285.3,254.4 277.5,250.2" class="l"/>
<path d="M257.1,245 259.5,239.1 251.6,286.4 249.3,296.5z" class="ge4"/><path d="M257.1,245 259.5,239.1M249.3,296.5 251.6,286.4M257.1,245 249.3,296.5M259.5,239.1 251.6,286.4" class="l"/>
<path d="M442,333.3 444.4,333.4 436.6,330.9 434.2,331.8z" class="g38"/><path d="M442,333.3 444.4,333.4M434.2,331.8 436.6,330.9M442,333.3 434.2,331.8" class="l"/>
<path d="M569.8,343.7 572.1,343.5 564.3,337.2 562,337.4z" class="g20"/><path d="M569.8,343.7 572.1,343.5M562,337.4 564.3,337.2M572.1,343.5 564.3,337.2" class="l"/>
<path d="M425.6,343.2 427.9,340.4 420.1,343.5 417.8,346.9z" class="g10"/><path d="M425.6,343.2 427.9,340.4M417.8,346.9 420.1,343.5M427.9,340.4 420.1,343.5" class="l"/>
<path d="M439.7,334.5 442,333.3 434.2,331.8 431.9,332.7z" class="g30"/><path d="M439.7,334.5 442,333.3M431.9,332.7 434.2,331.8M442,333.3 434.2,331.8" class="l"/>
<path d="M427.9,340.4 430.3,339 422.5,340.8 420.1,343.5z" class="g24"/><path d="M427.9,340.4 430.3,339M420.1,343.5 422.5,340.8M427.9,340.4 420.1,343.5" class="l"/>
<path d="M392.7,372.6 395,373.3 387.2,358.4 384.8,357.8z" class="g0"/><path d="M392.7,372.6 395,373.3M384.8,357.8 387.2,358.4M395,373.3 387.2,358.4" class="l"/>
<path d="M437.3,335.6 439.7,334.5 431.9,332.7 429.5,333.9z" class="g30"/><path d="M437.3,335.6 439.7,334.5M429.5,333.9 431.9,332.7M437.3,335.6 429.5,333.9" class="l"/>
<path d="M430.3,339 432.6,337.9 424.8,338.5 422.5,340.8z" class="g24"/><path d="M430.3,339 432.6,337.9M422.5,340.8 424.8,338.5M432.6,337.9 424.8,338.5" class="l"/>
<path d="M567.4,343.8 569.8,343.7 562,337.4 559.6,337.5z" class="g20"/><path d="M567.4,343.8 569.8,343.7M559.6,337.5 562,337.4M567.4,343.8 559.6,337.5" class="l"/>
<path d="M432.6,337.9 435,336.7 427.2,336.2 424.8,338.5z" class="g28"/><path d="M432.6,337.9 435,336.7M424.8,338.5 427.2,336.2M432.6,337.9 424.8,338.5" class="l"/>
<path d="M435,336.7 437.3,335.6 429.5,333.9 427.2,336.2z" class="g28"/><path d="M435,336.7 437.3,335.6M427.2,336.2 429.5,333.9M437.3,335.6 429.5,333.9" class="l"/>
<path d="M565.1,344 567.4,343.8 559.6,337.5 557.3,337.7z" class="g20"/><path d="M565.1,344 567.4,343.8M557.3,337.7 559.6,337.5M567.4,343.8 559.6,337.5" class="l"/>
<path d="M321.4,314.4 323.7,318 315.9,317.4 313.5,313.9z" class="g68"/><path d="M321.4,314.4 323.7,318M313.5,313.9 315.9,317.4M321.4,314.4 313.5,313.9" class="l"/>
<path d="M390.3,371.8 392.7,372.6 384.8,357.8 382.5,356.5z" class="g0"/><path d="M390.3,371.8 392.7,372.6M382.5,356.5 384.8,357.8M390.3,371.8 382.5,356.5" class="l"/>
<path d="M562.7,344.1 565.1,344 557.3,337.7 554.9,337.8z" class="g20"/><path d="M562.7,344.1 565.1,344M554.9,337.8 557.3,337.7M562.7,344.1 554.9,337.8" class="l"/>
<path d="M560.4,344.3 562.7,344.1 554.9,337.8 552.5,338z" class="g20"/><path d="M560.4,344.3 562.7,344.1M552.5,338 554.9,337.8M562.7,344.1 554.9,337.8" class="l"/>
<path d="M280.6,238.8 283,246.8 275.2,246.2 272.8,244.3z" class="gec"/><path d="M280.6,238.8 283,246.8M272.8,244.3 275.2,246.2M280.6,238.8 272.8,244.3" class="l"/>
<path d="M259.5,239.1 261.8,232.8 254,276.7 251.6,286.4z" class="ge4"/><path d="M259.5,239.1 261.8,232.8M251.6,286.4 254,276.7M259.5,239.1 251.6,286.4M261.8,232.8 254,276.7" class="l"/>
<path d="M387.9,371.1 390.3,371.8 382.5,356.5 380.1,353.9z" class="g0"/><path d="M387.9,371.1 390.3,371.8M380.1,353.9 382.5,356.5M390.3,371.8 382.5,356.5" class="l"/>
<path d="M558,344.4 560.4,344.3 552.5,338 550.2,338.1z" class="g20"/><path d="M558,344.4 560.4,344.3M550.2,338.1 552.5,338M558,344.4 550.2,338.1" class="l"/>
<path d="M319,310.4 321.4,314.4 313.5,313.9 311.2,309.8z" class="g80"/><path d="M319,310.4 321.4,314.4M311.2,309.8 313.5,313.9M321.4,314.4 313.5,313.9" class="l"/>
<path d="M555.7,344.6 558,344.4 550.2,338.1 547.8,338.2z" class="g20"/><path d="M555.7,344.6 558,344.4M547.8,338.2 550.2,338.1M558,344.4 550.2,338.1" class="l"/>
<path d="M385.6,370.4 387.9,371.1 380.1,353.9 377.8,351.4z" class="g0"/><path d="M385.6,370.4 387.9,371.1M377.8,351.4 380.1,353.9M385.6,370.4 377.8,351.4" class="l"/>
<path d="M553.3,344.7 555.7,344.6 547.8,338.2 545.5,338.7z" class="g20"/><path d="M553.3,344.7 555.7,344.6M545.5,338.7 547.8,338.2M553.3,344.7 545.5,338.7" class="l"/>
<path d="M551,344.8 553.3,344.7 545.5,338.7 543.1,339.3z" class="g20"/><path d="M551,344.8 553.3,344.7M543.1,339.3 545.5,338.7M553.3,344.7 545.5,338.7" class="l"/>
<path d="M261.8,232.8 264.2,227.1 256.3,269.8 254,276.7z" class="gf0"/><path d="M261.8,232.8 264.2,227.1M254,276.7 256.3,269.8M261.8,232.8 254,276.7M264.2,227.1 256.3,269.8" class="l"/>
<path d="M278.3,230.6 280.6,238.8 272.8,244.3 270.5,244.6z" class="gf8"/><path d="M278.3,230.6 280.6,238.8M270.5,244.6 272.8,244.3M280.6,238.8 272.8,244.3" class="l"/>
<path d="M548.6,345 551,344.8 543.1,339.3 540.8,339.8z" class="g20"/><path d="M548.6,345 551,344.8M540.8,339.8 543.1,339.3M548.6,345 540.8,339.8" class="l"/>
<path d="M383.2,369.7 385.6,370.4 377.8,351.4 375.4,348.8z" class="g0"/><path d="M383.2,369.7 385.6,370.4M375.4,348.8 377.8,351.4M385.6,370.4 377.8,351.4" class="l"/>
<path d="M546.2,345.1 548.6,345 540.8,339.8 538.4,340.4z" class="g1c"/><path d="M546.2,345.1 548.6,345M538.4,340.4 540.8,339.8M548.6,345 540.8,339.8" class="l"/>
<path d="M316.6,305.7 319,310.4 311.2,309.8 308.8,305.5z" class="g80"/><path d="M316.6,305.7 319,310.4M308.8,305.5 311.2,309.8M316.6,305.7 308.8,305.5" class="l"/>
<path d="M543.9,345.6 546.2,345.1 538.4,340.4 536.1,341z" class="g1c"/><path d="M543.9,345.6 546.2,345.1M536.1,341 538.4,340.4M543.9,345.6 536.1,341" class="l"/>
<path d="M264.2,227.1 266.5,222.3 258.7,263.7 256.3,269.8z" class="gf0"/><path d="M264.2,227.1 266.5,222.3M256.3,269.8 258.7,263.7M264.2,227.1 256.3,269.8M266.5,222.3 258.7,263.7" class="l"/>
<path d="M541.5,346.3 543.9,345.6 536.1,341 533.7,341.5z" class="g18"/><path d="M541.5,346.3 543.9,345.6M533.7,341.5 536.1,341M543.9,345.6 536.1,341" class="l"/>
<path d="M275.9,224.3 278.3,230.6 270.5,244.6 268.1,246.1z" class="gf8"/><path d="M275.9,224.3 278.3,230.6M268.1,246.1 270.5,244.6M275.9,224.3 268.1,246.1" class="l"/>
<path d="M539.2,347 541.5,346.3 533.7,341.5 531.4,342.1z" class="g18"/><path d="M539.2,347 541.5,346.3M531.4,342.1 533.7,341.5M539.2,347 531.4,342.1" class="l"/>
<path d="M380.9,368.1 383.2,369.7 375.4,348.8 373.1,341.2z" class="g0"/><path d="M380.9,368.1 383.2,369.7M373.1,341.2 375.4,348.8M380.9,368.1 373.1,341.2" class="l"/>
<path d="M536.8,347.6 539.2,347 531.4,342.1 529,342.7z" class="g14"/><path d="M536.8,347.6 539.2,347M529,342.7 531.4,342.1M539.2,347 531.4,342.1" class="l"/>
<path d="M266.5,222.3 268.9,219.7 261.1,258.1 258.7,263.7z" class="gfc"/><path d="M266.5,222.3 268.9,219.7M258.7,263.7 261.1,258.1M266.5,222.3 258.7,263.7M268.9,219.7 261.1,258.1" class="l"/>
<path d="M534.5,348.3 536.8,347.6 529,342.7 526.7,343.1z" class="g14"/><path d="M534.5,348.3 536.8,347.6M526.7,343.1 529,342.7M534.5,348.3 526.7,343.1" class="l"/>
<path d="M273.6,220.5 275.9,224.3 268.1,246.1 265.8,249.5z" class="gff"/><path d="M273.6,220.5 275.9,224.3M265.8,249.5 268.1,246.1M273.6,220.5 265.8,249.5M275.9,224.3 268.1,246.1" class="l"/>
<path d="M268.9,219.7 271.2,218.9 263.4,253.5 261.1,258.1z" class="gfc"/><path d="M268.9,219.7 271.2,218.9M261.1,258.1 263.4,253.5M268.9,219.7 261.1,258.1M271.2,218.9 263.4,253.5" class="l"/>
<path d="M532.1,349 534.5,348.3 526.7,343.1 524.3,343.4z" class="g10"/><path d="M532.1,349 534.5,348.3M524.3,343.4 526.7,343.1M534.5,348.3 526.7,343.1" class="l"/>
<path d="M314.3,300.4 316.6,305.7 308.8,305.5 306.5,300.6z" class="ga0"/><path d="M314.3,300.4 316.6,305.7M306.5,300.6 308.8,305.5M316.6,305.7 308.8,305.5" class="l"/>
<path d="M271.2,218.9 273.6,220.5 265.8,249.5 263.4,253.5z" class="gff"/><path d="M271.2,218.9 273.6,220.5M263.4,253.5 265.8,249.5M271.2,218.9 263.4,253.5M273.6,220.5 265.8,249.5" class="l"/>
<path d="M529.8,349.6 532.1,349 524.3,343.4 522,343.8z" class="g10"/><path d="M529.8,349.6 532.1,349M522,343.8 524.3,343.4M529.8,349.6 522,343.8" class="l"/>
<path d="M527.4,350.3 529.8,349.6 522,343.8 519.6,344.1z" class="g10"/><path d="M527.4,350.3 529.8,349.6M519.6,344.1 522,343.8M529.8,349.6 522,343.8" class="l"/>
<path d="M525.1,350.8 527.4,350.3 519.6,344.1 517.3,344.4z" class="g10"/><path d="M525.1,350.8 527.4,350.3M517.3,344.4 519.6,344.1M525.1,350.8 517.3,344.4" class="l"/>
<path d="M378.5,365 380.9,368.1 373.1,341.2 370.7,334.6z" class="g0"/><path d="M378.5,365 380.9,368.1M370.7,334.6 373.1,341.2M380.9,368.1 373.1,341.2" class="l"/>
<path d="M522.7,351.2 525.1,350.8 517.3,344.4 514.9,344.8z" class="gc"/><path d="M522.7,351.2 525.1,350.8M514.9,344.8 517.3,344.4M525.1,350.8 517.3,344.4" class="l"/>
<path d="M520.4,351.6 522.7,351.2 514.9,344.8 512.6,345.1z" class="gc"/><path d="M520.4,351.6 522.7,351.2M512.6,345.1 514.9,344.8M520.4,351.6 512.6,345.1" class="l"/>
<path d="M311.9,295.1 314.3,300.4 306.5,300.6 304.1,295.9z" class="ga0"/><path d="M311.9,295.1 314.3,300.4M304.1,295.9 306.5,300.6M311.9,295.1 304.1,295.9" class="l"/>
<path d="M518,352 520.4,351.6 512.6,345.1 510.2,345.5z" class="gc"/><path d="M518,352 520.4,351.6M510.2,345.5 512.6,345.1M520.4,351.6 512.6,345.1" class="l"/>
<path d="M515.7,352.4 518,352 510.2,345.5 507.9,345.4z" class="gc"/><path d="M515.7,352.4 518,352M507.9,345.4 510.2,345.5M515.7,352.4 507.9,345.4" class="l"/>
<path d="M376.2,361.8 378.5,365 370.7,334.6 368.4,331.5z" class="g0"/><path d="M376.2,361.8 378.5,365M368.4,331.5 370.7,334.6M376.2,361.8 368.4,331.5" class="l"/>
<path d="M513.3,352.7 515.7,352.4 507.9,345.4 505.5,345z" class="g8"/><path d="M513.3,352.7 515.7,352.4M505.5,345 507.9,345.4M515.7,352.4 507.9,345.4" class="l"/>
<path d="M511,353.1 513.3,352.7 505.5,345 503.2,344.6z" class="g8"/><path d="M511,353.1 513.3,352.7M503.2,344.6 505.5,345M511,353.1 503.2,344.6" class="l"/>
<path d="M309.6,290.5 311.9,295.1 304.1,295.9 301.8,291.5z" class="gbc"/><path d="M309.6,290.5 311.9,295.1M301.8,291.5 304.1,295.9M311.9,295.1 304.1,295.9" class="l"/>
<path d="M508.6,353.5 511,353.1 503.2,344.6 500.8,344.2z" class="g8"/><path d="M508.6,353.5 511,353.1M500.8,344.2 503.2,344.6M511,353.1 503.2,344.6" class="l"/>
<path d="M373.8,358.6 376.2,361.8 368.4,331.5 366,329.9z" class="gc"/><path d="M373.8,358.6 376.2,361.8M366,329.9 368.4,331.5M376.2,361.8 368.4,331.5" class="l"/>
<path d="M506.3,353.4 508.6,353.5 500.8,344.2 498.5,343.9z" class="g8"/><path d="M506.3,353.4 508.6,353.5M498.5,343.9 500.8,344.2M506.3,353.4 498.5,343.9" class="l"/>
<path d="M503.9,353 506.3,353.4 498.5,343.9 496.1,343.5z" class="gc"/><path d="M503.9,353 506.3,353.4M496.1,343.5 498.5,343.9M506.3,353.4 498.5,343.9" class="l"/>
<path d="M371.5,349.6 373.8,358.6 366,329.9 363.7,330z" class="gc"/><path d="M371.5,349.6 373.8,358.6M363.7,330 366,329.9M371.5,349.6 363.7,330" class="l"/>
<path d="M307.2,286.2 309.6,290.5 301.8,291.5 299.4,287.5z" class="gbc"/><path d="M307.2,286.2 309.6,290.5M299.4,287.5 301.8,291.5M307.2,286.2 299.4,287.5" class="l"/>
<path d="M501.6,352.5 503.9,353 496.1,343.5 493.8,343.1z" class="gc"/><path d="M501.6,352.5 503.9,353M493.8,343.1 496.1,343.5M501.6,352.5 493.8,343.1" class="l"/>
<path d="M499.2,352.1 501.6,352.5 493.8,343.1 491.4,342.6z" class="g10"/><path d="M499.2,352.1 501.6,352.5M491.4,342.6 493.8,343.1M501.6,352.5 493.8,343.1" class="l"/>
<path d="M496.9,351.6 499.2,352.1 491.4,342.6 489.1,342.1z" class="g10"/><path d="M496.9,351.6 499.2,352.1M489.1,342.1 491.4,342.6M496.9,351.6 489.1,342.1" class="l"/>
<path d="M304.9,282.3 307.2,286.2 299.4,287.5 297.1,283.5z" class="gcc"/><path d="M304.9,282.3 307.2,286.2M297.1,283.5 299.4,287.5M307.2,286.2 299.4,287.5" class="l"/>
<path d="M369.1,338.7 371.5,349.6 363.7,330 361.3,330.1z" class="g40"/><path d="M369.1,338.7 371.5,349.6M361.3,330.1 363.7,330M371.5,349.6 363.7,330" class="l"/>
<path d="M494.5,351.1 496.9,351.6 489.1,342.1 486.7,341.6z" class="g10"/><path d="M494.5,351.1 496.9,351.6M486.7,341.6 489.1,342.1M496.9,351.6 489.1,342.1" class="l"/>
<path d="M492.2,350.7 494.5,351.1 486.7,341.6 484.4,341.1z" class="g10"/><path d="M492.2,350.7 494.5,351.1M484.4,341.1 486.7,341.6M492.2,350.7 484.4,341.1" class="l"/>
<path d="M489.8,350.1 492.2,350.7 484.4,341.1 482,340.6z" class="g18"/><path d="M489.8,350.1 492.2,350.7M482,340.6 484.4,341.1M492.2,350.7 484.4,341.1" class="l"/>
<path d="M302.5,278.6 304.9,282.3 297.1,283.5 294.7,279.2z" class="gcc"/><path d="M302.5,278.6 304.9,282.3M294.7,279.2 297.1,283.5M302.5,278.6 294.7,279.2" class="l"/>
<path d="M366.8,332 369.1,338.7 361.3,330.1 359,330.2z" class="g40"/><path d="M366.8,332 369.1,338.7M359,330.2 361.3,330.1M366.8,332 359,330.2" class="l"/>
<path d="M487.5,349.5 489.8,350.1 482,340.6 479.7,340.1z" class="g18"/><path d="M487.5,349.5 489.8,350.1M479.7,340.1 482,340.6M487.5,349.5 479.7,340.1" class="l"/>
<path d="M485.1,348.8 487.5,349.5 479.7,340.1 477.3,339.5z" class="g1c"/><path d="M485.1,348.8 487.5,349.5M477.3,339.5 479.7,340.1M487.5,349.5 479.7,340.1" class="l"/>
<path d="M364.4,328.3 366.8,332 359,330.2 356.6,330.2z" class="g50"/><path d="M364.4,328.3 366.8,332M356.6,330.2 359,330.2M366.8,332 359,330.2" class="l"/>
<path d="M300.2,274.8 302.5,278.6 294.7,279.2 292.4,274z" class="gd4"/><path d="M300.2,274.8 302.5,278.6M292.4,274 294.7,279.2M302.5,278.6 294.7,279.2" class="l"/>
<path d="M482.8,348.2 485.1,348.8 477.3,339.5 475,339z" class="g1c"/><path d="M482.8,348.2 485.1,348.8M475,339 477.3,339.5M482.8,348.2 475,339" class="l"/>
<path d="M362.1,328.3 364.4,328.3 356.6,330.2 354.3,330.3z" class="g50"/><path d="M362.1,328.3 364.4,328.3M354.3,330.3 356.6,330.2M362.1,328.3 354.3,330.3" class="l"/>
<path d="M239.1,319.3 241.4,316.9 233.6,316.1 231.2,317.2z" class="g1c"/><path d="M239.1,319.3 241.4,316.9M231.2,317.2 233.6,316.1M239.1,319.3 231.2,317.2M241.4,316.9 233.6,316.1" class="l"/>
<path d="M480.4,347.6 482.8,348.2 475,339 472.6,338.3z" class="g20"/><path d="M480.4,347.6 482.8,348.2M472.6,338.3 475,339M482.8,348.2 475,339" class="l"/>
<path d="M236.7,319.5 239.1,319.3 231.2,317.2 228.9,318.4z" class="g1c"/><path d="M236.7,319.5 239.1,319.3M228.9,318.4 231.2,317.2M236.7,319.5 228.9,318.4M239.1,319.3 231.2,317.2" class="l"/>
<path d="M627,344.6 629,344.4 621.2,330.7 619.1,331.1z" class="g2c"/><path d="M627,344.6 629,344.4M619.1,331.1 621.2,330.7M627,344.6 619.1,331.1M629,344.4 621.2,330.7" class="l"/>
<path d="M359.7,328.4 362.1,328.3 354.3,330.3 351.9,330.4z" class="g50"/><path d="M359.7,328.4 362.1,328.3M351.9,330.4 354.3,330.3M362.1,328.3 354.3,330.3" class="l"/>
<path d="M234.3,319.7 236.7,319.5 228.9,318.4 226.5,319.8z" class="g1c"/><path d="M234.3,319.7 236.7,319.5M226.5,319.8 228.9,318.4M234.3,319.7 226.5,319.8M236.7,319.5 228.9,318.4" class="l"/>
<path d="M241.4,316.9 243.8,308.8 235.9,315 233.6,316.1z" class="g24"/><path d="M241.4,316.9 243.8,308.8M233.6,316.1 235.9,315M241.4,316.9 233.6,316.1M243.8,308.8 235.9,315" class="l"/>
<path d="M624.6,344.8 627,344.6 619.1,331.1 616.8,331.7z" class="g2c"/><path d="M624.6,344.8 627,344.6M616.8,331.7 619.1,331.1M627,344.6 619.1,331.1" class="l"/>
<path d="M232,320 234.3,319.7 226.5,319.8 224.2,321.1z" class="g1c"/><path d="M232,320 234.3,319.7M224.2,321.1 226.5,319.8M232,320 224.2,321.1M234.3,319.7 226.5,319.8" class="l"/>
<path d="M478.1,346.9 480.4,347.6 472.6,338.3 470.2,337.5z" class="g20"/><path d="M478.1,346.9 480.4,347.6M470.2,337.5 472.6,338.3M478.1,346.9 470.2,337.5" class="l"/>
<path d="M357.4,328.5 359.7,328.4 351.9,330.4 349.6,330.5z" class="g50"/><path d="M357.4,328.5 359.7,328.4M349.6,330.5 351.9,330.4M357.4,328.5 349.6,330.5" class="l"/>
<path d="M229.6,320.5 232,320 224.2,321.1 221.8,322.6z" class="g1c"/><path d="M229.6,320.5 232,320M221.8,322.6 224.2,321.1M229.6,320.5 221.8,322.6M232,320 224.2,321.1" class="l"/>
<path d="M622.3,345.2 624.6,344.8 616.8,331.7 614.4,332.4z" class="g2c"/><path d="M622.3,345.2 624.6,344.8M614.4,332.4 616.8,331.7M622.3,345.2 614.4,332.4" class="l"/>
<path d="M227.3,321.2 229.6,320.5 221.8,322.6 219.5,324z" class="g1c"/><path d="M227.3,321.2 229.6,320.5M219.5,324 221.8,322.6M227.3,321.2 219.5,324M229.6,320.5 221.8,322.6" class="l"/>
<path d="M224.9,322.1 227.3,321.2 219.5,324 217.1,325.4z" class="g1c"/><path d="M224.9,322.1 227.3,321.2M217.1,325.4 219.5,324M224.9,322.1 217.1,325.4M227.3,321.2 219.5,324" class="l"/>
<path d="M355,328.6 357.4,328.5 349.6,330.5 347.2,330.6z" class="g50"/><path d="M355,328.6 357.4,328.5M347.2,330.6 349.6,330.5M357.4,328.5 349.6,330.5" class="l"/>
<path d="M619.9,345.6 622.3,345.2 614.4,332.4 612.1,333.3z" class="g28"/><path d="M619.9,345.6 622.3,345.2M612.1,333.3 614.4,332.4M622.3,345.2 614.4,332.4" class="l"/>
<path d="M297.8,270.5 300.2,274.8 292.4,274 290,268.1z" class="gd4"/><path d="M297.8,270.5 300.2,274.8M290,268.1 292.4,274M297.8,270.5 290,268.1" class="l"/>
<path d="M222.6,323.1 224.9,322.1 217.1,325.4 214.8,326.9z" class="g1c"/><path d="M222.6,323.1 224.9,322.1M214.8,326.9 217.1,325.4M222.6,323.1 214.8,326.9M224.9,322.1 217.1,325.4" class="l"/>
<path d="M475.7,346.3 478.1,346.9 470.2,337.5 467.9,336.8z" class="g24"/><path d="M475.7,346.3 478.1,346.9M467.9,336.8 470.2,337.5M478.1,346.9 470.2,337.5" class="l"/>
<path d="M220.2,324.2 222.6,323.1 214.8,326.9 212.4,328.2z" class="g1c"/><path d="M220.2,324.2 222.6,323.1M212.4,328.2 214.8,326.9M220.2,324.2 212.4,328.2M222.6,323.1 214.8,326.9" class="l"/>
<path d="M617.5,346 619.9,345.6 612.1,333.3 609.7,334.3z" class="g28"/><path d="M617.5,346 619.9,345.6M609.7,334.3 612.1,333.3M617.5,346 609.7,334.3" class="l"/>
<path d="M217.9,325.4 220.2,324.2 212.4,328.2 210.1,329.6z" class="g1c"/><path d="M217.9,325.4 220.2,324.2M210.1,329.6 212.4,328.2M217.9,325.4 210.1,329.6M220.2,324.2 212.4,328.2" class="l"/>
<path d="M215.5,326.7 217.9,325.4 210.1,329.6 207.7,330.8z" class="g1c"/><path d="M215.5,326.7 217.9,325.4M207.7,330.8 210.1,329.6M215.5,326.7 207.7,330.8M217.9,325.4 210.1,329.6" class="l"/>
<path d="M352.7,328.6 355,328.6 347.2,330.6 344.9,330.6z" class="g50"/><path d="M352.7,328.6 355,328.6M344.9,330.6 347.2,330.6M352.7,328.6 344.9,330.6" class="l"/>
<path d="M213.2,328.1 215.5,326.7 207.7,330.8 205.4,332z" class="g1c"/><path d="M213.2,328.1 215.5,326.7M205.4,332 207.7,330.8M213.2,328.1 205.4,332M215.5,326.7 207.7,330.8" class="l"/>
<path d="M615.2,346.4 617.5,346 609.7,334.3 607.4,335.3z" class="g28"/><path d="M615.2,346.4 617.5,346M607.4,335.3 609.7,334.3M617.5,346 609.7,334.3" class="l"/>
<path d="M210.8,329.5 213.2,328.1 205.4,332 203,333.1z" class="g1c"/><path d="M210.8,329.5 213.2,328.1M203,333.1 205.4,332M210.8,329.5 203,333.1M213.2,328.1 205.4,332" class="l"/>
<path d="M243.8,308.8 246.1,291.1 238.3,314.1 235.9,315z" class="g24"/><path d="M243.8,308.8 246.1,291.1M235.9,315 238.3,314.1M243.8,308.8 235.9,315M246.1,291.1 238.3,314.1" class="l"/>
<path d="M208.5,330.9 210.8,329.5 203,333.1 200.7,334z" class="g1c"/><path d="M208.5,330.9 210.8,329.5M200.7,334 203,333.1M208.5,330.9 200.7,334M210.8,329.5 203,333.1" class="l"/>
<path d="M612.8,346.8 615.2,346.4 607.4,335.3 605,336.4z" class="g28"/><path d="M612.8,346.8 615.2,346.4M605,336.4 607.4,335.3M612.8,346.8 605,336.4" class="l"/>
<path d="M473.4,345.7 475.7,346.3 467.9,336.8 465.5,336z" class="g24"/><path d="M473.4,345.7 475.7,346.3M465.5,336 467.9,336.8M473.4,345.7 465.5,336" class="l"/>
<path d="M350.3,328.7 352.7,328.6 344.9,330.6 342.5,330.7z" class="g50"/><path d="M350.3,328.7 352.7,328.6M342.5,330.7 344.9,330.6M352.7,328.6 344.9,330.6" class="l"/>
<path d="M206.1,332.3 208.5,330.9 200.7,334 198.3,334.8z" class="g1c"/><path d="M206.1,332.3 208.5,330.9M198.3,334.8 200.7,334M206.1,332.3 198.3,334.8M208.5,330.9 200.7,334" class="l"/>
<path d="M203.8,333.8 206.1,332.3 198.3,334.8 196,335.4z" class="g1c"/><path d="M203.8,333.8 206.1,332.3M196,335.4 198.3,334.8M203.8,333.8 196,335.4M206.1,332.3 198.3,334.8" class="l"/>
<path d="M610.5,347.2 612.8,346.8 605,336.4 602.7,337.4z" class="g24"/><path d="M610.5,347.2 612.8,346.8M602.7,337.4 605,336.4M612.8,346.8 605,336.4" class="l"/>
<path d="M201.4,335.2 203.8,333.8 196,335.4 193.6,335.9z" class="g1c"/><path d="M201.4,335.2 203.8,333.8M193.6,335.9 196,335.4M201.4,335.2 193.6,335.9M203.8,333.8 196,335.4" class="l"/>
<path d="M348,328.8 350.3,328.7 342.5,330.7 340.2,330.8z" class="g50"/><path d="M348,328.8 350.3,328.7M340.2,330.8 342.5,330.7M348,328.8 340.2,330.8" class="l"/>
<path d="M608.1,347.6 610.5,347.2 602.7,337.4 600.3,338.3z" class="g24"/><path d="M608.1,347.6 610.5,347.2M600.3,338.3 602.7,337.4M608.1,347.6 600.3,338.3" class="l"/>
<path d="M199.1,336.5 201.4,335.2 193.6,335.9 191.3,336.1z" class="g1c"/><path d="M199.1,336.5 201.4,335.2M191.3,336.1 193.6,335.9M199.1,336.5 191.3,336.1M201.4,335.2 193.6,335.9" class="l"/>
<path d="M471,344.8 473.4,345.7 465.5,336 463.2,335.2z" class="g28"/><path d="M471,344.8 473.4,345.7M463.2,335.2 465.5,336M473.4,345.7 465.5,336" class="l"/>
<path d="M605.8,348 608.1,347.6 600.3,338.3 598,339.2z" class="g24"/><path d="M605.8,348 608.1,347.6M598,339.2 600.3,338.3M608.1,347.6 600.3,338.3" class="l"/>
<path d="M196.7,337.8 199.1,336.5 191.3,336.1 188.9,336.2z" class="g1c"/><path d="M196.7,337.8 199.1,336.5M188.9,336.2 191.3,336.1M196.7,337.8 188.9,336.2M199.1,336.5 191.3,336.1" class="l"/>
<path d="M345.6,328.9 348,328.8 340.2,330.8 337.8,330.9z" class="g50"/><path d="M345.6,328.9 348,328.8M337.8,330.9 340.2,330.8M348,328.8 340.2,330.8" class="l"/>
<path d="M603.4,348.3 605.8,348 598,339.2 595.6,340z" class="g24"/><path d="M603.4,348.3 605.8,348M595.6,340 598,339.2M603.4,348.3 595.6,340" class="l"/>
<path d="M194.4,338.4 196.7,337.8 188.9,336.2 186.6,336.3z" class="g1c"/><path d="M194.4,338.4 196.7,337.8M186.6,336.3 188.9,336.2M194.4,338.4 186.6,336.3M196.7,337.8 188.9,336.2" class="l"/>
<path d="M295.5,264.9 297.8,270.5 290,268.1 287.7,261.6z" class="ge0"/><path d="M295.5,264.9 297.8,270.5M287.7,261.6 290,268.1M297.8,270.5 290,268.1" class="l"/>
<path d="M468.7,343.9 471,344.8 463.2,335.2 460.8,335z" class="g28"/><path d="M468.7,343.9 471,344.8M460.8,335 463.2,335.2M468.7,343.9 460.8,335" class="l"/>
<path d="M343.3,328.9 345.6,328.9 337.8,330.9 335.5,330.9z" class="g50"/><path d="M343.3,328.9 345.6,328.9M335.5,330.9 337.8,330.9M343.3,328.9 335.5,330.9" class="l"/>
<path d="M601.1,348.6 603.4,348.3 595.6,340 593.3,340.7z" class="g20"/><path d="M601.1,348.6 603.4,348.3M593.3,340.7 595.6,340M603.4,348.3 595.6,340" class="l"/>
<path d="M192,338.5 194.4,338.4 186.6,336.3 184.2,336.3z" class="g1c"/><path d="M192,338.5 194.4,338.4M184.2,336.3 186.6,336.3M192,338.5 184.2,336.3M194.4,338.4 186.6,336.3" class="l"/>
<path d="M598.7,348.9 601.1,348.6 593.3,340.7 590.9,341.3z" class="g20"/><path d="M598.7,348.9 601.1,348.6M590.9,341.3 593.3,340.7M598.7,348.9 590.9,341.3" class="l"/>
<path d="M340.9,329 343.3,328.9 335.5,330.9 333.1,331z" class="g50"/><path d="M340.9,329 343.3,328.9M333.1,331 335.5,330.9M343.3,328.9 335.5,330.9" class="l"/>
<path d="M466.3,342.9 468.7,343.9 460.8,335 458.5,334.8z" class="g30"/><path d="M466.3,342.9 468.7,343.9M458.5,334.8 460.8,335M468.7,343.9 460.8,335" class="l"/>
<path d="M189.7,338.6 192,338.5 184.2,336.3 181.9,336.4z" class="g1c"/><path d="M189.7,338.6 192,338.5M181.9,336.4 184.2,336.3M189.7,338.6 181.9,336.4M192,338.5 184.2,336.3" class="l"/>
<path d="M596.4,349.1 598.7,348.9 590.9,341.3 588.6,341.8z" class="g20"/><path d="M596.4,349.1 598.7,348.9M588.6,341.8 590.9,341.3M598.7,348.9 590.9,341.3" class="l"/>
<path d="M594,349.3 596.4,349.1 588.6,341.8 586.2,342.2z" class="g20"/><path d="M594,349.3 596.4,349.1M586.2,342.2 588.6,341.8M594,349.3 586.2,342.2" class="l"/>
<path d="M187.3,338.7 189.7,338.6 181.9,336.4 179.5,336.5z" class="g1c"/><path d="M187.3,338.7 189.7,338.6M179.5,336.5 181.9,336.4M187.3,338.7 179.5,336.5M189.7,338.6 181.9,336.4" class="l"/>
<path d="M338.6,327.9 340.9,329 333.1,331 330.8,328.8z" class="g50"/><path d="M338.6,327.9 340.9,329M330.8,328.8 333.1,331M338.6,327.9 330.8,328.8" class="l"/>
<path d="M246.1,291.1 248.5,267 240.6,312.6 238.3,314.1z" class="g7c"/><path d="M246.1,291.1 248.5,267M238.3,314.1 240.6,312.6M246.1,291.1 238.3,314.1M248.5,267 240.6,312.6" class="l"/>
<path d="M463.9,342 466.3,342.9 458.5,334.8 456.1,334.5z" class="g30"/><path d="M463.9,342 466.3,342.9M456.1,334.5 458.5,334.8M463.9,342 456.1,334.5" class="l"/>
<path d="M591.7,349.5 594,349.3 586.2,342.2 583.9,342.5z" class="g20"/><path d="M591.7,349.5 594,349.3M583.9,342.5 586.2,342.2M594,349.3 586.2,342.2" class="l"/>
<path d="M185,338.7 187.3,338.7 179.5,336.5 177.2,336.6z" class="g1c"/><path d="M185,338.7 187.3,338.7M177.2,336.6 179.5,336.5M185,338.7 177.2,336.6M187.3,338.7 179.5,336.5" class="l"/>
<path d="M589.3,349.6 591.7,349.5 583.9,342.5 581.5,342.8z" class="g20"/><path d="M589.3,349.6 591.7,349.5M581.5,342.8 583.9,342.5M589.3,349.6 581.5,342.8" class="l"/>
<path d="M461.6,341 463.9,342 456.1,334.5 453.8,334.3z" class="g34"/><path d="M461.6,341 463.9,342M453.8,334.3 456.1,334.5M463.9,342 456.1,334.5" class="l"/>
<path d="M405.2,380.6 407.5,378.5 399.7,374.1 397.4,374z" class="g0"/><path d="M405.2,380.6 407.5,378.5M397.4,374 399.7,374.1M407.5,378.5 399.7,374.1" class="l"/>
<path d="M407.5,378.5 409.9,375.3 402.1,372.3 399.7,374.1z" class="g0"/><path d="M407.5,378.5 409.9,375.3M399.7,374.1 402.1,372.3M407.5,378.5 399.7,374.1" class="l"/>
<path d="M293.1,258.5 295.5,264.9 287.7,261.6 285.3,254.4z" class="ge0"/><path d="M293.1,258.5 295.5,264.9M285.3,254.4 287.7,261.6M293.1,258.5 285.3,254.4" class="l"/>
<path d="M587,349.8 589.3,349.6 581.5,342.8 579.2,343z" class="g20"/><path d="M587,349.8 589.3,349.6M579.2,343 581.5,342.8M589.3,349.6 581.5,342.8" class="l"/>
<path d="M402.8,382.7 405.2,380.6 397.4,374 395,373.3z" class="g0"/><path d="M402.8,382.7 405.2,380.6M395,373.3 397.4,374M402.8,382.7 395,373.3" class="l"/>
<path d="M336.2,324.4 338.6,327.9 330.8,328.8 328.4,324.7z" class="g68"/><path d="M336.2,324.4 338.6,327.9M328.4,324.7 330.8,328.8M338.6,327.9 330.8,328.8" class="l"/>
<path d="M459.2,340.7 461.6,341 453.8,334.3 451.4,334.1z" class="g34"/><path d="M459.2,340.7 461.6,341M451.4,334.1 453.8,334.3M459.2,340.7 451.4,334.1" class="l"/>
<path d="M409.9,375.3 412.2,370.4 404.4,370.5 402.1,372.3z" class="g0"/><path d="M409.9,375.3 412.2,370.4M402.1,372.3 404.4,370.5M412.2,370.4 404.4,370.5" class="l"/>
<path d="M400.5,384.8 402.8,382.7 395,373.3 392.7,372.6z" class="g0"/><path d="M400.5,384.8 402.8,382.7M392.7,372.6 395,373.3M402.8,382.7 395,373.3" class="l"/>
<path d="M584.6,349.9 587,349.8 579.2,343 576.8,343.2z" class="g20"/><path d="M584.6,349.9 587,349.8M576.8,343.2 579.2,343M584.6,349.9 576.8,343.2" class="l"/>
<path d="M398.1,386.9 400.5,384.8 392.7,372.6 390.3,371.8z" class="g0"/><path d="M398.1,386.9 400.5,384.8M390.3,371.8 392.7,372.6M398.1,386.9 390.3,371.8" class="l"/>
<path d="M412.2,370.4 414.6,365.5 406.8,368.7 404.4,370.5z" class="g0"/><path d="M412.2,370.4 414.6,365.5M404.4,370.5 406.8,368.7M412.2,370.4 404.4,370.5" class="l"/>
<path d="M456.9,340.4 459.2,340.7 451.4,334.1 449.1,333.9z" class="g38"/><path d="M456.9,340.4 459.2,340.7M449.1,333.9 451.4,334.1M459.2,340.7 451.4,334.1" class="l"/>
<path d="M582.3,350 584.6,349.9 576.8,343.2 574.5,343.4z" class="g20"/><path d="M582.3,350 584.6,349.9M574.5,343.4 576.8,343.2M584.6,349.9 576.8,343.2" class="l"/>
<path d="M395.8,387 398.1,386.9 390.3,371.8 387.9,371.1z" class="g0"/><path d="M395.8,387 398.1,386.9M387.9,371.1 390.3,371.8M398.1,386.9 390.3,371.8" class="l"/>
<path d="M414.6,365.5 416.9,360.6 409.1,366.9 406.8,368.7z" class="g0"/><path d="M414.6,365.5 416.9,360.6M406.8,368.7 409.1,366.9M416.9,360.6 409.1,366.9" class="l"/>
<path d="M454.5,340.2 456.9,340.4 449.1,333.9 446.7,333.7z" class="g38"/><path d="M454.5,340.2 456.9,340.4M446.7,333.7 449.1,333.9M454.5,340.2 446.7,333.7" class="l"/>
<path d="M579.9,350.1 582.3,350 574.5,343.4 572.1,343.5z" class="g20"/><path d="M579.9,350.1 582.3,350M572.1,343.5 574.5,343.4M579.9,350.1 572.1,343.5" class="l"/>
<path d="M333.9,321.2 336.2,324.4 328.4,324.7 326.1,321.2z" class="g68"/><path d="M333.9,321.2 336.2,324.4M326.1,321.2 328.4,324.7M333.9,321.2 326.1,321.2" class="l"/>
<path d="M416.9,360.6 419.3,356.9 411.5,364.4 409.1,366.9z" class="g0"/><path d="M416.9,360.6 419.3,356.9M409.1,366.9 411.5,364.4M416.9,360.6 409.1,366.9" class="l"/>
<path d="M393.4,386.1 395.8,387 387.9,371.1 385.6,370.4z" class="g0"/><path d="M393.4,386.1 395.8,387M385.6,370.4 387.9,371.1M393.4,386.1 385.6,370.4" class="l"/>
<path d="M577.6,350.2 579.9,350.1 572.1,343.5 569.8,343.7z" class="g20"/><path d="M577.6,350.2 579.9,350.1M569.8,343.7 572.1,343.5M579.9,350.1 572.1,343.5" class="l"/>
<path d="M452.2,339.9 454.5,340.2 446.7,333.7 444.4,333.4z" class="g38"/><path d="M452.2,339.9 454.5,340.2M444.4,333.4 446.7,333.7M454.5,340.2 446.7,333.7" class="l"/>
<path d="M248.5,267 250.8,246.7 243,309.2 240.6,312.6z" class="g7c"/><path d="M248.5,267 250.8,246.7M240.6,312.6 243,309.2M248.5,267 240.6,312.6M250.8,246.7 243,309.2" class="l"/>
<path d="M419.3,356.9 421.6,353.5 413.8,360.3 411.5,364.4z" class="g0"/><path d="M419.3,356.9 421.6,353.5M411.5,364.4 413.8,360.3M421.6,353.5 413.8,360.3" class="l"/>
<path d="M575.2,350.3 577.6,350.2 569.8,343.7 567.4,343.8z" class="g20"/><path d="M575.2,350.3 577.6,350.2M567.4,343.8 569.8,343.7M575.2,350.3 567.4,343.8" class="l"/>
<path d="M391.1,385.2 393.4,386.1 385.6,370.4 383.2,369.7z" class="g0"/><path d="M391.1,385.2 393.4,386.1M383.2,369.7 385.6,370.4M393.4,386.1 385.6,370.4" class="l"/>
<path d="M290.8,251.6 293.1,258.5 285.3,254.4 283,246.8z" class="gec"/><path d="M290.8,251.6 293.1,258.5M283,246.8 285.3,254.4M293.1,258.5 285.3,254.4" class="l"/>
<path d="M449.8,339.6 452.2,339.9 444.4,333.4 442,333.3z" class="g38"/><path d="M449.8,339.6 452.2,339.9M442,333.3 444.4,333.4M449.8,339.6 442,333.3" class="l"/>
<path d="M572.9,350.4 575.2,350.3 567.4,343.8 565.1,344z" class="g20"/><path d="M572.9,350.4 575.2,350.3M565.1,344 567.4,343.8M575.2,350.3 567.4,343.8" class="l"/>
<path d="M421.6,353.5 424,350.1 416.2,356.2 413.8,360.3z" class="g10"/><path d="M421.6,353.5 424,350.1M413.8,360.3 416.2,356.2M421.6,353.5 413.8,360.3" class="l"/>
<path d="M447.5,339.3 449.8,339.6 442,333.3 439.7,334.5z" class="g38"/><path d="M447.5,339.3 449.8,339.6M439.7,334.5 442,333.3M449.8,339.6 442,333.3" class="l"/>
<path d="M331.5,317.9 333.9,321.2 326.1,321.2 323.7,318z" class="g7c"/><path d="M331.5,317.9 333.9,321.2M323.7,318 326.1,321.2M333.9,321.2 326.1,321.2" class="l"/>
<path d="M570.5,350.4 572.9,350.4 565.1,344 562.7,344.1z" class="g20"/><path d="M570.5,350.4 572.9,350.4M562.7,344.1 565.1,344M570.5,350.4 562.7,344.1" class="l"/>
<path d="M388.7,384.4 391.1,385.2 383.2,369.7 380.9,368.1z" class="g0"/><path d="M388.7,384.4 391.1,385.2M380.9,368.1 383.2,369.7M388.7,384.4 380.9,368.1" class="l"/>
<path d="M445.1,339 447.5,339.3 439.7,334.5 437.3,335.6z" class="g38"/><path d="M445.1,339 447.5,339.3M437.3,335.6 439.7,334.5M445.1,339 437.3,335.6" class="l"/>
<path d="M424,350.1 426.3,346.8 418.5,352.1 416.2,356.2z" class="g10"/><path d="M424,350.1 426.3,346.8M416.2,356.2 418.5,352.1M426.3,346.8 418.5,352.1" class="l"/>
<path d="M568.2,350.6 570.5,350.4 562.7,344.1 560.4,344.3z" class="g20"/><path d="M568.2,350.6 570.5,350.4M560.4,344.3 562.7,344.1M570.5,350.4 562.7,344.1" class="l"/>
<path d="M442.8,338.8 445.1,339 437.3,335.6 435,336.7z" class="g3c"/><path d="M442.8,338.8 445.1,339M435,336.7 437.3,335.6M445.1,339 437.3,335.6" class="l"/>
<path d="M426.3,346.8 428.7,345.3 420.9,348.8 418.5,352.1z" class="g24"/><path d="M426.3,346.8 428.7,345.3M418.5,352.1 420.9,348.8M426.3,346.8 418.5,352.1" class="l"/>
<path d="M440.4,338.5 442.8,338.8 435,336.7 432.6,337.9z" class="g3c"/><path d="M440.4,338.5 442.8,338.8M432.6,337.9 435,336.7M440.4,338.5 432.6,337.9" class="l"/>
<path d="M428.7,345.3 431,343.9 423.2,346 420.9,348.8z" class="g24"/><path d="M428.7,345.3 431,343.9M420.9,348.8 423.2,346M431,343.9 423.2,346" class="l"/>
<path d="M565.8,350.7 568.2,350.6 560.4,344.3 558,344.4z" class="g20"/><path d="M565.8,350.7 568.2,350.6M558,344.4 560.4,344.3M565.8,350.7 558,344.4" class="l"/>
<path d="M386.4,383.5 388.7,384.4 380.9,368.1 378.5,365z" class="g0"/><path d="M386.4,383.5 388.7,384.4M378.5,365 380.9,368.1M388.7,384.4 380.9,368.1" class="l"/>
<path d="M431,343.9 433.4,342.6 425.6,343.2 423.2,346z" class="g2c"/><path d="M431,343.9 433.4,342.6M423.2,346 425.6,343.2M431,343.9 423.2,346" class="l"/>
<path d="M438.1,339.9 440.4,338.5 432.6,337.9 430.3,339z" class="g34"/><path d="M438.1,339.9 440.4,338.5M430.3,339 432.6,337.9M440.4,338.5 432.6,337.9" class="l"/>
<path d="M433.4,342.6 435.7,341.2 427.9,340.4 425.6,343.2z" class="g2c"/><path d="M433.4,342.6 435.7,341.2M425.6,343.2 427.9,340.4M435.7,341.2 427.9,340.4" class="l"/>
<path d="M435.7,341.2 438.1,339.9 430.3,339 427.9,340.4z" class="g34"/><path d="M435.7,341.2 438.1,339.9M427.9,340.4 430.3,339M435.7,341.2 427.9,340.4" class="l"/>
<path d="M563.5,350.9 565.8,350.7 558,344.4 555.7,344.6z" class="g20"/><path d="M563.5,350.9 565.8,350.7M555.7,344.6 558,344.4M565.8,350.7 558,344.4" class="l"/>
<path d="M329.2,314 331.5,317.9 323.7,318 321.4,314.4z" class="g7c"/><path d="M329.2,314 331.5,317.9M321.4,314.4 323.7,318M329.2,314 321.4,314.4" class="l"/>
<path d="M250.8,246.7 253.2,235 245.3,301.7 243,309.2z" class="ge4"/><path d="M250.8,246.7 253.2,235M243,309.2 245.3,301.7M250.8,246.7 243,309.2M253.2,235 245.3,301.7" class="l"/>
<path d="M561.1,351 563.5,350.9 555.7,344.6 553.3,344.7z" class="g20"/><path d="M561.1,351 563.5,350.9M553.3,344.7 555.7,344.6M561.1,351 553.3,344.7" class="l"/>
<path d="M288.4,244.6 290.8,251.6 283,246.8 280.6,238.8z" class="gec"/><path d="M288.4,244.6 290.8,251.6M280.6,238.8 283,246.8M288.4,244.6 280.6,238.8" class="l"/>
<path d="M384,382.6 386.4,383.5 378.5,365 376.2,361.8z" class="g0"/><path d="M384,382.6 386.4,383.5M376.2,361.8 378.5,365M384,382.6 376.2,361.8" class="l"/>
<path d="M558.8,351.1 561.1,351 553.3,344.7 551,344.8z" class="g20"/><path d="M558.8,351.1 561.1,351M551,344.8 553.3,344.7M561.1,351 553.3,344.7" class="l"/>
<path d="M556.4,351.3 558.8,351.1 551,344.8 548.6,345z" class="g20"/><path d="M556.4,351.3 558.8,351.1M548.6,345 551,344.8M556.4,351.3 548.6,345" class="l"/>
<path d="M554.1,351.4 556.4,351.3 548.6,345 546.2,345.1z" class="g20"/><path d="M554.1,351.4 556.4,351.3M546.2,345.1 548.6,345M556.4,351.3 548.6,345" class="l"/>
<path d="M326.8,309.7 329.2,314 321.4,314.4 319,310.4z" class="g98"/><path d="M326.8,309.7 329.2,314M319,310.4 321.4,314.4M329.2,314 321.4,314.4" class="l"/>
<path d="M381.6,381.7 384,382.6 376.2,361.8 373.8,358.6z" class="g0"/><path d="M381.6,381.7 384,382.6M373.8,358.6 376.2,361.8M384,382.6 376.2,361.8" class="l"/>
<path d="M551.7,351.6 554.1,351.4 546.2,345.1 543.9,345.6z" class="g20"/><path d="M551.7,351.6 554.1,351.4M543.9,345.6 546.2,345.1M551.7,351.6 543.9,345.6" class="l"/>
<path d="M253.2,235 255.5,227.2 247.7,290.2 245.3,301.7z" class="ge4"/><path d="M253.2,235 255.5,227.2M245.3,301.7 247.7,290.2M253.2,235 245.3,301.7M255.5,227.2 247.7,290.2" class="l"/>
<path d="M549.4,351.7 551.7,351.6 543.9,345.6 541.5,346.3z" class="g20"/><path d="M549.4,351.7 551.7,351.6M541.5,346.3 543.9,345.6M551.7,351.6 543.9,345.6" class="l"/>
<path d="M547,351.9 549.4,351.7 541.5,346.3 539.2,347z" class="g20"/><path d="M547,351.9 549.4,351.7M539.2,347 541.5,346.3M547,351.9 539.2,347" class="l"/>
<path d="M544.7,352 547,351.9 539.2,347 536.8,347.6z" class="g1c"/><path d="M544.7,352 547,351.9M536.8,347.6 539.2,347M547,351.9 539.2,347" class="l"/>
<path d="M286.1,237.6 288.4,244.6 280.6,238.8 278.3,230.6z" class="gfc"/><path d="M286.1,237.6 288.4,244.6M278.3,230.6 280.6,238.8M288.4,244.6 280.6,238.8" class="l"/>
<path d="M379.3,380 381.6,381.7 373.8,358.6 371.5,349.6z" class="g0"/><path d="M379.3,380 381.6,381.7M371.5,349.6 373.8,358.6M379.3,380 371.5,349.6" class="l"/>
<path d="M324.5,305 326.8,309.7 319,310.4 316.6,305.7z" class="g98"/><path d="M324.5,305 326.8,309.7M316.6,305.7 319,310.4M324.5,305 316.6,305.7" class="l"/>
<path d="M542.3,352.6 544.7,352 536.8,347.6 534.5,348.3z" class="g1c"/><path d="M542.3,352.6 544.7,352M534.5,348.3 536.8,347.6M542.3,352.6 534.5,348.3" class="l"/>
<path d="M540,353.3 542.3,352.6 534.5,348.3 532.1,349z" class="g18"/><path d="M540,353.3 542.3,352.6M532.1,349 534.5,348.3M542.3,352.6 534.5,348.3" class="l"/>
<path d="M537.6,354 540,353.3 532.1,349 529.8,349.6z" class="g18"/><path d="M537.6,354 540,353.3M529.8,349.6 532.1,349M537.6,354 529.8,349.6" class="l"/>
<path d="M535.2,354.8 537.6,354 529.8,349.6 527.4,350.3z" class="g14"/><path d="M535.2,354.8 537.6,354M527.4,350.3 529.8,349.6M537.6,354 529.8,349.6" class="l"/>
<path d="M532.9,355.5 535.2,354.8 527.4,350.3 525.1,350.8z" class="g14"/><path d="M532.9,355.5 535.2,354.8M525.1,350.8 527.4,350.3M532.9,355.5 525.1,350.8" class="l"/>
<path d="M530.5,356.3 532.9,355.5 525.1,350.8 522.7,351.2z" class="g10"/><path d="M530.5,356.3 532.9,355.5M522.7,351.2 525.1,350.8M532.9,355.5 525.1,350.8" class="l"/>
<path d="M255.5,227.2 257.9,219.8 250.1,274.7 247.7,290.2z" class="gfc"/><path d="M255.5,227.2 257.9,219.8M247.7,290.2 250.1,274.7M255.5,227.2 247.7,290.2M257.9,219.8 250.1,274.7" class="l"/>
<path d="M528.2,357 530.5,356.3 522.7,351.2 520.4,351.6z" class="g10"/><path d="M528.2,357 530.5,356.3M520.4,351.6 522.7,351.2M528.2,357 520.4,351.6" class="l"/>
<path d="M322.1,299.2 324.5,305 316.6,305.7 314.3,300.4z" class="gbc"/><path d="M322.1,299.2 324.5,305M314.3,300.4 316.6,305.7M324.5,305 316.6,305.7" class="l"/>
<path d="M525.8,357.8 528.2,357 520.4,351.6 518,352z" class="gc"/><path d="M525.8,357.8 528.2,357M518,352 520.4,351.6M528.2,357 520.4,351.6" class="l"/>
<path d="M376.9,376.2 379.3,380 371.5,349.6 369.1,338.7z" class="g0"/><path d="M376.9,376.2 379.3,380M369.1,338.7 371.5,349.6M379.3,380 371.5,349.6" class="l"/>
<path d="M283.7,230 286.1,237.6 278.3,230.6 275.9,224.3z" class="gfc"/><path d="M283.7,230 286.1,237.6M275.9,224.3 278.3,230.6M283.7,230 275.9,224.3" class="l"/>
<path d="M523.5,358.3 525.8,357.8 518,352 515.7,352.4z" class="gc"/><path d="M523.5,358.3 525.8,357.8M515.7,352.4 518,352M523.5,358.3 515.7,352.4" class="l"/>
<path d="M521.1,358.8 523.5,358.3 515.7,352.4 513.3,352.7z" class="gc"/><path d="M521.1,358.8 523.5,358.3M513.3,352.7 515.7,352.4M523.5,358.3 515.7,352.4" class="l"/>
<path d="M518.8,359.2 521.1,358.8 513.3,352.7 511,353.1z" class="gc"/><path d="M518.8,359.2 521.1,358.8M511,353.1 513.3,352.7M518.8,359.2 511,353.1" class="l"/>
<path d="M516.4,359.6 518.8,359.2 511,353.1 508.6,353.5z" class="g8"/><path d="M516.4,359.6 518.8,359.2M508.6,353.5 511,353.1M518.8,359.2 511,353.1" class="l"/>
<path d="M514.1,360 516.4,359.6 508.6,353.5 506.3,353.4z" class="g8"/><path d="M514.1,360 516.4,359.6M506.3,353.4 508.6,353.5M514.1,360 506.3,353.4" class="l"/>
<path d="M319.8,293.2 322.1,299.2 314.3,300.4 311.9,295.1z" class="gbc"/><path d="M319.8,293.2 322.1,299.2M311.9,295.1 314.3,300.4M319.8,293.2 311.9,295.1" class="l"/>
<path d="M257.9,219.8 260.2,211.6 252.4,261 250.1,274.7z" class="gfc"/><path d="M257.9,219.8 260.2,211.6M250.1,274.7 252.4,261M257.9,219.8 250.1,274.7M260.2,211.6 252.4,261" class="l"/>
<path d="M511.7,360.5 514.1,360 506.3,353.4 503.9,353z" class="g8"/><path d="M511.7,360.5 514.1,360M503.9,353 506.3,353.4M514.1,360 506.3,353.4" class="l"/>
<path d="M374.6,372.4 376.9,376.2 369.1,338.7 366.8,332z" class="g0"/><path d="M374.6,372.4 376.9,376.2M366.8,332 369.1,338.7M374.6,372.4 366.8,332" class="l"/>
<path d="M281.4,221.4 283.7,230 275.9,224.3 273.6,220.5z" class="gf4"/><path d="M281.4,221.4 283.7,230M273.6,220.5 275.9,224.3M283.7,230 275.9,224.3" class="l"/>
<path d="M509.4,360.9 511.7,360.5 503.9,353 501.6,352.5z" class="g8"/><path d="M509.4,360.9 511.7,360.5M501.6,352.5 503.9,353M509.4,360.9 501.6,352.5" class="l"/>
<path d="M507,361.3 509.4,360.9 501.6,352.5 499.2,352.1z" class="g8"/><path d="M507,361.3 509.4,360.9M499.2,352.1 501.6,352.5M509.4,360.9 501.6,352.5" class="l"/>
<path d="M504.7,361.3 507,361.3 499.2,352.1 496.9,351.6z" class="g8"/><path d="M504.7,361.3 507,361.3M496.9,351.6 499.2,352.1M504.7,361.3 496.9,351.6" class="l"/>
<path d="M317.4,288.1 319.8,293.2 311.9,295.1 309.6,290.5z" class="gcc"/><path d="M317.4,288.1 319.8,293.2M309.6,290.5 311.9,295.1M319.8,293.2 311.9,295.1" class="l"/>
<path d="M372.2,368.6 374.6,372.4 366.8,332 364.4,328.3z" class="g8"/><path d="M372.2,368.6 374.6,372.4M364.4,328.3 366.8,332M374.6,372.4 366.8,332" class="l"/>
<path d="M502.3,360.8 504.7,361.3 496.9,351.6 494.5,351.1z" class="g8"/><path d="M502.3,360.8 504.7,361.3M494.5,351.1 496.9,351.6M504.7,361.3 496.9,351.6" class="l"/>
<path d="M260.2,211.6 262.6,204.2 254.8,251.5 252.4,261z" class="gf4"/><path d="M260.2,211.6 262.6,204.2M252.4,261 254.8,251.5M260.2,211.6 252.4,261M262.6,204.2 254.8,251.5" class="l"/>
<path d="M279,211.9 281.4,221.4 273.6,220.5 271.2,218.9z" class="gf4"/><path d="M279,211.9 281.4,221.4M271.2,218.9 273.6,220.5M279,211.9 271.2,218.9" class="l"/>
<path d="M500,360.2 502.3,360.8 494.5,351.1 492.2,350.7z" class="g8"/><path d="M500,360.2 502.3,360.8M492.2,350.7 494.5,351.1M500,360.2 492.2,350.7" class="l"/>
<path d="M497.6,359.7 500,360.2 492.2,350.7 489.8,350.1z" class="gc"/><path d="M497.6,359.7 500,360.2M489.8,350.1 492.2,350.7M500,360.2 492.2,350.7" class="l"/>
<path d="M315.1,283.6 317.4,288.1 309.6,290.5 307.2,286.2z" class="gcc"/><path d="M315.1,283.6 317.4,288.1M307.2,286.2 309.6,290.5M315.1,283.6 307.2,286.2" class="l"/>
<path d="M369.9,358.4 372.2,368.6 364.4,328.3 362.1,328.3z" class="g8"/><path d="M369.9,358.4 372.2,368.6M362.1,328.3 364.4,328.3M369.9,358.4 362.1,328.3" class="l"/>
<path d="M495.3,359.2 497.6,359.7 489.8,350.1 487.5,349.5z" class="gc"/><path d="M495.3,359.2 497.6,359.7M487.5,349.5 489.8,350.1M495.3,359.2 487.5,349.5" class="l"/>
<path d="M262.6,204.2 264.9,198.2 257.1,245 254.8,251.5z" class="gf4"/><path d="M262.6,204.2 264.9,198.2M254.8,251.5 257.1,245M262.6,204.2 254.8,251.5M264.9,198.2 257.1,245" class="l"/>
<path d="M276.7,203.5 279,211.9 271.2,218.9 268.9,219.7z" class="gc8"/><path d="M276.7,203.5 279,211.9M268.9,219.7 271.2,218.9M279,211.9 271.2,218.9" class="l"/>
<path d="M492.9,358.6 495.3,359.2 487.5,349.5 485.1,348.8z" class="g10"/><path d="M492.9,358.6 495.3,359.2M485.1,348.8 487.5,349.5M495.3,359.2 487.5,349.5" class="l"/>
<path d="M264.9,198.2 267.3,194.9 259.5,239.1 257.1,245z" class="gcc"/><path d="M264.9,198.2 267.3,194.9M257.1,245 259.5,239.1M264.9,198.2 257.1,245M267.3,194.9 259.5,239.1" class="l"/>
<path d="M312.7,279.3 315.1,283.6 307.2,286.2 304.9,282.3z" class="gd8"/><path d="M312.7,279.3 315.1,283.6M304.9,282.3 307.2,286.2M315.1,283.6 307.2,286.2" class="l"/>
<path d="M490.6,358.1 492.9,358.6 485.1,348.8 482.8,348.2z" class="g10"/><path d="M490.6,358.1 492.9,358.6M482.8,348.2 485.1,348.8M490.6,358.1 482.8,348.2" class="l"/>
<path d="M274.3,197.4 276.7,203.5 268.9,219.7 266.5,222.3z" class="gc8"/><path d="M274.3,197.4 276.7,203.5M266.5,222.3 268.9,219.7M274.3,197.4 266.5,222.3" class="l"/>
<path d="M267.3,194.9 269.6,193.5 261.8,232.8 259.5,239.1z" class="gcc"/><path d="M267.3,194.9 269.6,193.5M259.5,239.1 261.8,232.8M267.3,194.9 259.5,239.1M269.6,193.5 261.8,232.8" class="l"/>
<path d="M488.2,357.4 490.6,358.1 482.8,348.2 480.4,347.6z" class="g18"/><path d="M488.2,357.4 490.6,358.1M480.4,347.6 482.8,348.2M490.6,358.1 482.8,348.2" class="l"/>
<path d="M367.5,343.6 369.9,358.4 362.1,328.3 359.7,328.4z" class="g50"/><path d="M367.5,343.6 369.9,358.4M359.7,328.4 362.1,328.3M369.9,358.4 362.1,328.3" class="l"/>
<path d="M272,194.4 274.3,197.4 266.5,222.3 264.2,227.1z" class="gbc"/><path d="M272,194.4 274.3,197.4M264.2,227.1 266.5,222.3M272,194.4 264.2,227.1M274.3,197.4 266.5,222.3" class="l"/>
<path d="M269.6,193.5 272,194.4 264.2,227.1 261.8,232.8z" class="gbc"/><path d="M269.6,193.5 272,194.4M261.8,232.8 264.2,227.1M269.6,193.5 261.8,232.8M272,194.4 264.2,227.1" class="l"/>
<path d="M485.9,356.7 488.2,357.4 480.4,347.6 478.1,346.9z" class="g18"/><path d="M485.9,356.7 488.2,357.4M478.1,346.9 480.4,347.6M485.9,356.7 478.1,346.9" class="l"/>
<path d="M310.3,275.2 312.7,279.3 304.9,282.3 302.5,278.6z" class="gd8"/><path d="M310.3,275.2 312.7,279.3M302.5,278.6 304.9,282.3M310.3,275.2 302.5,278.6" class="l"/>
<path d="M483.5,356 485.9,356.7 478.1,346.9 475.7,346.3z" class="g18"/><path d="M483.5,356 485.9,356.7M475.7,346.3 478.1,346.9M485.9,356.7 478.1,346.9" class="l"/>
<path d="M481.2,355.3 483.5,356 475.7,346.3 473.4,345.7z" class="g18"/><path d="M481.2,355.3 483.5,356M473.4,345.7 475.7,346.3M481.2,355.3 473.4,345.7" class="l"/>
<path d="M365.2,333.5 367.5,343.6 359.7,328.4 357.4,328.5z" class="g50"/><path d="M365.2,333.5 367.5,343.6M357.4,328.5 359.7,328.4M365.2,333.5 357.4,328.5" class="l"/>
<path d="M308,271.3 310.3,275.2 302.5,278.6 300.2,274.8z" class="gdc"/><path d="M308,271.3 310.3,275.2M300.2,274.8 302.5,278.6M310.3,275.2 302.5,278.6" class="l"/>
<path d="M478.8,354.5 481.2,355.3 473.4,345.7 471,344.8z" class="g20"/><path d="M478.8,354.5 481.2,355.3M471,344.8 473.4,345.7M481.2,355.3 473.4,345.7" class="l"/>
<path d="M237.5,326.4 239.8,325 232,320 229.6,320.5z" class="g1c"/><path d="M237.5,326.4 239.8,325M229.6,320.5 232,320M237.5,326.4 229.6,320.5M239.8,325 232,320" class="l"/>
<path d="M239.8,325 242.2,317.1 234.3,319.7 232,320z" class="g20"/><path d="M239.8,325 242.2,317.1M232,320 234.3,319.7M239.8,325 232,320M242.2,317.1 234.3,319.7" class="l"/>
<path d="M235.1,326.5 237.5,326.4 229.6,320.5 227.3,321.2z" class="g1c"/><path d="M235.1,326.5 237.5,326.4M227.3,321.2 229.6,320.5M235.1,326.5 227.3,321.2M237.5,326.4 229.6,320.5" class="l"/>
<path d="M476.5,353.8 478.8,354.5 471,344.8 468.7,343.9z" class="g20"/><path d="M476.5,353.8 478.8,354.5M468.7,343.9 471,344.8M476.5,353.8 468.7,343.9" class="l"/>
<path d="M232.8,326.6 235.1,326.5 227.3,321.2 224.9,322.1z" class="g1c"/><path d="M232.8,326.6 235.1,326.5M224.9,322.1 227.3,321.2M232.8,326.6 224.9,322.1M235.1,326.5 227.3,321.2" class="l"/>
<path d="M362.8,327.6 365.2,333.5 357.4,328.5 355,328.6z" class="g64"/><path d="M362.8,327.6 365.2,333.5M355,328.6 357.4,328.5M365.2,333.5 357.4,328.5" class="l"/>
<path d="M230.4,326.6 232.8,326.6 224.9,322.1 222.6,323.1z" class="g1c"/><path d="M230.4,326.6 232.8,326.6M222.6,323.1 224.9,322.1M230.4,326.6 222.6,323.1M232.8,326.6 224.9,322.1" class="l"/>
<path d="M474.1,353.1 476.5,353.8 468.7,343.9 466.3,342.9z" class="g24"/><path d="M474.1,353.1 476.5,353.8M466.3,342.9 468.7,343.9M476.5,353.8 468.7,343.9" class="l"/>
<path d="M305.6,267.6 308,271.3 300.2,274.8 297.8,270.5z" class="gdc"/><path d="M305.6,267.6 308,271.3M297.8,270.5 300.2,274.8M305.6,267.6 297.8,270.5" class="l"/>
<path d="M228,326.7 230.4,326.6 222.6,323.1 220.2,324.2z" class="g1c"/><path d="M228,326.7 230.4,326.6M220.2,324.2 222.6,323.1M228,326.7 220.2,324.2M230.4,326.6 222.6,323.1" class="l"/>
<path d="M225.7,326.8 228,326.7 220.2,324.2 217.9,325.4z" class="g1c"/><path d="M225.7,326.8 228,326.7M217.9,325.4 220.2,324.2M225.7,326.8 217.9,325.4M228,326.7 220.2,324.2" class="l"/>
<path d="M360.5,327.6 362.8,327.6 355,328.6 352.7,328.6z" class="g64"/><path d="M360.5,327.6 362.8,327.6M352.7,328.6 355,328.6M360.5,327.6 352.7,328.6" class="l"/>
<path d="M223.3,326.9 225.7,326.8 217.9,325.4 215.5,326.7z" class="g1c"/><path d="M223.3,326.9 225.7,326.8M215.5,326.7 217.9,325.4M223.3,326.9 215.5,326.7M225.7,326.8 217.9,325.4" class="l"/>
<path d="M471.8,352.4 474.1,353.1 466.3,342.9 463.9,342z" class="g24"/><path d="M471.8,352.4 474.1,353.1M463.9,342 466.3,342.9M471.8,352.4 463.9,342" class="l"/>
<path d="M221,327.2 223.3,326.9 215.5,326.7 213.2,328.1z" class="g1c"/><path d="M221,327.2 223.3,326.9M213.2,328.1 215.5,326.7M221,327.2 213.2,328.1M223.3,326.9 215.5,326.7" class="l"/>
<path d="M242.2,317.1 244.5,291.8 236.7,319.5 234.3,319.7z" class="g20"/><path d="M242.2,317.1 244.5,291.8M234.3,319.7 236.7,319.5M242.2,317.1 234.3,319.7M244.5,291.8 236.7,319.5" class="l"/>
<path d="M358.1,327.7 360.5,327.6 352.7,328.6 350.3,328.7z" class="g64"/><path d="M358.1,327.7 360.5,327.6M350.3,328.7 352.7,328.6M360.5,327.6 352.7,328.6" class="l"/>
<path d="M218.6,327.6 221,327.2 213.2,328.1 210.8,329.5z" class="g1c"/><path d="M218.6,327.6 221,327.2M210.8,329.5 213.2,328.1M218.6,327.6 210.8,329.5M221,327.2 213.2,328.1" class="l"/>
<path d="M216.3,328.3 218.6,327.6 210.8,329.5 208.5,330.9z" class="g1c"/><path d="M216.3,328.3 218.6,327.6M208.5,330.9 210.8,329.5M216.3,328.3 208.5,330.9M218.6,327.6 210.8,329.5" class="l"/>
<path d="M469.4,351.4 471.8,352.4 463.9,342 461.6,341z" class="g2c"/><path d="M469.4,351.4 471.8,352.4M461.6,341 463.9,342M471.8,352.4 463.9,342" class="l"/>
<path d="M213.9,329.1 216.3,328.3 208.5,330.9 206.1,332.3z" class="g1c"/><path d="M213.9,329.1 216.3,328.3M206.1,332.3 208.5,330.9M213.9,329.1 206.1,332.3M216.3,328.3 208.5,330.9" class="l"/>
<path d="M355.8,327.8 358.1,327.7 350.3,328.7 348,328.8z" class="g64"/><path d="M355.8,327.8 358.1,327.7M348,328.8 350.3,328.7M355.8,327.8 348,328.8" class="l"/>
<path d="M211.6,330.1 213.9,329.1 206.1,332.3 203.8,333.8z" class="g1c"/><path d="M211.6,330.1 213.9,329.1M203.8,333.8 206.1,332.3M211.6,330.1 203.8,333.8M213.9,329.1 206.1,332.3" class="l"/>
<path d="M303.3,263.9 305.6,267.6 297.8,270.5 295.5,264.9z" class="ge4"/><path d="M303.3,263.9 305.6,267.6M295.5,264.9 297.8,270.5M305.6,267.6 297.8,270.5" class="l"/>
<path d="M209.2,331.2 211.6,330.1 203.8,333.8 201.4,335.2z" class="g1c"/><path d="M209.2,331.2 211.6,330.1M201.4,335.2 203.8,333.8M209.2,331.2 201.4,335.2M211.6,330.1 203.8,333.8" class="l"/>
<path d="M206.9,332.5 209.2,331.2 201.4,335.2 199.1,336.5z" class="g1c"/><path d="M206.9,332.5 209.2,331.2M199.1,336.5 201.4,335.2M206.9,332.5 199.1,336.5M209.2,331.2 201.4,335.2" class="l"/>
<path d="M204.5,333.9 206.9,332.5 199.1,336.5 196.7,337.8z" class="g1c"/><path d="M204.5,333.9 206.9,332.5M196.7,337.8 199.1,336.5M204.5,333.9 196.7,337.8M206.9,332.5 199.1,336.5" class="l"/>
<path d="M353.4,327.9 355.8,327.8 348,328.8 345.6,328.9z" class="g64"/><path d="M353.4,327.9 355.8,327.8M345.6,328.9 348,328.8M355.8,327.8 348,328.8" class="l"/>
<path d="M202.2,334.7 204.5,333.9 196.7,337.8 194.4,338.4z" class="g1c"/><path d="M202.2,334.7 204.5,333.9M194.4,338.4 196.7,337.8M202.2,334.7 194.4,338.4M204.5,333.9 196.7,337.8" class="l"/>
<path d="M467.1,350.4 469.4,351.4 461.6,341 459.2,340.7z" class="g2c"/><path d="M467.1,350.4 469.4,351.4M459.2,340.7 461.6,341M467.1,350.4 459.2,340.7" class="l"/>
<path d="M351.1,327.9 353.4,327.9 345.6,328.9 343.3,328.9z" class="g64"/><path d="M351.1,327.9 353.4,327.9M343.3,328.9 345.6,328.9M351.1,327.9 343.3,328.9" class="l"/>
<path d="M199.8,334.8 202.2,334.7 194.4,338.4 192,338.5z" class="g1c"/><path d="M199.8,334.8 202.2,334.7M192,338.5 194.4,338.4M199.8,334.8 192,338.5M202.2,334.7 194.4,338.4" class="l"/>
<path d="M403.6,391.4 405.9,389 398.1,386.9 395.8,387z" class="g0"/><path d="M403.6,391.4 405.9,389M395.8,387 398.1,386.9M405.9,389 398.1,386.9" class="l"/>
<path d="M405.9,389 408.3,385.2 400.5,384.8 398.1,386.9z" class="g0"/><path d="M405.9,389 408.3,385.2M398.1,386.9 400.5,384.8M405.9,389 398.1,386.9" class="l"/>
<path d="M464.7,349.3 467.1,350.4 459.2,340.7 456.9,340.4z" class="g30"/><path d="M464.7,349.3 467.1,350.4M456.9,340.4 459.2,340.7M467.1,350.4 459.2,340.7" class="l"/>
<path d="M401.2,393.8 403.6,391.4 395.8,387 393.4,386.1z" class="g0"/><path d="M401.2,393.8 403.6,391.4M393.4,386.1 395.8,387M401.2,393.8 393.4,386.1" class="l"/>
<path d="M348.7,328 351.1,327.9 343.3,328.9 340.9,329z" class="g64"/><path d="M348.7,328 351.1,327.9M340.9,329 343.3,328.9M351.1,327.9 343.3,328.9" class="l"/>
<path d="M197.5,334.9 199.8,334.8 192,338.5 189.7,338.6z" class="g1c"/><path d="M197.5,334.9 199.8,334.8M189.7,338.6 192,338.5M197.5,334.9 189.7,338.6M199.8,334.8 192,338.5" class="l"/>
<path d="M398.9,396.1 401.2,393.8 393.4,386.1 391.1,385.2z" class="g0"/><path d="M398.9,396.1 401.2,393.8M391.1,385.2 393.4,386.1M401.2,393.8 393.4,386.1" class="l"/>
<path d="M408.3,385.2 410.6,379.7 402.8,382.7 400.5,384.8z" class="g0"/><path d="M408.3,385.2 410.6,379.7M400.5,384.8 402.8,382.7M410.6,379.7 402.8,382.7" class="l"/>
<path d="M396.5,398.5 398.9,396.1 391.1,385.2 388.7,384.4z" class="g0"/><path d="M396.5,398.5 398.9,396.1M388.7,384.4 391.1,385.2M396.5,398.5 388.7,384.4" class="l"/>
<path d="M195.1,335 197.5,334.9 189.7,338.6 187.3,338.7z" class="g1c"/><path d="M195.1,335 197.5,334.9M187.3,338.7 189.7,338.6M195.1,335 187.3,338.7M197.5,334.9 189.7,338.6" class="l"/>
<path d="M346.4,327.9 348.7,328 340.9,329 338.6,327.9z" class="g64"/><path d="M346.4,327.9 348.7,328M338.6,327.9 340.9,329M346.4,327.9 338.6,327.9" class="l"/>
<path d="M462.4,348.2 464.7,349.3 456.9,340.4 454.5,340.2z" class="g30"/><path d="M462.4,348.2 464.7,349.3M454.5,340.2 456.9,340.4M462.4,348.2 454.5,340.2" class="l"/>
<path d="M300.9,259.4 303.3,263.9 295.5,264.9 293.1,258.5z" class="ge4"/><path d="M300.9,259.4 303.3,263.9M293.1,258.5 295.5,264.9M300.9,259.4 293.1,258.5" class="l"/>
<path d="M394.2,398.8 396.5,398.5 388.7,384.4 386.4,383.5z" class="g0"/><path d="M394.2,398.8 396.5,398.5M386.4,383.5 388.7,384.4M396.5,398.5 388.7,384.4" class="l"/>
<path d="M192.8,335 195.1,335 187.3,338.7 185,338.7z" class="g1c"/><path d="M192.8,335 195.1,335M185,338.7 187.3,338.7M192.8,335 185,338.7M195.1,335 187.3,338.7" class="l"/>
<path d="M410.6,379.7 413,374.2 405.2,380.6 402.8,382.7z" class="g0"/><path d="M410.6,379.7 413,374.2M402.8,382.7 405.2,380.6M410.6,379.7 402.8,382.7" class="l"/>
<path d="M460,347.1 462.4,348.2 454.5,340.2 452.2,339.9z" class="g38"/><path d="M460,347.1 462.4,348.2M452.2,339.9 454.5,340.2M462.4,348.2 454.5,340.2" class="l"/>
<path d="M391.8,397.8 394.2,398.8 386.4,383.5 384,382.6z" class="g0"/><path d="M391.8,397.8 394.2,398.8M384,382.6 386.4,383.5M391.8,397.8 384,382.6" class="l"/>
<path d="M413,374.2 415.3,368.7 407.5,378.5 405.2,380.6z" class="g0"/><path d="M413,374.2 415.3,368.7M405.2,380.6 407.5,378.5M415.3,368.7 407.5,378.5" class="l"/>
<path d="M344,324.5 346.4,327.9 338.6,327.9 336.2,324.4z" class="g78"/><path d="M344,324.5 346.4,327.9M336.2,324.4 338.6,327.9M346.4,327.9 338.6,327.9" class="l"/>
<path d="M457.7,346.7 460,347.1 452.2,339.9 449.8,339.6z" class="g38"/><path d="M457.7,346.7 460,347.1M449.8,339.6 452.2,339.9M457.7,346.7 449.8,339.6" class="l"/>
<path d="M244.5,291.8 246.9,254.3 239.1,319.3 236.7,319.5z" class="g90"/><path d="M244.5,291.8 246.9,254.3M236.7,319.5 239.1,319.3M244.5,291.8 236.7,319.5M246.9,254.3 239.1,319.3" class="l"/>
<path d="M415.3,368.7 417.7,364.6 409.9,375.3 407.5,378.5z" class="g0"/><path d="M415.3,368.7 417.7,364.6M407.5,378.5 409.9,375.3M415.3,368.7 407.5,378.5" class="l"/>
<path d="M389.5,396.8 391.8,397.8 384,382.6 381.6,381.7z" class="g0"/><path d="M389.5,396.8 391.8,397.8M381.6,381.7 384,382.6M391.8,397.8 384,382.6" class="l"/>
<path d="M455.3,346.4 457.7,346.7 449.8,339.6 447.5,339.3z" class="g38"/><path d="M455.3,346.4 457.7,346.7M447.5,339.3 449.8,339.6M457.7,346.7 449.8,339.6" class="l"/>
<path d="M417.7,364.6 420,360.8 412.2,370.4 409.9,375.3z" class="g0"/><path d="M417.7,364.6 420,360.8M409.9,375.3 412.2,370.4M420,360.8 412.2,370.4" class="l"/>
<path d="M298.6,253.1 300.9,259.4 293.1,258.5 290.8,251.6z" class="gf0"/><path d="M298.6,253.1 300.9,259.4M290.8,251.6 293.1,258.5M300.9,259.4 293.1,258.5" class="l"/>
<path d="M452.9,346.1 455.3,346.4 447.5,339.3 445.1,339z" class="g38"/><path d="M452.9,346.1 455.3,346.4M445.1,339 447.5,339.3M452.9,346.1 445.1,339" class="l"/>
<path d="M341.7,321.5 344,324.5 336.2,324.4 333.9,321.2z" class="g78"/><path d="M341.7,321.5 344,324.5M333.9,321.2 336.2,324.4M341.7,321.5 333.9,321.2" class="l"/>
<path d="M387.1,395.8 389.5,396.8 381.6,381.7 379.3,380z" class="g0"/><path d="M387.1,395.8 389.5,396.8M379.3,380 381.6,381.7M387.1,395.8 379.3,380" class="l"/>
<path d="M450.6,345.7 452.9,346.1 445.1,339 442.8,338.8z" class="g3c"/><path d="M450.6,345.7 452.9,346.1M442.8,338.8 445.1,339M452.9,346.1 445.1,339" class="l"/>
<path d="M420,360.8 422.4,357 414.6,365.5 412.2,370.4z" class="g10"/><path d="M420,360.8 422.4,357M412.2,370.4 414.6,365.5M420,360.8 412.2,370.4" class="l"/>
<path d="M384.8,394.7 387.1,395.8 379.3,380 376.9,376.2z" class="g0"/><path d="M384.8,394.7 387.1,395.8M376.9,376.2 379.3,380M387.1,395.8 379.3,380" class="l"/>
<path d="M448.2,345.4 450.6,345.7 442.8,338.8 440.4,338.5z" class="g3c"/><path d="M448.2,345.4 450.6,345.7M440.4,338.5 442.8,338.8M448.2,345.4 440.4,338.5" class="l"/>
<path d="M422.4,357 424.7,353.2 416.9,360.6 414.6,365.5z" class="g10"/><path d="M422.4,357 424.7,353.2M414.6,365.5 416.9,360.6M424.7,353.2 416.9,360.6" class="l"/>
<path d="M339.3,318 341.7,321.5 333.9,321.2 331.5,317.9z" class="g90"/><path d="M339.3,318 341.7,321.5M331.5,317.9 333.9,321.2M341.7,321.5 333.9,321.2" class="l"/>
<path d="M445.9,345.1 448.2,345.4 440.4,338.5 438.1,339.9z" class="g40"/><path d="M445.9,345.1 448.2,345.4M438.1,339.9 440.4,338.5M448.2,345.4 440.4,338.5" class="l"/>
<path d="M443.5,344.7 445.9,345.1 438.1,339.9 435.7,341.2z" class="g40"/><path d="M443.5,344.7 445.9,345.1M435.7,341.2 438.1,339.9M443.5,344.7 435.7,341.2" class="l"/>
<path d="M424.7,353.2 427.1,351.6 419.3,356.9 416.9,360.6z" class="g28"/><path d="M424.7,353.2 427.1,351.6M416.9,360.6 419.3,356.9M424.7,353.2 416.9,360.6" class="l"/>
<path d="M441.2,344.4 443.5,344.7 435.7,341.2 433.4,342.6z" class="g40"/><path d="M441.2,344.4 443.5,344.7M433.4,342.6 435.7,341.2M443.5,344.7 435.7,341.2" class="l"/>
<path d="M427.1,351.6 429.4,350.1 421.6,353.5 419.3,356.9z" class="g28"/><path d="M427.1,351.6 429.4,350.1M419.3,356.9 421.6,353.5M429.4,350.1 421.6,353.5" class="l"/>
<path d="M382.4,393.7 384.8,394.7 376.9,376.2 374.6,372.4z" class="g0"/><path d="M382.4,393.7 384.8,394.7M374.6,372.4 376.9,376.2M382.4,393.7 374.6,372.4" class="l"/>
<path d="M296.2,246 298.6,253.1 290.8,251.6 288.4,244.6z" class="gf0"/><path d="M296.2,246 298.6,253.1M288.4,244.6 290.8,251.6M296.2,246 288.4,244.6" class="l"/>
<path d="M429.4,350.1 431.8,348.6 424,350.1 421.6,353.5z" class="g30"/><path d="M429.4,350.1 431.8,348.6M421.6,353.5 424,350.1M429.4,350.1 421.6,353.5" class="l"/>
<path d="M438.8,344.1 441.2,344.4 433.4,342.6 431,343.9z" class="g40"/><path d="M438.8,344.1 441.2,344.4M431,343.9 433.4,342.6M438.8,344.1 431,343.9" class="l"/>
<path d="M431.8,348.6 434.1,347.1 426.3,346.8 424,350.1z" class="g30"/><path d="M431.8,348.6 434.1,347.1M424,350.1 426.3,346.8M434.1,347.1 426.3,346.8" class="l"/>
<path d="M436.5,345.6 438.8,344.1 431,343.9 428.7,345.3z" class="g38"/><path d="M436.5,345.6 438.8,344.1M428.7,345.3 431,343.9M438.8,344.1 431,343.9" class="l"/>
<path d="M434.1,347.1 436.5,345.6 428.7,345.3 426.3,346.8z" class="g38"/><path d="M434.1,347.1 436.5,345.6M426.3,346.8 428.7,345.3M434.1,347.1 426.3,346.8" class="l"/>
<path d="M337,313.7 339.3,318 331.5,317.9 329.2,314z" class="g90"/><path d="M337,313.7 339.3,318M329.2,314 331.5,317.9M337,313.7 329.2,314" class="l"/>
<path d="M380.1,392.7 382.4,393.7 374.6,372.4 372.2,368.6z" class="g0"/><path d="M380.1,392.7 382.4,393.7M372.2,368.6 374.6,372.4M382.4,393.7 374.6,372.4" class="l"/>
<path d="M246.9,254.3 249.2,227.3 241.4,316.9 239.1,319.3z" class="g90"/><path d="M246.9,254.3 249.2,227.3M239.1,319.3 241.4,316.9M246.9,254.3 239.1,319.3M249.2,227.3 241.4,316.9" class="l"/>
<path d="M334.6,309.4 337,313.7 329.2,314 326.8,309.7z" class="gac"/><path d="M334.6,309.4 337,313.7M326.8,309.7 329.2,314M337,313.7 329.2,314" class="l"/>
<path d="M293.9,238.8 296.2,246 288.4,244.6 286.1,237.6z" class="gff"/><path d="M293.9,238.8 296.2,246M286.1,237.6 288.4,244.6M296.2,246 288.4,244.6" class="l"/>
<path d="M377.7,391 380.1,392.7 372.2,368.6 369.9,358.4z" class="g0"/><path d="M377.7,391 380.1,392.7M369.9,358.4 372.2,368.6M377.7,391 369.9,358.4" class="l"/>
<path d="M332.3,304.9 334.6,309.4 326.8,309.7 324.5,305z" class="gac"/><path d="M332.3,304.9 334.6,309.4M324.5,305 326.8,309.7M332.3,304.9 324.5,305" class="l"/>
<path d="M249.2,227.3 251.6,214.6 243.8,308.8 241.4,316.9z" class="gfc"/><path d="M249.2,227.3 251.6,214.6M241.4,316.9 243.8,308.8M249.2,227.3 241.4,316.9M251.6,214.6 243.8,308.8" class="l"/>
<path d="M291.5,231.6 293.9,238.8 286.1,237.6 283.7,230z" class="gff"/><path d="M291.5,231.6 293.9,238.8M283.7,230 286.1,237.6M291.5,231.6 283.7,230" class="l"/>
<path d="M375.4,386.7 377.7,391 369.9,358.4 367.5,343.6z" class="g0"/><path d="M375.4,386.7 377.7,391M367.5,343.6 369.9,358.4M377.7,391 369.9,358.4" class="l"/>
<path d="M329.9,299 332.3,304.9 324.5,305 322.1,299.2z" class="gcc"/><path d="M329.9,299 332.3,304.9M322.1,299.2 324.5,305M332.3,304.9 324.5,305" class="l"/>
<path d="M251.6,214.6 253.9,205.7 246.1,291.1 243.8,308.8z" class="gfc"/><path d="M251.6,214.6 253.9,205.7M243.8,308.8 246.1,291.1M251.6,214.6 243.8,308.8M253.9,205.7 246.1,291.1" class="l"/>
<path d="M289.2,224.3 291.5,231.6 283.7,230 281.4,221.4z" class="gf0"/><path d="M289.2,224.3 291.5,231.6M281.4,221.4 283.7,230M291.5,231.6 283.7,230" class="l"/>
<path d="M327.6,292.3 329.9,299 322.1,299.2 319.8,293.2z" class="gcc"/><path d="M327.6,292.3 329.9,299M319.8,293.2 322.1,299.2M327.6,292.3 319.8,293.2" class="l"/>
<path d="M373,382.3 375.4,386.7 367.5,343.6 365.2,333.5z" class="g0"/><path d="M373,382.3 375.4,386.7M365.2,333.5 367.5,343.6M373,382.3 365.2,333.5" class="l"/>
<path d="M325.2,286.6 327.6,292.3 319.8,293.2 317.4,288.1z" class="gd4"/><path d="M325.2,286.6 327.6,292.3M317.4,288.1 319.8,293.2M327.6,292.3 319.8,293.2" class="l"/>
<path d="M370.6,378 373,382.3 365.2,333.5 362.8,327.6z" class="g0"/><path d="M370.6,378 373,382.3M362.8,327.6 365.2,333.5M373,382.3 365.2,333.5" class="l"/>
<path d="M286.8,217 289.2,224.3 281.4,221.4 279,211.9z" class="gf0"/><path d="M286.8,217 289.2,224.3M279,211.9 281.4,221.4M286.8,217 279,211.9" class="l"/>
<path d="M253.9,205.7 256.3,196.3 248.5,267 246.1,291.1z" class="gd0"/><path d="M253.9,205.7 256.3,196.3M246.1,291.1 248.5,267M253.9,205.7 246.1,291.1M256.3,196.3 248.5,267" class="l"/>
<path d="M322.9,282.1 325.2,286.6 317.4,288.1 315.1,283.6z" class="gd4"/><path d="M322.9,282.1 325.2,286.6M315.1,283.6 317.4,288.1M322.9,282.1 315.1,283.6" class="l"/>
<path d="M368.3,367.3 370.6,378 362.8,327.6 360.5,327.6z" class="g0"/><path d="M368.3,367.3 370.6,378M360.5,327.6 362.8,327.6M368.3,367.3 360.5,327.6" class="l"/>
<path d="M284.5,209.5 286.8,217 279,211.9 276.7,203.5z" class="gc0"/><path d="M284.5,209.5 286.8,217M276.7,203.5 279,211.9M286.8,217 279,211.9" class="l"/>
<path d="M320.5,277.7 322.9,282.1 315.1,283.6 312.7,279.3z" class="ge0"/><path d="M320.5,277.7 322.9,282.1M312.7,279.3 315.1,283.6M322.9,282.1 315.1,283.6" class="l"/>
<path d="M256.3,196.3 258.6,186.3 250.8,246.7 248.5,267z" class="gd0"/><path d="M256.3,196.3 258.6,186.3M248.5,267 250.8,246.7M256.3,196.3 248.5,267M258.6,186.3 250.8,246.7" class="l"/>
<path d="M365.9,343.7 368.3,367.3 360.5,327.6 358.1,327.7z" class="g58"/><path d="M365.9,343.7 368.3,367.3M358.1,327.7 360.5,327.6M368.3,367.3 360.5,327.6" class="l"/>
<path d="M318.2,273.3 320.5,277.7 312.7,279.3 310.3,275.2z" class="ge0"/><path d="M318.2,273.3 320.5,277.7M310.3,275.2 312.7,279.3M318.2,273.3 310.3,275.2" class="l"/>
<path d="M282.1,200.7 284.5,209.5 276.7,203.5 274.3,197.4z" class="gc0"/><path d="M282.1,200.7 284.5,209.5M274.3,197.4 276.7,203.5M282.1,200.7 274.3,197.4" class="l"/>
<path d="M235.9,333.3 238.2,332.8 230.4,326.6 228,326.7z" class="g1c"/><path d="M235.9,333.3 238.2,332.8M228,326.7 230.4,326.6M235.9,333.3 228,326.7M238.2,332.8 230.4,326.6" class="l"/>
<path d="M238.2,332.8 240.6,326.1 232.8,326.6 230.4,326.6z" class="g20"/><path d="M238.2,332.8 240.6,326.1M230.4,326.6 232.8,326.6M238.2,332.8 230.4,326.6M240.6,326.1 232.8,326.6" class="l"/>
<path d="M233.5,333.4 235.9,333.3 228,326.7 225.7,326.8z" class="g1c"/><path d="M233.5,333.4 235.9,333.3M225.7,326.8 228,326.7M233.5,333.4 225.7,326.8M235.9,333.3 228,326.7" class="l"/>
<path d="M315.8,269 318.2,273.3 310.3,275.2 308,271.3z" class="ge8"/><path d="M315.8,269 318.2,273.3M308,271.3 310.3,275.2M318.2,273.3 310.3,275.2" class="l"/>
<path d="M231.2,333.5 233.5,333.4 225.7,326.8 223.3,326.9z" class="g1c"/><path d="M231.2,333.5 233.5,333.4M223.3,326.9 225.7,326.8M231.2,333.5 223.3,326.9M233.5,333.4 225.7,326.8" class="l"/>
<path d="M363.6,338.5 365.9,343.7 358.1,327.7 355.8,327.8z" class="g58"/><path d="M363.6,338.5 365.9,343.7M355.8,327.8 358.1,327.7M363.6,338.5 355.8,327.8" class="l"/>
<path d="M228.8,333.6 231.2,333.5 223.3,326.9 221,327.2z" class="g1c"/><path d="M228.8,333.6 231.2,333.5M221,327.2 223.3,326.9M228.8,333.6 221,327.2M231.2,333.5 223.3,326.9" class="l"/>
<path d="M258.6,186.3 261,176.7 253.2,235 250.8,246.7z" class="g90"/><path d="M258.6,186.3 261,176.7M250.8,246.7 253.2,235M258.6,186.3 250.8,246.7M261,176.7 253.2,235" class="l"/>
<path d="M279.8,189.8 282.1,200.7 274.3,197.4 272,194.4z" class="g80"/><path d="M279.8,189.8 282.1,200.7M272,194.4 274.3,197.4M282.1,200.7 274.3,197.4" class="l"/>
<path d="M226.5,333.6 228.8,333.6 221,327.2 218.6,327.6z" class="g1c"/><path d="M226.5,333.6 228.8,333.6M218.6,327.6 221,327.2M226.5,333.6 218.6,327.6M228.8,333.6 221,327.2" class="l"/>
<path d="M313.5,265.2 315.8,269 308,271.3 305.6,267.6z" class="ge8"/><path d="M313.5,265.2 315.8,269M305.6,267.6 308,271.3M313.5,265.2 305.6,267.6" class="l"/>
<path d="M224.1,333.7 226.5,333.6 218.6,327.6 216.3,328.3z" class="g1c"/><path d="M224.1,333.7 226.5,333.6M216.3,328.3 218.6,327.6M224.1,333.7 216.3,328.3M226.5,333.6 218.6,327.6" class="l"/>
<path d="M361.2,331.4 363.6,338.5 355.8,327.8 353.4,327.9z" class="g70"/><path d="M361.2,331.4 363.6,338.5M353.4,327.9 355.8,327.8M363.6,338.5 355.8,327.8" class="l"/>
<path d="M240.6,326.1 242.9,293.1 235.1,326.5 232.8,326.6z" class="g20"/><path d="M240.6,326.1 242.9,293.1M232.8,326.6 235.1,326.5M240.6,326.1 232.8,326.6M242.9,293.1 235.1,326.5" class="l"/>
<path d="M221.8,333.8 224.1,333.7 216.3,328.3 213.9,329.1z" class="g1c"/><path d="M221.8,333.8 224.1,333.7M213.9,329.1 216.3,328.3M221.8,333.8 213.9,329.1M224.1,333.7 216.3,328.3" class="l"/>
<path d="M219.4,333.9 221.8,333.8 213.9,329.1 211.6,330.1z" class="g1c"/><path d="M219.4,333.9 221.8,333.8M211.6,330.1 213.9,329.1M219.4,333.9 211.6,330.1M221.8,333.8 213.9,329.1" class="l"/>
<path d="M210,341.5 212.3,339.2 204.5,333.9 202.2,334.7z" class="g8"/><path d="M210,341.5 212.3,339.2M202.2,334.7 204.5,333.9M210,341.5 202.2,334.7M212.3,339.2 204.5,333.9" class="l"/>
<path d="M217,334.1 219.4,333.9 211.6,330.1 209.2,331.2z" class="g18"/><path d="M217,334.1 219.4,333.9M209.2,331.2 211.6,330.1M217,334.1 209.2,331.2M219.4,333.9 211.6,330.1" class="l"/>
<path d="M212.3,339.2 214.7,335.9 206.9,332.5 204.5,333.9z" class="g8"/><path d="M212.3,339.2 214.7,335.9M204.5,333.9 206.9,332.5M212.3,339.2 204.5,333.9M214.7,335.9 206.9,332.5" class="l"/>
<path d="M214.7,335.9 217,334.1 209.2,331.2 206.9,332.5z" class="g18"/><path d="M214.7,335.9 217,334.1M206.9,332.5 209.2,331.2M214.7,335.9 206.9,332.5M217,334.1 209.2,331.2" class="l"/>
<path d="M207.6,342.1 210,341.5 202.2,334.7 199.8,334.8z" class="g8"/><path d="M207.6,342.1 210,341.5M199.8,334.8 202.2,334.7M207.6,342.1 199.8,334.8M210,341.5 202.2,334.7" class="l"/>
<path d="M358.9,331.3 361.2,331.4 353.4,327.9 351.1,327.9z" class="g70"/><path d="M358.9,331.3 361.2,331.4M351.1,327.9 353.4,327.9M358.9,331.3 351.1,327.9" class="l"/>
<path d="M311.1,261.4 313.5,265.2 305.6,267.6 303.3,263.9z" class="gec"/><path d="M311.1,261.4 313.5,265.2M303.3,263.9 305.6,267.6M313.5,265.2 305.6,267.6" class="l"/>
<path d="M261,176.7 263.3,169 255.5,227.2 253.2,235z" class="g90"/><path d="M261,176.7 263.3,169M253.2,235 255.5,227.2M261,176.7 253.2,235M263.3,169 255.5,227.2" class="l"/>
<path d="M205.3,342.2 207.6,342.1 199.8,334.8 197.5,334.9z" class="g8"/><path d="M205.3,342.2 207.6,342.1M197.5,334.9 199.8,334.8M205.3,342.2 197.5,334.9M207.6,342.1 199.8,334.8" class="l"/>
<path d="M356.5,330.7 358.9,331.3 351.1,327.9 348.7,328z" class="g7c"/><path d="M356.5,330.7 358.9,331.3M348.7,328 351.1,327.9M358.9,331.3 351.1,327.9" class="l"/>
<path d="M277.4,179.5 279.8,189.8 272,194.4 269.6,193.5z" class="g80"/><path d="M277.4,179.5 279.8,189.8M269.6,193.5 272,194.4M277.4,179.5 269.6,193.5" class="l"/>
<path d="M202.9,342.2 205.3,342.2 197.5,334.9 195.1,335z" class="g8"/><path d="M202.9,342.2 205.3,342.2M195.1,335 197.5,334.9M202.9,342.2 195.1,335M205.3,342.2 197.5,334.9" class="l"/>
<path d="M354.2,327 356.5,330.7 348.7,328 346.4,327.9z" class="g7c"/><path d="M354.2,327 356.5,330.7M346.4,327.9 348.7,328M354.2,327 346.4,327.9" class="l"/>
<path d="M200.6,341.3 202.9,342.2 195.1,335 192.8,335z" class="g8"/><path d="M200.6,341.3 202.9,342.2M192.8,335 195.1,335M200.6,341.3 192.8,335M202.9,342.2 195.1,335" class="l"/>
<path d="M263.3,169 265.7,165.1 257.9,219.8 255.5,227.2z" class="g60"/><path d="M263.3,169 265.7,165.1M255.5,227.2 257.9,219.8M263.3,169 255.5,227.2M265.7,165.1 257.9,219.8" class="l"/>
<path d="M308.8,257.7 311.1,261.4 303.3,263.9 300.9,259.4z" class="gec"/><path d="M308.8,257.7 311.1,261.4M300.9,259.4 303.3,263.9M308.8,257.7 300.9,259.4" class="l"/>
<path d="M275.1,171.6 277.4,179.5 269.6,193.5 267.3,194.9z" class="g58"/><path d="M275.1,171.6 277.4,179.5M267.3,194.9 269.6,193.5M277.4,179.5 269.6,193.5" class="l"/>
<path d="M351.8,323.9 354.2,327 346.4,327.9 344,324.5z" class="g90"/><path d="M351.8,323.9 354.2,327M344,324.5 346.4,327.9M354.2,327 346.4,327.9" class="l"/>
<path d="M265.7,165.1 268,163.6 260.2,211.6 257.9,219.8z" class="g60"/><path d="M265.7,165.1 268,163.6M257.9,219.8 260.2,211.6M265.7,165.1 257.9,219.8M268,163.6 260.2,211.6" class="l"/>
<path d="M272.7,166.8 275.1,171.6 267.3,194.9 264.9,198.2z" class="g58"/><path d="M272.7,166.8 275.1,171.6M264.9,198.2 267.3,194.9M272.7,166.8 264.9,198.2" class="l"/>
<path d="M268,163.6 270.4,164.4 262.6,204.2 260.2,211.6z" class="g50"/><path d="M268,163.6 270.4,164.4M260.2,211.6 262.6,204.2M268,163.6 260.2,211.6M270.4,164.4 262.6,204.2" class="l"/>
<path d="M306.4,254 308.8,257.7 300.9,259.4 298.6,253.1z" class="gf4"/><path d="M306.4,254 308.8,257.7M298.6,253.1 300.9,259.4M308.8,257.7 300.9,259.4" class="l"/>
<path d="M270.4,164.4 272.7,166.8 264.9,198.2 262.6,204.2z" class="g50"/><path d="M270.4,164.4 272.7,166.8M262.6,204.2 264.9,198.2M270.4,164.4 262.6,204.2M272.7,166.8 264.9,198.2" class="l"/>
<path d="M349.5,320.7 351.8,323.9 344,324.5 341.7,321.5z" class="g90"/><path d="M349.5,320.7 351.8,323.9M341.7,321.5 344,324.5M349.5,320.7 341.7,321.5" class="l"/>
<path d="M242.9,293.1 245.3,241.3 237.5,326.4 235.1,326.5z" class="ga0"/><path d="M242.9,293.1 245.3,241.3M235.1,326.5 237.5,326.4M242.9,293.1 235.1,326.5M245.3,241.3 237.5,326.4" class="l"/>
<path d="M347.1,316.5 349.5,320.7 341.7,321.5 339.3,318z" class="ga8"/><path d="M347.1,316.5 349.5,320.7M339.3,318 341.7,321.5M349.5,320.7 341.7,321.5" class="l"/>
<path d="M304.1,249.1 306.4,254 298.6,253.1 296.2,246z" class="gf4"/><path d="M304.1,249.1 306.4,254M296.2,246 298.6,253.1M304.1,249.1 296.2,246" class="l"/>
<path d="M344.8,312 347.1,316.5 339.3,318 337,313.7z" class="ga8"/><path d="M344.8,312 347.1,316.5M337,313.7 339.3,318M344.8,312 337,313.7" class="l"/>
<path d="M301.7,242 304.1,249.1 296.2,246 293.9,238.8z" class="gff"/><path d="M301.7,242 304.1,249.1M293.9,238.8 296.2,246M304.1,249.1 296.2,246" class="l"/>
<path d="M342.4,307.5 344.8,312 337,313.7 334.6,309.4z" class="gc4"/><path d="M342.4,307.5 344.8,312M334.6,309.4 337,313.7M344.8,312 337,313.7" class="l"/>
<path d="M245.3,241.3 247.6,208.6 239.8,325 237.5,326.4z" class="ga0"/><path d="M245.3,241.3 247.6,208.6M237.5,326.4 239.8,325M245.3,241.3 237.5,326.4M247.6,208.6 239.8,325" class="l"/>
<path d="M340.1,303 342.4,307.5 334.6,309.4 332.3,304.9z" class="gc4"/><path d="M340.1,303 342.4,307.5M332.3,304.9 334.6,309.4M340.1,303 332.3,304.9" class="l"/>
<path d="M299.3,234.8 301.7,242 293.9,238.8 291.5,231.6z" class="gff"/><path d="M299.3,234.8 301.7,242M291.5,231.6 293.9,238.8M299.3,234.8 291.5,231.6" class="l"/>
<path d="M337.7,296.9 340.1,303 332.3,304.9 329.9,299z" class="gd4"/><path d="M337.7,296.9 340.1,303M329.9,299 332.3,304.9M340.1,303 332.3,304.9" class="l"/>
<path d="M297,227.5 299.3,234.8 291.5,231.6 289.2,224.3z" class="ge8"/><path d="M297,227.5 299.3,234.8M289.2,224.3 291.5,231.6M299.3,234.8 291.5,231.6" class="l"/>
<path d="M247.6,208.6 250,197.3 242.2,317.1 239.8,325z" class="gd8"/><path d="M247.6,208.6 250,197.3M239.8,325 242.2,317.1M247.6,208.6 239.8,325M250,197.3 242.2,317.1" class="l"/>
<path d="M335.4,290 337.7,296.9 329.9,299 327.6,292.3z" class="gd4"/><path d="M335.4,290 337.7,296.9M327.6,292.3 329.9,299M335.4,290 327.6,292.3" class="l"/>
<path d="M294.6,220.2 297,227.5 289.2,224.3 286.8,217z" class="ge8"/><path d="M294.6,220.2 297,227.5M286.8,217 289.2,224.3M294.6,220.2 286.8,217" class="l"/>
<path d="M333,283.1 335.4,290 327.6,292.3 325.2,286.6z" class="ge0"/><path d="M333,283.1 335.4,290M325.2,286.6 327.6,292.3M335.4,290 327.6,292.3" class="l"/>
<path d="M250,197.3 252.3,185.7 244.5,291.8 242.2,317.1z" class="gd8"/><path d="M250,197.3 252.3,185.7M242.2,317.1 244.5,291.8M250,197.3 242.2,317.1M252.3,185.7 244.5,291.8" class="l"/>
<path d="M292.3,212.8 294.6,220.2 286.8,217 284.5,209.5z" class="gb8"/><path d="M292.3,212.8 294.6,220.2M284.5,209.5 286.8,217M294.6,220.2 286.8,217" class="l"/>
<path d="M330.7,278.3 333,283.1 325.2,286.6 322.9,282.1z" class="ge0"/><path d="M330.7,278.3 333,283.1M322.9,282.1 325.2,286.6M330.7,278.3 322.9,282.1" class="l"/>
<path d="M328.3,273.7 330.7,278.3 322.9,282.1 320.5,277.7z" class="ge8"/><path d="M328.3,273.7 330.7,278.3M320.5,277.7 322.9,282.1M330.7,278.3 322.9,282.1" class="l"/>
<path d="M289.9,205.4 292.3,212.8 284.5,209.5 282.1,200.7z" class="gb8"/><path d="M289.9,205.4 292.3,212.8M282.1,200.7 284.5,209.5M289.9,205.4 282.1,200.7" class="l"/>
<path d="M215.5,361.8 217.8,360.2 210,341.5 207.6,342.1z" class="g0"/><path d="M215.5,361.8 217.8,360.2M207.6,342.1 210,341.5M215.5,361.8 207.6,342.1M217.8,360.2 210,341.5" class="l"/>
<path d="M326,269.2 328.3,273.7 320.5,277.7 318.2,273.3z" class="ge8"/><path d="M326,269.2 328.3,273.7M318.2,273.3 320.5,277.7M326,269.2 318.2,273.3" class="l"/>
<path d="M217.8,360.2 220.2,354.3 212.3,339.2 210,341.5z" class="g0"/><path d="M217.8,360.2 220.2,354.3M210,341.5 212.3,339.2M217.8,360.2 210,341.5M220.2,354.3 212.3,339.2" class="l"/>
<path d="M213.1,361.9 215.5,361.8 207.6,342.1 205.3,342.2z" class="g0"/><path d="M213.1,361.9 215.5,361.8M205.3,342.2 207.6,342.1M213.1,361.9 205.3,342.2M215.5,361.8 207.6,342.1" class="l"/>
<path d="M234.3,340.3 236.6,340.2 228.8,333.6 226.5,333.6z" class="g1c"/><path d="M234.3,340.3 236.6,340.2M226.5,333.6 228.8,333.6M234.3,340.3 226.5,333.6M236.6,340.2 228.8,333.6" class="l"/>
<path d="M236.6,340.2 239,333.7 231.2,333.5 228.8,333.6z" class="g1c"/><path d="M236.6,340.2 239,333.7M228.8,333.6 231.2,333.5M236.6,340.2 228.8,333.6M239,333.7 231.2,333.5" class="l"/>
<path d="M252.3,185.7 254.7,174.6 246.9,254.3 244.5,291.8z" class="g80"/><path d="M252.3,185.7 254.7,174.6M244.5,291.8 246.9,254.3M252.3,185.7 244.5,291.8M254.7,174.6 246.9,254.3" class="l"/>
<path d="M210.8,361.8 213.1,361.9 205.3,342.2 202.9,342.2z" class="g0"/><path d="M210.8,361.8 213.1,361.9M202.9,342.2 205.3,342.2M210.8,361.8 202.9,342.2M213.1,361.9 205.3,342.2" class="l"/>
<path d="M231.9,340.3 234.3,340.3 226.5,333.6 224.1,333.7z" class="g1c"/><path d="M231.9,340.3 234.3,340.3M224.1,333.7 226.5,333.6M231.9,340.3 224.1,333.7M234.3,340.3 226.5,333.6" class="l"/>
<path d="M220.2,354.3 222.5,345.6 214.7,335.9 212.3,339.2z" class="g0"/><path d="M220.2,354.3 222.5,345.6M212.3,339.2 214.7,335.9M220.2,354.3 212.3,339.2M222.5,345.6 214.7,335.9" class="l"/>
<path d="M229.6,340.4 231.9,340.3 224.1,333.7 221.8,333.8z" class="g1c"/><path d="M229.6,340.4 231.9,340.3M221.8,333.8 224.1,333.7M229.6,340.4 221.8,333.8M231.9,340.3 224.1,333.7" class="l"/>
<path d="M287.6,198 289.9,205.4 282.1,200.7 279.8,189.8z" class="g8c"/><path d="M287.6,198 289.9,205.4M279.8,189.8 282.1,200.7M289.9,205.4 282.1,200.7" class="l"/>
<path d="M208.4,359.3 210.8,361.8 202.9,342.2 200.6,341.3z" class="g0"/><path d="M208.4,359.3 210.8,361.8M200.6,341.3 202.9,342.2M208.4,359.3 200.6,341.3M210.8,361.8 202.9,342.2" class="l"/>
<path d="M227.2,340.5 229.6,340.4 221.8,333.8 219.4,333.9z" class="g1c"/><path d="M227.2,340.5 229.6,340.4M219.4,333.9 221.8,333.8M227.2,340.5 219.4,333.9M229.6,340.4 221.8,333.8" class="l"/>
<path d="M323.6,264.6 326,269.2 318.2,273.3 315.8,269z" class="gf0"/><path d="M323.6,264.6 326,269.2M315.8,269 318.2,273.3M326,269.2 318.2,273.3" class="l"/>
<path d="M222.5,345.6 224.9,341.1 217,334.1 214.7,335.9z" class="g10"/><path d="M222.5,345.6 224.9,341.1M214.7,335.9 217,334.1M222.5,345.6 214.7,335.9M224.9,341.1 217,334.1" class="l"/>
<path d="M224.9,341.1 227.2,340.5 219.4,333.9 217,334.1z" class="g10"/><path d="M224.9,341.1 227.2,340.5M217,334.1 219.4,333.9M224.9,341.1 217,334.1M227.2,340.5 219.4,333.9" class="l"/>
<path d="M239,333.7 241.3,290.7 233.5,333.4 231.2,333.5z" class="g1c"/><path d="M239,333.7 241.3,290.7M231.2,333.5 233.5,333.4M239,333.7 231.2,333.5M241.3,290.7 233.5,333.4" class="l"/>
<path d="M321.3,260 323.6,264.6 315.8,269 313.5,265.2z" class="gf0"/><path d="M321.3,260 323.6,264.6M313.5,265.2 315.8,269M321.3,260 313.5,265.2" class="l"/>
<path d="M285.2,190.6 287.6,198 279.8,189.8 277.4,179.5z" class="g8c"/><path d="M285.2,190.6 287.6,198M277.4,179.5 279.8,189.8M285.2,190.6 277.4,179.5" class="l"/>
<path d="M318.9,256 321.3,260 313.5,265.2 311.1,261.4z" class="gf8"/><path d="M318.9,256 321.3,260M311.1,261.4 313.5,265.2M321.3,260 313.5,265.2" class="l"/>
<path d="M254.7,174.6 257,163.1 249.2,227.3 246.9,254.3z" class="g80"/><path d="M254.7,174.6 257,163.1M246.9,254.3 249.2,227.3M254.7,174.6 246.9,254.3M257,163.1 249.2,227.3" class="l"/>
<path d="M316.6,252.2 318.9,256 311.1,261.4 308.8,257.7z" class="gf8"/><path d="M316.6,252.2 318.9,256M308.8,257.7 311.1,261.4M316.6,252.2 308.8,257.7" class="l"/>
<path d="M282.9,182.2 285.2,190.6 277.4,179.5 275.1,171.6z" class="g50"/><path d="M282.9,182.2 285.2,190.6M275.1,171.6 277.4,179.5M285.2,190.6 277.4,179.5" class="l"/>
<path d="M314.2,248.3 316.6,252.2 308.8,257.7 306.4,254z" class="gff"/><path d="M314.2,248.3 316.6,252.2M306.4,254 308.8,257.7M316.6,252.2 308.8,257.7" class="l"/>
<path d="M311.9,244.4 314.2,248.3 306.4,254 304.1,249.1z" class="gff"/><path d="M311.9,244.4 314.2,248.3M304.1,249.1 306.4,254M311.9,244.4 304.1,249.1" class="l"/>
<path d="M280.5,170.4 282.9,182.2 275.1,171.6 272.7,166.8z" class="g50"/><path d="M280.5,170.4 282.9,182.2M272.7,166.8 275.1,171.6M280.5,170.4 272.7,166.8" class="l"/>
<path d="M257,163.1 259.4,151.4 251.6,214.6 249.2,227.3z" class="g3c"/><path d="M257,163.1 259.4,151.4M249.2,227.3 251.6,214.6M257,163.1 249.2,227.3M259.4,151.4 251.6,214.6" class="l"/>
<path d="M241.3,290.7 243.7,225.6 235.9,333.3 233.5,333.4z" class="gc0"/><path d="M241.3,290.7 243.7,225.6M233.5,333.4 235.9,333.3M241.3,290.7 233.5,333.4M243.7,225.6 235.9,333.3" class="l"/>
<path d="M309.5,240.5 311.9,244.4 304.1,249.1 301.7,242z" class="gff"/><path d="M309.5,240.5 311.9,244.4M301.7,242 304.1,249.1M311.9,244.4 304.1,249.1" class="l"/>
<path d="M259.4,151.4 261.7,141.7 253.9,205.7 251.6,214.6z" class="g3c"/><path d="M259.4,151.4 261.7,141.7M251.6,214.6 253.9,205.7M259.4,151.4 251.6,214.6M261.7,141.7 253.9,205.7" class="l"/>
<path d="M278.2,158.6 280.5,170.4 272.7,166.8 270.4,164.4z" class="g28"/><path d="M278.2,158.6 280.5,170.4M270.4,164.4 272.7,166.8M280.5,170.4 272.7,166.8" class="l"/>
<path d="M307.2,234.7 309.5,240.5 301.7,242 299.3,234.8z" class="gff"/><path d="M307.2,234.7 309.5,240.5M299.3,234.8 301.7,242M307.2,234.7 299.3,234.8" class="l"/>
<path d="M261.7,141.7 264.1,138.2 256.3,196.3 253.9,205.7z" class="g1c"/><path d="M261.7,141.7 264.1,138.2M253.9,205.7 256.3,196.3M261.7,141.7 253.9,205.7M264.1,138.2 256.3,196.3" class="l"/>
<path d="M275.8,150 278.2,158.6 270.4,164.4 268,163.6z" class="g28"/><path d="M275.8,150 278.2,158.6M268,163.6 270.4,164.4M275.8,150 268,163.6" class="l"/>
<path d="M264.1,138.2 266.4,136 258.6,186.3 256.3,196.3z" class="g1c"/><path d="M264.1,138.2 266.4,136M256.3,196.3 258.6,186.3M264.1,138.2 256.3,196.3M266.4,136 258.6,186.3" class="l"/>
<path d="M273.5,142.7 275.8,150 268,163.6 265.7,165.1z" class="g18"/><path d="M273.5,142.7 275.8,150M265.7,165.1 268,163.6M275.8,150 268,163.6" class="l"/>
<path d="M304.8,227.1 307.2,234.7 299.3,234.8 297,227.5z" class="gd0"/><path d="M304.8,227.1 307.2,234.7M297,227.5 299.3,234.8M307.2,234.7 299.3,234.8" class="l"/>
<path d="M266.4,136 268.8,137.3 261,176.7 258.6,186.3z" class="g14"/><path d="M266.4,136 268.8,137.3M258.6,186.3 261,176.7M266.4,136 258.6,186.3M268.8,137.3 261,176.7" class="l"/>
<path d="M271.1,139.3 273.5,142.7 265.7,165.1 263.3,169z" class="g18"/><path d="M271.1,139.3 273.5,142.7M263.3,169 265.7,165.1M271.1,139.3 263.3,169" class="l"/>
<path d="M268.8,137.3 271.1,139.3 263.3,169 261,176.7z" class="g14"/><path d="M268.8,137.3 271.1,139.3M261,176.7 263.3,169M268.8,137.3 261,176.7M271.1,139.3 263.3,169" class="l"/>
<path d="M243.7,225.6 246,188 238.2,332.8 235.9,333.3z" class="gc0"/><path d="M243.7,225.6 246,188M235.9,333.3 238.2,332.8M243.7,225.6 235.9,333.3M246,188 238.2,332.8" class="l"/>
<path d="M302.5,219.6 304.8,227.1 297,227.5 294.6,220.2z" class="gd0"/><path d="M302.5,219.6 304.8,227.1M294.6,220.2 297,227.5M302.5,219.6 294.6,220.2" class="l"/>
<path d="M246,188 248.4,174.5 240.6,326.1 238.2,332.8z" class="g88"/><path d="M246,188 248.4,174.5M238.2,332.8 240.6,326.1M246,188 238.2,332.8M248.4,174.5 240.6,326.1" class="l"/>
<path d="M300.1,212 302.5,219.6 294.6,220.2 292.3,212.8z" class="ga0"/><path d="M300.1,212 302.5,219.6M292.3,212.8 294.6,220.2M302.5,219.6 294.6,220.2" class="l"/>
<path d="M297.8,204.4 300.1,212 292.3,212.8 289.9,205.4z" class="ga0"/><path d="M297.8,204.4 300.1,212M289.9,205.4 292.3,212.8M297.8,204.4 289.9,205.4" class="l"/>
<path d="M248.4,174.5 250.7,159.7 242.9,293.1 240.6,326.1z" class="g88"/><path d="M248.4,174.5 250.7,159.7M240.6,326.1 242.9,293.1M248.4,174.5 240.6,326.1M250.7,159.7 242.9,293.1" class="l"/>
<path d="M295.4,196.7 297.8,204.4 289.9,205.4 287.6,198z" class="g74"/><path d="M295.4,196.7 297.8,204.4M287.6,198 289.9,205.4M297.8,204.4 289.9,205.4" class="l"/>
<path d="M293.1,189 295.4,196.7 287.6,198 285.2,190.6z" class="g74"/><path d="M293.1,189 295.4,196.7M285.2,190.6 287.6,198M293.1,189 285.2,190.6" class="l"/>
<path d="M290.7,181.3 293.1,189 285.2,190.6 282.9,182.2z" class="g44"/><path d="M290.7,181.3 293.1,189M282.9,182.2 285.2,190.6M293.1,189 285.2,190.6" class="l"/>
<path d="M250.7,159.7 253.1,146.7 245.3,241.3 242.9,293.1z" class="g2c"/><path d="M250.7,159.7 253.1,146.7M242.9,293.1 245.3,241.3M250.7,159.7 242.9,293.1M253.1,146.7 245.3,241.3" class="l"/>
<path d="M288.3,173.6 290.7,181.3 282.9,182.2 280.5,170.4z" class="g44"/><path d="M288.3,173.6 290.7,181.3M280.5,170.4 282.9,182.2M288.3,173.6 280.5,170.4" class="l"/>
<path d="M286,165.9 288.3,173.6 280.5,170.4 278.2,158.6z" class="g28"/><path d="M286,165.9 288.3,173.6M278.2,158.6 280.5,170.4M288.3,173.6 280.5,170.4" class="l"/>
<path d="M253.1,146.7 255.4,133 247.6,208.6 245.3,241.3z" class="g2c"/><path d="M253.1,146.7 255.4,133M245.3,241.3 247.6,208.6M253.1,146.7 245.3,241.3M255.4,133 247.6,208.6" class="l"/>
<path d="M283.6,157.8 286,165.9 278.2,158.6 275.8,150z" class="g28"/><path d="M283.6,157.8 286,165.9M275.8,150 278.2,158.6M283.6,157.8 275.8,150" class="l"/>
<path d="M281.3,145.1 283.6,157.8 275.8,150 273.5,142.7z" class="g10"/><path d="M281.3,145.1 283.6,157.8M273.5,142.7 275.8,150M283.6,157.8 275.8,150" class="l"/>
<path d="M255.4,133 257.8,119.1 250,197.3 247.6,208.6z" class="g10"/><path d="M255.4,133 257.8,119.1M247.6,208.6 250,197.3M255.4,133 247.6,208.6M257.8,119.1 250,197.3" class="l"/>
<path d="M278.9,132.4 281.3,145.1 273.5,142.7 271.1,139.3z" class="g10"/><path d="M278.9,132.4 281.3,145.1M271.1,139.3 273.5,142.7M278.9,132.4 271.1,139.3" class="l"/>
<path d="M257.8,119.1 260.1,107.3 252.3,185.7 250,197.3z" class="g10"/><path d="M257.8,119.1 260.1,107.3M250,197.3 252.3,185.7M257.8,119.1 250,197.3M260.1,107.3 252.3,185.7" class="l"/>
<path d="M276.6,122.2 278.9,132.4 271.1,139.3 268.8,137.3z" class="g10"/><path d="M276.6,122.2 278.9,132.4M268.8,137.3 271.1,139.3M278.9,132.4 271.1,139.3" class="l"/>
<path d="M260.1,107.3 262.5,104 254.7,174.6 252.3,185.7z" class="g10"/><path d="M260.1,107.3 262.5,104M252.3,185.7 254.7,174.6M260.1,107.3 252.3,185.7M262.5,104 254.7,174.6" class="l"/>
<path d="M262.5,104 264.8,100.8 257,163.1 254.7,174.6z" class="g10"/><path d="M262.5,104 264.8,100.8M254.7,174.6 257,163.1M262.5,104 254.7,174.6M264.8,100.8 257,163.1" class="l"/>
<path d="M274.2,114.1 276.6,122.2 268.8,137.3 266.4,136z" class="g10"/><path d="M274.2,114.1 276.6,122.2M266.4,136 268.8,137.3M274.2,114.1 266.4,136" class="l"/>
<path d="M264.8,100.8 267.2,102.9 259.4,151.4 257,163.1z" class="g10"/><path d="M264.8,100.8 267.2,102.9M257,163.1 259.4,151.4M264.8,100.8 257,163.1M267.2,102.9 259.4,151.4" class="l"/>
<path d="M271.9,107.2 274.2,114.1 266.4,136 264.1,138.2z" class="g10"/><path d="M271.9,107.2 274.2,114.1M264.1,138.2 266.4,136M274.2,114.1 266.4,136" class="l"/>
<path d="M267.2,102.9 269.5,105 261.7,141.7 259.4,151.4z" class="g10"/><path d="M267.2,102.9 269.5,105M259.4,151.4 261.7,141.7M267.2,102.9 259.4,151.4M269.5,105 261.7,141.7" class="l"/>
<path d="M269.5,105 271.9,107.2 264.1,138.2 261.7,141.7z" class="g10"/><path d="M269.5,105 271.9,107.2M261.7,141.7 264.1,138.2M269.5,105 261.7,141.7" class="l"/>
</g>
<g stroke="#000" stroke-linecap="butt">
<polyline points="103.2,26.5 103.2,355.5 208.4,444.9 634.3,431.2" fill="none" stroke-width="1.8" stroke-linejoin="miter"/>
<line x1="103.2" y1="27.2" x2="115.2" y2="24" stroke-width="1.5"/>
<line x1="103.2" y1="66.8" x2="115.7" y2="62.6" stroke-width="1.5"/>
<line x1="103.2" y1="108.1" x2="116.7" y2="103.6" stroke-width="1.5"/>
<line x1="103.2" y1="148.2" x2="116.2" y2="143.7" stroke-width="1.5"/>
<line x1="103.2" y1="191.3" x2="118" y2="188.9" stroke-width="1.5"/>
<line x1="103.2" y1="231.8" x2="117.5" y2="228.5" stroke-width="1.5"/>
<line x1="103.2" y1="272.7" x2="117.5" y2="271.3" stroke-width="1.5"/>
<line x1="103.2" y1="313.4" x2="117.7" y2="312.6" stroke-width="1.5"/>
<line x1="122.5" y1="371.9" x2="135.8" y2="371.6" stroke-width="1.5"/>
<line x1="151.3" y1="397" x2="165.3" y2="396.7" stroke-width="1.5"/>
<line x1="182.2" y1="421.1" x2="196.8" y2="420.8" stroke-width="1.5"/>
<line x1="263.1" y1="442.9" x2="251.1" y2="434.9" stroke-width="1.5"/>
<line x1="317" y1="441.2" x2="305.3" y2="433.1" stroke-width="1.5"/>
<line x1="369.8" y1="439.6" x2="358.4" y2="431.3" stroke-width="1.5"/>
<line x1="422.9" y1="438" x2="411.8" y2="429.6" stroke-width="1.5"/>
<line x1="475.3" y1="436.3" x2="464.4" y2="427.7" stroke-width="1.5"/>
<line x1="528" y1="434.6" x2="517.4" y2="425.9" stroke-width="1.5"/>
<line x1="582.3" y1="432.9" x2="572" y2="424" stroke-width="1.5"/>
<line x1="634.3" y1="431.2" x2="624.3" y2="422.2" stroke-width="1.5"/>
</g>
<g>
<text transform="translate(89.3,24) scale(1.145,1)" text-anchor="end" font-size="20.6">600</text>
<text transform="translate(89.3,65) scale(1.145,1)" text-anchor="end" font-size="20.6">500</text>
<text transform="translate(89.3,106.7) scale(1.145,1)" text-anchor="end" font-size="20.6">400</text>
<text transform="translate(89.3,148.4) scale(1.145,1)" text-anchor="end" font-size="20.6">300</text>
<text transform="translate(89.3,189.7) scale(1.145,1)" text-anchor="end" font-size="20.6">200</text>
<text transform="translate(89.3,231.3) scale(1.145,1)" text-anchor="end" font-size="20.6">100</text>
<text transform="translate(89.3,272.7) scale(1.145,1)" text-anchor="end" font-size="20.6">0</text>
<text transform="translate(89.3,314) scale(1.145,1)" text-anchor="end" font-size="20.6">−100</text>
<text transform="translate(94.5,383.8) scale(1.145,1)" text-anchor="middle" font-size="20.6">1.2</text>
<text transform="translate(121.7,410.4) scale(1.145,1)" text-anchor="middle" font-size="20.6">0.8</text>
<text transform="translate(149.6,433.7) scale(1.145,1)" text-anchor="middle" font-size="20.6">0.4</text>
<text transform="translate(186,458.4) scale(1.145,1)" text-anchor="middle" font-size="20.6">0</text>
<text transform="translate(236,476.5) scale(1.145,1)" text-anchor="middle" font-size="20.6">1.6</text>
<text transform="translate(289,476.5) scale(1.145,1)" text-anchor="middle" font-size="20.6">1.7</text>
<text transform="translate(343.8,473) scale(1.145,1)" text-anchor="middle" font-size="20.6">1.8</text>
<text transform="translate(398.7,470) scale(1.145,1)" text-anchor="middle" font-size="20.6">1.9</text>
<text transform="translate(441.5,469.4) scale(1.145,1)" text-anchor="middle" font-size="20.6">2</text>
<text transform="translate(503.1,466.4) scale(1.145,1)" text-anchor="middle" font-size="20.6">2.1</text>
<text transform="translate(556.3,464.6) scale(1.145,1)" text-anchor="middle" font-size="20.6">2.2</text>
<text transform="translate(607.2,463.5) scale(1.145,1)" text-anchor="middle" font-size="20.6">2.3</text>
<text transform="translate(658.4,463.5) scale(1.145,1)" text-anchor="middle" font-size="20.6">2.4</text>
<text transform="translate(34.2,188.5) rotate(-90) scale(1.113,1)" text-anchor="middle" font-size="20"><tspan class="cj">血流量</tspan><tspan font-style="italic">Q</tspan>(mL<tspan class="cj">・</tspan>s<tspan font-size="12.5" dy="-7">−1</tspan><tspan dy="7">)</tspan></text>
<text transform="translate(48.5,411) rotate(60.4) scale(1.145,1)" text-anchor="middle" font-size="20"><tspan class="cj">离心脏距离</tspan><tspan font-style="italic">X</tspan>/m</text>
<text transform="translate(456,502) scale(1.145,1)" text-anchor="middle" font-size="20"><tspan class="cj">时间</tspan><tspan font-style="italic">t</tspan>/s</text>
</g>
</svg>
</body></html>
